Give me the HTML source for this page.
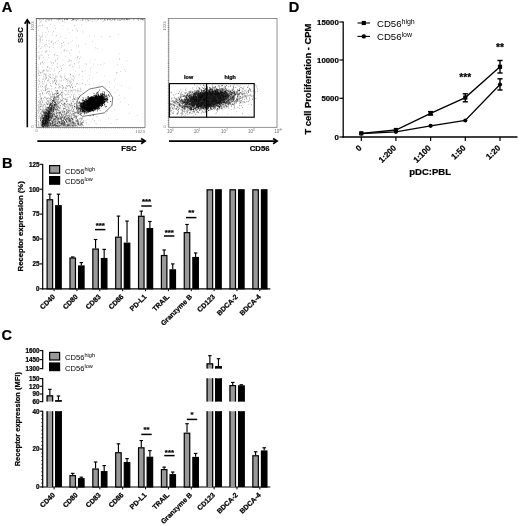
<!DOCTYPE html>
<html><head><meta charset="utf-8"><title>Figure</title>
<style>
html,body{margin:0;padding:0;background:#fff;}
svg{display:block;font-family:"Liberation Sans", Arial, sans-serif;}
</style></head>
<body>
<svg width="520" height="526" viewBox="0 0 520 526">
<rect width="520" height="526" fill="#fff"/>
<text x="1.7" y="12.2" font-size="14.6" font-weight="bold" stroke="#000" stroke-width="0.22" text-anchor="start" fill="#000">A</text>
<rect x="36.60" y="18.60" width="108.40" height="108.80" fill="none" stroke="#6e6e6e" stroke-width="0.75"/>
<line x1="36.1" y1="18.6" x2="36.1" y2="127.4" stroke="#6a6a6a" stroke-width="1.2" stroke-dasharray="0.55 1.57"/>
<line x1="36.6" y1="127.9" x2="145.0" y2="127.9" stroke="#6a6a6a" stroke-width="1.2" stroke-dasharray="0.55 1.57"/>
<line x1="36.6" y1="18.6" x2="145.0" y2="18.6" stroke="#666" stroke-width="0.9"/>
<path d="M92.8 103.7h0.8M92.6 99.2h0.8M91.8 105.3h0.8M87.7 104.7h0.8M90.0 103.7h0.8M85.9 102.0h0.8M92.3 101.8h0.8M98.7 98.6h0.8M90.0 104.4h0.8M87.8 101.2h0.8M95.2 102.4h0.8M94.6 102.9h0.8M91.9 100.4h0.8M87.2 104.0h0.8M91.5 101.4h0.8M97.2 104.1h0.8M82.9 100.2h0.8M89.9 103.6h0.8M81.1 103.6h0.8M85.5 105.3h0.8M84.1 109.7h0.8M90.7 102.4h0.8M86.3 106.6h0.8M93.1 100.7h0.8M95.5 107.8h0.8M92.6 106.1h0.8M81.0 111.9h0.8M88.4 101.4h0.8M91.1 100.8h0.8M94.4 105.8h0.8M84.6 106.4h0.8M89.9 103.9h0.8M88.0 106.5h0.8M87.1 102.1h0.8M98.9 102.9h0.8M88.5 105.3h0.8M93.0 104.7h0.8M96.4 99.7h0.8M90.2 106.0h0.8M91.3 101.9h0.8M94.2 105.5h0.8M94.2 106.0h0.8M87.3 108.4h0.8M93.6 104.5h0.8M100.2 101.9h0.8M81.7 100.2h0.8M97.9 103.5h0.8M92.9 102.5h0.8M89.4 105.1h0.8M102.5 98.1h0.8M95.0 98.2h0.8M85.9 104.8h0.8M93.7 104.9h0.8M97.1 105.6h0.8M91.0 102.3h0.8M95.1 99.6h0.8M93.9 107.1h0.8M95.0 99.7h0.8M102.2 105.2h0.8M89.2 105.1h0.8M92.7 100.8h0.8M91.3 106.9h0.8M95.1 107.3h0.8M85.0 102.6h0.8M91.3 108.6h0.8M91.3 103.2h0.8M98.8 105.0h0.8M98.0 99.9h0.8M84.1 102.5h0.8M89.1 106.4h0.8M96.9 104.2h0.8M84.7 113.1h0.8M92.1 108.7h0.8M92.9 105.3h0.8M98.8 100.0h0.8M95.6 100.5h0.8M90.6 103.4h0.8M89.8 102.2h0.8M91.0 103.3h0.8M97.6 93.7h0.8M90.6 104.8h0.8M91.0 104.0h0.8M97.2 108.9h0.8M92.8 105.5h0.8M91.1 102.7h0.8M87.5 107.3h0.8M91.2 100.4h0.8M89.7 102.9h0.8M96.5 96.1h0.8M97.5 105.5h0.8M93.1 104.9h0.8M94.7 99.0h0.8M90.8 104.0h0.8M99.0 103.3h0.8M93.1 104.6h0.8M96.0 103.0h0.8M85.1 104.2h0.8M93.7 101.0h0.8M84.1 107.5h0.8M83.2 110.3h0.8M90.1 102.0h0.8M86.8 102.7h0.8M94.7 105.8h0.8M103.1 96.0h0.8M89.5 108.0h0.8M89.7 105.4h0.8M94.6 105.1h0.8M97.0 106.6h0.8M92.5 105.5h0.8M92.4 105.8h0.8M95.2 99.5h0.8M94.5 100.5h0.8M88.0 107.3h0.8M93.9 107.4h0.8M94.3 106.8h0.8M89.7 111.5h0.8M94.3 103.6h0.8M88.4 105.9h0.8M98.7 103.7h0.8M93.6 103.0h0.8M93.0 103.0h0.8M88.4 102.2h0.8M93.1 106.1h0.8M81.2 105.3h0.8M87.4 107.2h0.8M92.9 99.1h0.8M82.9 111.0h0.8M95.8 98.9h0.8M84.6 109.5h0.8M94.7 97.8h0.8M87.8 104.2h0.8M97.9 104.5h0.8M92.4 101.1h0.8M84.8 107.1h0.8M98.5 99.4h0.8M97.4 94.4h0.8M92.6 104.3h0.8M91.7 105.1h0.8M90.6 101.0h0.8M88.2 107.0h0.8M97.3 98.9h0.8M88.7 102.2h0.8M92.3 103.5h0.8M87.8 103.5h0.8M91.9 110.5h0.8M84.4 102.5h0.8M99.8 102.4h0.8M92.9 106.2h0.8M95.4 96.3h0.8M90.8 99.1h0.8M89.7 106.4h0.8M90.4 103.0h0.8M90.2 105.6h0.8M93.9 106.2h0.8M90.3 103.3h0.8M89.9 101.5h0.8M82.5 99.8h0.8M88.7 105.7h0.8M100.0 97.3h0.8M89.5 105.7h0.8M87.5 106.4h0.8M92.8 99.2h0.8M101.7 104.4h0.8M86.4 109.4h0.8M92.5 106.0h0.8M88.1 101.9h0.8M83.1 106.4h0.8M95.8 100.4h0.8M92.0 102.4h0.8M91.7 100.5h0.8M89.2 106.2h0.8M95.2 102.9h0.8M90.2 105.5h0.8M91.3 102.5h0.8M88.3 109.1h0.8M86.6 106.6h0.8M96.4 93.6h0.8M89.3 103.0h0.8M94.0 102.6h0.8M93.5 105.9h0.8M90.0 103.7h0.8M89.7 103.9h0.8M95.1 100.3h0.8M91.8 105.7h0.8M91.3 102.6h0.8M92.1 101.9h0.8M97.8 98.9h0.8M96.7 103.2h0.8M94.0 101.2h0.8M87.9 100.5h0.8M86.2 108.1h0.8M96.7 99.5h0.8M97.9 102.1h0.8M92.3 104.6h0.8M96.7 105.1h0.8M97.7 104.2h0.8M96.2 100.1h0.8M97.1 100.9h0.8M88.9 101.3h0.8M102.2 104.1h0.8M86.7 107.3h0.8M98.5 104.9h0.8M94.8 101.5h0.8M94.8 96.4h0.8M103.9 102.9h0.8M100.3 100.2h0.8M86.9 106.3h0.8M84.0 107.4h0.8M97.5 103.1h0.8M88.0 107.0h0.8M90.8 99.5h0.8M98.1 104.2h0.8M83.6 105.8h0.8M81.3 107.1h0.8M95.8 107.1h0.8M93.8 105.6h0.8M91.0 103.1h0.8M90.8 98.7h0.8M88.4 105.8h0.8M85.4 108.2h0.8M91.7 103.6h0.8M86.3 102.5h0.8M83.3 105.2h0.8M93.8 99.2h0.8M92.5 104.1h0.8M95.6 104.5h0.8M88.7 108.2h0.8M88.4 103.1h0.8M87.7 106.3h0.8M88.7 106.8h0.8M93.0 101.7h0.8M88.4 104.8h0.8M96.8 107.8h0.8M94.6 103.1h0.8M103.9 101.0h0.8M85.0 105.5h0.8M97.2 101.5h0.8M90.3 99.4h0.8M92.5 103.4h0.8M86.5 109.6h0.8M92.6 109.6h0.8M97.7 104.7h0.8M92.9 105.3h0.8M93.1 103.3h0.8M90.5 102.6h0.8M98.3 100.4h0.8M93.2 105.0h0.8M80.5 106.5h0.8M90.1 107.3h0.8M81.4 105.5h0.8M74.0 106.4h0.8M88.8 102.1h0.8M97.6 96.3h0.8M91.3 99.9h0.8M87.8 108.9h0.8M87.6 105.0h0.8M98.6 101.4h0.8M94.7 105.9h0.8M94.2 106.4h0.8M91.8 102.3h0.8M94.3 106.6h0.8M97.1 102.5h0.8M95.4 102.1h0.8M94.2 104.0h0.8M85.7 102.3h0.8M94.4 100.3h0.8M89.0 104.7h0.8M98.9 102.4h0.8M85.7 105.4h0.8M91.8 103.4h0.8M93.6 105.8h0.8M87.4 109.9h0.8M102.3 101.4h0.8M101.5 103.2h0.8M89.8 103.5h0.8M96.2 100.9h0.8M94.9 103.3h0.8M78.9 108.6h0.8M93.3 101.6h0.8M94.1 107.6h0.8M92.8 102.7h0.8M86.0 103.5h0.8M91.8 105.2h0.8M93.7 108.3h0.8M98.8 100.9h0.8M95.7 105.7h0.8M92.1 102.3h0.8M99.9 98.7h0.8M89.0 103.0h0.8M90.5 103.9h0.8M85.3 112.1h0.8M99.4 97.0h0.8M99.3 105.2h0.8M96.2 98.8h0.8M95.8 101.3h0.8M94.1 105.2h0.8M94.4 104.5h0.8M91.6 104.7h0.8M89.7 99.8h0.8M93.3 104.2h0.8M99.2 97.4h0.8M98.3 108.5h0.8M92.1 103.0h0.8M89.8 105.2h0.8M88.1 102.0h0.8M100.3 98.6h0.8M93.8 99.1h0.8M94.0 105.7h0.8M90.5 103.5h0.8M87.5 107.3h0.8M91.5 101.9h0.8M96.5 100.2h0.8M92.0 107.5h0.8M90.4 101.5h0.8M89.5 99.5h0.8M93.6 104.2h0.8M83.2 104.2h0.8M90.9 102.9h0.8M89.2 107.6h0.8M96.2 99.4h0.8M89.6 107.3h0.8M94.8 100.4h0.8M102.0 103.6h0.8M92.5 107.4h0.8M89.0 103.6h0.8M93.3 102.4h0.8M91.7 101.4h0.8M87.7 106.2h0.8M96.2 105.2h0.8M101.3 95.2h0.8M92.3 106.3h0.8M90.1 100.6h0.8M86.3 103.7h0.8M92.3 98.3h0.8M88.5 111.4h0.8M87.0 106.1h0.8M99.4 101.1h0.8M87.2 103.8h0.8M99.3 103.6h0.8M98.1 94.7h0.8M94.0 102.9h0.8M97.9 107.6h0.8M102.2 98.0h0.8M91.6 103.9h0.8M90.3 106.4h0.8M84.8 104.5h0.8M92.8 103.4h0.8M101.2 102.4h0.8M97.7 101.7h0.8M88.2 106.5h0.8M87.8 104.5h0.8M90.4 105.3h0.8M94.2 102.9h0.8M93.1 107.5h0.8M94.5 104.7h0.8M93.9 102.1h0.8M88.4 98.0h0.8M93.2 105.3h0.8M94.5 104.8h0.8M91.2 101.3h0.8M93.0 97.3h0.8M100.9 96.3h0.8M96.6 104.3h0.8M91.7 100.6h0.8M83.5 106.1h0.8M94.8 103.1h0.8M84.0 110.9h0.8M85.4 106.6h0.8M96.9 101.2h0.8M95.6 100.4h0.8M93.6 107.8h0.8M85.0 109.9h0.8M90.6 104.0h0.8M87.6 101.5h0.8M95.0 100.0h0.8M104.8 99.7h0.8M92.9 101.1h0.8M89.6 107.4h0.8M87.0 107.0h0.8M92.6 104.2h0.8M92.4 105.4h0.8M87.3 107.3h0.8M92.3 101.0h0.8M86.4 105.2h0.8M100.9 106.6h0.8M96.7 98.0h0.8M97.6 99.8h0.8M91.3 107.1h0.8M95.1 101.8h0.8M91.0 101.7h0.8M89.2 101.0h0.8M91.5 105.5h0.8M87.1 108.9h0.8M86.8 110.1h0.8M96.7 101.7h0.8M92.8 106.4h0.8M92.6 100.4h0.8M97.9 101.5h0.8M83.0 105.7h0.8M88.8 105.6h0.8M94.3 104.9h0.8M95.8 105.1h0.8M89.6 101.8h0.8M99.3 104.2h0.8M93.2 101.8h0.8M85.3 103.6h0.8M87.7 105.1h0.8M95.1 98.0h0.8M95.0 102.4h0.8M83.2 108.4h0.8M99.3 99.8h0.8M96.2 103.4h0.8M99.1 99.6h0.8M90.6 104.3h0.8M89.5 100.5h0.8M86.9 106.1h0.8M104.6 95.5h0.8M91.2 102.7h0.8M100.6 99.6h0.8M89.5 105.3h0.8M91.6 99.0h0.8M82.3 103.4h0.8M90.3 103.5h0.8M98.2 102.3h0.8M86.6 107.1h0.8M99.1 103.2h0.8M95.8 105.8h0.8M87.8 107.0h0.8M90.0 104.5h0.8M89.1 101.9h0.8M91.3 101.2h0.8M89.3 103.5h0.8M88.7 105.9h0.8M91.3 104.6h0.8M87.4 105.7h0.8M85.8 106.0h0.8M93.0 105.1h0.8M97.3 101.9h0.8M85.1 107.6h0.8M93.0 104.2h0.8M88.7 103.5h0.8M86.5 103.1h0.8M97.5 102.7h0.8M90.4 105.6h0.8M100.0 99.4h0.8M88.2 104.2h0.8M97.1 108.1h0.8M90.6 102.0h0.8M88.5 104.6h0.8M95.9 102.7h0.8M90.5 100.9h0.8M95.8 102.3h0.8M94.3 107.9h0.8M88.1 108.2h0.8M92.8 105.2h0.8M93.5 104.7h0.8M97.6 101.5h0.8M89.0 107.8h0.8M92.2 103.1h0.8M83.3 106.3h0.8M96.0 102.2h0.8M88.1 108.1h0.8M83.7 108.3h0.8M93.0 105.2h0.8M96.0 95.9h0.8M86.1 109.8h0.8M89.6 111.7h0.8M90.3 108.4h0.8M86.5 105.2h0.8M93.6 100.4h0.8M88.8 105.9h0.8M87.8 102.6h0.8M96.4 103.9h0.8M88.2 103.8h0.8M95.9 104.8h0.8M89.1 109.0h0.8M84.2 101.1h0.8M83.5 108.3h0.8M101.4 97.4h0.8M89.4 100.7h0.8M93.2 101.3h0.8M92.2 102.9h0.8M94.6 105.6h0.8M91.2 99.5h0.8M103.5 101.6h0.8M89.5 110.7h0.8M85.3 108.4h0.8M88.0 107.1h0.8M85.8 106.4h0.8M95.1 98.8h0.8M97.4 102.9h0.8M88.1 106.5h0.8M86.3 108.4h0.8M93.6 110.5h0.8M100.5 102.0h0.8M78.6 110.9h0.8M97.0 106.1h0.8M85.6 102.5h0.8M96.7 98.2h0.8M86.7 104.9h0.8M90.4 102.4h0.8M85.7 108.5h0.8M87.3 104.8h0.8M101.6 104.5h0.8M98.5 105.3h0.8M91.4 106.2h0.8M87.7 104.4h0.8M83.6 109.2h0.8M91.5 106.3h0.8M91.3 100.8h0.8M92.6 104.5h0.8M92.9 105.4h0.8M87.1 106.5h0.8M94.0 107.4h0.8M93.7 106.5h0.8M98.3 98.4h0.8M102.3 99.5h0.8M91.0 101.7h0.8M89.3 106.6h0.8M91.3 101.4h0.8M90.5 107.1h0.8M89.2 106.0h0.8M93.4 105.9h0.8M87.1 105.4h0.8M94.1 98.4h0.8M94.0 108.0h0.8M93.7 102.4h0.8M93.2 107.2h0.8M89.4 106.1h0.8M88.5 107.2h0.8M93.4 108.5h0.8M90.2 105.5h0.8M95.3 106.3h0.8M90.9 99.7h0.8M86.6 108.7h0.8M92.7 102.7h0.8M85.6 106.1h0.8M89.5 104.8h0.8M91.5 104.9h0.8M83.8 112.2h0.8M91.0 98.6h0.8M93.4 103.2h0.8M91.0 102.0h0.8M91.7 107.2h0.8M90.2 103.2h0.8M88.1 106.8h0.8M90.8 103.0h0.8M90.5 106.3h0.8M94.2 105.7h0.8M86.0 105.2h0.8M93.9 103.0h0.8M91.8 99.6h0.8M92.2 104.5h0.8M91.3 106.5h0.8M94.8 100.8h0.8M85.3 110.0h0.8M92.7 97.2h0.8M91.8 98.3h0.8M92.5 99.3h0.8M94.0 101.3h0.8M89.3 104.9h0.8M91.2 103.8h0.8M95.8 101.8h0.8M95.6 104.2h0.8M93.1 101.8h0.8M83.5 103.7h0.8M94.0 99.1h0.8M100.9 105.9h0.8M95.2 95.3h0.8M93.6 102.4h0.8M86.2 110.5h0.8M98.0 102.4h0.8M90.9 101.7h0.8M79.6 109.2h0.8M95.5 104.7h0.8M86.3 109.8h0.8M85.0 104.1h0.8M90.2 106.7h0.8M99.4 101.1h0.8M91.9 107.0h0.8M95.5 106.2h0.8M101.2 98.6h0.8M99.2 96.2h0.8M92.5 104.6h0.8M93.3 108.3h0.8M86.9 108.0h0.8M89.3 105.5h0.8M97.4 108.4h0.8M93.5 99.9h0.8M94.2 105.4h0.8M97.1 99.7h0.8M88.7 105.3h0.8M92.4 103.7h0.8M98.0 105.5h0.8M94.6 99.8h0.8M97.5 99.6h0.8M92.9 98.6h0.8M91.6 105.3h0.8M93.9 101.4h0.8M87.9 106.7h0.8M83.0 104.5h0.8M95.2 101.2h0.8M93.5 106.1h0.8M94.0 102.3h0.8M84.6 108.8h0.8M91.3 105.5h0.8M89.1 103.9h0.8M86.5 101.5h0.8M82.1 111.0h0.8M91.1 104.6h0.8M98.3 103.8h0.8M92.3 97.6h0.8M87.7 100.7h0.8M90.2 98.1h0.8M95.5 99.5h0.8M79.6 112.3h0.8M92.6 105.1h0.8M95.3 102.1h0.8M96.2 102.2h0.8M102.1 101.4h0.8M98.1 100.1h0.8M94.6 103.7h0.8M94.3 103.1h0.8M94.2 96.2h0.8M89.4 103.7h0.8M93.9 106.8h0.8M96.8 100.4h0.8M102.5 98.6h0.8M91.1 102.3h0.8M91.8 102.3h0.8M94.8 105.7h0.8M99.2 99.7h0.8M91.3 100.9h0.8M96.7 92.4h0.8M87.0 104.2h0.8M89.5 99.0h0.8M89.6 99.4h0.8M97.5 103.6h0.8M98.7 102.8h0.8M82.8 102.1h0.8M88.9 107.6h0.8M94.8 103.8h0.8M88.4 103.0h0.8M85.6 108.7h0.8M96.1 97.0h0.8M93.8 99.3h0.8M93.5 98.7h0.8M88.9 101.7h0.8M98.8 103.2h0.8M89.9 100.7h0.8M96.9 98.1h0.8M86.9 103.1h0.8M88.4 105.8h0.8M93.3 102.1h0.8M90.0 107.1h0.8M95.3 100.1h0.8M92.5 99.6h0.8M87.3 104.3h0.8M93.0 103.3h0.8M89.8 101.9h0.8M97.6 102.0h0.8M91.4 109.3h0.8M89.7 102.9h0.8M98.8 100.7h0.8M105.5 101.6h0.8M102.1 97.2h0.8M92.0 101.1h0.8M92.5 100.2h0.8M100.9 100.9h0.8M92.5 104.9h0.8M87.4 105.2h0.8M93.2 103.2h0.8M96.3 105.5h0.8M89.3 107.4h0.8M82.6 103.6h0.8M85.2 106.6h0.8M96.1 102.1h0.8M89.5 106.8h0.8M91.6 103.1h0.8M93.0 101.3h0.8M95.2 100.8h0.8M88.9 99.7h0.8M95.1 102.1h0.8M87.4 103.9h0.8M91.2 105.3h0.8M86.2 103.1h0.8M97.9 99.7h0.8M91.4 101.0h0.8M87.6 102.4h0.8M91.5 105.8h0.8M90.9 102.7h0.8M96.6 102.8h0.8M83.2 104.2h0.8M87.4 105.9h0.8M88.8 100.0h0.8M105.0 96.4h0.8M96.9 99.9h0.8M92.6 105.0h0.8M96.4 102.1h0.8M102.9 98.2h0.8M92.3 105.9h0.8M90.9 104.6h0.8M99.3 101.9h0.8M95.9 104.1h0.8M95.9 101.6h0.8M89.6 103.7h0.8M102.8 99.7h0.8M100.8 98.4h0.8M95.9 103.0h0.8M97.3 104.5h0.8M83.1 110.0h0.8M95.4 100.9h0.8M90.1 100.6h0.8M94.7 102.2h0.8M95.9 101.4h0.8M92.0 106.8h0.8M83.5 106.2h0.8M94.2 101.9h0.8M89.6 106.8h0.8M90.3 102.9h0.8M89.3 104.3h0.8M92.7 108.3h0.8M82.4 112.2h0.8M99.5 102.1h0.8M94.1 103.4h0.8M97.2 98.4h0.8M103.3 100.1h0.8M92.7 103.4h0.8M83.6 107.9h0.8M87.4 104.0h0.8M86.4 106.0h0.8M89.8 104.0h0.8M93.3 103.9h0.8M83.9 111.4h0.8M94.7 103.4h0.8M83.0 102.6h0.8M93.0 100.2h0.8M90.3 99.6h0.8M90.1 102.0h0.8M92.8 104.8h0.8M90.2 105.5h0.8M88.8 103.2h0.8M84.2 107.8h0.8M91.6 101.5h0.8M100.4 95.6h0.8M101.1 95.3h0.8M98.4 98.2h0.8M97.7 105.2h0.8M87.6 101.5h0.8M101.3 103.1h0.8M93.7 106.7h0.8M92.0 103.0h0.8M91.0 103.8h0.8M92.3 101.6h0.8M90.3 104.2h0.8M92.8 105.1h0.8M87.0 105.8h0.8M91.7 106.6h0.8M105.5 101.0h0.8M92.6 104.3h0.8M91.7 104.6h0.8M95.2 101.9h0.8M96.5 102.5h0.8M85.6 103.1h0.8M91.9 104.7h0.8M97.5 101.7h0.8M93.0 100.5h0.8M95.5 108.3h0.8M99.4 97.3h0.8M88.1 102.7h0.8M93.3 103.8h0.8M87.8 99.7h0.8M99.3 97.9h0.8M80.9 104.0h0.8M88.1 102.4h0.8M89.7 104.1h0.8M96.3 102.5h0.8M96.9 104.6h0.8M100.6 102.1h0.8M85.8 109.8h0.8M97.0 103.0h0.8M90.5 102.8h0.8M90.4 107.5h0.8M94.8 100.8h0.8M87.2 103.9h0.8M83.6 111.8h0.8M91.5 106.1h0.8M85.1 107.2h0.8M90.0 106.6h0.8M95.4 104.6h0.8M92.6 99.2h0.8M100.6 99.4h0.8M90.2 100.8h0.8M84.8 107.1h0.8M87.9 103.3h0.8M89.3 108.7h0.8M86.9 107.3h0.8M93.9 100.3h0.8M89.2 104.7h0.8M81.1 104.8h0.8M96.1 101.8h0.8M92.6 104.9h0.8M94.7 103.1h0.8M91.0 98.3h0.8M95.4 101.0h0.8M93.3 104.4h0.8M99.2 101.2h0.8M96.0 105.2h0.8M93.1 99.2h0.8M95.2 103.6h0.8M84.4 105.0h0.8M91.9 104.1h0.8M91.7 104.9h0.8M94.4 104.5h0.8M85.0 104.9h0.8M101.1 100.0h0.8M91.8 100.1h0.8M84.8 102.5h0.8M84.4 108.5h0.8M91.0 103.8h0.8M90.3 99.5h0.8M87.9 102.8h0.8M93.0 103.1h0.8M91.0 108.6h0.8M96.5 104.6h0.8M89.7 106.9h0.8M90.4 98.9h0.8M97.4 100.8h0.8M106.2 98.6h0.8M87.8 106.5h0.8M90.6 105.3h0.8M88.0 104.6h0.8M98.5 105.8h0.8M88.3 109.5h0.8M90.0 104.1h0.8M91.3 100.9h0.8M89.8 110.5h0.8M87.0 104.1h0.8M91.4 107.3h0.8M83.9 112.7h0.8M84.1 104.2h0.8M90.7 104.9h0.8M92.9 102.1h0.8M92.2 104.9h0.8M83.8 108.1h0.8M92.3 109.1h0.8M97.3 102.9h0.8M95.4 102.0h0.8M93.4 106.2h0.8M87.7 104.6h0.8M95.4 100.9h0.8M92.0 110.1h0.8M85.7 103.9h0.8M87.9 103.9h0.8M100.0 100.1h0.8M92.5 100.1h0.8M96.2 95.4h0.8M91.2 107.0h0.8M96.5 99.2h0.8M88.9 103.3h0.8M91.3 102.7h0.8M104.2 95.2h0.8M95.3 98.9h0.8M90.1 104.8h0.8M94.7 109.4h0.8M95.0 104.3h0.8M99.5 102.3h0.8M88.4 100.7h0.8M83.6 107.2h0.8M89.8 101.0h0.8M93.5 105.1h0.8M92.8 102.4h0.8M99.3 100.3h0.8M94.1 102.3h0.8M96.1 100.0h0.8M85.2 102.0h0.8M97.6 102.7h0.8M101.7 95.1h0.8M95.2 98.6h0.8M93.5 101.9h0.8M92.5 101.2h0.8M102.0 99.8h0.8M88.9 107.9h0.8M92.2 104.1h0.8M95.1 102.7h0.8M96.4 101.6h0.8M91.2 106.4h0.8M92.1 98.0h0.8M91.5 104.8h0.8M92.1 100.7h0.8M90.5 100.5h0.8M86.7 105.9h0.8M92.0 102.3h0.8M97.7 102.7h0.8M88.8 108.2h0.8M88.7 98.1h0.8M95.9 101.6h0.8M89.2 110.5h0.8M94.4 105.0h0.8M88.7 109.2h0.8M98.5 100.9h0.8M102.8 94.4h0.8M101.6 95.9h0.8M92.2 105.5h0.8M97.4 103.9h0.8M92.4 101.2h0.8M92.8 102.4h0.8M100.7 100.4h0.8M83.9 101.9h0.8M97.5 100.0h0.8M94.1 107.4h0.8M102.1 105.4h0.8M93.4 102.6h0.8M91.1 109.3h0.8M93.4 101.3h0.8M95.4 99.6h0.8M90.3 97.7h0.8M96.1 104.5h0.8M89.5 103.5h0.8M84.2 113.9h0.8M97.5 102.0h0.8M96.3 102.1h0.8M91.3 98.5h0.8M94.5 106.8h0.8M97.4 100.0h0.8M90.0 103.9h0.8M86.5 99.4h0.8M92.6 106.0h0.8M99.7 103.0h0.8M84.8 104.9h0.8M98.7 100.8h0.8M89.7 105.7h0.8M88.0 108.1h0.8M99.1 100.6h0.8M93.9 107.7h0.8M85.6 105.6h0.8M90.0 102.6h0.8M96.8 100.0h0.8M95.8 94.3h0.8M89.5 102.2h0.8M95.7 104.8h0.8M96.5 102.3h0.8M88.3 102.7h0.8M94.7 103.3h0.8M90.2 98.4h0.8M89.5 103.8h0.8M90.6 105.7h0.8M93.6 104.8h0.8M91.8 101.3h0.8M90.6 106.8h0.8M92.4 108.8h0.8M97.8 99.7h0.8M94.4 104.6h0.8M95.4 97.4h0.8M96.5 95.7h0.8M96.2 103.4h0.8M104.2 98.2h0.8M88.5 105.6h0.8M96.0 100.0h0.8M90.6 103.3h0.8M102.9 101.0h0.8M103.1 103.6h0.8M82.3 107.2h0.8M85.8 101.4h0.8M97.3 104.9h0.8M97.2 103.0h0.8M97.1 103.3h0.8M92.4 103.9h0.8M97.4 108.0h0.8M96.0 102.0h0.8M92.7 104.7h0.8M95.8 96.4h0.8M80.3 107.0h0.8M95.0 100.1h0.8M87.2 105.6h0.8M97.8 101.9h0.8M90.6 101.9h0.8M89.9 109.6h0.8M93.3 99.8h0.8M87.4 104.2h0.8M88.1 105.9h0.8M83.2 103.8h0.8M93.0 104.7h0.8M95.8 103.7h0.8M97.5 100.2h0.8M93.9 108.3h0.8M98.0 101.1h0.8M92.9 103.9h0.8M91.0 101.1h0.8M93.6 97.8h0.8M97.3 99.3h0.8M90.4 103.3h0.8M90.8 102.7h0.8M92.6 105.5h0.8M90.3 97.2h0.8M86.7 102.5h0.8M95.8 96.4h0.8M92.0 107.5h0.8M94.3 100.8h0.8M87.8 103.9h0.8M93.2 99.7h0.8M95.5 104.6h0.8M89.9 103.2h0.8M103.1 99.2h0.8M92.2 97.4h0.8M102.9 102.1h0.8M97.9 102.1h0.8M89.8 106.1h0.8M91.9 107.2h0.8M94.6 101.8h0.8M92.7 102.7h0.8M93.6 104.9h0.8M91.6 105.0h0.8M83.0 106.8h0.8M91.4 103.9h0.8M80.6 107.1h0.8M95.2 104.2h0.8M89.9 107.2h0.8M88.9 104.9h0.8M93.5 108.4h0.8M92.2 98.9h0.8M85.0 106.0h0.8M85.5 111.5h0.8M86.6 104.7h0.8M80.3 104.0h0.8M89.1 108.9h0.8M101.3 101.0h0.8M85.8 102.7h0.8M96.7 103.7h0.8M84.4 103.9h0.8M92.6 99.3h0.8M90.7 103.6h0.8M91.7 102.2h0.8M94.2 99.3h0.8M101.1 98.4h0.8M92.4 100.4h0.8M93.2 103.1h0.8M87.5 105.4h0.8M96.4 103.8h0.8M90.8 102.7h0.8M95.3 98.1h0.8M90.9 100.1h0.8M101.2 98.7h0.8M84.1 111.6h0.8M92.0 106.1h0.8M96.4 99.7h0.8M91.8 106.4h0.8M87.2 102.2h0.8M92.3 106.4h0.8M85.1 105.5h0.8M94.0 104.9h0.8M105.7 99.3h0.8M98.1 100.0h0.8M87.2 106.6h0.8M86.9 102.6h0.8M90.4 104.0h0.8M98.9 103.7h0.8M92.9 115.3h0.8M89.8 106.6h0.8M97.2 101.5h0.8M95.9 98.8h0.8M91.8 106.8h0.8M85.0 101.7h0.8M83.7 104.8h0.8M89.4 105.8h0.8M79.8 105.4h0.8M98.1 105.4h0.8M90.5 107.4h0.8M94.4 100.8h0.8M101.5 97.7h0.8M97.1 97.4h0.8M85.1 102.4h0.8M97.5 102.4h0.8M99.2 102.2h0.8M89.1 105.9h0.8M88.0 106.1h0.8M91.4 102.1h0.8M84.8 107.8h0.8M98.5 96.3h0.8M80.3 108.8h0.8M88.5 109.5h0.8M92.6 107.2h0.8M90.9 102.7h0.8M93.0 102.1h0.8M95.5 106.1h0.8M93.4 108.2h0.8M96.7 97.0h0.8M81.1 107.1h0.8M92.8 103.9h0.8M90.2 107.9h0.8M92.3 100.9h0.8M94.4 104.4h0.8M87.6 104.6h0.8M91.9 110.6h0.8M97.1 102.5h0.8M94.2 102.2h0.8M88.7 104.0h0.8M104.1 101.3h0.8M105.1 99.7h0.8M83.9 103.9h0.8M94.3 103.1h0.8M103.9 94.3h0.8M95.7 99.6h0.8M92.3 99.6h0.8M90.0 100.5h0.8M89.0 102.8h0.8M90.4 101.3h0.8M90.3 105.9h0.8M97.2 103.6h0.8M90.3 103.6h0.8M89.1 101.5h0.8M87.3 108.0h0.8M90.1 98.4h0.8M85.8 100.5h0.8M92.4 105.5h0.8M98.6 102.5h0.8M95.5 104.9h0.8M94.9 101.6h0.8M93.0 99.4h0.8M92.3 101.9h0.8M92.5 105.0h0.8M90.1 102.1h0.8M95.7 99.8h0.8M85.5 102.3h0.8M98.1 97.4h0.8M93.7 105.3h0.8M89.2 106.1h0.8M88.8 101.5h0.8M87.9 102.2h0.8M92.8 101.5h0.8M89.5 106.3h0.8M97.1 97.8h0.8M88.4 104.7h0.8M78.6 103.2h0.8M87.4 101.8h0.8M82.7 108.9h0.8M93.3 105.6h0.8M96.7 98.0h0.8M95.0 99.9h0.8M86.6 108.3h0.8M88.2 104.1h0.8M101.1 97.9h0.8M94.8 103.9h0.8M92.8 103.8h0.8M99.2 103.6h0.8M106.0 99.7h0.8M98.5 98.9h0.8M93.1 102.7h0.8M94.3 102.3h0.8M94.2 98.5h0.8M88.3 102.3h0.8M88.2 108.1h0.8M91.1 99.2h0.8M88.8 107.9h0.8M92.6 104.1h0.8M92.9 102.7h0.8M105.1 99.3h0.8M88.7 106.4h0.8M93.3 106.6h0.8M91.3 102.7h0.8M94.5 101.7h0.8M97.6 100.3h0.8M92.1 109.1h0.8M89.4 107.5h0.8M83.1 104.7h0.8M87.4 104.6h0.8M94.5 100.3h0.8M92.8 103.2h0.8M87.6 106.1h0.8M93.2 109.8h0.8M90.7 98.7h0.8M96.3 104.7h0.8M90.0 105.7h0.8M90.5 102.1h0.8M83.1 107.1h0.8M86.1 104.7h0.8M100.9 99.7h0.8M82.5 110.8h0.8M89.2 100.3h0.8M95.1 106.1h0.8M90.2 103.2h0.8M90.1 108.9h0.8M92.7 104.5h0.8M93.9 106.4h0.8M92.8 104.9h0.8M84.1 110.3h0.8M91.9 103.8h0.8M87.3 103.2h0.8M90.5 106.2h0.8M94.5 104.6h0.8M98.1 107.0h0.8M94.9 96.3h0.8M89.8 104.0h0.8M98.5 103.8h0.8M97.2 97.5h0.8M98.1 100.2h0.8M102.0 105.4h0.8M93.4 107.2h0.8M90.7 101.5h0.8M98.4 105.0h0.8M86.9 109.4h0.8M94.5 104.8h0.8M90.3 105.5h0.8M90.9 104.7h0.8M82.7 105.1h0.8M87.4 104.1h0.8M93.3 105.2h0.8M97.3 101.6h0.8M99.7 105.6h0.8M91.8 102.7h0.8M89.0 97.8h0.8M87.9 104.4h0.8M94.9 103.1h0.8M91.7 104.8h0.8M95.7 102.1h0.8M100.6 97.3h0.8M94.0 107.1h0.8M84.2 105.1h0.8M88.9 107.0h0.8M84.8 105.9h0.8M85.1 103.1h0.8M100.8 103.9h0.8M91.0 96.6h0.8M83.9 104.7h0.8M96.4 102.9h0.8M98.6 99.6h0.8M91.6 106.0h0.8M89.0 104.6h0.8M90.3 103.0h0.8M96.4 108.0h0.8M95.6 101.3h0.8M98.4 100.3h0.8M97.6 97.9h0.8M97.8 98.8h0.8M100.3 101.8h0.8M96.6 103.2h0.8M84.7 106.8h0.8M91.1 101.9h0.8M94.9 104.3h0.8M88.7 100.0h0.8M96.9 100.4h0.8M90.5 103.5h0.8M86.9 103.4h0.8M100.1 100.4h0.8M95.3 100.2h0.8M92.8 100.9h0.8M99.3 105.7h0.8M98.8 102.8h0.8M95.6 105.5h0.8M80.1 109.1h0.8M90.2 107.3h0.8M91.1 106.3h0.8M88.9 108.6h0.8M96.2 108.8h0.8M98.4 100.1h0.8M90.4 105.1h0.8M86.7 105.8h0.8M99.1 90.1h0.8M88.7 101.0h0.8M86.3 106.2h0.8M94.5 104.4h0.8M94.1 101.0h0.8M90.2 107.8h0.8M98.0 104.7h0.8M89.6 103.5h0.8M89.4 109.0h0.8M95.4 107.3h0.8M97.0 102.8h0.8M88.3 102.4h0.8M95.9 106.3h0.8M91.9 103.2h0.8M106.6 96.0h0.8M89.1 105.3h0.8M99.1 98.9h0.8M93.5 106.2h0.8M92.8 105.6h0.8M97.6 104.8h0.8M97.8 102.8h0.8M98.2 98.6h0.8M94.1 102.3h0.8M90.5 106.9h0.8M89.4 103.6h0.8M98.4 109.4h0.8M95.3 101.5h0.8M99.1 98.8h0.8M96.0 105.3h0.8M98.8 102.8h0.8M100.3 99.9h0.8M93.2 102.5h0.8M85.5 107.8h0.8M87.5 108.1h0.8M86.1 108.6h0.8M100.4 99.0h0.8M88.7 106.4h0.8M99.8 102.7h0.8M96.4 104.0h0.8M98.0 91.9h0.8M96.8 98.9h0.8M91.2 101.7h0.8M91.3 103.3h0.8M93.2 103.6h0.8M94.5 105.3h0.8M90.6 106.1h0.8M92.3 103.2h0.8M100.9 99.8h0.8M85.8 111.6h0.8M93.2 101.3h0.8M88.3 106.2h0.8M95.3 106.8h0.8M97.3 102.3h0.8M90.1 98.5h0.8M97.0 102.6h0.8M84.0 106.1h0.8M98.1 100.6h0.8M90.7 107.4h0.8M96.3 103.1h0.8M93.2 102.3h0.8M80.4 111.5h0.8M89.2 106.2h0.8M93.8 103.2h0.8M100.9 100.6h0.8M94.3 103.4h0.8M93.5 102.0h0.8M84.9 105.5h0.8M99.9 100.2h0.8M100.8 96.9h0.8M91.4 100.2h0.8M92.9 107.1h0.8M84.1 106.5h0.8M97.1 101.3h0.8M106.3 96.9h0.8M96.3 101.8h0.8M99.1 100.6h0.8M95.4 102.3h0.8M86.7 103.7h0.8M100.5 102.7h0.8M85.5 104.5h0.8M92.7 106.4h0.8M91.9 98.0h0.8M96.0 98.8h0.8M95.8 104.9h0.8M94.4 102.2h0.8M88.0 103.5h0.8M86.4 107.3h0.8M91.8 100.7h0.8M89.1 105.2h0.8M83.5 100.9h0.8M85.6 105.2h0.8M89.4 102.9h0.8M83.7 109.0h0.8M86.7 108.6h0.8M83.3 105.0h0.8M95.3 107.0h0.8M94.0 101.0h0.8M100.6 93.8h0.8M82.3 100.9h0.8M90.8 108.7h0.8M97.2 101.1h0.8M90.8 102.3h0.8M90.1 102.3h0.8M100.1 96.8h0.8M92.4 107.5h0.8M86.6 105.8h0.8M87.8 110.8h0.8M94.1 102.1h0.8M91.6 96.9h0.8M86.5 108.6h0.8M87.2 104.7h0.8M95.1 101.6h0.8M97.3 106.0h0.8M89.0 104.2h0.8M97.1 104.8h0.8M95.5 102.1h0.8M82.7 105.6h0.8M91.6 105.4h0.8M94.1 101.0h0.8M91.0 107.7h0.8M82.7 110.6h0.8M91.2 104.2h0.8M97.1 103.2h0.8M101.3 101.2h0.8M81.1 107.7h0.8M107.0 99.7h0.8M86.6 105.4h0.8M98.2 102.7h0.8M97.9 98.2h0.8M97.7 101.4h0.8M93.8 104.1h0.8M85.8 104.1h0.8M95.4 101.0h0.8M88.4 103.7h0.8M80.5 110.9h0.8M106.3 95.2h0.8M96.7 102.9h0.8M103.6 103.0h0.8M88.3 106.4h0.8M98.3 96.1h0.8M100.9 100.1h0.8M101.7 102.4h0.8M92.2 102.8h0.8M87.7 108.9h0.8M92.4 105.3h0.8M81.8 109.5h0.8M83.6 106.7h0.8M92.5 101.9h0.8M87.3 105.0h0.8M91.8 104.0h0.8M92.6 105.0h0.8M102.9 100.1h0.8M98.9 99.7h0.8M92.5 103.7h0.8M99.2 101.6h0.8M86.8 101.2h0.8M90.0 102.3h0.8M96.4 99.4h0.8M86.0 105.8h0.8M90.9 103.4h0.8M85.6 105.8h0.8M92.3 101.0h0.8M101.7 101.4h0.8M89.1 105.8h0.8M92.0 98.9h0.8M88.0 105.5h0.8M85.5 103.3h0.8M88.2 110.5h0.8M99.6 99.0h0.8M104.3 97.1h0.8M95.2 102.5h0.8M88.7 104.6h0.8M96.2 101.7h0.8M92.6 108.0h0.8M97.0 102.2h0.8M95.0 104.8h0.8M95.3 105.6h0.8M94.7 99.7h0.8M91.5 108.9h0.8M91.3 106.1h0.8M84.9 109.7h0.8M89.4 102.3h0.8M86.2 108.7h0.8M92.3 104.8h0.8M87.1 104.3h0.8M95.6 108.8h0.8M95.6 103.8h0.8M85.1 106.1h0.8M88.7 105.8h0.8M88.8 107.8h0.8M97.7 104.5h0.8M102.0 101.0h0.8M98.3 104.5h0.8M92.4 107.9h0.8M98.8 97.1h0.8M84.3 105.7h0.8M99.3 97.7h0.8M89.4 105.2h0.8M80.0 113.3h0.8M106.9 99.0h0.8M99.5 97.3h0.8M87.0 105.1h0.8M94.6 105.6h0.8M90.9 102.6h0.8M93.0 103.0h0.8M85.4 107.6h0.8M87.1 100.5h0.8M95.9 104.3h0.8M94.1 103.8h0.8M99.4 102.1h0.8M92.0 100.9h0.8M103.8 96.2h0.8M88.3 103.6h0.8M94.2 103.5h0.8M82.9 108.0h0.8M86.4 106.6h0.8M101.4 104.8h0.8M89.2 108.8h0.8M94.5 100.5h0.8M91.6 102.0h0.8M89.2 110.1h0.8M90.5 103.5h0.8M91.5 108.0h0.8M91.9 108.5h0.8M95.9 100.4h0.8M95.7 101.3h0.8M89.8 105.0h0.8M87.0 103.4h0.8M93.0 100.4h0.8M91.7 102.7h0.8M98.8 103.2h0.8M105.7 96.3h0.8M96.7 101.0h0.8M91.9 102.4h0.8M90.2 100.5h0.8M89.9 109.1h0.8M85.4 99.7h0.8M86.8 104.1h0.8M91.2 105.7h0.8M88.9 101.0h0.8M97.1 103.2h0.8M92.0 107.4h0.8M90.7 101.8h0.8M86.6 106.7h0.8M99.8 97.0h0.8M95.8 103.5h0.8M101.9 99.6h0.8M96.9 102.2h0.8M101.7 103.4h0.8M91.9 105.2h0.8M97.8 105.1h0.8M107.2 98.8h0.8M85.0 103.3h0.8M98.9 101.4h0.8M101.8 100.8h0.8M93.2 98.9h0.8M98.0 105.0h0.8M99.2 100.7h0.8M89.6 105.9h0.8M93.8 100.3h0.8M88.2 105.6h0.8M89.4 105.8h0.8M89.0 104.1h0.8M92.0 104.0h0.8M91.1 97.9h0.8M96.5 105.8h0.8M84.0 104.0h0.8M100.6 93.4h0.8M97.6 98.4h0.8M95.5 99.7h0.8M91.3 105.6h0.8M91.2 101.4h0.8M95.8 102.9h0.8M93.7 100.1h0.8M86.2 112.8h0.8M97.1 103.1h0.8M110.1 101.5h0.8M81.8 105.3h0.8M98.6 102.8h0.8M93.5 100.2h0.8M92.7 105.1h0.8M100.6 101.9h0.8M84.7 102.3h0.8M92.2 100.3h0.8M99.0 97.1h0.8M89.9 100.2h0.8M89.6 102.6h0.8M92.2 100.8h0.8M88.7 100.9h0.8M100.9 100.1h0.8M88.4 106.9h0.8M95.8 98.2h0.8M85.4 105.0h0.8M96.1 101.9h0.8M91.8 103.1h0.8M78.3 107.8h0.8M93.5 105.4h0.8M87.9 108.0h0.8M91.0 106.1h0.8M100.5 99.3h0.8M88.9 110.9h0.8M88.9 110.2h0.8M99.7 99.1h0.8M93.1 102.9h0.8M102.0 102.8h0.8M93.4 100.7h0.8M88.4 106.5h0.8M92.3 103.7h0.8M98.3 98.8h0.8M97.3 100.7h0.8M90.9 99.5h0.8M92.3 102.0h0.8M89.8 98.8h0.8M92.1 110.4h0.8M104.4 102.6h0.8M94.0 106.4h0.8M87.0 106.8h0.8M91.2 107.0h0.8M97.8 104.9h0.8M97.1 104.4h0.8M92.9 106.0h0.8M88.1 102.7h0.8M93.2 104.4h0.8M83.2 106.0h0.8M84.5 103.6h0.8M95.6 98.7h0.8M90.6 105.6h0.8M95.7 105.1h0.8M97.5 97.2h0.8M97.9 106.2h0.8M94.3 107.0h0.8M103.4 97.5h0.8M95.6 100.7h0.8M90.7 104.1h0.8M97.5 104.1h0.8M94.3 101.5h0.8M86.9 102.7h0.8M93.4 104.1h0.8M89.5 98.7h0.8M82.4 108.4h0.8M93.0 106.7h0.8M91.4 104.8h0.8M91.2 106.4h0.8M84.5 108.5h0.8M91.5 106.0h0.8M92.6 103.9h0.8M92.2 101.1h0.8M86.4 105.5h0.8M95.8 101.7h0.8M87.6 109.4h0.8M93.2 107.9h0.8M99.9 101.4h0.8M88.1 103.2h0.8M89.1 102.8h0.8M98.0 100.4h0.8M92.1 107.7h0.8M91.4 104.9h0.8M93.7 102.7h0.8M97.3 99.1h0.8M82.0 110.7h0.8M88.6 106.1h0.8M87.2 105.6h0.8M87.0 106.2h0.8M90.0 109.6h0.8M88.0 105.0h0.8M96.0 106.9h0.8M89.3 108.5h0.8M93.3 103.2h0.8M95.7 104.6h0.8M88.6 104.8h0.8M92.4 101.1h0.8M100.9 98.9h0.8M93.3 100.4h0.8M89.8 106.1h0.8M92.3 103.6h0.8M88.4 106.9h0.8M94.9 104.8h0.8M93.7 93.7h0.8M88.7 106.1h0.8M89.5 99.4h0.8M98.6 101.2h0.8M89.0 102.4h0.8M93.7 103.2h0.8M88.7 109.2h0.8M86.4 101.1h0.8M90.1 105.1h0.8M103.6 98.2h0.8M88.4 99.7h0.8M90.6 106.2h0.8M89.8 104.8h0.8M91.2 102.5h0.8M95.2 100.1h0.8M97.1 110.9h0.8M102.7 97.7h0.8M91.7 98.5h0.8M99.0 97.8h0.8M93.6 101.9h0.8M95.3 101.1h0.8M85.1 106.5h0.8M90.8 101.1h0.8M92.8 104.9h0.8M90.8 102.8h0.8M80.1 104.9h0.8M96.2 99.4h0.8M90.2 103.3h0.8M91.3 106.5h0.8M91.8 105.2h0.8M91.1 103.1h0.8M94.7 102.5h0.8M86.3 106.8h0.8M90.1 110.5h0.8M93.4 101.2h0.8M93.9 104.2h0.8M91.5 106.0h0.8M88.6 102.4h0.8M88.5 105.8h0.8M92.5 103.9h0.8M98.1 99.6h0.8M87.8 107.2h0.8M101.5 102.5h0.8M98.2 104.3h0.8M90.1 104.0h0.8M96.8 102.1h0.8M87.7 112.5h0.8M82.5 104.6h0.8M86.2 106.9h0.8M91.5 106.5h0.8M91.1 104.5h0.8M90.7 106.2h0.8M93.3 103.6h0.8M82.5 110.1h0.8M96.5 105.4h0.8M85.1 106.1h0.8M89.4 105.4h0.8M90.4 104.2h0.8M86.2 105.0h0.8M85.6 106.5h0.8M86.2 102.9h0.8M93.4 105.3h0.8M97.5 106.3h0.8M97.4 106.3h0.8M88.9 108.8h0.8M87.5 102.8h0.8M89.6 109.2h0.8M94.1 100.6h0.8M82.1 107.9h0.8M101.0 105.1h0.8M88.9 101.9h0.8M89.5 107.3h0.8M94.6 103.3h0.8M97.7 100.7h0.8M93.4 100.5h0.8M98.4 102.0h0.8M92.8 101.9h0.8M100.0 103.2h0.8M100.3 103.6h0.8M90.6 100.2h0.8M99.4 98.9h0.8M93.1 102.2h0.8M91.7 100.3h0.8M86.7 102.7h0.8M91.2 104.3h0.8M96.3 101.1h0.8M84.1 102.3h0.8M95.3 100.6h0.8M95.0 103.9h0.8M92.7 99.8h0.8M80.3 106.1h0.8M93.8 107.6h0.8M97.4 105.2h0.8M86.9 101.1h0.8M91.6 99.9h0.8M80.8 109.7h0.8M94.7 98.9h0.8M88.9 104.3h0.8M96.6 100.3h0.8M83.8 109.0h0.8M93.4 95.6h0.8M89.0 98.5h0.8M95.4 98.5h0.8M89.0 108.0h0.8M89.3 104.4h0.8M102.2 94.1h0.8M88.9 106.5h0.8M89.8 106.8h0.8M90.9 103.4h0.8M87.0 104.9h0.8M99.2 101.8h0.8M102.8 102.5h0.8M89.2 105.4h0.8M84.4 108.6h0.8M98.5 100.6h0.8M97.9 99.9h0.8M95.8 99.3h0.8M98.8 101.4h0.8M87.8 104.6h0.8M91.5 103.2h0.8M86.5 108.8h0.8M85.9 107.8h0.8M98.6 103.3h0.8M87.4 101.0h0.8M104.9 99.6h0.8M92.3 101.8h0.8M88.4 102.9h0.8M95.7 99.5h0.8M103.1 102.3h0.8M96.0 104.3h0.8M85.6 104.4h0.8M93.2 99.7h0.8M99.7 100.3h0.8M89.6 103.4h0.8M90.5 109.3h0.8M96.2 97.5h0.8M91.3 98.6h0.8M86.7 105.3h0.8M90.7 104.3h0.8M88.9 105.4h0.8M94.9 104.6h0.8M95.4 108.3h0.8M98.1 99.9h0.8M95.6 100.4h0.8M82.7 102.6h0.8M94.9 103.1h0.8M98.1 103.5h0.8M94.6 101.7h0.8M99.2 104.0h0.8M89.8 104.7h0.8M89.4 109.3h0.8M97.7 102.1h0.8M86.0 103.2h0.8M80.9 106.7h0.8M96.2 97.3h0.8M87.0 100.8h0.8M91.3 104.8h0.8M86.4 108.7h0.8M88.0 111.2h0.8M86.6 105.9h0.8M90.5 103.6h0.8M93.3 99.8h0.8M81.9 111.1h0.8M96.9 102.6h0.8M85.9 104.6h0.8M87.9 107.5h0.8M96.7 103.2h0.8M90.2 99.0h0.8M85.6 108.7h0.8M102.2 99.5h0.8M87.8 104.4h0.8M93.4 101.8h0.8M95.5 107.3h0.8M101.5 104.0h0.8M92.3 108.9h0.8M96.5 98.3h0.8M88.1 103.5h0.8M99.3 103.1h0.8M87.4 102.2h0.8M90.0 102.4h0.8M100.3 94.6h0.8M96.3 107.2h0.8M94.3 105.8h0.8M104.6 99.4h0.8M94.7 103.1h0.8M88.0 104.2h0.8M95.9 100.7h0.8M87.2 107.6h0.8M97.6 99.1h0.8M100.1 103.7h0.8M89.1 103.5h0.8M88.4 102.7h0.8M94.9 106.2h0.8M92.5 103.0h0.8M88.2 107.0h0.8M95.1 101.1h0.8M79.7 102.5h0.8M91.0 105.7h0.8M89.1 101.0h0.8M92.4 106.7h0.8M92.5 98.9h0.8M84.3 101.6h0.8M95.9 102.8h0.8M92.1 104.9h0.8M89.4 105.1h0.8M84.3 103.5h0.8M87.5 108.3h0.8M92.8 99.0h0.8M87.2 104.5h0.8M92.1 101.3h0.8M97.6 100.0h0.8M98.8 103.2h0.8M99.9 98.3h0.8M91.7 105.5h0.8M87.8 107.6h0.8M95.9 96.9h0.8M92.9 99.8h0.8M97.9 99.9h0.8M92.0 101.9h0.8M99.1 101.4h0.8M94.8 96.7h0.8M97.1 103.5h0.8M96.0 104.1h0.8M94.4 102.1h0.8M92.3 99.5h0.8M93.8 102.9h0.8M97.1 99.8h0.8M90.6 106.0h0.8M101.4 99.2h0.8M92.9 105.4h0.8M97.2 100.1h0.8M93.7 107.2h0.8M88.8 98.3h0.8M101.9 96.3h0.8M91.6 105.3h0.8M84.4 102.6h0.8M89.8 106.8h0.8M89.6 101.1h0.8M103.7 98.7h0.8M92.7 100.7h0.8M96.9 100.2h0.8M87.7 106.1h0.8M94.3 102.3h0.8M95.6 100.9h0.8M104.2 104.6h0.8M89.0 105.0h0.8M94.6 99.6h0.8M95.2 105.0h0.8M88.3 107.8h0.8M93.8 106.5h0.8M93.2 108.4h0.8M79.7 106.4h0.8M96.8 104.6h0.8M96.6 105.0h0.8M90.4 104.4h0.8M86.0 107.1h0.8M96.9 92.6h0.8M93.3 101.4h0.8M99.8 105.5h0.8M97.9 95.8h0.8M89.3 103.3h0.8M97.1 102.3h0.8M92.0 105.4h0.8M94.1 107.6h0.8M90.2 99.2h0.8M92.6 103.5h0.8M99.2 103.0h0.8M91.8 99.9h0.8M91.8 103.7h0.8M93.3 108.7h0.8M95.8 105.9h0.8M88.6 106.8h0.8M87.2 98.1h0.8M92.2 103.2h0.8M90.1 105.6h0.8M91.7 102.9h0.8M89.4 104.6h0.8M106.2 106.4h0.8M99.2 99.8h0.8M93.8 100.0h0.8M92.6 104.1h0.8M103.5 97.6h0.8M93.9 101.9h0.8M92.1 103.4h0.8M95.0 104.6h0.8M94.4 103.3h0.8M98.5 97.2h0.8M92.4 103.1h0.8M103.9 99.8h0.8M87.6 104.3h0.8M97.4 104.7h0.8M88.3 107.6h0.8M100.8 96.8h0.8M91.3 104.9h0.8M94.5 108.4h0.8M99.0 105.1h0.8M99.0 100.4h0.8M87.9 108.1h0.8M90.1 102.5h0.8M83.9 103.0h0.8M93.9 104.5h0.8M92.4 104.2h0.8M91.4 105.5h0.8M89.1 104.9h0.8M91.0 105.1h0.8M88.2 103.8h0.8M95.8 103.4h0.8M101.3 102.0h0.8M82.7 107.7h0.8M92.9 105.7h0.8M88.5 100.0h0.8M94.3 100.3h0.8M89.3 109.1h0.8M93.8 108.1h0.8M87.6 106.4h0.8M96.1 101.6h0.8M91.7 100.0h0.8M92.2 104.7h0.8M95.3 104.5h0.8M89.7 100.3h0.8M85.3 108.3h0.8M96.2 103.3h0.8M94.6 103.8h0.8M90.6 101.0h0.8M98.2 102.5h0.8M97.2 96.9h0.8M88.6 109.6h0.8M88.8 105.5h0.8M99.2 97.0h0.8M101.3 103.5h0.8M90.1 107.9h0.8M85.8 104.5h0.8M91.8 110.3h0.8M88.9 102.1h0.8M84.8 107.8h0.8M94.1 106.2h0.8M83.6 100.7h0.8M87.5 108.6h0.8M97.2 101.2h0.8M89.1 104.9h0.8M91.1 100.9h0.8M96.2 102.8h0.8M95.5 98.8h0.8M89.8 101.8h0.8M92.3 102.2h0.8M87.0 102.3h0.8M103.3 103.3h0.8M94.5 98.6h0.8M86.1 104.1h0.8M92.3 102.6h0.8M96.3 101.8h0.8M95.9 104.3h0.8M102.9 101.3h0.8M99.3 99.5h0.8M89.4 103.7h0.8M92.2 103.7h0.8M86.9 108.3h0.8M94.6 104.6h0.8M92.8 101.8h0.8M104.2 92.2h0.8M95.5 108.5h0.8M82.9 110.5h0.8M89.5 105.6h0.8M93.5 104.0h0.8M85.6 105.0h0.8M87.1 102.9h0.8M90.4 103.4h0.8M94.1 102.1h0.8M91.1 102.2h0.8M86.5 101.8h0.8M96.3 100.8h0.8M90.5 106.1h0.8M89.5 103.3h0.8M85.6 106.6h0.8M86.3 100.1h0.8M95.7 101.4h0.8M84.2 106.8h0.8M90.9 100.5h0.8M94.4 97.5h0.8M91.1 105.3h0.8M92.9 100.9h0.8M87.4 107.1h0.8M98.8 99.4h0.8M98.9 102.4h0.8M93.4 102.0h0.8M82.0 103.7h0.8M87.2 105.6h0.8M97.2 100.4h0.8M102.1 101.1h0.8M93.6 101.6h0.8M98.5 99.6h0.8M90.4 106.9h0.8M92.9 106.7h0.8M93.4 105.3h0.8M95.9 105.0h0.8M85.3 108.0h0.8M98.3 103.2h0.8M100.3 102.6h0.8M87.2 107.0h0.8M85.7 106.6h0.8M94.5 103.0h0.8M91.9 110.8h0.8M80.5 108.8h0.8M96.5 101.0h0.8M93.0 102.1h0.8M90.1 104.4h0.8M103.7 99.2h0.8M92.1 100.3h0.8M86.6 100.2h0.8M93.4 103.9h0.8M85.5 101.8h0.8M89.0 105.8h0.8M94.7 102.9h0.8M91.0 107.5h0.8M92.1 108.5h0.8M101.5 100.5h0.8M96.4 100.1h0.8M95.4 98.7h0.8M94.4 100.2h0.8M95.1 102.4h0.8M97.8 95.0h0.8M92.6 103.6h0.8M102.1 99.1h0.8M88.4 107.2h0.8M90.9 103.2h0.8M85.7 106.8h0.8M90.0 102.4h0.8M94.7 101.1h0.8M98.1 95.7h0.8M89.3 105.2h0.8M94.3 107.2h0.8M90.9 104.6h0.8M89.2 106.0h0.8M85.4 103.7h0.8M94.5 106.8h0.8M82.9 105.5h0.8M94.0 105.1h0.8M92.8 103.6h0.8M88.2 102.5h0.8M88.6 108.2h0.8M85.5 106.6h0.8M102.4 99.6h0.8M86.2 107.6h0.8M100.5 99.8h0.8M95.3 101.1h0.8M91.2 105.4h0.8M86.2 105.0h0.8M98.0 101.2h0.8M100.7 97.8h0.8M86.2 101.9h0.8M90.3 102.4h0.8M97.4 99.8h0.8M94.3 102.7h0.8M104.1 101.8h0.8M87.8 100.5h0.8M95.5 102.5h0.8M83.8 100.8h0.8M102.2 96.0h0.8M88.3 103.8h0.8M78.8 102.9h0.8M89.9 99.1h0.8M92.1 104.1h0.8M102.5 99.2h0.8M90.7 103.9h0.8M91.7 101.4h0.8M98.0 107.4h0.8M100.5 99.4h0.8M91.3 101.4h0.8M99.8 105.2h0.8M95.9 103.7h0.8M90.7 103.2h0.8M94.3 106.2h0.8M92.9 103.7h0.8M88.6 107.1h0.8M99.1 101.2h0.8M84.4 104.0h0.8M99.7 103.1h0.8M97.7 101.6h0.8M91.0 101.1h0.8M87.8 103.3h0.8M92.5 106.3h0.8M94.6 101.4h0.8M96.5 101.8h0.8M94.8 104.4h0.8M97.8 101.5h0.8M88.1 100.9h0.8M94.5 104.4h0.8M85.6 109.3h0.8M97.5 103.8h0.8M95.2 107.0h0.8M90.9 105.2h0.8M99.4 102.7h0.8M97.9 105.7h0.8M77.9 109.1h0.8M94.7 107.6h0.8M87.1 111.0h0.8M98.9 102.9h0.8M107.4 102.3h0.8M90.9 106.7h0.8M92.0 101.1h0.8M92.6 106.8h0.8M94.8 103.4h0.8M96.4 103.0h0.8M99.4 100.8h0.8M89.0 109.0h0.8M101.2 101.2h0.8M87.1 103.8h0.8M94.6 104.0h0.8M99.3 102.6h0.8M95.5 100.0h0.8M87.3 104.5h0.8M88.6 104.1h0.8M89.6 103.0h0.8M92.7 104.4h0.8M99.6 103.3h0.8M88.1 111.0h0.8M96.3 105.3h0.8M96.8 104.5h0.8M96.7 104.9h0.8M96.5 105.6h0.8M100.0 99.0h0.8M95.9 104.0h0.8M97.3 102.2h0.8M95.3 101.8h0.8M101.3 98.2h0.8M82.3 106.5h0.8M98.9 99.8h0.8M89.9 100.9h0.8M91.7 105.3h0.8M87.6 105.6h0.8M83.2 107.9h0.8M91.0 105.1h0.8M89.9 106.8h0.8M94.5 100.8h0.8M85.0 106.5h0.8M98.2 96.2h0.8M91.6 97.3h0.8M89.2 99.2h0.8M90.7 108.8h0.8M86.6 100.7h0.8M87.3 107.1h0.8M91.4 108.3h0.8M92.1 102.3h0.8M93.5 107.8h0.8M87.4 111.2h0.8M92.3 106.3h0.8M90.6 111.3h0.8M94.1 104.6h0.8M101.3 97.4h0.8M96.4 103.3h0.8M90.5 103.0h0.8M82.9 103.9h0.8M84.0 103.5h0.8M86.5 113.0h0.8M95.7 100.4h0.8M88.7 105.1h0.8M92.2 101.6h0.8M89.6 105.2h0.8M92.8 102.6h0.8M99.3 99.2h0.8M87.8 102.0h0.8M89.3 100.7h0.8M87.7 103.4h0.8M97.4 102.2h0.8M89.6 110.9h0.8M88.0 108.6h0.8M87.5 111.1h0.8M85.9 107.8h0.8M94.9 102.1h0.8M104.3 94.3h0.8M87.5 105.7h0.8M95.1 96.0h0.8M93.6 102.1h0.8M88.8 110.0h0.8M91.6 104.9h0.8M92.7 106.8h0.8M88.7 104.1h0.8M101.0 95.7h0.8M82.3 106.6h0.8M94.1 101.6h0.8M95.6 105.7h0.8M91.8 109.6h0.8M92.6 101.3h0.8M96.7 100.6h0.8M93.2 102.7h0.8M94.4 101.6h0.8M94.8 98.8h0.8M82.3 108.3h0.8M100.6 101.0h0.8M104.7 99.2h0.8M96.3 98.3h0.8M97.7 100.9h0.8M83.5 102.4h0.8M93.0 106.0h0.8M87.4 102.8h0.8M89.3 104.1h0.8M97.1 100.2h0.8M87.9 103.9h0.8M90.8 101.2h0.8M80.9 103.5h0.8M93.7 108.1h0.8M93.4 103.9h0.8M89.3 105.7h0.8M91.3 110.3h0.8M102.2 98.9h0.8M87.1 107.6h0.8M87.3 105.9h0.8M89.8 108.2h0.8M99.3 102.0h0.8M103.7 99.5h0.8M94.1 102.1h0.8M89.3 105.8h0.8M91.7 107.3h0.8M95.8 95.9h0.8M87.8 105.2h0.8M99.6 99.1h0.8M99.6 99.5h0.8M90.8 98.4h0.8M96.7 103.8h0.8M95.5 99.7h0.8M100.3 99.4h0.8M86.7 104.6h0.8M96.8 96.7h0.8M90.2 103.2h0.8M86.7 100.7h0.8M92.1 100.9h0.8M91.2 103.2h0.8M87.6 105.7h0.8M84.5 107.3h0.8M87.7 105.3h0.8M102.4 105.4h0.8M103.2 100.1h0.8M94.6 99.0h0.8M98.0 99.3h0.8M89.3 103.0h0.8M92.0 103.2h0.8M93.4 101.3h0.8M86.2 103.8h0.8M89.4 109.8h0.8M93.2 103.4h0.8M90.6 103.4h0.8M86.9 105.3h0.8M94.4 102.1h0.8M92.8 107.5h0.8M98.4 102.3h0.8M93.8 106.3h0.8M87.7 96.5h0.8M93.6 104.0h0.8M92.9 106.5h0.8M91.4 109.9h0.8M90.6 104.5h0.8M94.6 97.5h0.8M96.6 103.5h0.8M98.6 99.1h0.8M82.0 102.9h0.8M89.9 102.9h0.8M91.7 107.0h0.8M94.8 106.1h0.8M91.1 106.3h0.8M88.9 102.1h0.8M99.4 107.9h0.8M92.3 100.2h0.8M86.6 106.0h0.8M97.9 96.9h0.8M99.2 104.5h0.8M90.2 105.9h0.8M97.9 103.8h0.8M89.0 105.4h0.8M98.3 100.8h0.8M91.7 104.4h0.8M86.5 100.7h0.8M91.8 106.8h0.8M89.7 107.5h0.8M93.2 102.1h0.8M93.5 103.1h0.8M93.2 104.2h0.8M91.5 108.6h0.8M74.4 112.9h0.8M93.2 103.4h0.8M82.4 106.6h0.8M92.2 99.2h0.8M97.8 99.5h0.8M94.1 103.1h0.8M90.4 103.8h0.8M91.8 104.1h0.8M92.8 105.6h0.8M90.3 105.8h0.8M90.0 105.5h0.8M88.6 107.2h0.8M98.9 101.3h0.8M92.5 103.5h0.8M98.1 102.5h0.8M89.5 99.8h0.8M94.4 106.4h0.8M90.4 100.7h0.8M95.9 104.5h0.8M96.9 101.7h0.8M95.1 105.7h0.8M89.2 105.1h0.8M87.6 103.0h0.8M102.3 102.4h0.8M91.4 104.6h0.8M91.3 104.5h0.8M100.2 100.4h0.8M99.3 103.5h0.8M96.3 104.3h0.8M90.9 105.0h0.8M103.0 94.3h0.8M94.2 101.6h0.8M95.6 102.5h0.8M93.8 108.3h0.8M85.8 107.7h0.8M85.7 106.3h0.8M96.1 105.6h0.8M94.5 102.4h0.8M91.4 104.0h0.8M86.8 106.6h0.8M83.6 103.1h0.8M92.0 106.6h0.8M85.7 107.9h0.8M96.9 100.8h0.8M97.3 98.1h0.8M107.4 97.6h0.8M98.7 105.0h0.8M88.9 103.3h0.8M87.0 102.9h0.8M75.5 112.4h0.8M87.9 101.0h0.8M89.3 98.5h0.8M97.1 100.2h0.8M95.0 100.4h0.8M95.4 101.5h0.8M93.1 101.7h0.8M96.4 102.9h0.8M99.8 99.7h0.8M86.6 104.5h0.8M89.8 103.5h0.8M86.3 108.3h0.8M102.0 102.2h0.8M100.3 102.8h0.8M97.3 103.5h0.8M82.9 98.1h0.8M92.4 100.7h0.8M91.1 103.3h0.8M93.3 103.9h0.8M89.9 100.0h0.8M96.9 105.9h0.8M91.0 105.2h0.8M96.4 100.1h0.8M94.1 103.4h0.8M90.8 103.4h0.8M91.3 101.9h0.8M91.0 105.8h0.8M96.3 100.6h0.8M89.7 100.7h0.8M93.5 101.3h0.8M90.5 104.2h0.8M83.9 104.3h0.8M98.7 104.6h0.8M86.1 103.3h0.8M98.1 106.3h0.8M95.8 104.8h0.8M83.2 105.0h0.8M88.0 106.0h0.8M91.3 107.6h0.8M88.3 105.0h0.8M85.3 103.3h0.8M96.6 102.1h0.8M93.6 109.0h0.8M93.0 99.0h0.8M91.1 105.9h0.8M94.2 102.9h0.8M88.7 105.0h0.8M92.1 102.7h0.8M95.3 101.4h0.8M94.0 106.0h0.8M91.0 106.1h0.8M86.0 103.6h0.8M95.2 107.0h0.8M93.0 99.6h0.8M92.1 105.8h0.8M88.9 105.8h0.8M96.8 105.3h0.8M105.8 98.8h0.8M92.3 106.9h0.8M94.4 102.7h0.8M95.7 105.1h0.8M79.9 110.3h0.8M95.7 108.6h0.8M88.3 103.5h0.8M101.1 103.4h0.8M91.9 105.3h0.8M88.9 105.8h0.8M90.9 102.7h0.8M94.0 104.3h0.8M88.2 101.2h0.8M90.9 100.3h0.8M86.5 108.4h0.8M89.8 100.3h0.8M98.2 105.4h0.8M102.5 98.4h0.8M96.6 102.6h0.8M94.2 103.1h0.8M99.2 101.9h0.8M97.6 100.6h0.8M100.8 98.9h0.8M98.1 100.8h0.8M93.2 106.4h0.8M95.2 105.8h0.8M95.0 106.3h0.8M94.6 103.8h0.8M93.5 102.6h0.8M86.8 101.2h0.8M82.6 110.0h0.8M90.2 107.2h0.8M81.9 107.2h0.8M93.9 105.4h0.8M94.1 106.8h0.8M84.2 107.6h0.8M97.4 104.6h0.8M97.5 102.4h0.8M91.3 99.1h0.8M100.7 98.6h0.8M101.8 98.3h0.8M87.1 107.6h0.8M97.0 99.1h0.8M94.5 101.5h0.8M93.8 100.3h0.8M97.4 101.4h0.8M89.1 105.4h0.8M90.7 107.3h0.8M89.3 107.4h0.8M89.0 105.7h0.8M92.4 104.4h0.8M85.4 107.2h0.8M87.5 106.2h0.8M97.3 106.1h0.8M89.6 97.6h0.8M94.5 102.3h0.8M83.4 108.7h0.8M89.9 108.2h0.8M88.6 102.2h0.8M93.2 104.4h0.8M90.6 107.1h0.8M97.0 100.4h0.8M90.3 99.0h0.8M92.4 102.7h0.8M91.4 100.6h0.8M97.0 103.6h0.8M89.3 102.6h0.8M100.4 105.4h0.8M95.2 102.9h0.8M92.6 101.3h0.8M92.3 102.3h0.8M94.1 99.7h0.8M98.3 102.2h0.8M99.2 105.1h0.8M94.4 102.2h0.8M98.2 103.9h0.8M92.3 101.0h0.8M99.4 101.5h0.8M95.1 109.3h0.8M80.5 104.8h0.8M100.9 103.6h0.8M94.5 106.2h0.8M84.6 101.6h0.8M90.1 100.5h0.8M87.1 103.2h0.8M104.5 101.2h0.8M94.8 101.4h0.8M84.5 106.7h0.8M96.3 104.1h0.8M90.8 104.8h0.8M102.7 99.8h0.8M86.9 105.2h0.8M82.4 111.5h0.8M92.2 101.5h0.8M92.7 108.5h0.8M90.2 103.7h0.8M80.9 106.5h0.8M95.6 104.2h0.8M101.7 100.9h0.8M80.7 103.1h0.8M98.9 101.5h0.8M88.3 101.6h0.8M103.8 96.2h0.8M95.8 104.5h0.8M90.8 101.9h0.8M98.7 101.9h0.8M95.0 101.4h0.8M91.8 109.7h0.8M96.2 101.7h0.8M88.8 101.8h0.8M82.3 104.9h0.8M102.1 96.7h0.8M91.0 104.7h0.8M89.6 105.0h0.8M95.5 105.2h0.8M84.9 107.5h0.8M85.9 107.0h0.8M90.5 105.5h0.8M89.9 104.4h0.8M93.4 104.1h0.8M99.3 102.9h0.8M91.1 106.6h0.8M94.6 101.1h0.8M93.8 97.8h0.8M86.2 104.0h0.8M94.1 103.7h0.8M85.1 99.6h0.8M97.6 100.0h0.8M95.5 103.6h0.8M92.1 102.1h0.8M84.6 103.8h0.8M95.2 107.6h0.8M90.3 108.7h0.8M96.0 101.3h0.8M93.5 107.1h0.8M89.9 108.6h0.8M96.2 98.7h0.8M99.3 108.5h0.8M88.6 102.6h0.8M98.3 100.3h0.8M89.9 101.5h0.8M91.2 104.4h0.8M91.9 100.0h0.8M88.8 105.2h0.8M91.6 107.2h0.8M92.1 104.4h0.8M100.2 99.4h0.8M102.0 103.9h0.8M90.4 101.9h0.8M102.0 102.3h0.8M92.1 102.9h0.8M94.8 103.2h0.8M97.2 101.6h0.8M94.3 103.2h0.8M105.0 97.9h0.8M93.0 101.0h0.8M85.9 104.9h0.8M99.8 101.6h0.8M90.4 104.2h0.8M89.8 101.3h0.8M76.6 108.6h0.8M97.0 99.5h0.8M96.8 101.5h0.8M96.9 102.1h0.8M97.8 101.5h0.8M100.6 98.0h0.8M92.4 103.7h0.8M95.9 98.0h0.8M85.7 98.1h0.8M90.8 104.2h0.8M96.2 97.0h0.8M93.6 100.3h0.8M84.5 103.6h0.8M95.2 104.2h0.8M90.4 100.9h0.8M88.8 106.0h0.8M94.3 101.3h0.8M89.2 101.4h0.8M82.9 103.2h0.8M87.5 107.1h0.8M102.1 100.4h0.8M85.7 108.8h0.8M95.8 107.5h0.8M96.0 102.7h0.8M96.2 102.7h0.8M86.2 105.9h0.8M91.1 104.4h0.8M93.0 102.3h0.8M95.7 99.4h0.8M91.5 109.8h0.8M84.6 101.5h0.8M98.0 101.8h0.8M98.8 102.0h0.8M94.7 103.0h0.8M88.4 102.5h0.8M94.5 102.0h0.8M92.7 102.0h0.8M95.7 98.9h0.8M86.2 106.2h0.8M92.8 102.2h0.8M91.2 102.4h0.8M87.7 107.6h0.8M92.5 100.3h0.8M93.3 104.4h0.8M89.8 102.8h0.8M95.1 103.6h0.8M85.4 106.8h0.8M92.6 104.1h0.8M93.7 100.0h0.8M93.2 100.8h0.8M97.2 98.8h0.8M86.6 106.6h0.8M85.7 108.7h0.8M95.0 105.5h0.8M94.4 101.1h0.8M103.5 98.8h0.8M94.0 98.0h0.8M85.7 99.9h0.8M95.8 99.4h0.8M87.5 103.7h0.8M83.3 102.9h0.8M104.0 93.1h0.8M94.8 103.9h0.8M95.4 99.8h0.8M93.6 98.0h0.8M104.4 105.0h0.8M94.2 103.1h0.8M98.5 99.8h0.8M88.1 107.4h0.8M84.6 104.7h0.8M101.6 104.0h0.8M98.4 96.2h0.8M93.8 99.0h0.8M93.6 102.5h0.8M92.6 101.1h0.8M90.6 108.4h0.8M98.7 95.9h0.8M95.1 100.0h0.8M95.4 102.8h0.8M95.1 103.9h0.8M99.0 103.4h0.8M95.5 103.0h0.8M98.8 107.1h0.8M86.1 104.8h0.8M95.4 102.6h0.8M104.7 100.4h0.8M89.6 103.7h0.8M91.6 102.9h0.8M96.6 100.1h0.8M96.8 99.6h0.8M94.5 99.1h0.8M83.7 105.6h0.8M93.4 98.4h0.8M86.9 106.9h0.8M86.6 101.3h0.8M97.6 107.1h0.8M92.9 108.2h0.8M97.9 104.2h0.8M108.4 95.6h0.8M95.9 100.1h0.8M97.6 104.7h0.8M88.2 105.8h0.8M89.9 106.1h0.8M86.3 103.9h0.8M91.0 107.1h0.8M86.1 103.8h0.8M89.3 105.1h0.8M89.6 99.5h0.8M86.7 104.0h0.8M85.8 107.7h0.8M85.1 105.3h0.8M94.4 101.2h0.8M93.7 105.1h0.8M97.7 100.8h0.8M99.2 104.0h0.8M88.2 98.1h0.8M96.6 103.1h0.8M85.7 107.8h0.8M102.5 94.3h0.8M97.2 97.4h0.8M92.4 105.9h0.8M85.4 103.3h0.8M93.8 100.8h0.8M83.6 109.0h0.8M88.2 104.2h0.8M96.9 102.7h0.8M92.0 101.0h0.8M90.4 105.1h0.8M98.6 103.8h0.8M87.6 106.4h0.8M91.6 97.2h0.8M90.7 106.0h0.8M88.3 105.3h0.8M93.9 100.0h0.8M89.0 109.0h0.8M100.4 94.7h0.8M91.6 109.2h0.8M102.0 97.2h0.8M88.7 109.6h0.8M95.6 101.8h0.8M84.9 102.7h0.8M85.8 106.6h0.8M93.7 103.7h0.8M96.6 103.1h0.8M87.2 108.8h0.8M97.6 98.4h0.8M89.0 106.3h0.8M94.0 104.8h0.8M94.2 101.7h0.8M94.6 99.6h0.8M82.3 105.0h0.8M101.6 101.4h0.8M96.3 103.9h0.8M89.5 102.2h0.8M85.8 102.3h0.8M85.2 110.2h0.8M83.9 102.6h0.8M95.5 102.4h0.8M89.9 102.1h0.8M84.8 101.5h0.8M90.0 104.8h0.8M100.3 99.2h0.8M92.4 107.6h0.8M92.0 110.2h0.8M99.2 99.7h0.8M96.0 104.7h0.8M93.9 105.7h0.8M88.9 103.4h0.8M83.6 104.7h0.8M88.3 109.9h0.8M89.7 103.5h0.8M91.4 103.7h0.8M94.0 101.7h0.8M95.2 101.7h0.8M93.0 101.3h0.8M94.5 104.6h0.8M88.8 108.6h0.8M81.1 107.3h0.8M88.4 101.1h0.8M87.7 105.6h0.8M87.6 101.1h0.8M90.4 102.3h0.8M87.5 109.1h0.8M89.4 111.5h0.8M92.4 104.4h0.8M92.0 100.4h0.8M90.0 106.7h0.8M92.6 96.6h0.8M90.7 102.1h0.8M89.0 109.3h0.8M93.6 105.0h0.8M100.7 95.6h0.8M87.3 100.7h0.8M99.4 102.7h0.8M99.5 100.0h0.8M99.6 98.4h0.8M88.8 106.1h0.8M102.2 97.3h0.8M91.0 98.3h0.8M92.1 105.8h0.8M90.7 102.2h0.8M94.5 99.4h0.8M91.3 99.9h0.8M91.9 104.3h0.8M98.2 98.4h0.8M89.5 106.4h0.8M86.9 105.0h0.8M97.8 104.1h0.8M95.7 100.7h0.8M97.4 99.2h0.8M84.9 100.9h0.8M96.9 98.1h0.8M95.8 103.9h0.8M104.9 106.7h0.8M84.8 103.0h0.8M92.5 100.2h0.8M91.5 104.7h0.8M84.9 108.1h0.8M88.1 103.2h0.8M98.4 100.9h0.8M88.4 100.4h0.8M88.5 104.2h0.8M98.0 103.5h0.8M99.4 105.0h0.8M97.4 100.6h0.8M88.2 104.4h0.8M92.7 104.5h0.8M99.0 103.6h0.8M89.7 106.0h0.8M87.9 103.1h0.8M97.2 102.3h0.8M101.6 102.1h0.8M85.9 104.1h0.8M77.8 105.9h0.8M85.7 107.8h0.8M87.8 106.5h0.8M92.9 106.0h0.8M95.8 102.1h0.8M91.1 102.0h0.8M88.5 103.8h0.8M92.2 100.4h0.8M86.6 103.1h0.8M91.7 102.0h0.8M88.7 103.5h0.8M107.5 99.9h0.8M95.4 98.4h0.8M88.2 105.1h0.8M86.8 104.1h0.8M91.9 107.9h0.8M84.4 107.7h0.8M88.4 104.0h0.8M89.7 107.0h0.8M97.1 101.4h0.8M89.8 103.1h0.8M90.2 108.8h0.8M86.5 108.1h0.8M88.4 110.2h0.8M93.5 106.3h0.8M92.3 105.7h0.8M98.5 101.0h0.8M88.1 102.1h0.8M98.7 102.6h0.8M93.9 102.9h0.8M93.3 105.0h0.8M82.3 107.8h0.8M85.2 104.5h0.8M95.2 99.1h0.8M100.5 101.8h0.8M95.0 106.0h0.8M96.1 100.8h0.8M91.0 105.3h0.8M92.2 107.5h0.8M88.2 102.8h0.8M97.2 100.2h0.8M93.1 99.8h0.8M92.6 106.7h0.8M91.2 104.7h0.8M94.9 100.9h0.8M92.4 98.5h0.8M88.1 104.8h0.8M102.4 101.8h0.8M93.5 102.0h0.8M92.1 102.2h0.8M100.8 101.5h0.8M96.4 97.9h0.8M92.2 103.6h0.8M96.0 103.5h0.8M86.2 103.8h0.8M88.4 102.7h0.8M81.3 109.1h0.8M98.7 100.3h0.8M82.6 107.0h0.8M96.3 102.3h0.8M88.6 105.7h0.8M86.5 103.3h0.8M90.8 102.1h0.8M94.4 103.8h0.8M96.9 104.7h0.8M103.1 102.6h0.8M93.5 100.4h0.8M98.3 104.0h0.8M90.3 106.5h0.8M96.2 101.6h0.8M93.9 104.2h0.8M91.1 106.4h0.8M94.0 107.9h0.8M91.1 100.9h0.8M94.2 104.3h0.8M94.5 102.1h0.8M89.7 104.0h0.8M90.0 107.8h0.8M97.3 103.6h0.8M82.8 104.7h0.8M89.1 104.0h0.8M100.8 100.3h0.8M77.2 106.0h0.8M90.0 107.0h0.8M96.0 101.6h0.8M84.3 107.5h0.8M106.2 98.2h0.8M81.3 113.6h0.8M100.0 100.1h0.8M100.1 98.9h0.8M99.1 105.5h0.8M90.9 102.6h0.8M93.8 101.2h0.8M86.5 102.0h0.8M97.9 104.1h0.8M87.1 106.5h0.8M91.7 105.1h0.8M97.8 101.5h0.8M86.7 105.5h0.8M89.8 102.2h0.8M92.6 101.0h0.8M86.2 107.4h0.8M98.7 101.0h0.8M96.1 106.5h0.8M84.0 104.9h0.8M91.8 102.2h0.8M87.5 102.6h0.8M90.7 108.2h0.8M91.6 100.1h0.8M89.8 106.8h0.8M99.1 104.6h0.8M88.8 104.6h0.8M98.4 102.9h0.8M90.0 98.2h0.8M96.5 100.4h0.8M88.0 100.5h0.8M90.2 104.9h0.8M86.7 106.0h0.8M94.7 100.1h0.8M98.4 103.5h0.8M103.8 99.4h0.8M98.6 99.1h0.8M93.3 101.5h0.8M89.9 100.2h0.8M94.4 102.0h0.8M94.7 108.6h0.8M99.3 98.3h0.8M97.9 102.2h0.8M87.7 103.9h0.8M89.9 106.9h0.8M100.0 101.3h0.8M93.9 102.1h0.8M89.5 99.5h0.8M98.1 99.4h0.8M91.9 107.1h0.8M90.9 103.4h0.8M90.9 105.9h0.8M82.0 106.6h0.8M95.0 96.8h0.8M86.8 107.1h0.8M90.0 105.4h0.8M88.1 103.6h0.8M95.9 100.8h0.8M92.5 104.2h0.8M92.0 101.9h0.8M84.4 108.0h0.8M91.9 103.0h0.8M82.5 101.0h0.8M94.0 102.3h0.8M93.8 101.0h0.8M91.6 101.3h0.8M103.5 99.7h0.8M94.7 100.9h0.8M96.2 103.3h0.8M94.5 105.7h0.8M91.7 104.1h0.8M95.8 97.4h0.8M97.4 99.1h0.8M86.9 108.5h0.8M97.7 100.3h0.8M94.3 100.2h0.8M97.4 100.9h0.8M95.5 103.5h0.8M86.5 106.8h0.8M87.3 107.6h0.8M101.0 97.2h0.8M93.6 102.1h0.8M85.1 106.0h0.8M94.3 102.5h0.8M88.4 99.1h0.8M82.9 107.0h0.8M79.4 105.3h0.8M85.9 110.4h0.8M95.7 106.5h0.8M94.2 107.6h0.8M92.2 105.9h0.8M93.5 101.5h0.8M96.7 104.3h0.8M81.6 107.7h0.8M91.7 105.5h0.8M87.4 103.0h0.8M85.6 104.7h0.8M90.3 105.7h0.8M93.9 108.0h0.8M91.2 103.9h0.8M87.6 112.2h0.8M93.1 111.2h0.8M101.5 95.6h0.8M87.2 105.7h0.8M82.9 104.9h0.8M93.8 102.4h0.8M95.1 100.7h0.8M94.9 102.1h0.8M87.9 108.3h0.8M98.7 103.4h0.8M88.8 105.8h0.8M86.8 106.0h0.8M89.6 105.0h0.8M92.2 103.9h0.8M96.9 103.1h0.8M95.8 102.0h0.8M93.0 104.6h0.8M95.9 98.0h0.8M93.9 105.1h0.8M99.1 105.6h0.8M85.6 107.0h0.8M83.0 103.5h0.8M98.0 104.9h0.8M85.1 105.7h0.8M87.8 96.8h0.8M91.8 103.1h0.8M90.7 106.0h0.8M90.7 105.3h0.8M101.1 103.2h0.8M80.3 110.6h0.8M97.2 101.7h0.8M102.2 93.3h0.8M91.5 100.6h0.8M92.7 103.8h0.8M97.0 103.4h0.8M100.8 96.7h0.8M85.8 104.6h0.8M93.5 104.3h0.8M89.6 99.1h0.8M93.3 97.3h0.8M93.2 102.4h0.8M96.2 102.5h0.8M89.9 103.2h0.8M90.3 97.7h0.8M89.2 105.0h0.8M87.7 101.6h0.8M92.6 105.3h0.8M91.7 103.4h0.8M86.9 106.7h0.8M101.3 101.4h0.8M91.3 102.4h0.8M86.4 108.5h0.8M99.6 103.9h0.8M89.2 106.0h0.8M96.6 105.5h0.8M91.8 101.9h0.8M94.9 105.0h0.8M93.8 103.6h0.8M88.6 102.3h0.8M92.7 103.1h0.8M102.4 97.4h0.8M80.5 107.1h0.8M93.0 103.4h0.8M96.0 105.0h0.8M86.9 105.0h0.8M85.7 106.8h0.8M102.0 94.9h0.8M90.8 104.5h0.8M104.5 101.5h0.8M96.2 104.1h0.8M93.5 104.4h0.8M94.4 101.0h0.8M94.8 99.5h0.8M98.5 100.5h0.8M93.4 99.1h0.8M92.0 100.0h0.8M94.5 105.3h0.8M98.5 98.1h0.8M98.7 105.9h0.8M85.9 102.2h0.8M89.8 105.9h0.8M93.0 99.8h0.8M89.6 105.2h0.8M89.5 101.7h0.8M87.7 105.6h0.8M91.1 103.6h0.8M94.3 101.3h0.8M98.2 102.4h0.8M94.3 107.0h0.8M102.6 97.2h0.8M93.2 105.7h0.8M109.0 96.3h0.8M97.7 101.0h0.8M97.5 107.6h0.8M87.7 99.2h0.8M77.4 108.1h0.8M89.8 99.3h0.8M93.2 102.2h0.8M102.2 98.4h0.8M89.7 115.8h0.8M102.7 99.9h0.8M93.3 108.3h0.8M97.7 104.9h0.8M79.1 108.1h0.8M93.8 104.2h0.8M92.6 108.2h0.8M96.3 102.2h0.8M93.3 103.7h0.8M87.3 107.2h0.8M95.8 97.5h0.8M95.3 99.8h0.8M96.0 102.8h0.8M98.3 102.4h0.8M97.2 98.6h0.8M92.1 102.6h0.8M85.5 106.2h0.8M85.3 106.2h0.8M100.2 102.0h0.8M96.3 102.0h0.8M93.3 103.5h0.8M88.8 100.9h0.8M91.6 100.7h0.8M93.1 104.1h0.8M89.1 100.2h0.8M89.3 105.6h0.8M102.9 96.8h0.8M92.9 100.9h0.8M90.2 106.3h0.8M85.2 104.7h0.8M87.9 102.9h0.8M95.5 100.1h0.8M96.5 101.8h0.8M94.5 110.6h0.8M90.5 98.1h0.8M91.0 104.0h0.8M86.7 105.3h0.8M100.3 102.7h0.8M94.1 101.6h0.8M102.6 91.7h0.8M90.2 108.3h0.8M90.7 101.0h0.8M97.0 101.2h0.8M89.8 100.6h0.8M84.3 103.8h0.8M87.2 104.3h0.8M94.0 105.2h0.8M95.3 104.6h0.8M91.4 102.1h0.8M98.3 102.3h0.8M97.2 100.2h0.8M94.3 102.9h0.8M92.9 103.7h0.8M92.0 105.4h0.8M94.7 100.6h0.8M97.1 100.9h0.8M93.1 103.7h0.8M95.0 102.5h0.8M90.0 102.1h0.8M87.2 110.8h0.8M86.9 104.5h0.8M97.3 103.4h0.8M95.1 102.8h0.8M102.0 102.7h0.8M90.5 97.9h0.8M99.2 106.4h0.8M99.1 99.8h0.8M96.3 98.0h0.8M89.6 105.0h0.8M94.1 109.3h0.8M93.8 104.3h0.8M86.2 102.6h0.8M94.5 101.1h0.8M99.3 104.3h0.8M88.6 101.0h0.8M102.5 98.4h0.8M90.8 103.3h0.8M93.9 109.1h0.8M91.0 103.2h0.8M90.4 108.2h0.8M94.0 100.7h0.8M91.8 101.3h0.8M102.2 102.0h0.8M96.4 103.5h0.8M93.4 97.9h0.8M92.1 105.4h0.8M86.0 108.1h0.8M91.4 102.0h0.8M88.5 105.8h0.8M97.7 101.8h0.8M91.9 102.2h0.8M100.4 98.1h0.8M95.6 100.0h0.8M96.5 100.8h0.8M92.3 99.5h0.8M93.6 102.7h0.8M94.3 98.2h0.8M97.4 101.4h0.8M88.8 104.7h0.8M94.0 99.7h0.8M106.9 99.4h0.8M94.2 108.3h0.8M92.7 107.1h0.8M87.5 101.6h0.8M86.5 109.7h0.8M98.9 101.1h0.8M92.8 103.1h0.8M93.4 101.2h0.8M102.0 99.1h0.8M106.9 101.0h0.8M88.6 106.7h0.8M97.5 99.9h0.8M95.0 100.3h0.8M94.2 101.4h0.8M95.7 103.7h0.8M94.5 107.9h0.8M99.6 97.1h0.8M95.7 101.9h0.8M93.9 101.6h0.8M98.1 98.6h0.8M97.6 102.2h0.8M95.5 103.6h0.8M92.7 99.1h0.8M100.4 96.8h0.8M96.5 105.1h0.8M92.5 104.3h0.8M88.8 106.5h0.8M90.3 102.9h0.8M86.8 104.8h0.8M93.6 104.2h0.8M93.4 101.5h0.8M80.9 105.3h0.8M92.7 103.3h0.8M96.9 104.0h0.8M92.3 100.4h0.8M88.8 108.1h0.8M99.8 102.1h0.8M88.1 102.8h0.8M86.3 106.1h0.8M87.0 105.7h0.8M93.2 104.9h0.8M98.3 102.7h0.8M97.1 97.5h0.8M92.2 99.5h0.8M87.6 108.5h0.8M89.3 105.1h0.8M88.4 106.4h0.8M92.0 104.5h0.8M85.2 111.1h0.8M91.8 100.1h0.8M97.1 104.5h0.8M90.9 101.7h0.8M95.7 104.0h0.8M89.2 108.7h0.8M83.6 103.3h0.8M89.7 105.7h0.8M98.2 100.0h0.8M97.5 100.3h0.8M90.3 104.5h0.8M97.6 98.0h0.8M89.9 101.7h0.8M101.0 101.5h0.8M96.0 104.3h0.8M89.6 103.0h0.8M95.1 98.0h0.8M91.1 110.7h0.8M89.0 108.1h0.8M85.5 107.5h0.8M92.8 100.2h0.8M91.7 102.0h0.8M92.4 104.1h0.8M89.4 101.9h0.8M101.7 103.9h0.8M90.5 104.6h0.8M89.3 105.9h0.8M97.8 98.0h0.8M98.8 97.9h0.8M93.4 100.6h0.8M84.0 108.0h0.8M89.2 104.0h0.8M95.4 101.2h0.8M93.0 104.0h0.8M100.8 100.3h0.8M87.2 110.0h0.8M95.8 101.3h0.8M88.3 102.3h0.8M99.3 100.3h0.8M93.8 107.0h0.8M97.2 99.6h0.8M89.3 104.9h0.8M85.0 105.7h0.8M87.3 106.8h0.8M89.7 105.3h0.8M86.4 103.7h0.8M98.5 100.0h0.8M100.4 102.6h0.8M95.1 105.4h0.8M88.3 107.9h0.8M92.9 105.7h0.8M88.7 104.1h0.8M99.6 99.1h0.8M95.2 104.9h0.8M93.8 99.4h0.8M90.5 104.1h0.8M80.3 103.4h0.8M88.2 104.2h0.8M86.1 104.1h0.8M93.2 99.6h0.8M93.7 104.5h0.8M87.7 103.4h0.8M90.2 103.3h0.8M100.3 99.1h0.8M86.9 103.7h0.8M89.4 108.9h0.8M90.9 102.6h0.8M89.2 105.4h0.8M89.0 101.1h0.8M94.8 101.0h0.8M101.1 98.6h0.8M83.1 106.6h0.8M91.8 101.9h0.8M92.9 103.6h0.8M93.8 107.3h0.8M91.5 103.4h0.8M90.7 103.8h0.8M97.3 100.1h0.8M92.9 110.5h0.8M93.7 107.5h0.8M93.2 104.7h0.8M93.9 104.8h0.8M90.9 102.0h0.8M97.5 100.7h0.8M92.7 103.9h0.8M93.6 103.2h0.8M91.4 101.4h0.8M86.6 103.7h0.8M88.9 106.5h0.8M87.5 106.5h0.8M91.3 97.8h0.8M89.0 105.2h0.8M88.5 108.8h0.8M93.1 101.2h0.8M95.5 102.7h0.8M82.0 103.8h0.8M102.1 101.5h0.8M91.5 100.6h0.8M90.7 100.5h0.8M97.7 100.1h0.8M95.5 108.9h0.8M88.8 103.2h0.8M102.4 95.3h0.8M87.6 106.9h0.8M92.3 104.1h0.8M98.7 105.4h0.8M85.7 102.7h0.8M90.3 99.7h0.8M94.2 101.7h0.8M105.3 98.8h0.8M88.4 106.2h0.8M93.5 106.1h0.8M94.3 98.2h0.8M92.1 101.1h0.8M86.3 105.7h0.8M95.6 104.4h0.8M93.6 104.2h0.8M94.4 101.3h0.8M97.3 98.3h0.8M98.7 103.2h0.8M95.7 104.7h0.8M97.1 109.2h0.8M86.8 105.4h0.8M93.6 107.6h0.8M92.4 99.9h0.8M89.9 102.9h0.8M92.3 101.5h0.8M87.8 104.1h0.8M99.5 97.7h0.8M103.0 97.1h0.8M90.5 104.1h0.8M94.1 101.3h0.8M92.1 105.5h0.8M98.9 100.2h0.8M94.8 102.3h0.8M94.5 106.7h0.8M91.8 104.6h0.8M93.4 103.4h0.8M87.4 105.6h0.8M96.1 101.9h0.8M89.5 106.3h0.8M94.4 100.2h0.8M94.5 105.8h0.8M99.9 104.6h0.8M93.7 106.2h0.8M97.3 99.8h0.8M86.1 101.6h0.8M95.2 100.9h0.8M91.6 104.2h0.8M94.5 104.9h0.8M92.7 102.7h0.8M97.0 100.5h0.8M83.9 111.6h0.8M93.5 101.0h0.8M86.1 109.3h0.8M99.7 102.8h0.8M81.0 104.6h0.8M87.7 106.3h0.8M83.4 105.8h0.8M99.9 97.3h0.8M84.0 101.8h0.8M91.5 99.3h0.8M90.3 105.6h0.8M82.9 106.5h0.8M91.1 104.8h0.8M94.8 99.3h0.8M91.3 103.0h0.8M97.1 100.5h0.8M89.1 100.4h0.8M90.8 99.3h0.8M91.1 105.3h0.8M94.5 102.9h0.8M101.3 96.7h0.8M94.3 102.3h0.8M94.3 104.5h0.8M91.4 109.2h0.8M87.7 102.9h0.8M100.7 101.5h0.8M89.2 111.0h0.8M88.0 105.6h0.8M93.6 107.1h0.8M87.6 98.1h0.8M104.1 102.4h0.8M80.5 108.7h0.8M92.4 98.0h0.8M97.1 103.6h0.8M88.0 108.4h0.8M90.6 107.7h0.8M96.1 105.2h0.8M100.9 99.5h0.8M87.1 103.6h0.8M84.0 105.8h0.8M97.5 101.0h0.8M100.8 100.8h0.8M90.3 102.9h0.8M81.3 108.5h0.8M100.9 102.1h0.8M91.9 104.6h0.8M100.8 106.3h0.8M94.7 108.6h0.8M89.4 101.4h0.8M89.6 103.0h0.8M98.7 96.8h0.8M98.7 97.2h0.8M82.2 109.5h0.8M86.7 103.1h0.8M100.5 96.7h0.8M90.4 103.5h0.8M86.5 108.4h0.8M92.2 102.5h0.8M91.6 102.7h0.8M93.1 105.8h0.8M90.6 105.6h0.8M91.5 105.1h0.8M91.3 106.7h0.8M93.2 100.1h0.8M88.6 105.7h0.8M90.4 102.5h0.8M92.9 106.1h0.8M100.1 102.3h0.8M93.4 99.9h0.8M93.4 106.8h0.8M94.1 99.3h0.8M95.9 105.2h0.8M98.4 101.3h0.8M94.2 100.1h0.8M100.5 96.5h0.8M99.1 99.5h0.8M92.3 103.4h0.8M89.7 102.5h0.8M97.7 102.7h0.8M93.7 98.8h0.8M92.1 103.5h0.8M85.0 106.7h0.8M81.2 103.0h0.8M94.7 103.3h0.8M95.1 98.5h0.8M94.0 95.4h0.8M85.3 104.8h0.8M97.6 100.4h0.8M90.8 106.7h0.8M94.0 101.3h0.8M96.3 106.0h0.8M90.0 108.6h0.8M90.7 107.3h0.8M83.4 111.3h0.8M88.3 106.3h0.8M82.7 106.1h0.8M95.5 103.9h0.8M93.9 105.5h0.8M97.5 101.8h0.8M94.1 101.9h0.8M87.6 101.0h0.8M95.1 104.2h0.8M91.0 105.1h0.8M94.3 98.8h0.8M94.3 102.8h0.8M88.3 107.3h0.8M92.5 103.1h0.8M93.7 105.1h0.8M91.8 105.9h0.8M95.5 97.7h0.8M101.0 98.7h0.8M91.2 105.3h0.8M91.8 106.4h0.8M82.6 111.9h0.8M89.8 99.0h0.8M90.3 104.2h0.8M82.3 110.0h0.8M95.4 105.6h0.8M97.4 106.1h0.8M87.8 102.7h0.8M90.3 103.3h0.8M86.5 103.0h0.8M97.4 103.6h0.8M83.4 103.6h0.8M92.2 106.9h0.8M103.6 101.2h0.8M93.4 104.4h0.8M92.6 97.0h0.8M91.1 102.0h0.8M87.4 107.8h0.8M90.9 99.9h0.8M94.4 101.8h0.8M87.2 105.4h0.8M95.3 104.7h0.8M99.2 101.2h0.8M98.3 101.6h0.8M84.0 105.9h0.8M87.6 105.6h0.8M84.2 106.7h0.8M98.8 102.7h0.8M95.5 101.5h0.8M97.3 104.2h0.8M86.2 101.2h0.8M87.9 108.9h0.8M92.8 102.7h0.8M94.3 105.8h0.8M88.3 105.5h0.8M94.2 105.1h0.8M97.5 105.5h0.8M93.1 101.5h0.8M87.3 105.9h0.8M81.6 107.7h0.8M91.5 104.4h0.8M91.6 99.0h0.8M91.0 103.5h0.8M90.1 103.7h0.8M88.2 103.0h0.8M96.0 101.2h0.8M90.6 99.7h0.8M94.7 106.4h0.8M88.1 106.6h0.8M91.4 109.3h0.8M92.5 100.8h0.8M86.2 102.8h0.8M86.4 106.9h0.8M89.1 100.0h0.8M99.0 101.1h0.8M92.8 101.2h0.8M99.7 99.2h0.8M92.2 104.2h0.8M91.0 104.1h0.8M87.5 111.0h0.8M90.3 106.2h0.8M98.5 96.9h0.8M95.3 105.0h0.8M94.9 98.4h0.8M96.3 101.9h0.8M91.2 100.3h0.8M90.6 101.8h0.8M94.6 106.2h0.8M95.4 100.4h0.8M94.2 100.7h0.8M94.5 100.8h0.8M93.0 102.2h0.8M90.2 108.6h0.8M89.9 101.0h0.8M86.4 102.4h0.8M98.3 102.4h0.8M80.1 104.2h0.8M91.0 102.9h0.8M106.0 100.6h0.8M90.8 104.1h0.8M86.2 104.7h0.8M91.7 101.6h0.8M98.2 98.1h0.8M91.1 102.2h0.8M95.8 102.2h0.8M94.4 106.1h0.8M91.7 106.5h0.8M108.1 94.7h0.8M92.1 101.4h0.8M90.6 106.2h0.8M88.1 100.0h0.8M94.0 101.4h0.8M94.3 101.6h0.8M95.3 98.8h0.8" stroke="#000" stroke-width="0.8" stroke-opacity="1.0" fill="none"/>
<path d="M48.5 123.5h0.6M52.0 96.8h0.6M45.6 123.0h0.6M43.8 126.1h0.6M46.3 122.3h0.6M42.5 122.8h0.6M49.1 112.6h0.6M48.3 117.6h0.6M47.7 122.2h0.6M47.5 123.5h0.6M45.2 118.1h0.6M44.0 125.9h0.6M45.5 122.8h0.6M45.2 111.1h0.6M44.6 124.2h0.6M46.8 116.8h0.6M46.4 116.1h0.6M46.6 117.2h0.6M54.6 102.2h0.6M48.4 120.6h0.6M60.0 94.2h0.6M48.4 114.7h0.6M47.2 113.9h0.6M44.8 120.1h0.6M51.3 114.9h0.6M46.9 113.0h0.6M52.9 107.2h0.6M54.9 103.0h0.6M49.0 111.2h0.6M45.0 120.5h0.6M50.4 116.1h0.6M42.2 123.0h0.6M42.8 115.5h0.6M53.7 99.9h0.6M48.1 108.7h0.6M45.8 118.8h0.6M46.7 121.3h0.6M42.3 123.3h0.6M43.2 124.7h0.6M52.6 100.8h0.6M47.5 107.7h0.6M41.5 122.3h0.6M50.7 108.9h0.6M47.4 111.6h0.6M55.0 104.5h0.6M45.4 120.9h0.6M54.5 104.4h0.6M44.2 123.8h0.6M47.0 119.0h0.6M50.0 109.5h0.6M45.1 117.2h0.6M44.9 123.6h0.6M44.2 114.1h0.6M45.4 124.4h0.6M48.4 117.3h0.6M42.5 121.7h0.6M45.6 118.5h0.6M46.2 123.4h0.6M48.2 118.0h0.6M46.7 121.8h0.6M46.4 124.9h0.6M50.6 108.7h0.6M55.0 99.4h0.6M48.2 116.2h0.6M51.3 107.0h0.6M51.5 117.4h0.6M51.9 111.6h0.6M42.2 118.3h0.6M43.9 116.4h0.6M43.8 124.8h0.6M50.0 107.9h0.6M52.0 107.3h0.6M48.4 117.5h0.6M49.6 120.5h0.6M48.6 119.7h0.6M46.7 121.6h0.6M45.1 120.7h0.6M54.0 105.0h0.6M48.9 109.9h0.6M45.5 116.9h0.6M50.6 110.8h0.6M47.2 117.0h0.6M45.9 115.5h0.6M48.2 110.7h0.6M46.0 116.7h0.6M42.4 124.5h0.6M47.7 122.3h0.6M46.5 116.5h0.6M48.9 117.4h0.6M43.1 119.7h0.6M47.5 120.3h0.6M53.4 99.6h0.6M45.3 119.2h0.6M48.4 116.1h0.6M46.3 123.5h0.6M54.2 105.1h0.6M48.9 109.7h0.6M43.4 125.1h0.6M47.8 116.4h0.6M46.1 118.2h0.6M51.9 121.6h0.6M50.7 110.2h0.6M42.4 126.2h0.6M45.9 119.9h0.6M55.3 102.1h0.6M42.0 121.3h0.6M50.6 111.6h0.6M48.2 118.6h0.6M48.7 116.2h0.6M48.0 119.3h0.6M45.1 120.8h0.6M47.2 119.4h0.6M45.6 121.8h0.6M49.0 113.7h0.6M48.3 111.7h0.6M51.8 111.5h0.6M44.6 123.4h0.6M45.6 114.8h0.6M42.6 122.7h0.6M47.4 114.2h0.6M50.3 104.3h0.6M48.3 111.4h0.6M48.4 122.8h0.6M45.4 115.9h0.6M44.7 115.4h0.6M50.5 104.6h0.6M44.6 112.5h0.6M48.4 120.4h0.6M50.9 113.6h0.6M46.2 116.1h0.6M42.6 120.6h0.6M42.1 115.4h0.6M44.0 124.2h0.6M47.6 113.2h0.6M48.8 113.4h0.6M48.3 116.9h0.6M45.5 123.2h0.6M53.0 107.6h0.6M55.7 93.8h0.6M48.3 111.4h0.6M43.0 118.8h0.6M44.8 114.8h0.6M48.5 120.8h0.6M44.8 117.6h0.6M43.7 120.1h0.6M49.7 115.7h0.6M46.6 118.8h0.6M54.7 109.6h0.6M47.1 113.6h0.6M48.3 115.1h0.6M47.8 108.4h0.6M46.6 122.0h0.6M45.3 119.9h0.6M48.4 113.6h0.6M52.8 108.5h0.6M51.2 108.3h0.6M45.8 121.5h0.6M47.1 109.9h0.6M60.1 101.2h0.6M46.1 125.1h0.6M51.2 109.6h0.6M45.1 126.5h0.6M46.4 114.9h0.6M42.3 126.9h0.6M43.0 117.6h0.6M48.3 113.0h0.6M46.3 123.3h0.6M42.7 120.3h0.6M51.3 105.4h0.6M51.6 112.7h0.6M44.7 124.7h0.6M51.4 103.5h0.6M48.3 111.8h0.6M54.9 102.8h0.6M55.1 109.8h0.6M47.9 118.0h0.6M47.4 113.6h0.6M47.4 122.7h0.6M51.9 108.3h0.6M49.7 114.2h0.6M49.8 115.1h0.6M50.1 114.1h0.6M44.6 119.8h0.6M45.5 115.3h0.6M53.1 111.6h0.6M58.7 101.8h0.6M54.5 98.3h0.6M50.8 109.2h0.6M46.8 111.2h0.6M42.2 124.9h0.6M50.8 110.8h0.6M44.7 121.7h0.6M45.9 126.4h0.6M57.0 93.3h0.6M45.7 116.8h0.6M47.5 110.0h0.6M51.5 106.4h0.6M43.2 126.8h0.6M42.0 122.0h0.6M53.2 101.6h0.6M53.5 111.7h0.6M47.2 115.5h0.6M45.7 121.4h0.6M55.0 106.1h0.6M44.0 124.6h0.6M50.6 99.2h0.6M46.1 120.6h0.6M49.2 112.4h0.6M49.3 106.9h0.6M46.9 119.4h0.6M49.3 117.4h0.6M54.6 102.2h0.6M48.0 121.3h0.6M54.4 105.7h0.6M43.7 121.9h0.6M50.4 103.6h0.6M60.1 105.6h0.6M49.9 116.9h0.6M62.0 88.1h0.6M45.9 118.8h0.6M44.4 123.6h0.6M47.1 122.8h0.6M49.1 115.4h0.6M46.0 113.5h0.6M43.5 112.4h0.6M48.6 116.2h0.6M45.7 117.4h0.6M48.8 111.5h0.6M44.0 123.1h0.6M49.6 107.1h0.6M43.4 120.4h0.6M43.0 126.8h0.6M43.8 118.3h0.6M45.2 120.9h0.6M47.3 118.1h0.6M48.3 112.3h0.6M41.9 120.9h0.6M57.5 101.1h0.6M49.0 109.8h0.6M42.4 122.2h0.6M43.9 118.1h0.6M46.4 110.2h0.6M45.8 122.3h0.6M43.3 121.6h0.6M52.7 116.4h0.6M45.7 118.9h0.6M49.8 105.3h0.6M46.9 118.6h0.6M42.8 126.7h0.6M46.4 112.7h0.6M45.0 122.1h0.6M45.4 121.4h0.6M52.4 100.4h0.6M41.8 125.6h0.6M53.0 98.2h0.6M54.3 114.3h0.6M44.1 123.4h0.6M49.1 113.0h0.6M49.3 126.6h0.6M47.1 118.7h0.6M59.2 112.7h0.6M51.9 92.9h0.6M58.0 95.3h0.6M49.4 111.6h0.6M42.1 125.1h0.6M45.6 119.4h0.6M55.1 105.2h0.6M48.2 126.7h0.6M48.0 118.0h0.6M48.5 115.1h0.6M46.0 115.5h0.6M45.0 119.2h0.6M47.8 118.6h0.6M47.0 118.5h0.6M50.0 104.7h0.6M43.3 118.9h0.6M43.1 117.9h0.6M48.0 117.0h0.6M52.1 110.7h0.6M46.5 119.9h0.6M41.9 125.0h0.6M45.4 123.8h0.6M55.6 100.6h0.6M47.7 110.8h0.6M44.9 123.2h0.6M48.7 111.5h0.6M45.8 120.5h0.6M46.8 112.3h0.6M46.5 121.2h0.6M52.7 100.6h0.6M45.2 117.1h0.6M52.3 112.6h0.6M44.5 121.1h0.6M41.7 117.7h0.6M53.3 100.9h0.6M49.0 111.6h0.6M52.7 115.7h0.6M42.7 118.1h0.6M57.6 106.4h0.6M49.8 113.1h0.6M42.9 124.2h0.6M47.7 122.8h0.6M45.9 118.7h0.6M44.2 111.8h0.6M49.4 119.9h0.6M45.3 116.7h0.6M47.5 112.7h0.6M47.8 118.7h0.6M54.9 98.7h0.6M48.9 112.0h0.6M49.7 114.1h0.6M45.6 123.6h0.6M47.8 126.8h0.6M51.7 117.3h0.6M42.4 122.9h0.6M42.9 122.2h0.6M44.8 116.3h0.6M61.8 92.4h0.6M44.5 112.8h0.6M48.5 125.5h0.6M47.8 119.7h0.6M53.7 107.5h0.6M46.7 119.2h0.6M41.8 124.5h0.6M48.1 116.6h0.6M45.4 122.8h0.6M43.3 126.3h0.6M57.1 90.6h0.6M45.9 120.0h0.6M46.0 123.2h0.6M49.2 113.4h0.6M53.3 111.7h0.6M53.5 104.8h0.6M59.4 94.7h0.6M48.5 115.5h0.6M49.6 116.3h0.6M47.9 112.9h0.6M48.1 116.7h0.6M42.2 126.3h0.6M43.2 124.0h0.6M53.8 100.4h0.6M47.4 126.4h0.6M50.1 116.0h0.6M56.5 107.5h0.6M43.1 113.7h0.6M46.5 107.3h0.6M49.5 104.8h0.6M47.8 106.7h0.6M48.5 112.3h0.6M45.2 125.4h0.6M47.5 119.3h0.6M55.9 105.6h0.6M48.9 115.4h0.6M51.4 108.3h0.6M50.6 113.7h0.6M48.3 112.4h0.6M51.9 103.8h0.6M49.3 115.1h0.6M45.6 116.8h0.6M52.1 106.2h0.6M45.3 121.7h0.6M52.0 105.8h0.6M44.9 121.5h0.6M45.0 116.1h0.6M48.8 119.5h0.6M47.0 119.6h0.6M47.1 115.2h0.6M45.7 120.1h0.6M43.0 124.7h0.6M53.9 102.4h0.6M47.6 111.5h0.6M47.3 126.7h0.6M43.9 125.6h0.6M44.3 118.2h0.6M45.6 120.3h0.6M48.6 112.7h0.6M44.6 121.9h0.6M53.9 104.5h0.6M57.8 95.6h0.6M49.1 111.7h0.6M45.4 123.4h0.6M50.5 109.1h0.6M45.7 119.0h0.6M56.1 94.8h0.6M43.7 117.3h0.6M42.7 119.3h0.6M47.4 122.5h0.6M46.4 110.2h0.6M46.2 117.8h0.6M45.5 112.9h0.6M44.8 112.2h0.6M45.1 122.1h0.6M44.2 123.8h0.6M44.6 117.8h0.6M46.3 111.7h0.6M51.5 110.7h0.6M52.1 115.2h0.6M44.4 115.5h0.6M44.4 120.7h0.6M50.5 107.3h0.6M42.3 120.1h0.6M45.9 116.1h0.6M45.2 118.6h0.6M52.1 103.0h0.6M42.4 122.0h0.6M52.7 108.2h0.6M48.4 115.9h0.6M46.6 108.9h0.6M53.0 107.5h0.6M42.5 125.8h0.6M48.9 114.7h0.6M47.5 119.4h0.6M48.7 117.1h0.6M45.1 112.8h0.6M42.4 124.2h0.6M50.5 110.6h0.6M46.1 112.4h0.6M51.3 108.3h0.6M51.2 103.8h0.6M43.3 121.1h0.6M54.5 108.9h0.6M43.6 123.8h0.6M54.1 105.0h0.6M46.1 116.1h0.6M45.5 117.9h0.6M45.3 120.6h0.6M50.6 118.5h0.6M51.4 113.4h0.6M47.4 113.3h0.6M46.4 121.1h0.6M52.4 102.1h0.6M43.3 123.4h0.6M43.8 123.3h0.6M47.5 116.5h0.6M42.2 116.7h0.6M48.1 119.1h0.6M43.4 121.1h0.6M44.4 116.4h0.6M51.0 116.0h0.6M44.6 120.9h0.6M58.5 107.2h0.6M55.9 106.4h0.6M48.6 112.6h0.6M47.4 116.1h0.6M53.5 109.7h0.6M46.2 109.4h0.6M51.2 107.0h0.6M55.2 103.6h0.6M48.7 108.5h0.6M45.1 122.2h0.6M49.3 106.7h0.6M45.5 126.6h0.6M47.7 125.2h0.6M49.1 104.9h0.6M56.0 101.2h0.6M43.1 126.4h0.6M46.1 119.4h0.6M45.2 115.6h0.6M51.1 104.2h0.6M44.9 120.0h0.6M57.7 97.5h0.6M47.6 114.5h0.6M46.8 113.0h0.6M46.2 120.2h0.6M43.4 123.8h0.6M48.1 113.8h0.6M41.7 121.5h0.6M51.7 118.5h0.6M42.2 123.2h0.6M49.0 113.6h0.6M45.1 122.1h0.6M50.1 122.9h0.6M42.5 122.7h0.6M52.5 105.9h0.6M44.7 115.5h0.6M47.3 122.1h0.6M46.9 120.5h0.6M46.1 117.1h0.6M46.4 115.2h0.6M46.2 120.5h0.6M43.5 117.1h0.6M53.8 100.5h0.6M45.5 120.8h0.6M54.4 104.3h0.6M51.8 115.8h0.6M54.3 97.4h0.6M54.7 105.3h0.6M50.9 108.4h0.6M47.5 119.5h0.6M53.5 109.0h0.6M46.6 122.2h0.6M43.5 122.8h0.6M42.6 122.1h0.6M50.5 112.0h0.6M55.6 90.5h0.6M47.9 109.2h0.6M49.1 107.5h0.6M45.3 124.9h0.6M46.9 116.7h0.6M45.4 124.8h0.6M49.8 120.8h0.6M52.8 105.1h0.6M50.5 119.0h0.6M41.4 125.8h0.6M44.8 116.8h0.6M44.4 112.5h0.6M43.3 119.7h0.6M46.0 113.5h0.6M45.5 120.1h0.6M51.7 103.9h0.6M44.9 109.1h0.6M44.0 119.0h0.6M45.3 118.6h0.6M51.0 113.4h0.6M50.4 117.2h0.6M56.7 99.7h0.6M48.6 114.7h0.6M42.5 125.2h0.6M47.4 115.7h0.6M53.1 110.0h0.6M46.2 120.4h0.6M46.1 117.5h0.6M46.7 116.4h0.6M46.6 118.7h0.6M45.9 112.8h0.6M61.7 100.7h0.6M49.9 113.8h0.6M46.6 118.0h0.6M48.4 113.6h0.6M49.7 110.4h0.6M48.2 118.3h0.6M43.8 122.9h0.6M48.1 107.3h0.6M43.8 125.8h0.6M43.6 124.0h0.6M47.0 122.5h0.6M50.1 119.7h0.6M49.2 105.4h0.6M46.9 118.7h0.6M57.1 96.2h0.6M55.9 103.5h0.6M50.5 107.7h0.6M56.7 104.9h0.6M45.2 125.4h0.6M43.1 119.1h0.6M53.6 97.1h0.6M49.2 117.2h0.6M56.2 96.6h0.6M45.3 122.8h0.6M44.7 116.7h0.6M53.0 109.4h0.6M57.9 103.4h0.6M47.1 107.8h0.6M48.1 115.3h0.6M51.4 109.9h0.6M44.7 122.2h0.6M43.7 117.6h0.6M52.3 100.8h0.6M51.2 111.7h0.6M49.8 111.4h0.6M45.2 115.2h0.6M46.6 120.0h0.6M48.0 115.0h0.6M44.9 113.7h0.6M46.2 118.5h0.6M42.6 123.3h0.6M48.9 116.0h0.6M49.6 117.1h0.6M47.2 119.2h0.6M43.4 118.6h0.6M45.8 115.1h0.6M59.7 87.3h0.6M41.8 118.8h0.6M48.3 116.2h0.6M53.2 108.8h0.6M50.0 109.4h0.6M48.8 116.4h0.6M48.4 113.9h0.6M53.3 100.1h0.6M47.6 117.4h0.6M52.9 113.4h0.6M44.3 115.5h0.6M43.5 118.0h0.6M45.6 112.4h0.6M48.7 111.1h0.6M42.8 121.6h0.6M44.8 116.2h0.6M49.6 117.5h0.6M56.4 92.9h0.6M48.1 117.2h0.6M49.4 108.4h0.6M55.7 103.8h0.6M53.5 103.5h0.6M47.7 117.1h0.6M47.4 115.7h0.6M44.9 113.0h0.6M42.9 123.6h0.6M41.5 123.9h0.6M44.2 124.9h0.6M49.8 107.6h0.6M51.5 107.3h0.6M44.1 120.0h0.6M50.9 99.7h0.6M51.1 110.2h0.6M48.3 118.3h0.6M46.7 126.1h0.6M44.8 119.6h0.6M50.7 114.9h0.6M47.5 116.3h0.6M41.9 125.4h0.6M46.4 117.6h0.6M50.4 105.2h0.6M44.0 122.6h0.6M49.0 120.8h0.6M46.3 115.6h0.6M48.2 114.5h0.6M51.9 109.1h0.6M54.1 104.9h0.6M45.1 109.2h0.6M48.4 119.6h0.6M44.4 116.8h0.6M43.2 120.1h0.6M49.8 117.1h0.6M48.9 112.2h0.6M57.4 96.2h0.6M44.7 119.6h0.6M45.6 115.2h0.6M55.6 109.6h0.6M45.6 120.2h0.6M42.9 123.7h0.6M49.5 109.3h0.6M51.2 116.5h0.6M43.2 120.9h0.6M46.7 110.0h0.6M49.2 118.3h0.6M44.9 118.0h0.6M47.4 124.3h0.6M50.5 105.3h0.6M53.0 109.7h0.6M45.7 115.2h0.6M45.7 121.5h0.6M43.2 122.8h0.6M50.3 103.6h0.6M49.6 112.6h0.6M43.5 123.5h0.6M42.5 114.9h0.6M42.0 122.2h0.6M44.0 120.1h0.6M48.2 107.5h0.6M49.9 109.9h0.6M48.1 118.9h0.6M41.8 122.7h0.6M49.3 106.0h0.6M45.4 113.5h0.6M43.3 118.1h0.6M47.8 114.1h0.6M43.7 114.1h0.6M46.6 119.6h0.6M45.7 122.0h0.6M50.0 108.8h0.6M52.4 109.4h0.6M44.6 118.2h0.6M46.6 114.0h0.6M42.2 120.8h0.6M52.5 107.0h0.6M49.8 123.7h0.6M46.0 117.3h0.6M48.1 117.6h0.6M47.4 104.4h0.6M53.2 98.4h0.6M42.4 120.7h0.6M47.6 113.9h0.6M43.8 122.7h0.6M57.0 90.9h0.6M47.9 120.6h0.6M44.1 125.1h0.6M44.4 124.2h0.6M50.1 105.1h0.6M41.7 125.0h0.6M48.2 115.8h0.6M48.6 117.4h0.6M48.7 118.4h0.6M48.6 114.7h0.6M43.1 119.2h0.6M41.9 126.4h0.6M58.0 93.3h0.6M44.0 120.3h0.6M55.0 102.2h0.6M50.7 106.3h0.6M46.1 122.9h0.6M46.0 116.4h0.6M46.1 124.5h0.6M44.5 120.6h0.6M47.3 114.4h0.6M45.6 121.6h0.6M57.6 105.4h0.6M48.3 116.2h0.6M45.4 114.5h0.6M57.5 93.5h0.6M48.9 122.5h0.6M46.0 119.1h0.6M44.1 110.0h0.6M49.1 113.9h0.6M45.9 121.1h0.6M44.3 120.5h0.6M48.2 119.2h0.6M48.7 111.8h0.6M41.5 125.4h0.6M47.0 118.4h0.6M42.8 120.6h0.6M54.1 101.3h0.6M47.0 122.9h0.6M51.0 106.9h0.6M46.8 121.8h0.6M50.5 110.9h0.6M47.1 120.7h0.6M54.2 96.9h0.6M52.1 116.5h0.6M53.8 108.3h0.6M45.5 116.1h0.6M50.2 112.8h0.6M47.2 124.7h0.6M53.8 110.1h0.6M53.6 105.9h0.6M61.6 100.4h0.6M51.3 105.7h0.6M42.5 125.3h0.6M43.3 122.6h0.6M44.6 126.1h0.6M48.1 117.9h0.6M44.3 113.6h0.6M50.4 102.2h0.6M43.5 126.5h0.6M42.4 124.5h0.6M46.0 123.7h0.6M43.2 119.9h0.6M47.2 121.2h0.6M46.4 112.5h0.6M47.0 122.6h0.6M53.6 106.6h0.6M46.7 110.6h0.6M52.3 102.3h0.6M54.3 99.3h0.6M48.8 108.1h0.6M44.5 117.2h0.6M45.1 120.3h0.6M51.1 108.6h0.6M45.7 120.7h0.6M48.6 117.3h0.6M49.0 116.4h0.6M56.7 97.2h0.6M43.3 111.1h0.6M51.0 109.4h0.6M53.1 119.6h0.6M47.1 116.9h0.6M52.7 101.4h0.6M43.1 123.9h0.6M46.3 117.2h0.6M48.8 121.0h0.6M45.6 113.7h0.6M47.7 110.5h0.6M56.0 107.1h0.6M53.0 110.9h0.6M45.7 111.9h0.6M46.0 124.9h0.6M47.8 125.5h0.6" stroke="#000" stroke-width="0.6" stroke-opacity="1.0" fill="none"/>
<path d="M49.5 123.8h0.55M66.2 101.8h0.55M43.1 98.7h0.55M72.2 125.6h0.55M57.6 91.2h0.55M56.4 123.4h0.55M50.0 120.3h0.55M62.6 110.9h0.55M46.7 117.8h0.55M56.9 115.4h0.55M55.6 82.6h0.55M66.6 113.4h0.55M48.3 124.3h0.55M56.9 126.4h0.55M57.5 120.1h0.55M63.3 125.1h0.55M52.1 123.8h0.55M62.8 92.8h0.55M61.6 125.9h0.55M48.0 122.9h0.55M73.3 122.4h0.55M54.6 125.4h0.55M55.9 115.9h0.55M73.0 96.6h0.55M77.2 97.6h0.55M46.0 121.2h0.55M59.6 108.5h0.55M66.1 88.3h0.55M63.1 123.0h0.55M52.8 125.8h0.55M52.9 121.2h0.55M59.7 124.1h0.55M77.6 113.1h0.55M53.0 107.0h0.55M68.4 117.7h0.55M47.5 104.7h0.55M76.9 124.1h0.55M49.1 109.7h0.55M59.4 122.0h0.55M63.3 120.8h0.55M48.5 102.9h0.55M70.8 115.0h0.55M64.8 126.2h0.55M56.7 76.9h0.55M54.8 97.4h0.55M42.4 124.0h0.55M69.6 124.5h0.55M61.3 103.7h0.55M68.7 118.7h0.55M75.2 123.5h0.55M65.2 120.6h0.55M71.4 105.0h0.55M64.8 116.4h0.55M68.2 122.9h0.55M64.5 124.4h0.55M55.7 119.4h0.55M42.0 111.8h0.55M77.5 113.4h0.55M67.3 111.6h0.55M55.7 115.0h0.55M80.9 124.3h0.55M81.9 117.5h0.55M61.0 121.3h0.55M61.5 123.9h0.55M54.4 121.4h0.55M64.7 111.7h0.55M65.3 95.2h0.55M52.1 114.5h0.55M61.1 123.7h0.55M66.5 101.3h0.55M53.7 122.3h0.55M78.4 102.3h0.55M46.4 124.6h0.55M42.6 117.1h0.55M72.8 115.6h0.55M75.7 122.0h0.55M45.8 120.5h0.55M63.9 114.1h0.55M75.2 120.4h0.55M72.5 120.2h0.55M63.3 123.4h0.55M77.3 98.3h0.55M76.9 102.2h0.55M81.8 107.4h0.55M66.4 121.8h0.55M52.4 109.9h0.55M71.2 124.9h0.55M67.6 97.4h0.55M65.0 120.0h0.55M51.6 105.4h0.55M54.5 107.4h0.55M56.9 125.2h0.55M58.0 73.0h0.55M66.0 109.9h0.55M71.0 118.8h0.55M44.1 120.2h0.55M41.9 121.3h0.55M50.6 112.4h0.55M60.1 122.9h0.55M63.5 115.2h0.55M54.7 125.2h0.55M66.2 121.3h0.55M75.5 123.3h0.55M65.7 118.7h0.55M55.6 79.0h0.55M60.6 118.4h0.55M42.8 120.5h0.55M54.1 108.5h0.55M77.2 107.1h0.55M40.3 104.2h0.55M61.7 45.9h0.55M66.6 50.6h0.55M70.2 121.1h0.55M64.4 117.0h0.55M52.2 121.8h0.55M68.0 112.7h0.55M51.0 117.4h0.55M50.2 125.1h0.55M58.7 118.9h0.55M46.3 102.1h0.55M48.3 116.7h0.55M71.2 120.6h0.55M53.4 107.4h0.55M47.6 119.4h0.55M55.7 108.8h0.55M69.7 105.5h0.55M46.5 122.9h0.55M51.9 118.9h0.55M59.5 119.0h0.55M67.0 103.8h0.55M56.4 104.8h0.55M50.2 123.9h0.55M66.3 79.8h0.55M57.9 125.2h0.55M55.4 117.0h0.55M72.5 124.6h0.55M53.9 54.8h0.55M80.7 91.3h0.55M54.1 114.5h0.55M49.3 118.5h0.55M61.3 123.9h0.55M54.6 93.3h0.55M40.0 106.5h0.55M74.9 124.8h0.55M67.3 118.1h0.55M52.1 102.5h0.55M42.8 121.0h0.55M47.7 118.0h0.55M60.1 116.7h0.55M42.4 102.0h0.55M47.9 122.9h0.55M68.2 85.5h0.55M64.6 106.5h0.55M54.9 104.7h0.55M56.6 104.5h0.55M66.9 118.3h0.55M56.6 80.6h0.55M50.9 119.3h0.55M74.0 99.1h0.55M78.2 124.3h0.55M40.7 116.6h0.55M80.4 124.7h0.55M61.4 103.3h0.55M77.4 83.6h0.55M76.5 115.7h0.55M78.1 124.7h0.55M50.5 100.6h0.55M42.0 124.5h0.55M49.5 120.3h0.55M71.1 106.0h0.55M78.3 123.8h0.55M66.3 109.2h0.55M69.7 120.7h0.55M82.3 122.3h0.55M73.4 98.9h0.55M49.1 125.7h0.55M54.8 110.6h0.55M73.3 123.0h0.55M60.6 121.5h0.55M69.2 120.3h0.55M50.0 113.6h0.55M82.1 97.7h0.55M63.9 114.3h0.55M49.0 103.2h0.55M71.1 116.7h0.55M62.9 111.9h0.55M40.2 118.9h0.55M61.1 114.9h0.55M72.4 125.5h0.55M44.1 118.9h0.55M64.8 119.5h0.55M68.2 90.8h0.55M70.0 100.9h0.55M77.9 115.4h0.55M58.8 121.1h0.55M49.5 47.1h0.55M76.7 126.2h0.55M81.4 123.9h0.55M64.7 124.2h0.55M68.7 110.5h0.55M69.9 121.4h0.55M72.6 123.8h0.55M61.5 114.4h0.55M61.3 123.5h0.55M45.5 76.0h0.55M64.3 118.3h0.55M54.1 124.3h0.55M62.3 86.0h0.55M79.7 124.8h0.55M70.4 116.9h0.55M58.8 122.9h0.55M83.2 122.3h0.55M62.4 99.2h0.55M66.9 124.9h0.55M48.2 111.2h0.55M40.7 120.6h0.55M63.5 111.0h0.55M56.3 116.2h0.55M53.7 113.4h0.55M47.0 123.5h0.55M74.8 113.6h0.55M77.2 120.7h0.55M64.1 125.9h0.55M73.2 97.2h0.55M78.5 45.9h0.55M75.8 118.3h0.55M52.1 116.5h0.55M76.8 110.4h0.55M43.4 112.4h0.55M53.3 110.8h0.55M56.0 110.4h0.55M57.0 123.2h0.55M61.2 123.2h0.55M80.9 119.1h0.55M47.4 110.0h0.55M78.2 112.1h0.55M42.1 112.0h0.55M52.8 117.0h0.55M60.8 117.4h0.55M50.2 74.7h0.55M59.6 71.6h0.55M61.7 120.8h0.55M68.3 117.4h0.55M59.9 125.6h0.55M59.4 86.4h0.55M59.5 108.1h0.55M54.9 126.2h0.55M73.8 107.0h0.55M77.4 90.8h0.55M64.5 122.1h0.55M65.4 120.1h0.55M76.9 123.5h0.55M45.6 77.9h0.55M48.8 100.3h0.55M75.2 124.4h0.55M40.8 124.8h0.55M55.4 84.1h0.55M74.8 115.9h0.55M54.2 119.5h0.55M73.0 113.3h0.55M42.1 125.5h0.55M51.7 114.2h0.55M61.2 120.3h0.55M66.2 85.7h0.55M47.6 119.3h0.55M62.8 120.4h0.55M48.7 123.1h0.55M62.8 121.0h0.55M66.7 121.2h0.55M55.0 123.5h0.55M53.2 120.3h0.55M58.1 117.6h0.55M51.1 91.3h0.55M47.7 114.5h0.55M49.8 124.1h0.55M63.7 117.5h0.55M64.5 123.1h0.55M64.4 118.2h0.55M47.3 100.4h0.55M47.5 113.8h0.55M68.7 117.1h0.55M46.6 84.4h0.55M42.5 109.9h0.55M67.1 119.0h0.55M57.1 93.3h0.55M46.6 121.9h0.55M78.9 125.8h0.55M64.3 121.5h0.55M59.5 110.4h0.55M44.0 113.5h0.55M55.7 116.2h0.55M65.8 94.4h0.55M77.3 121.7h0.55M71.8 118.4h0.55M67.3 126.1h0.55M54.2 115.1h0.55M60.7 124.1h0.55M44.6 114.3h0.55M41.9 116.7h0.55M55.9 120.3h0.55M62.9 125.9h0.55M46.7 124.9h0.55M71.0 108.2h0.55M58.5 121.6h0.55M42.3 86.7h0.55M56.5 113.5h0.55M58.7 113.7h0.55M78.0 113.7h0.55M77.7 56.6h0.55M66.8 126.3h0.55M73.3 124.0h0.55M55.7 126.2h0.55M68.4 110.8h0.55M64.4 104.1h0.55M59.6 108.4h0.55M58.2 96.7h0.55M55.3 104.7h0.55M62.3 124.7h0.55M65.2 125.8h0.55M78.1 120.1h0.55M61.5 117.5h0.55M48.6 121.5h0.55M57.0 93.4h0.55M65.5 88.4h0.55M56.4 125.4h0.55M52.2 105.3h0.55M67.7 92.1h0.55M54.4 78.5h0.55M63.2 108.7h0.55M54.8 109.3h0.55M73.2 117.4h0.55M59.1 122.8h0.55M51.6 123.1h0.55M49.5 120.7h0.55M63.5 124.1h0.55M60.9 121.2h0.55M79.5 118.8h0.55M62.6 112.3h0.55M44.9 90.5h0.55M76.7 120.8h0.55M47.9 111.0h0.55M62.7 124.2h0.55M59.4 116.9h0.55M46.6 125.8h0.55M67.4 101.2h0.55M47.5 116.7h0.55M55.3 125.7h0.55M72.4 108.3h0.55M42.8 124.0h0.55M53.3 120.2h0.55M74.5 126.2h0.55M48.5 79.1h0.55M60.1 113.2h0.55M80.3 118.1h0.55M73.4 123.4h0.55M71.5 85.2h0.55M54.8 93.6h0.55M48.5 104.1h0.55M52.4 124.8h0.55M75.3 125.5h0.55M58.1 99.1h0.55M81.8 123.1h0.55M60.5 99.3h0.55M57.4 112.6h0.55M61.2 68.4h0.55M79.0 111.9h0.55M50.4 77.4h0.55M76.5 118.3h0.55M46.4 77.8h0.55M46.2 126.1h0.55M73.0 111.6h0.55M61.8 116.1h0.55M55.5 124.0h0.55M66.3 114.7h0.55M50.5 103.3h0.55M48.4 125.0h0.55M72.0 113.1h0.55M53.9 118.9h0.55M48.7 120.3h0.55M55.8 91.3h0.55M43.1 124.2h0.55M47.4 122.9h0.55M55.3 116.8h0.55M53.8 70.8h0.55M50.1 124.7h0.55M51.4 125.8h0.55M62.5 124.1h0.55M53.4 114.2h0.55M53.8 119.3h0.55M46.2 109.5h0.55M75.8 125.6h0.55M72.6 90.8h0.55M69.7 111.0h0.55M57.5 106.4h0.55M51.9 120.3h0.55M67.9 124.6h0.55M79.1 101.5h0.55M69.8 60.3h0.55M71.8 105.6h0.55M64.9 115.2h0.55M71.1 118.6h0.55M66.9 125.5h0.55M53.0 95.0h0.55M52.1 110.6h0.55M52.5 105.5h0.55M40.5 123.3h0.55M77.7 103.3h0.55M47.5 125.2h0.55M50.7 108.8h0.55M68.5 120.7h0.55M59.4 115.7h0.55M46.9 114.7h0.55M64.4 117.7h0.55M72.6 105.3h0.55M57.2 118.2h0.55M59.2 121.9h0.55M43.3 112.3h0.55M52.6 114.7h0.55M55.7 120.4h0.55M54.6 105.4h0.55M67.5 126.1h0.55M45.8 87.5h0.55M40.3 102.6h0.55M72.6 119.7h0.55M56.8 114.0h0.55M43.2 118.2h0.55M81.6 126.1h0.55M48.5 115.4h0.55M70.6 124.0h0.55M61.1 92.2h0.55M73.6 115.7h0.55M69.6 121.6h0.55M81.9 124.2h0.55M68.7 115.3h0.55M55.0 126.0h0.55M52.6 123.7h0.55M61.6 118.9h0.55M67.9 61.7h0.55M48.1 124.3h0.55M55.8 125.2h0.55M61.3 119.0h0.55M50.5 119.2h0.55M42.7 106.4h0.55M73.7 123.0h0.55M62.9 98.5h0.55M40.1 109.5h0.55M45.6 126.3h0.55M42.4 116.1h0.55M51.3 121.6h0.55M51.9 125.9h0.55M48.0 118.7h0.55M64.4 123.8h0.55M60.9 114.3h0.55M50.5 124.4h0.55M58.1 96.3h0.55M49.7 110.3h0.55M56.0 91.1h0.55M46.8 113.7h0.55M43.0 105.2h0.55M71.1 122.2h0.55M64.5 106.0h0.55M59.0 122.2h0.55M65.5 123.0h0.55M52.6 122.9h0.55M65.7 124.8h0.55M64.5 108.7h0.55M47.5 101.4h0.55M58.0 106.7h0.55M69.0 126.2h0.55M58.9 105.1h0.55M47.8 118.5h0.55M52.1 124.7h0.55M48.8 114.0h0.55M50.7 126.1h0.55M61.9 112.3h0.55M57.7 118.4h0.55M39.9 124.9h0.55M47.4 121.8h0.55M58.7 125.7h0.55M78.2 109.0h0.55M52.3 94.9h0.55M47.8 119.6h0.55M44.3 123.1h0.55M65.5 104.7h0.55M57.2 126.4h0.55M46.0 113.6h0.55M53.8 105.0h0.55M74.8 112.1h0.55M56.4 105.0h0.55M59.6 107.7h0.55M42.2 118.0h0.55M69.8 96.5h0.55M77.1 123.9h0.55M64.6 124.3h0.55M64.7 75.9h0.55M48.1 125.6h0.55M43.8 121.8h0.55M43.8 117.9h0.55M75.5 118.9h0.55M44.7 124.8h0.55M57.5 67.1h0.55M73.6 113.5h0.55M43.5 112.4h0.55M53.5 98.6h0.55M50.9 96.8h0.55M82.6 125.0h0.55M73.2 113.7h0.55M74.0 125.3h0.55M54.1 122.4h0.55M62.3 116.1h0.55M49.4 124.3h0.55M50.2 112.2h0.55M55.9 111.7h0.55M66.0 117.0h0.55M71.8 101.6h0.55M60.3 112.4h0.55M63.2 87.9h0.55M57.7 126.4h0.55M58.8 112.6h0.55M68.5 111.6h0.55M65.9 99.3h0.55M50.6 120.4h0.55M66.2 110.4h0.55M44.0 112.0h0.55M48.3 120.2h0.55M46.0 121.7h0.55M46.9 124.5h0.55M45.7 109.8h0.55M46.3 116.7h0.55M46.9 125.2h0.55M66.2 113.2h0.55M68.8 119.2h0.55M66.2 115.7h0.55M43.1 115.0h0.55M52.8 113.7h0.55M46.0 113.2h0.55M61.5 122.6h0.55M74.0 115.4h0.55M46.5 50.9h0.55M55.2 121.8h0.55M71.4 125.9h0.55M68.4 124.3h0.55M70.9 123.5h0.55M41.9 101.9h0.55M63.1 123.1h0.55M51.3 121.0h0.55M61.4 95.6h0.55M60.2 118.8h0.55M80.5 121.7h0.55M45.1 119.7h0.55M54.2 115.4h0.55M56.0 117.1h0.55M83.0 125.9h0.55M63.5 108.7h0.55M43.3 110.1h0.55M51.9 104.1h0.55M61.7 101.2h0.55M40.3 121.1h0.55M69.6 121.0h0.55M72.6 122.9h0.55M60.9 125.0h0.55M51.8 104.9h0.55M70.0 118.2h0.55M43.6 122.8h0.55M61.0 80.9h0.55M65.3 119.6h0.55M49.1 122.9h0.55M66.6 119.0h0.55M56.6 102.3h0.55M57.7 123.1h0.55M66.4 112.9h0.55M61.5 97.2h0.55M66.5 119.0h0.55M74.0 108.8h0.55M58.4 107.3h0.55M52.7 110.5h0.55M73.1 122.1h0.55M70.6 122.8h0.55M40.2 120.2h0.55M59.3 115.5h0.55M56.2 111.9h0.55M62.3 96.1h0.55M83.0 120.7h0.55M68.8 122.4h0.55M50.0 105.0h0.55M51.4 106.7h0.55M59.2 102.0h0.55M69.2 108.7h0.55M67.0 125.3h0.55M63.7 117.2h0.55M68.8 123.4h0.55M75.4 126.0h0.55M69.8 125.7h0.55M70.5 120.7h0.55M62.4 97.4h0.55M54.2 102.0h0.55M52.7 116.9h0.55M47.9 124.9h0.55M61.7 126.3h0.55M68.3 112.4h0.55M55.4 83.4h0.55M47.1 66.9h0.55M71.8 119.1h0.55M51.0 107.6h0.55M48.9 112.5h0.55M77.9 124.4h0.55M45.0 113.6h0.55M63.8 122.8h0.55M50.0 110.1h0.55M59.8 125.6h0.55M54.3 122.2h0.55M49.7 108.7h0.55M55.3 121.3h0.55M73.6 114.4h0.55M80.0 125.1h0.55M50.3 110.7h0.55M70.5 82.5h0.55M55.7 126.1h0.55M53.0 62.9h0.55M69.1 125.1h0.55M65.5 124.5h0.55M64.3 108.5h0.55M58.3 121.9h0.55M66.9 124.0h0.55M64.9 125.5h0.55M47.1 91.9h0.55M75.4 126.1h0.55M70.1 110.7h0.55M77.0 57.7h0.55M42.9 109.0h0.55M57.7 125.0h0.55M49.6 119.7h0.55M62.7 112.8h0.55M80.6 89.7h0.55M73.1 120.0h0.55M76.4 83.9h0.55M69.8 125.1h0.55M79.3 108.0h0.55M70.9 49.9h0.55M53.7 96.7h0.55M51.0 97.1h0.55M69.5 119.9h0.55M74.4 123.4h0.55M76.7 120.7h0.55M42.1 118.7h0.55M61.8 100.3h0.55M81.9 122.4h0.55M44.8 115.1h0.55M52.6 121.4h0.55M69.7 123.9h0.55M74.0 78.1h0.55M61.8 121.5h0.55M46.4 103.3h0.55M56.6 126.4h0.55M42.4 110.3h0.55M47.7 80.5h0.55M78.1 122.7h0.55M55.0 118.6h0.55M59.8 107.6h0.55M46.6 69.8h0.55M63.1 104.7h0.55M66.7 124.3h0.55M53.6 117.7h0.55M57.2 115.8h0.55M81.2 118.8h0.55M78.8 74.9h0.55M75.4 116.3h0.55M57.1 122.2h0.55M57.3 125.6h0.55M61.4 92.3h0.55M73.3 100.2h0.55M57.2 119.3h0.55M43.9 118.5h0.55M72.2 125.4h0.55M79.7 109.8h0.55M68.3 108.6h0.55M50.2 123.1h0.55M54.6 107.4h0.55M44.9 89.3h0.55M71.5 103.4h0.55M44.7 104.4h0.55M50.0 125.2h0.55M58.6 84.1h0.55M54.3 124.3h0.55M57.2 122.2h0.55M66.3 101.3h0.55M68.5 117.5h0.55M73.1 109.1h0.55M47.3 118.5h0.55M64.2 103.3h0.55M55.5 97.3h0.55M57.9 87.6h0.55M71.3 109.7h0.55M42.8 125.8h0.55M71.3 117.1h0.55M53.7 119.8h0.55M41.1 114.3h0.55M41.7 117.9h0.55M78.4 121.9h0.55M55.4 77.1h0.55M45.4 88.9h0.55M57.4 108.7h0.55M74.2 99.5h0.55M80.5 105.1h0.55M77.7 124.3h0.55M79.8 110.8h0.55M64.1 121.8h0.55M59.7 81.0h0.55M72.2 114.3h0.55M64.2 111.7h0.55M69.4 116.3h0.55M51.0 124.9h0.55M56.6 108.9h0.55M70.8 118.7h0.55M62.3 94.3h0.55M66.2 121.1h0.55M57.1 108.4h0.55M70.2 122.7h0.55M67.8 118.3h0.55M83.5 110.5h0.55M60.6 116.9h0.55M63.7 125.0h0.55M64.4 111.8h0.55M74.5 114.4h0.55M64.6 122.7h0.55M54.4 116.1h0.55M51.3 102.1h0.55M80.8 122.7h0.55M48.7 119.7h0.55M70.0 87.7h0.55M49.4 68.0h0.55M55.2 97.0h0.55M44.5 81.1h0.55M63.1 105.2h0.55M72.7 101.7h0.55M77.2 126.1h0.55M40.7 118.1h0.55M68.8 121.3h0.55M71.8 79.6h0.55M67.6 116.6h0.55M45.6 97.8h0.55M57.7 116.9h0.55M61.6 113.8h0.55M63.8 112.3h0.55M53.6 114.6h0.55M72.5 122.3h0.55M74.9 115.9h0.55M58.2 126.4h0.55M68.8 119.9h0.55M69.9 120.5h0.55M50.3 124.9h0.55M70.7 81.7h0.55M68.3 125.3h0.55M55.7 122.6h0.55M71.2 103.0h0.55M43.8 74.3h0.55M78.7 94.5h0.55M58.2 122.2h0.55M48.8 122.2h0.55M64.2 105.0h0.55M70.0 106.1h0.55M72.6 126.1h0.55M51.9 121.0h0.55M75.0 86.5h0.55M41.1 121.9h0.55M61.7 115.4h0.55M64.4 119.2h0.55M69.3 118.3h0.55M55.0 108.7h0.55M67.0 113.2h0.55M64.1 117.4h0.55M79.6 111.8h0.55M51.0 86.3h0.55M66.0 118.1h0.55M77.4 112.1h0.55M54.0 95.1h0.55M50.2 115.0h0.55M73.9 124.8h0.55M72.5 121.7h0.55M55.9 109.2h0.55M60.6 111.8h0.55M65.1 103.2h0.55M46.9 121.0h0.55M44.8 107.1h0.55M50.4 123.2h0.55M79.4 118.9h0.55M58.8 97.8h0.55M48.5 108.2h0.55M52.5 113.6h0.55M58.4 121.5h0.55M80.1 114.7h0.55M41.3 111.7h0.55M48.0 119.8h0.55M59.9 118.5h0.55M48.0 109.9h0.55M67.6 119.3h0.55M51.9 122.8h0.55M43.4 121.4h0.55M76.6 121.2h0.55M43.4 113.7h0.55M70.0 105.7h0.55M78.2 109.5h0.55M63.1 118.9h0.55M42.4 93.5h0.55M64.3 103.7h0.55M56.0 125.6h0.55M52.3 115.3h0.55M59.9 76.8h0.55M46.9 125.4h0.55M78.8 104.4h0.55M58.0 110.0h0.55M71.1 94.9h0.55M53.5 125.5h0.55M49.3 120.8h0.55M50.8 117.9h0.55M67.8 125.2h0.55M73.3 109.5h0.55M57.7 104.3h0.55M60.9 110.0h0.55M70.9 84.7h0.55M50.8 116.8h0.55M57.9 126.2h0.55M49.9 123.6h0.55M72.6 66.8h0.55M78.0 123.0h0.55M78.0 125.2h0.55M70.9 110.0h0.55M62.3 114.8h0.55M42.0 114.9h0.55M51.4 105.8h0.55M43.0 70.4h0.55M62.7 120.8h0.55M66.3 126.1h0.55M74.7 90.1h0.55M41.3 116.4h0.55M50.9 120.6h0.55M49.4 91.3h0.55M73.7 123.7h0.55M76.1 117.0h0.55M59.0 122.7h0.55M69.4 104.5h0.55M49.7 98.6h0.55M65.3 109.1h0.55M45.5 122.9h0.55M60.0 119.2h0.55M80.5 114.5h0.55M49.6 117.2h0.55M54.7 113.0h0.55M63.0 120.6h0.55M40.1 113.1h0.55M73.6 110.2h0.55M57.4 117.6h0.55M68.8 110.2h0.55M55.3 116.5h0.55M67.6 119.8h0.55M58.2 121.2h0.55M52.7 122.7h0.55M67.2 122.6h0.55M67.2 111.7h0.55M43.4 123.0h0.55M66.1 121.4h0.55M58.9 114.4h0.55M40.9 98.8h0.55M66.6 119.1h0.55M52.0 125.2h0.55M62.1 90.7h0.55M69.0 118.5h0.55M68.2 125.3h0.55M72.4 119.0h0.55M65.3 126.1h0.55M77.3 119.7h0.55M57.5 123.5h0.55M46.3 98.4h0.55M52.8 115.8h0.55M67.7 125.6h0.55M47.6 118.1h0.55M60.9 119.2h0.55M74.7 107.1h0.55M75.2 97.8h0.55M66.2 90.8h0.55M72.6 121.8h0.55M57.2 102.1h0.55M58.7 112.7h0.55M45.8 125.8h0.55M64.7 99.5h0.55M81.3 110.4h0.55M71.0 118.0h0.55M61.6 122.3h0.55M57.0 103.3h0.55M60.0 117.9h0.55M60.5 123.5h0.55M41.0 100.5h0.55M66.8 122.4h0.55M75.7 107.0h0.55M64.3 111.3h0.55M59.7 102.8h0.55M62.1 122.6h0.55M53.8 94.4h0.55M64.0 50.7h0.55M73.4 126.3h0.55M60.7 113.6h0.55M61.3 123.7h0.55M60.8 114.9h0.55M63.9 122.4h0.55M74.1 122.1h0.55M67.7 112.9h0.55M72.7 122.0h0.55M57.7 123.2h0.55M40.4 106.2h0.55M65.6 107.4h0.55M62.8 107.9h0.55M51.5 117.4h0.55M73.9 94.3h0.55M58.4 114.1h0.55M49.4 125.3h0.55M67.3 124.9h0.55M50.7 115.3h0.55M66.8 124.9h0.55M64.2 122.2h0.55M69.9 91.8h0.55M64.0 126.1h0.55M48.4 110.1h0.55M46.2 99.7h0.55M44.6 117.7h0.55M59.5 121.9h0.55M51.8 126.3h0.55M56.1 116.5h0.55M66.9 99.3h0.55M47.5 110.6h0.55M59.5 118.8h0.55M83.0 111.7h0.55M51.5 118.7h0.55M40.5 109.1h0.55M48.2 119.8h0.55M67.6 94.1h0.55M47.6 107.5h0.55M58.3 99.4h0.55M46.4 93.5h0.55M64.9 108.3h0.55M45.7 120.3h0.55M50.0 94.0h0.55M49.8 123.8h0.55M67.1 115.8h0.55M61.2 115.0h0.55M65.3 117.4h0.55M66.5 106.1h0.55M72.1 111.2h0.55M46.7 122.6h0.55M47.0 114.5h0.55M46.7 125.2h0.55M61.2 43.5h0.55M72.2 99.8h0.55M58.7 112.7h0.55M47.2 121.1h0.55M57.8 100.1h0.55M57.8 124.0h0.55M66.1 121.2h0.55M69.7 80.3h0.55M64.3 103.1h0.55M54.0 125.0h0.55M40.4 113.3h0.55M48.1 107.5h0.55M42.4 92.6h0.55M64.2 103.3h0.55M40.7 121.0h0.55M59.8 90.7h0.55M62.3 116.8h0.55M62.3 117.2h0.55M44.9 106.9h0.55M74.7 117.0h0.55M56.7 112.1h0.55M66.8 117.1h0.55M47.2 120.6h0.55M49.9 125.9h0.55M43.8 86.9h0.55M76.3 116.6h0.55M79.3 96.8h0.55M40.7 126.0h0.55M54.0 106.8h0.55M59.4 121.8h0.55M81.3 109.4h0.55M49.8 107.7h0.55M78.4 123.3h0.55M64.5 121.6h0.55M81.5 123.3h0.55M64.4 77.2h0.55M77.1 120.1h0.55M73.8 98.5h0.55M46.9 121.2h0.55M63.5 121.1h0.55M56.8 113.0h0.55M69.0 125.2h0.55M54.5 124.8h0.55M58.1 119.3h0.55M67.9 117.9h0.55M66.9 105.3h0.55M51.6 126.3h0.55M56.4 117.3h0.55M52.7 125.3h0.55M79.6 102.5h0.55M54.1 106.6h0.55M58.7 110.3h0.55M69.2 121.6h0.55M44.5 114.9h0.55M46.9 103.5h0.55M45.1 120.0h0.55M41.6 115.6h0.55M52.9 124.8h0.55M61.1 116.6h0.55M74.5 123.1h0.55M47.5 98.4h0.55M55.7 125.4h0.55M48.6 100.7h0.55M80.2 108.2h0.55M53.1 110.4h0.55M57.1 123.5h0.55M78.6 108.0h0.55M60.2 119.1h0.55M53.1 118.9h0.55M59.0 123.4h0.55M63.5 121.9h0.55M44.2 115.6h0.55M58.5 120.2h0.55M48.8 98.8h0.55M76.3 125.3h0.55M65.6 114.8h0.55M51.2 123.2h0.55M41.2 118.4h0.55M71.0 114.7h0.55M70.8 121.1h0.55M53.3 100.7h0.55M54.8 122.9h0.55M50.5 83.5h0.55M69.1 65.5h0.55M65.3 119.8h0.55M72.2 118.5h0.55M49.3 120.7h0.55M70.8 121.9h0.55M69.9 119.2h0.55M78.1 121.2h0.55M68.0 120.0h0.55M40.4 96.9h0.55M69.6 119.3h0.55M49.8 118.3h0.55M64.3 124.3h0.55M52.7 81.3h0.55M44.7 125.8h0.55M54.1 97.1h0.55M43.4 111.6h0.55M55.5 119.7h0.55M71.0 124.9h0.55M78.8 97.3h0.55M80.1 88.2h0.55M45.8 85.6h0.55M62.7 124.6h0.55M65.4 116.6h0.55M49.7 125.4h0.55M47.8 117.0h0.55M77.3 123.4h0.55M56.4 113.5h0.55M51.1 118.4h0.55M43.7 121.4h0.55M52.4 94.1h0.55M76.8 104.6h0.55M55.2 118.8h0.55M72.3 119.4h0.55M51.6 124.3h0.55M72.7 123.4h0.55M70.7 122.9h0.55M55.9 121.7h0.55M79.8 109.4h0.55M51.2 118.8h0.55M47.9 119.5h0.55M57.5 92.8h0.55M69.3 120.4h0.55M60.8 121.7h0.55M65.8 114.2h0.55M69.8 83.4h0.55M56.3 114.0h0.55M68.2 126.4h0.55M64.0 123.2h0.55M53.6 94.7h0.55M64.9 113.2h0.55M54.9 119.0h0.55M62.9 125.6h0.55M41.0 106.7h0.55M58.1 118.6h0.55M41.4 119.4h0.55M41.1 98.0h0.55M59.0 113.2h0.55M54.6 102.5h0.55M60.3 117.7h0.55M46.8 114.7h0.55M48.4 121.9h0.55M65.6 87.3h0.55M71.6 113.8h0.55M58.6 111.3h0.55M52.2 122.3h0.55M70.2 126.1h0.55M72.2 106.4h0.55M72.3 107.5h0.55M46.6 123.4h0.55M64.4 116.7h0.55M55.0 61.1h0.55M52.4 123.5h0.55M62.6 123.5h0.55M74.0 103.9h0.55M68.0 110.0h0.55M54.8 106.7h0.55M44.5 120.0h0.55M48.0 93.7h0.55M70.1 74.9h0.55M61.7 117.8h0.55M61.7 120.3h0.55M47.1 119.1h0.55M80.3 109.2h0.55M68.0 124.7h0.55M73.7 115.0h0.55M55.1 121.0h0.55M47.2 126.4h0.55M53.2 121.0h0.55M62.3 121.7h0.55M57.7 112.5h0.55M40.7 109.7h0.55M80.7 123.5h0.55M77.3 107.5h0.55M53.4 122.6h0.55M49.9 109.8h0.55M71.4 90.4h0.55M51.0 117.8h0.55M56.7 119.2h0.55M58.4 119.1h0.55M72.2 122.5h0.55M80.9 104.6h0.55M46.0 125.9h0.55M49.2 121.4h0.55M60.6 76.1h0.55M73.5 124.9h0.55M57.7 110.5h0.55M69.4 125.9h0.55M51.0 115.5h0.55M79.4 125.0h0.55M42.8 108.1h0.55M78.2 111.0h0.55M74.4 103.7h0.55M51.1 125.6h0.55M66.4 126.3h0.55M77.8 113.8h0.55M46.0 118.2h0.55M45.4 119.6h0.55M58.1 118.7h0.55M47.6 114.8h0.55M66.6 120.2h0.55M63.3 119.1h0.55M41.0 104.8h0.55M56.2 109.4h0.55M47.5 123.4h0.55M72.0 87.9h0.55M54.8 121.3h0.55M48.3 121.0h0.55M54.4 119.6h0.55M56.4 125.2h0.55M56.7 97.8h0.55M45.5 86.2h0.55M70.0 113.6h0.55M56.2 117.3h0.55M56.3 94.7h0.55M62.2 120.7h0.55M63.8 98.5h0.55M57.5 115.4h0.55M68.1 107.6h0.55M76.3 112.1h0.55M57.6 118.8h0.55M62.9 125.7h0.55M60.0 93.9h0.55M73.8 105.0h0.55M60.0 113.2h0.55M44.9 120.0h0.55M58.8 95.1h0.55M73.2 89.9h0.55M51.0 101.8h0.55M50.1 85.4h0.55M49.2 110.5h0.55M81.9 71.4h0.55M70.5 74.1h0.55M79.0 58.5h0.55M73.2 101.7h0.55M52.1 125.5h0.55M53.7 120.6h0.55M63.8 124.8h0.55M63.1 118.8h0.55M80.0 122.9h0.55M40.4 118.0h0.55M68.0 125.5h0.55M40.7 86.9h0.55M63.4 124.6h0.55M55.7 125.5h0.55M73.5 80.8h0.55M56.9 119.1h0.55M76.5 120.6h0.55M74.5 117.1h0.55M54.5 118.5h0.55M70.4 115.9h0.55M65.4 78.5h0.55M46.5 121.9h0.55M73.2 122.2h0.55M49.2 95.1h0.55M44.9 111.5h0.55M55.3 87.5h0.55M63.0 120.9h0.55M59.0 126.2h0.55M73.2 125.3h0.55M62.9 123.0h0.55M73.8 117.7h0.55M48.0 55.1h0.55M76.3 117.0h0.55M41.5 116.1h0.55M72.3 118.8h0.55M45.8 125.1h0.55M56.2 81.6h0.55M50.3 96.8h0.55M42.7 118.7h0.55M61.8 120.3h0.55M59.0 126.1h0.55M81.8 83.6h0.55M55.1 124.5h0.55M66.5 111.2h0.55M46.7 125.4h0.55M61.9 117.6h0.55M66.1 121.6h0.55M70.4 112.8h0.55M62.6 123.5h0.55M81.8 118.4h0.55M49.8 117.2h0.55M50.1 109.0h0.55M44.3 120.0h0.55M51.6 117.4h0.55M80.7 124.3h0.55M57.5 125.6h0.55M60.3 112.8h0.55M65.0 106.7h0.55M51.8 106.8h0.55M40.0 120.5h0.55M71.8 126.4h0.55M67.0 86.4h0.55M72.6 119.9h0.55M55.8 121.8h0.55M44.6 121.7h0.55M51.4 116.3h0.55M52.7 118.0h0.55M50.3 113.5h0.55M61.1 77.2h0.55M77.0 101.8h0.55M52.4 112.8h0.55M65.9 122.5h0.55M77.8 91.9h0.55M61.7 120.0h0.55M63.6 87.7h0.55M49.2 106.0h0.55M69.5 81.6h0.55M72.6 119.6h0.55M65.0 119.9h0.55M48.6 114.4h0.55M62.1 117.1h0.55M80.6 125.9h0.55M67.6 83.3h0.55M56.1 99.1h0.55M59.0 102.9h0.55M46.8 104.2h0.55M63.8 118.9h0.55M56.9 116.5h0.55M62.2 123.2h0.55M45.4 117.8h0.55M64.8 90.6h0.55M48.2 119.5h0.55M56.2 117.9h0.55M48.6 125.2h0.55M67.8 115.5h0.55M61.5 117.9h0.55M50.3 117.4h0.55M55.0 116.8h0.55M62.9 103.1h0.55M48.3 123.2h0.55M78.4 108.6h0.55M77.0 121.8h0.55M78.9 103.3h0.55M74.0 98.7h0.55M69.8 97.6h0.55M58.2 103.1h0.55M57.1 109.3h0.55M44.4 104.4h0.55M54.1 125.7h0.55M49.2 111.8h0.55M73.1 95.1h0.55M48.6 111.4h0.55M77.8 107.2h0.55M75.0 103.5h0.55M45.5 111.6h0.55M56.4 84.5h0.55M71.3 118.4h0.55M61.6 70.3h0.55M67.9 121.5h0.55M52.0 114.6h0.55M57.2 59.1h0.55M60.8 121.2h0.55M82.1 111.3h0.55M55.7 124.1h0.55M62.1 122.7h0.55M61.4 119.4h0.55M63.5 109.7h0.55M76.5 113.0h0.55M64.3 114.1h0.55M52.4 115.3h0.55M76.6 119.1h0.55M52.4 122.5h0.55M62.8 126.1h0.55M70.5 104.1h0.55M45.5 115.7h0.55M66.7 121.1h0.55M67.3 109.7h0.55M58.7 98.0h0.55M54.0 107.6h0.55M41.3 91.0h0.55M48.2 101.7h0.55M73.2 111.0h0.55M54.4 124.4h0.55M77.8 113.1h0.55M77.6 121.4h0.55M69.4 115.4h0.55M77.0 119.8h0.55M40.9 123.9h0.55M52.6 83.1h0.55M55.6 118.2h0.55M66.1 112.8h0.55M55.8 118.0h0.55M44.5 116.3h0.55M59.3 117.2h0.55M54.6 120.2h0.55M69.8 90.2h0.55M44.7 97.0h0.55M60.8 125.6h0.55M78.5 99.0h0.55M69.6 103.8h0.55M74.4 124.7h0.55M54.0 116.1h0.55M54.3 116.9h0.55M56.5 104.5h0.55M59.3 116.1h0.55M66.2 118.5h0.55M70.5 86.6h0.55M72.6 122.3h0.55M81.2 124.6h0.55M47.5 118.2h0.55M64.5 122.5h0.55M40.4 119.6h0.55M52.8 125.9h0.55M66.1 104.6h0.55M44.7 114.2h0.55M82.4 124.8h0.55M65.2 115.0h0.55M74.4 116.8h0.55M69.5 104.6h0.55M61.1 124.6h0.55M46.1 125.3h0.55M69.5 114.1h0.55M47.8 124.2h0.55M54.0 118.8h0.55M75.7 121.4h0.55M76.0 109.0h0.55M73.1 126.0h0.55M45.7 120.9h0.55M80.9 123.1h0.55M77.2 122.1h0.55M56.2 117.6h0.55M82.2 118.9h0.55M63.2 115.3h0.55M72.1 126.0h0.55M57.5 107.3h0.55M64.1 124.8h0.55M53.6 126.1h0.55M68.9 117.2h0.55M69.2 111.0h0.55M53.0 126.1h0.55M54.7 80.5h0.55M52.1 123.9h0.55M71.0 103.9h0.55M78.2 123.5h0.55M69.2 86.0h0.55M54.3 80.7h0.55M66.7 113.1h0.55M59.7 124.9h0.55M80.8 120.6h0.55M66.7 100.4h0.55M59.6 112.0h0.55M68.3 115.2h0.55M52.4 121.2h0.55M50.4 115.2h0.55M47.3 116.1h0.55M68.9 119.9h0.55M54.9 124.3h0.55M76.5 99.0h0.55M60.8 124.0h0.55M52.2 108.9h0.55M68.2 104.2h0.55M76.9 116.2h0.55M63.6 80.0h0.55M64.9 123.4h0.55M74.1 106.3h0.55M79.6 91.2h0.55M52.8 122.5h0.55M82.8 122.0h0.55M53.1 125.4h0.55M51.1 109.6h0.55M57.8 125.2h0.55M45.5 90.7h0.55M44.2 117.5h0.55M75.9 117.3h0.55M73.2 76.2h0.55M54.5 124.5h0.55M66.7 115.4h0.55M51.8 106.2h0.55M79.2 101.6h0.55M62.7 123.4h0.55M62.1 111.1h0.55M41.0 114.9h0.55M55.5 123.1h0.55M61.6 123.0h0.55M69.5 121.4h0.55M44.3 124.1h0.55M56.9 123.4h0.55M68.5 120.2h0.55M49.6 104.3h0.55M46.7 118.7h0.55M42.7 110.8h0.55M51.6 89.0h0.55M59.9 125.8h0.55M62.6 104.5h0.55M51.8 122.8h0.55M75.4 116.1h0.55M59.0 125.6h0.55M53.3 114.3h0.55M48.2 123.8h0.55M56.6 98.0h0.55M55.7 113.1h0.55M56.9 63.8h0.55M57.7 118.4h0.55M69.9 120.1h0.55M76.6 117.3h0.55M46.5 107.8h0.55M78.8 123.5h0.55M68.2 125.1h0.55M65.6 99.4h0.55M53.2 119.2h0.55M60.8 118.6h0.55M63.0 116.9h0.55M48.6 91.5h0.55M52.8 123.4h0.55M55.7 116.1h0.55M57.7 117.3h0.55M45.2 105.7h0.55M47.2 126.0h0.55M68.7 106.9h0.55M71.7 115.9h0.55M70.4 126.2h0.55M68.5 119.1h0.55M72.5 87.5h0.55M70.4 119.4h0.55M59.5 123.2h0.55M54.5 125.4h0.55M57.2 121.1h0.55M67.2 80.9h0.55M64.4 118.8h0.55M47.3 121.8h0.55M76.2 108.1h0.55M50.5 122.9h0.55M53.1 109.6h0.55M41.0 122.4h0.55M68.8 123.7h0.55M60.3 123.1h0.55M61.7 95.2h0.55M78.7 121.9h0.55M71.9 111.4h0.55M75.1 99.6h0.55M43.6 114.8h0.55M76.7 107.8h0.55M71.7 111.1h0.55M55.5 116.0h0.55M55.4 42.6h0.55M50.4 97.9h0.55M65.0 117.0h0.55M64.6 124.1h0.55M48.3 108.3h0.55M67.7 78.9h0.55M53.2 124.7h0.55M61.8 124.2h0.55M46.1 119.5h0.55M54.5 112.8h0.55M42.7 71.3h0.55M52.7 123.7h0.55M57.1 109.8h0.55" stroke="#222" stroke-width="0.55" stroke-opacity="1.0" fill="none"/>
<path d="M40.3 101.5h0.5M48.3 103.1h0.5M54.2 54.8h0.5M42.9 57.7h0.5M40.3 98.6h0.5M38.4 79.4h0.5M39.5 57.6h0.5M38.2 52.8h0.5M45.5 113.4h0.5M38.9 81.4h0.5M47.5 101.9h0.5M38.6 121.6h0.5M41.1 72.7h0.5M46.7 92.2h0.5M53.9 100.6h0.5M38.0 85.7h0.5M50.2 119.0h0.5M39.8 38.6h0.5M45.3 21.1h0.5M54.8 126.0h0.5M52.0 102.0h0.5M38.9 110.3h0.5M55.3 107.4h0.5M42.2 67.1h0.5M49.7 79.0h0.5M56.9 110.4h0.5M40.6 120.3h0.5M40.5 73.7h0.5M44.1 100.1h0.5M45.9 108.6h0.5M47.7 88.4h0.5M42.9 125.0h0.5M38.0 30.5h0.5M47.0 67.2h0.5M38.1 75.7h0.5M52.9 45.0h0.5M39.8 36.2h0.5M43.9 116.6h0.5M60.0 112.3h0.5M37.7 40.1h0.5M38.0 112.2h0.5M52.4 105.3h0.5M51.7 121.3h0.5M37.9 125.0h0.5M38.1 113.9h0.5M40.2 99.2h0.5M39.5 94.1h0.5M44.3 97.4h0.5M45.8 78.6h0.5M39.3 108.3h0.5M51.0 68.9h0.5M38.1 118.4h0.5M38.8 59.1h0.5M49.1 51.2h0.5M40.0 120.2h0.5M45.8 89.6h0.5M49.0 77.3h0.5M41.0 117.4h0.5M43.7 84.2h0.5M38.2 74.0h0.5M38.0 67.3h0.5M45.3 112.3h0.5M45.3 74.9h0.5M38.7 59.0h0.5M42.3 102.7h0.5M51.2 41.8h0.5M37.6 110.6h0.5M38.8 106.0h0.5M48.2 31.8h0.5M41.3 109.9h0.5M40.5 120.2h0.5M47.1 89.2h0.5M45.7 46.7h0.5M45.0 32.5h0.5M56.8 104.9h0.5M40.5 64.1h0.5M52.0 94.8h0.5M45.5 52.3h0.5M40.1 118.6h0.5M65.4 56.7h0.5M39.6 39.9h0.5M45.1 116.0h0.5M42.3 36.8h0.5M40.3 41.9h0.5M39.6 81.6h0.5M93.6 64.0h0.5M39.5 42.5h0.5M42.9 63.3h0.5M38.8 72.3h0.5M50.8 41.9h0.5M60.0 105.9h0.5M38.1 73.0h0.5M50.5 125.7h0.5M45.8 110.1h0.5M52.6 65.3h0.5M39.7 100.8h0.5M59.6 126.3h0.5M38.6 104.5h0.5M38.4 124.5h0.5M44.7 119.5h0.5M55.7 52.3h0.5M38.0 73.7h0.5M62.3 85.8h0.5M42.0 83.3h0.5M38.9 23.0h0.5M42.1 111.3h0.5M48.6 57.5h0.5M49.5 114.8h0.5M42.0 40.1h0.5M41.6 47.0h0.5M40.7 55.8h0.5M53.0 43.8h0.5M41.7 104.4h0.5M39.1 83.7h0.5M38.6 124.2h0.5M46.4 78.0h0.5M41.5 124.2h0.5M61.2 93.8h0.5M52.4 111.0h0.5M42.0 100.8h0.5M47.5 27.7h0.5M38.7 97.3h0.5M46.4 76.0h0.5M44.5 70.2h0.5M52.3 41.1h0.5M41.2 98.2h0.5M45.2 118.3h0.5M40.9 54.4h0.5M55.1 28.5h0.5M41.7 51.6h0.5M79.1 62.1h0.5M42.5 61.6h0.5M46.4 44.4h0.5M45.4 51.4h0.5M38.4 122.2h0.5M54.2 111.8h0.5M42.1 32.9h0.5M42.5 107.3h0.5M49.9 71.5h0.5M39.0 118.6h0.5M41.1 112.3h0.5M50.4 77.1h0.5M40.6 22.1h0.5M44.7 74.1h0.5M47.2 108.0h0.5M48.1 76.0h0.5M40.2 37.5h0.5M46.1 85.7h0.5M38.7 102.4h0.5M52.3 74.9h0.5M42.3 72.5h0.5M55.1 104.1h0.5M57.4 55.4h0.5M45.0 74.4h0.5M41.8 118.5h0.5M39.9 111.8h0.5M37.7 110.8h0.5M54.6 97.8h0.5M51.2 123.4h0.5M43.3 76.2h0.5M48.8 82.1h0.5M41.0 103.6h0.5M47.7 66.5h0.5M43.8 43.9h0.5M47.6 80.6h0.5M42.5 81.5h0.5M41.2 113.4h0.5M47.9 71.1h0.5M38.8 84.3h0.5M40.8 82.4h0.5M39.9 40.5h0.5M38.0 109.0h0.5M49.5 74.8h0.5M39.5 25.4h0.5M48.3 121.6h0.5M50.4 113.9h0.5M43.6 83.1h0.5M37.8 56.1h0.5M40.4 85.7h0.5M51.2 78.2h0.5M39.2 100.3h0.5M38.8 51.9h0.5M37.6 115.6h0.5M38.8 91.5h0.5M47.1 91.7h0.5M38.9 93.9h0.5M39.2 116.8h0.5M43.7 71.0h0.5M43.8 65.0h0.5M40.2 26.1h0.5M41.7 99.0h0.5M64.7 22.2h0.5M42.2 89.1h0.5M40.0 119.1h0.5M42.3 35.0h0.5M43.3 90.5h0.5M39.6 106.7h0.5M46.1 73.9h0.5M42.3 25.2h0.5M37.8 121.1h0.5M46.7 70.5h0.5M55.8 117.6h0.5M38.1 70.3h0.5M39.9 93.7h0.5M43.0 79.5h0.5M49.1 122.5h0.5M38.5 46.6h0.5M55.9 55.2h0.5M40.5 123.0h0.5M50.1 120.1h0.5M39.0 102.8h0.5M38.5 101.3h0.5M40.8 21.8h0.5M39.3 80.9h0.5M62.9 42.2h0.5M41.8 55.5h0.5M38.1 80.4h0.5M38.1 112.2h0.5M38.9 75.2h0.5M39.3 35.8h0.5M38.7 57.0h0.5M46.2 122.8h0.5M52.0 32.8h0.5M42.6 105.3h0.5M47.9 81.0h0.5M49.3 102.0h0.5M40.7 105.0h0.5M40.4 107.2h0.5M42.9 105.9h0.5M49.8 109.1h0.5M50.0 113.5h0.5M38.3 71.1h0.5M42.8 125.4h0.5M38.1 102.1h0.5M38.2 105.0h0.5M55.9 110.3h0.5M38.6 126.1h0.5M41.3 36.4h0.5M49.4 76.4h0.5M40.2 63.4h0.5M42.4 62.4h0.5M38.9 110.1h0.5M38.1 125.4h0.5M44.7 120.9h0.5M40.8 75.4h0.5M46.5 40.5h0.5M47.1 29.0h0.5M38.3 107.1h0.5M38.3 87.1h0.5M45.5 102.4h0.5M37.8 69.0h0.5M39.8 103.5h0.5M37.7 105.4h0.5M49.1 92.2h0.5M40.5 39.5h0.5M44.3 122.5h0.5M40.3 72.5h0.5M39.9 48.3h0.5M41.9 25.4h0.5M41.5 123.8h0.5M38.6 34.8h0.5M39.4 116.4h0.5M41.3 20.5h0.5M38.2 108.1h0.5M39.8 102.7h0.5M51.7 117.0h0.5M45.0 88.3h0.5M46.2 125.5h0.5M57.8 102.4h0.5M52.9 114.9h0.5M48.7 40.5h0.5M41.1 99.1h0.5M38.7 26.3h0.5M45.3 79.5h0.5" stroke="#555" stroke-width="0.5" stroke-opacity="1.0" fill="none"/>
<path d="M53.1 77.9h0.5M85.3 106.3h0.5M69.9 76.8h0.5M67.3 107.1h0.5M60.3 66.8h0.5M58.8 88.5h0.5M52.7 80.6h0.5M115.7 119.8h0.5M108.8 36.7h0.5M63.4 101.3h0.5M86.8 106.6h0.5M71.1 60.5h0.5M68.8 59.3h0.5M118.1 98.9h0.5M53.2 31.5h0.5M86.0 122.5h0.5M56.1 35.6h0.5M39.0 58.1h0.5M126.6 60.6h0.5M85.4 84.7h0.5M62.3 65.3h0.5M46.4 119.9h0.5M129.0 113.3h0.5M44.2 45.5h0.5M43.6 78.3h0.5M56.7 76.1h0.5M70.3 42.0h0.5M38.4 109.8h0.5M54.7 88.5h0.5M74.5 111.6h0.5M96.2 124.3h0.5M69.0 85.7h0.5M60.6 111.8h0.5M109.2 91.6h0.5M50.4 24.4h0.5M68.2 106.2h0.5M85.1 103.9h0.5M62.6 106.4h0.5M40.6 117.6h0.5M46.4 21.6h0.5M125.1 71.3h0.5M71.2 78.2h0.5M71.0 62.0h0.5M117.5 64.7h0.5M40.2 94.8h0.5M86.3 100.4h0.5M116.8 72.5h0.5M51.6 62.7h0.5M39.2 111.6h0.5M119.4 59.6h0.5M54.2 106.3h0.5M75.2 71.3h0.5M89.4 78.9h0.5M73.3 118.7h0.5M100.4 64.5h0.5M107.2 111.5h0.5M85.0 102.0h0.5M51.5 105.9h0.5M39.3 45.8h0.5M45.2 110.9h0.5M82.8 83.5h0.5M75.1 117.3h0.5M41.2 124.6h0.5M105.0 86.8h0.5M80.5 57.0h0.5M43.9 78.0h0.5M68.8 32.9h0.5M44.3 110.9h0.5M46.2 51.0h0.5M53.2 75.6h0.5M58.6 57.4h0.5M79.1 66.0h0.5M50.9 109.3h0.5M109.2 82.1h0.5M59.7 100.0h0.5M90.9 67.2h0.5M43.8 47.1h0.5M53.0 47.5h0.5M55.8 36.1h0.5M95.6 123.1h0.5M43.5 73.4h0.5M94.0 36.7h0.5M54.5 81.6h0.5M56.7 41.1h0.5M105.1 107.4h0.5M87.4 81.0h0.5M43.3 112.5h0.5M114.0 80.2h0.5M60.0 118.4h0.5M47.9 123.8h0.5M49.4 94.0h0.5M57.9 85.6h0.5M62.3 89.0h0.5M74.9 90.0h0.5M60.9 47.5h0.5M45.8 92.3h0.5M42.2 117.7h0.5M56.2 115.2h0.5M50.4 95.2h0.5M39.7 123.2h0.5M40.0 114.8h0.5M48.6 121.4h0.5M77.1 123.1h0.5M69.4 60.8h0.5M84.7 104.3h0.5M68.0 80.3h0.5M119.2 58.4h0.5M39.6 115.4h0.5M98.0 97.5h0.5M81.4 24.8h0.5M72.6 87.1h0.5M68.9 116.0h0.5M49.3 126.1h0.5M80.6 125.2h0.5M92.1 119.0h0.5M43.3 117.4h0.5M108.0 118.1h0.5M55.1 76.3h0.5M97.7 64.7h0.5M78.3 112.2h0.5M42.2 79.3h0.5M79.1 106.0h0.5M57.3 120.3h0.5M85.4 43.8h0.5M73.1 69.9h0.5M47.0 46.1h0.5M43.8 103.7h0.5M50.1 61.8h0.5M44.6 93.7h0.5M82.7 79.6h0.5M63.6 42.5h0.5M40.1 94.0h0.5M60.3 102.1h0.5M76.0 28.6h0.5M100.0 110.7h0.5M74.3 63.3h0.5M48.5 91.0h0.5M38.7 126.3h0.5M74.7 26.1h0.5M45.4 36.8h0.5M80.0 109.7h0.5M52.9 82.3h0.5M62.7 59.8h0.5M83.6 114.6h0.5M59.8 65.7h0.5M92.6 115.0h0.5M50.0 112.6h0.5M128.1 104.5h0.5M90.6 72.1h0.5M85.4 84.8h0.5M77.8 123.8h0.5M93.4 83.0h0.5M49.1 107.5h0.5M73.2 79.6h0.5M39.4 104.3h0.5M106.6 98.5h0.5M121.6 85.6h0.5M46.7 122.6h0.5M74.1 64.0h0.5M90.8 121.9h0.5M82.0 76.4h0.5M44.1 121.2h0.5M87.7 119.6h0.5M58.7 83.9h0.5M69.5 113.0h0.5M42.8 115.9h0.5M98.5 100.0h0.5M118.8 53.9h0.5M84.8 70.8h0.5M60.6 74.0h0.5M114.8 92.9h0.5M71.7 81.2h0.5M55.3 60.0h0.5M64.1 105.0h0.5M77.6 89.1h0.5M41.6 62.6h0.5M79.1 52.0h0.5M57.6 109.4h0.5M54.8 119.1h0.5M46.1 27.6h0.5M51.5 63.3h0.5M39.2 107.4h0.5M77.9 90.4h0.5M106.4 102.0h0.5M72.0 87.0h0.5M65.3 90.6h0.5M40.2 117.6h0.5M51.4 42.4h0.5M110.8 123.4h0.5M86.0 64.3h0.5M62.9 25.6h0.5M114.0 109.7h0.5M124.1 69.5h0.5M47.6 108.5h0.5M72.2 107.7h0.5M67.5 106.9h0.5M96.1 100.2h0.5M45.3 86.9h0.5M116.9 119.4h0.5M62.4 104.4h0.5M77.7 88.7h0.5M39.8 126.3h0.5M129.5 88.1h0.5M66.9 124.6h0.5M81.2 102.5h0.5M56.8 100.0h0.5M55.4 124.4h0.5M65.6 119.1h0.5M93.2 92.7h0.5M42.0 93.8h0.5M97.5 48.6h0.5M99.2 106.9h0.5M40.0 95.6h0.5M54.1 68.8h0.5M89.7 111.9h0.5M67.1 123.3h0.5M40.1 72.6h0.5M96.7 72.6h0.5M67.4 110.4h0.5M40.2 90.2h0.5M54.8 79.7h0.5M42.3 86.2h0.5M72.1 119.4h0.5M120.4 102.0h0.5M85.2 103.4h0.5M69.9 107.0h0.5M78.8 84.2h0.5M38.2 116.9h0.5M99.9 120.3h0.5M72.4 92.7h0.5M114.5 86.8h0.5M62.9 114.8h0.5M74.8 76.4h0.5M116.0 72.5h0.5M79.3 67.8h0.5M51.2 99.1h0.5M64.4 112.4h0.5M65.7 98.5h0.5M65.7 120.0h0.5M115.3 78.8h0.5M89.7 63.1h0.5M85.1 63.7h0.5M76.5 90.9h0.5M76.1 121.8h0.5M97.6 116.7h0.5M65.7 38.4h0.5M48.8 88.6h0.5M61.4 78.1h0.5M56.7 112.4h0.5M66.9 85.7h0.5M46.2 104.1h0.5M56.7 109.4h0.5M84.7 102.4h0.5M72.5 83.5h0.5M118.0 34.6h0.5M46.8 34.3h0.5M75.0 91.1h0.5M41.6 116.9h0.5M40.6 62.9h0.5M109.5 87.3h0.5M52.4 78.1h0.5M49.5 115.9h0.5M60.4 36.8h0.5M42.0 81.3h0.5M39.9 101.4h0.5M37.6 113.5h0.5M110.3 36.5h0.5M72.4 30.6h0.5M49.4 43.8h0.5M85.7 120.7h0.5M69.3 53.0h0.5M72.4 40.8h0.5M41.7 84.8h0.5M57.7 106.5h0.5M95.4 47.8h0.5M44.2 118.6h0.5M42.7 95.1h0.5M58.2 40.6h0.5M50.4 116.7h0.5M63.5 50.7h0.5M64.3 73.8h0.5M53.6 106.2h0.5M38.5 106.9h0.5M48.9 125.8h0.5M94.5 121.0h0.5M78.8 109.1h0.5M39.6 113.9h0.5M89.7 106.4h0.5M80.3 118.9h0.5M105.9 113.7h0.5M99.7 110.5h0.5M54.5 123.4h0.5M116.9 90.0h0.5M46.5 82.7h0.5M39.2 78.4h0.5M68.0 43.4h0.5M83.1 93.7h0.5M88.7 124.4h0.5M98.0 91.8h0.5M94.8 59.7h0.5M67.3 29.0h0.5M58.1 101.7h0.5M47.3 107.9h0.5M47.7 89.2h0.5M65.2 120.1h0.5M101.5 36.6h0.5M51.8 35.0h0.5M50.2 117.1h0.5M58.1 92.3h0.5M76.8 30.5h0.5M58.5 108.9h0.5M51.6 104.3h0.5M59.5 113.7h0.5M92.6 41.3h0.5M54.2 25.7h0.5M137.3 115.5h0.5M89.1 84.5h0.5M81.1 119.0h0.5M44.1 62.3h0.5M77.3 111.9h0.5M90.4 69.1h0.5M71.4 91.0h0.5M61.9 125.9h0.5M63.4 64.5h0.5M95.9 116.5h0.5M82.6 32.1h0.5M46.9 71.5h0.5M65.4 98.2h0.5M104.6 76.2h0.5M97.9 86.8h0.5M92.6 77.9h0.5M41.9 71.0h0.5M47.9 97.7h0.5M76.0 37.8h0.5M38.1 89.5h0.5M72.7 75.6h0.5M70.8 123.5h0.5M86.1 22.6h0.5M48.6 69.9h0.5M61.1 53.0h0.5M103.8 63.7h0.5M89.0 35.7h0.5M64.5 45.3h0.5M86.3 124.0h0.5M106.9 111.0h0.5M120.3 71.5h0.5M63.9 103.9h0.5M124.4 98.2h0.5M77.2 31.3h0.5M75.5 96.0h0.5M44.9 116.9h0.5M55.6 73.9h0.5M47.5 98.4h0.5M61.1 111.4h0.5M69.7 123.9h0.5M116.4 74.0h0.5M89.6 75.3h0.5M119.6 95.3h0.5M81.3 123.9h0.5M80.6 99.2h0.5M66.1 79.5h0.5M68.4 94.4h0.5M76.1 45.9h0.5M95.8 20.8h0.5M55.0 83.6h0.5M39.3 75.5h0.5M39.0 55.7h0.5M40.8 48.5h0.5M70.2 64.6h0.5M64.3 49.5h0.5M90.6 60.1h0.5M80.3 121.2h0.5M45.1 44.5h0.5M64.5 94.2h0.5M78.1 63.0h0.5M38.6 87.3h0.5M39.2 71.7h0.5M38.3 64.7h0.5M38.1 123.4h0.5M94.1 120.5h0.5M74.0 25.4h0.5M52.7 43.1h0.5M79.6 125.0h0.5M53.4 119.0h0.5" stroke="#666" stroke-width="0.5" stroke-opacity="1.0" fill="none"/>
<path d="M106.9 19.4h0.5M129.6 19.6h0.5M141.8 19.4h0.5M107.2 19.4h0.5M85.3 20.1h0.5M117.4 20.3h0.5M113.4 19.4h0.5M77.1 19.3h0.5M133.3 19.6h0.5M51.5 19.2h0.5M39.5 19.2h0.5M57.9 19.3h0.5M107.5 20.1h0.5M142.7 19.5h0.5M80.5 20.1h0.5M51.6 20.0h0.5M122.5 19.3h0.5M142.8 20.2h0.5M45.4 20.3h0.5M109.2 19.6h0.5M92.9 19.6h0.5M104.5 20.1h0.5M76.5 20.4h0.5M67.4 19.4h0.5M127.2 19.7h0.5M46.8 19.3h0.5M110.4 19.3h0.5M83.5 19.6h0.5M97.1 20.1h0.5M138.0 20.3h0.5M114.3 19.5h0.5M115.1 19.4h0.5M88.5 20.5h0.5M108.3 19.3h0.5M82.3 19.9h0.5M85.3 19.5h0.5M128.0 19.7h0.5M100.8 19.3h0.5M120.4 20.5h0.5M100.3 19.5h0.5M91.8 19.8h0.5M117.0 19.5h0.5M73.0 19.7h0.5M126.4 19.2h0.5M103.8 19.5h0.5M64.3 19.7h0.5M109.0 19.7h0.5M126.1 19.5h0.5M62.0 20.7h0.5M75.9 20.7h0.5M94.8 19.4h0.5M62.2 19.4h0.5M110.5 19.8h0.5M124.5 20.0h0.5M87.6 19.8h0.5M41.9 19.7h0.5M72.5 19.2h0.5M114.5 20.0h0.5M102.1 19.2h0.5M91.7 19.6h0.5M119.7 20.0h0.5M140.6 19.5h0.5M90.2 19.3h0.5M66.5 19.3h0.5M118.2 20.1h0.5M56.6 19.5h0.5M54.0 19.2h0.5M109.8 19.6h0.5M64.6 19.3h0.5M121.2 19.7h0.5M66.9 19.3h0.5M87.8 20.8h0.5M76.4 19.8h0.5M58.7 19.3h0.5M65.7 19.4h0.5M105.2 20.1h0.5M59.7 19.2h0.5M112.1 19.8h0.5M89.5 20.4h0.5M66.5 19.2h0.5M126.8 19.5h0.5M64.6 19.6h0.5M137.8 19.6h0.5M98.2 19.2h0.5M119.2 20.2h0.5M142.7 19.6h0.5M88.5 19.3h0.5M111.9 19.3h0.5M46.1 19.7h0.5M118.7 19.7h0.5M47.7 19.6h0.5M67.2 19.8h0.5M123.0 19.9h0.5M111.2 20.3h0.5M73.5 19.6h0.5M49.7 19.5h0.5M50.9 20.1h0.5M121.5 19.5h0.5M66.5 19.4h0.5M64.4 19.8h0.5M38.8 19.8h0.5M98.0 19.4h0.5M114.0 19.7h0.5M137.1 19.3h0.5M140.5 19.6h0.5M59.2 19.4h0.5M43.3 19.3h0.5M81.8 20.4h0.5M73.4 19.6h0.5M48.7 20.0h0.5M124.7 19.4h0.5M75.4 19.7h0.5M119.9 19.5h0.5M71.5 20.7h0.5M61.3 19.2h0.5M73.7 19.9h0.5M107.6 19.5h0.5M77.6 19.6h0.5M124.0 19.2h0.5M86.6 19.7h0.5M112.1 19.5h0.5M78.7 20.1h0.5M114.0 20.0h0.5M91.9 21.5h0.5M141.5 19.3h0.5M102.8 21.5h0.5M82.7 20.0h0.5M107.5 20.2h0.5M72.4 20.4h0.5M104.6 19.3h0.5M60.7 19.2h0.5M142.3 19.5h0.5M127.7 19.5h0.5M58.4 20.3h0.5M62.0 21.3h0.5M94.3 19.8h0.5M104.7 20.0h0.5M72.5 19.4h0.5M129.5 19.3h0.5M49.1 19.8h0.5M97.5 19.4h0.5M82.1 19.3h0.5M137.9 19.8h0.5M115.3 19.2h0.5M133.8 19.8h0.5M123.6 19.3h0.5M57.1 19.3h0.5M72.6 19.3h0.5M74.2 19.4h0.5M48.1 20.1h0.5M126.5 19.2h0.5M126.5 19.2h0.5M122.3 19.4h0.5M40.0 19.8h0.5M142.8 19.9h0.5M127.1 19.3h0.5M51.7 19.2h0.5M67.4 19.6h0.5M104.7 19.7h0.5M87.4 19.6h0.5" stroke="#333" stroke-width="0.5" stroke-opacity="1.0" fill="none"/>
<polygon points="77,101 80,96 89.6,89 102.6,86.4 109.5,92.5 112.6,97.7 112,105.5 104.3,112.9 82.7,116.4 78.4,113.3 76.3,107.2" fill="none" stroke="#222" stroke-width="0.6"/>
<text x="34" y="21.4" font-size="4.2" text-anchor="end" fill="#777" transform="rotate(-90 34 21.4)">1023</text>
<text x="33.6" y="128" font-size="4.2" text-anchor="end" fill="#777">0</text>
<text x="36.6" y="132.4" font-size="4.2" text-anchor="middle" fill="#777">0</text>
<text x="145" y="132.8" font-size="4.4" text-anchor="end" fill="#777">1023</text>
<line x1="27.3" y1="127.3" x2="27.3" y2="20.6" stroke="#000" stroke-width="1.55"/>
<path d="M24.7 23.7 L27.3 19.7 L29.9 23.7" fill="none" stroke="#000" stroke-width="1.7" stroke-linejoin="miter"/>
<line x1="37.3" y1="141.1" x2="144.2" y2="141.1" stroke="#000" stroke-width="1.55"/>
<path d="M141.1 138.5 L145.1 141.1 L141.1 143.7" fill="none" stroke="#000" stroke-width="1.7"/>
<text x="22.7" y="43" font-size="7.7" font-weight="bold" stroke="#000" stroke-width="0.22" text-anchor="start" fill="#000" transform="rotate(-90 22.7 43)">SSC</text>
<text x="121.2" y="151" font-size="7.7" font-weight="bold" stroke="#000" stroke-width="0.22" text-anchor="start" fill="#000">FSC</text>
<rect x="168.80" y="18.60" width="108.20" height="108.70" fill="none" stroke="#6e6e6e" stroke-width="0.75"/>
<line x1="168.3" y1="18.6" x2="168.3" y2="127.3" stroke="#6a6a6a" stroke-width="1.2" stroke-dasharray="0.55 1.57"/>
<path d="M192.0 104.9h0.8M220.1 96.5h0.8M196.7 102.9h0.8M207.5 94.7h0.8M202.8 94.0h0.8M205.6 98.5h0.8M204.9 104.9h0.8M197.2 102.3h0.8M195.7 99.0h0.8M208.6 96.2h0.8M201.2 104.7h0.8M223.3 98.6h0.8M206.9 93.6h0.8M218.8 89.7h0.8M203.7 106.5h0.8M214.5 98.2h0.8M201.4 99.8h0.8M198.4 101.5h0.8M204.6 98.9h0.8M205.0 98.6h0.8M231.0 94.8h0.8M193.4 93.6h0.8M200.6 98.6h0.8M213.2 96.1h0.8M206.0 102.9h0.8M208.8 102.2h0.8M213.9 96.3h0.8M205.5 98.6h0.8M200.3 100.2h0.8M195.4 107.9h0.8M206.8 102.8h0.8M211.5 95.6h0.8M209.6 103.7h0.8M217.2 93.8h0.8M203.6 103.5h0.8M209.5 98.8h0.8M198.4 95.9h0.8M188.7 100.1h0.8M212.1 97.3h0.8M203.1 103.4h0.8M213.5 102.6h0.8M200.1 93.5h0.8M192.2 99.4h0.8M199.0 104.1h0.8M204.3 101.1h0.8M200.7 101.7h0.8M204.5 101.6h0.8M212.3 100.8h0.8M207.3 103.6h0.8M210.9 96.8h0.8M204.0 91.1h0.8M200.7 101.6h0.8M197.2 98.0h0.8M185.3 96.1h0.8M212.2 98.2h0.8M216.5 94.6h0.8M197.4 100.1h0.8M196.7 92.9h0.8M199.0 102.0h0.8M209.8 98.2h0.8M207.7 99.4h0.8M204.1 96.6h0.8M205.7 96.0h0.8M191.7 104.7h0.8M205.8 101.3h0.8M204.7 98.2h0.8M210.5 93.8h0.8M200.3 101.7h0.8M201.4 97.8h0.8M209.1 101.6h0.8M231.1 92.4h0.8M201.1 100.4h0.8M225.8 97.1h0.8M197.8 98.2h0.8M207.5 100.7h0.8M197.2 95.3h0.8M220.1 101.5h0.8M207.7 97.1h0.8M208.3 97.0h0.8M216.2 96.7h0.8M218.6 95.6h0.8M200.2 97.3h0.8M209.2 99.1h0.8M201.8 97.3h0.8M217.4 96.0h0.8M187.3 102.5h0.8M227.0 94.8h0.8M204.2 96.3h0.8M187.9 104.7h0.8M210.5 105.4h0.8M198.6 97.9h0.8M207.6 101.9h0.8M207.5 96.1h0.8M216.6 96.3h0.8M189.2 97.6h0.8M210.1 96.2h0.8M217.1 94.4h0.8M194.7 100.4h0.8M213.6 96.5h0.8M215.6 105.4h0.8M201.3 96.5h0.8M189.3 103.8h0.8M208.7 101.5h0.8M201.4 93.2h0.8M220.4 90.4h0.8M205.1 102.3h0.8M212.7 93.6h0.8M209.9 97.2h0.8M207.1 89.1h0.8M194.7 96.8h0.8M199.9 99.0h0.8M208.4 102.7h0.8M207.2 106.2h0.8M205.5 96.8h0.8M214.8 102.9h0.8M207.3 98.8h0.8M213.4 97.0h0.8M207.5 98.0h0.8M210.2 97.5h0.8M201.1 94.3h0.8M192.9 100.9h0.8M214.1 93.7h0.8M215.1 98.9h0.8M214.4 107.6h0.8M198.6 95.5h0.8M218.0 103.2h0.8M207.1 94.8h0.8M208.2 97.5h0.8M201.2 103.6h0.8M202.6 101.5h0.8M201.6 104.1h0.8M211.0 103.2h0.8M200.3 99.0h0.8M206.3 97.1h0.8M202.1 102.0h0.8M195.2 102.7h0.8M208.3 105.0h0.8M206.8 91.2h0.8M208.1 102.5h0.8M179.7 105.1h0.8M216.3 96.4h0.8M206.3 96.1h0.8M197.5 97.6h0.8M224.2 93.4h0.8M208.0 104.7h0.8M213.7 98.0h0.8M207.9 97.8h0.8M185.4 102.6h0.8M218.3 99.2h0.8M196.7 103.4h0.8M216.9 97.4h0.8M205.5 98.5h0.8M198.4 97.5h0.8M184.1 102.5h0.8M202.4 99.2h0.8M197.1 98.3h0.8M207.0 97.9h0.8M197.3 105.1h0.8M213.9 100.8h0.8M202.1 100.8h0.8M203.3 104.0h0.8M225.3 96.5h0.8M214.8 102.0h0.8M200.8 99.9h0.8M211.0 103.7h0.8M192.2 103.3h0.8M199.7 99.0h0.8M204.5 95.1h0.8M200.0 100.6h0.8M197.6 101.0h0.8M212.1 94.2h0.8M201.1 99.2h0.8M199.0 98.1h0.8M201.4 100.9h0.8M200.0 95.4h0.8M214.1 97.8h0.8M210.6 105.4h0.8M193.5 104.7h0.8M219.2 97.0h0.8M217.6 102.9h0.8M203.9 98.1h0.8M198.1 103.5h0.8M207.2 100.1h0.8M201.2 98.4h0.8M211.8 100.1h0.8M207.8 107.6h0.8M218.0 94.1h0.8M191.3 98.3h0.8M202.0 106.0h0.8M209.0 96.3h0.8M202.1 99.4h0.8M202.6 98.0h0.8M195.7 98.1h0.8M224.7 98.0h0.8M204.5 95.7h0.8M212.6 94.4h0.8M199.4 99.3h0.8M202.8 101.7h0.8M206.9 104.3h0.8M221.9 96.6h0.8M219.9 100.4h0.8M226.7 100.9h0.8M221.0 98.5h0.8M220.9 99.9h0.8M204.7 98.7h0.8M199.5 94.3h0.8M219.3 100.0h0.8M199.5 96.1h0.8M212.0 100.3h0.8M200.7 97.0h0.8M196.4 96.4h0.8M207.2 98.6h0.8M197.8 95.8h0.8M204.0 99.8h0.8M214.7 97.1h0.8M204.9 98.6h0.8M216.8 103.1h0.8M203.1 102.6h0.8M209.8 97.7h0.8M197.9 103.5h0.8M219.1 98.6h0.8M187.8 100.9h0.8M208.6 93.8h0.8M211.5 95.7h0.8M183.9 109.9h0.8M191.7 101.6h0.8M193.1 103.3h0.8M206.9 105.3h0.8M203.9 96.9h0.8M204.2 103.5h0.8M210.9 89.0h0.8M227.1 92.1h0.8M196.2 92.7h0.8M210.0 98.5h0.8M207.1 99.1h0.8M216.3 94.8h0.8M186.8 99.8h0.8M193.5 111.9h0.8M197.1 102.1h0.8M197.1 102.6h0.8M208.4 95.5h0.8M201.9 96.9h0.8M188.3 102.7h0.8M199.7 99.0h0.8M191.7 100.8h0.8M199.5 99.1h0.8M203.9 93.1h0.8M199.7 101.6h0.8M218.0 98.1h0.8M227.7 97.8h0.8M211.6 100.9h0.8M193.5 107.9h0.8M219.6 95.6h0.8M226.0 96.8h0.8M205.7 104.3h0.8M209.9 97.2h0.8M217.4 101.6h0.8M208.2 97.0h0.8M217.9 95.7h0.8M211.1 94.4h0.8M201.0 99.5h0.8M203.3 107.3h0.8M205.4 106.1h0.8M200.4 100.4h0.8M219.0 99.1h0.8M210.3 102.8h0.8M204.2 95.6h0.8M213.8 96.4h0.8M207.3 98.3h0.8M215.1 90.8h0.8M221.1 93.9h0.8M207.9 96.6h0.8M201.1 98.8h0.8M195.7 100.0h0.8M221.6 88.3h0.8M210.4 100.1h0.8M200.9 98.1h0.8M206.0 100.9h0.8M196.6 102.8h0.8M218.8 96.4h0.8M210.5 105.0h0.8M202.3 93.4h0.8M193.1 101.0h0.8M226.1 96.2h0.8M208.5 104.0h0.8M186.2 101.9h0.8M201.6 101.8h0.8M206.5 99.7h0.8M209.2 106.2h0.8M196.4 99.4h0.8M216.7 94.1h0.8M211.7 96.4h0.8M207.3 100.5h0.8M201.4 105.1h0.8M188.9 93.1h0.8M201.6 95.0h0.8M205.5 104.4h0.8M195.5 99.2h0.8M208.9 95.9h0.8M213.6 96.2h0.8M201.7 96.5h0.8M202.2 95.7h0.8M206.5 99.3h0.8M221.4 93.8h0.8M220.7 103.1h0.8M189.9 92.4h0.8M202.4 101.7h0.8M229.6 92.7h0.8M204.5 105.6h0.8M222.1 92.9h0.8M211.5 100.1h0.8M219.1 103.1h0.8M203.7 101.6h0.8M207.0 96.6h0.8M211.5 97.5h0.8M206.6 99.7h0.8M207.0 104.4h0.8M219.8 97.4h0.8M205.5 101.5h0.8M218.1 93.1h0.8M201.2 100.1h0.8M204.5 104.0h0.8M213.2 96.9h0.8M211.1 96.5h0.8M215.3 96.2h0.8M207.7 103.1h0.8M206.7 100.9h0.8M202.6 101.1h0.8M191.8 98.6h0.8M201.9 93.2h0.8M216.8 101.3h0.8M205.8 97.5h0.8M209.0 101.8h0.8M218.4 99.1h0.8M197.9 98.2h0.8M209.3 94.5h0.8M202.1 103.2h0.8M215.8 89.6h0.8M191.9 92.6h0.8M204.4 105.2h0.8M201.5 96.7h0.8M203.7 100.1h0.8M202.2 103.6h0.8M225.0 103.8h0.8M204.1 95.6h0.8M205.2 98.5h0.8M194.0 104.3h0.8M194.6 100.8h0.8M199.3 97.2h0.8M196.1 104.1h0.8M210.4 92.0h0.8M201.9 103.4h0.8M202.5 99.4h0.8M205.4 99.1h0.8M198.0 97.7h0.8M195.0 99.9h0.8M201.1 103.7h0.8M208.7 99.5h0.8M206.3 103.2h0.8M199.3 102.3h0.8M221.0 95.2h0.8M209.9 97.4h0.8M212.8 98.1h0.8M220.4 95.1h0.8M199.1 105.3h0.8M214.8 93.3h0.8M210.0 104.8h0.8M208.9 96.0h0.8M192.3 97.9h0.8M199.3 100.0h0.8M206.0 94.2h0.8M207.2 105.0h0.8M221.7 102.6h0.8M204.1 104.7h0.8M210.0 105.0h0.8M204.6 103.9h0.8M193.8 94.1h0.8M203.9 101.8h0.8M207.2 96.2h0.8M223.0 99.5h0.8M217.9 96.1h0.8M201.6 98.1h0.8M198.0 96.9h0.8M206.8 101.1h0.8M202.2 103.7h0.8M228.5 91.4h0.8M214.7 99.1h0.8M206.5 100.6h0.8M201.8 99.3h0.8M196.9 99.7h0.8M206.6 103.3h0.8M184.2 107.4h0.8M203.7 102.1h0.8M203.0 102.1h0.8M221.1 99.5h0.8M190.5 99.3h0.8M215.0 97.4h0.8M203.8 99.5h0.8M213.3 94.4h0.8M200.5 102.9h0.8M211.6 105.2h0.8M215.6 105.1h0.8M229.9 94.4h0.8M199.2 98.4h0.8M205.2 96.2h0.8M206.3 101.5h0.8M201.4 99.5h0.8M206.7 103.3h0.8M206.5 94.9h0.8M203.8 100.0h0.8M190.9 99.2h0.8M209.4 99.5h0.8M193.6 100.2h0.8M205.0 92.3h0.8M216.5 100.5h0.8M195.3 100.9h0.8M205.8 99.7h0.8M208.6 98.3h0.8M205.9 95.5h0.8M202.6 99.7h0.8M207.5 101.7h0.8M214.0 104.0h0.8M197.8 101.1h0.8M205.0 97.2h0.8M214.0 102.1h0.8M201.4 99.0h0.8M195.9 99.8h0.8M213.8 97.8h0.8M213.5 100.2h0.8M214.9 93.2h0.8M206.8 99.4h0.8M201.0 99.7h0.8M220.4 95.2h0.8M219.1 103.2h0.8M213.2 92.1h0.8M202.4 99.5h0.8M208.1 99.5h0.8M199.1 100.9h0.8M198.3 105.8h0.8M206.5 91.2h0.8M209.6 97.2h0.8M211.5 95.0h0.8M207.0 93.7h0.8M225.1 93.8h0.8M198.3 101.8h0.8M218.6 96.0h0.8M204.4 106.5h0.8M214.5 92.1h0.8M198.8 101.5h0.8M227.0 96.9h0.8M220.0 97.3h0.8M192.9 103.5h0.8M218.7 96.2h0.8M209.0 100.5h0.8M215.1 96.8h0.8M206.8 97.2h0.8M205.3 95.9h0.8M194.3 99.5h0.8M203.3 102.3h0.8M206.6 97.3h0.8M192.4 104.0h0.8M198.1 99.8h0.8M207.2 99.0h0.8M211.9 103.0h0.8M202.4 95.5h0.8M219.8 96.7h0.8M203.0 103.0h0.8M213.1 100.2h0.8M219.3 98.6h0.8M200.9 105.2h0.8M217.4 95.8h0.8M206.1 99.7h0.8M200.6 106.6h0.8M221.2 92.7h0.8M222.4 98.8h0.8M204.8 101.7h0.8M217.2 98.8h0.8M216.5 99.3h0.8M206.7 96.2h0.8M227.3 96.6h0.8M206.2 98.9h0.8M201.6 101.5h0.8M207.7 99.7h0.8M207.5 105.9h0.8M204.0 103.4h0.8M206.1 107.2h0.8M195.9 104.7h0.8M213.2 99.9h0.8M195.5 103.9h0.8M218.2 102.4h0.8M213.3 95.4h0.8M203.1 94.5h0.8M203.2 94.7h0.8M202.0 102.9h0.8M207.3 98.0h0.8M223.2 95.7h0.8M210.5 99.2h0.8M204.1 102.7h0.8M223.2 95.3h0.8M203.4 96.9h0.8M204.0 98.0h0.8M227.4 98.9h0.8M213.5 97.6h0.8M218.8 99.6h0.8M213.8 101.9h0.8M212.3 97.5h0.8M213.3 95.3h0.8M213.8 93.8h0.8M227.3 94.1h0.8M196.4 97.2h0.8M186.1 103.3h0.8M204.3 94.9h0.8M194.2 101.9h0.8M208.7 97.4h0.8M197.2 103.6h0.8M207.3 95.2h0.8M217.6 97.9h0.8M203.3 102.4h0.8M199.9 94.5h0.8M214.9 99.2h0.8M200.4 98.2h0.8M206.3 95.9h0.8M205.4 93.9h0.8M195.9 101.1h0.8M215.8 95.6h0.8M197.4 99.3h0.8M216.1 100.4h0.8M209.2 87.7h0.8M198.3 103.7h0.8M205.6 107.6h0.8M215.3 97.5h0.8M204.7 98.0h0.8M227.5 95.4h0.8M199.0 103.6h0.8M219.7 106.0h0.8M192.0 98.5h0.8M203.4 88.5h0.8M216.7 98.6h0.8M190.0 101.5h0.8M209.8 98.0h0.8M197.3 99.8h0.8M194.1 93.1h0.8M200.9 101.1h0.8M202.0 97.2h0.8M203.0 100.7h0.8M201.7 98.1h0.8M199.0 97.0h0.8M182.5 96.3h0.8M220.4 102.0h0.8M226.6 95.6h0.8M211.7 99.6h0.8M205.6 104.9h0.8M198.6 102.2h0.8M210.0 99.5h0.8M208.6 90.3h0.8M199.7 104.4h0.8M206.2 102.4h0.8M213.5 93.9h0.8M209.1 93.1h0.8M207.1 100.4h0.8M208.4 98.2h0.8M201.5 105.2h0.8M206.0 94.3h0.8M207.9 98.6h0.8M200.9 102.3h0.8M206.5 100.8h0.8M214.9 93.2h0.8M216.0 92.4h0.8M187.0 100.5h0.8M195.4 108.7h0.8M216.0 94.6h0.8M210.9 96.7h0.8M211.8 101.4h0.8M194.8 102.6h0.8M208.7 103.8h0.8M212.2 95.7h0.8M210.8 96.0h0.8M201.1 103.0h0.8M201.9 99.0h0.8M210.1 98.5h0.8M208.4 95.1h0.8M218.7 94.3h0.8M186.1 99.5h0.8M201.5 97.6h0.8M218.2 94.6h0.8M196.6 99.5h0.8M208.1 97.6h0.8M221.0 100.7h0.8M199.0 106.7h0.8M210.1 97.3h0.8M225.7 101.7h0.8M195.9 102.6h0.8M187.8 93.9h0.8M217.1 98.4h0.8M202.0 94.5h0.8M207.4 102.9h0.8M207.6 97.0h0.8M219.5 102.8h0.8M205.4 104.4h0.8M216.1 95.8h0.8M213.7 94.4h0.8M207.8 102.8h0.8M216.4 94.3h0.8M210.0 98.2h0.8M207.0 102.6h0.8M234.9 94.2h0.8M189.3 104.5h0.8M197.7 107.6h0.8M198.1 101.7h0.8M203.8 102.1h0.8M208.5 96.7h0.8M203.7 89.8h0.8M228.2 96.3h0.8M202.5 99.8h0.8M197.6 102.5h0.8M207.4 99.2h0.8M202.9 97.5h0.8M202.4 97.6h0.8M215.7 98.0h0.8M209.6 95.4h0.8M216.8 92.5h0.8M197.5 101.5h0.8M212.8 98.1h0.8M207.6 101.0h0.8M201.2 98.0h0.8M192.6 100.8h0.8M205.9 95.9h0.8M196.2 99.3h0.8M214.2 101.0h0.8M212.3 104.5h0.8M211.4 97.3h0.8M233.1 96.6h0.8M218.4 94.6h0.8M187.7 96.8h0.8M212.3 96.2h0.8M208.9 97.9h0.8M208.9 97.6h0.8M202.1 96.9h0.8M215.7 98.3h0.8M181.8 107.2h0.8M194.5 99.1h0.8M213.0 99.6h0.8M209.2 100.8h0.8M216.1 101.3h0.8M204.0 102.0h0.8M202.7 103.4h0.8M214.3 98.2h0.8M207.9 94.3h0.8M190.5 97.8h0.8M215.5 96.1h0.8M196.5 97.2h0.8M214.8 95.1h0.8M208.7 98.1h0.8M212.4 98.1h0.8M216.3 96.1h0.8M197.9 101.8h0.8M214.2 105.0h0.8M206.0 95.7h0.8M204.4 97.5h0.8M206.5 95.0h0.8M203.1 103.8h0.8M208.0 102.1h0.8M208.6 94.1h0.8M201.5 101.7h0.8M216.4 92.6h0.8M208.2 100.3h0.8M196.9 100.8h0.8M211.3 98.7h0.8M210.9 92.1h0.8M194.0 101.9h0.8M209.9 99.4h0.8M204.3 104.3h0.8M209.5 99.2h0.8M205.5 99.2h0.8M210.3 96.1h0.8M209.1 100.8h0.8M186.5 105.4h0.8M208.2 101.7h0.8M212.7 101.6h0.8M213.7 97.5h0.8M217.7 92.4h0.8M210.3 99.0h0.8M220.0 102.4h0.8M215.7 102.3h0.8M202.4 97.5h0.8M201.8 107.5h0.8M219.7 102.2h0.8M214.1 101.1h0.8M190.4 98.3h0.8M197.7 103.2h0.8M218.4 100.9h0.8M209.8 106.8h0.8M190.9 100.2h0.8M211.0 97.6h0.8M216.9 102.0h0.8M213.8 102.4h0.8M207.2 102.5h0.8M205.0 97.8h0.8M201.8 97.8h0.8M202.5 100.9h0.8M209.9 100.5h0.8M230.9 98.8h0.8M230.7 92.9h0.8M204.7 93.9h0.8M194.0 105.3h0.8M206.2 99.1h0.8M204.4 99.2h0.8M205.3 103.0h0.8M190.8 96.6h0.8M206.4 99.3h0.8M200.9 99.0h0.8M207.8 100.8h0.8M192.7 101.4h0.8M207.8 101.6h0.8M195.1 96.5h0.8M199.1 99.0h0.8M200.6 97.1h0.8M202.6 103.9h0.8M202.7 104.6h0.8M201.9 100.4h0.8M201.8 102.7h0.8M200.5 99.6h0.8M201.4 97.9h0.8M204.6 104.6h0.8M224.5 96.2h0.8M216.4 102.8h0.8M202.9 108.7h0.8M193.7 97.2h0.8M217.9 99.7h0.8M206.8 98.2h0.8M210.6 100.2h0.8M216.6 89.4h0.8M189.8 104.3h0.8M201.0 97.2h0.8M209.0 100.1h0.8M220.3 98.8h0.8M206.8 102.4h0.8M207.8 99.3h0.8M206.9 100.5h0.8M206.5 98.4h0.8M207.6 93.7h0.8M201.4 98.0h0.8M200.2 98.6h0.8M203.4 98.7h0.8M213.0 99.0h0.8M218.1 98.4h0.8M208.9 102.9h0.8M205.7 106.7h0.8M217.9 93.9h0.8M212.4 99.1h0.8M214.2 99.8h0.8M205.8 98.6h0.8M203.6 102.4h0.8M210.4 90.6h0.8M206.0 101.9h0.8M217.8 96.9h0.8M197.9 93.9h0.8M210.0 97.9h0.8M208.4 106.1h0.8M197.7 100.4h0.8M205.0 107.2h0.8M198.6 108.7h0.8M204.0 100.9h0.8M204.5 98.7h0.8M232.0 97.9h0.8M198.3 106.1h0.8M214.1 104.8h0.8M203.1 101.3h0.8M210.0 95.8h0.8M204.9 105.3h0.8M198.7 94.1h0.8M220.2 96.5h0.8M217.5 98.0h0.8M191.3 103.8h0.8M205.5 97.5h0.8M203.9 100.5h0.8M192.9 105.0h0.8M208.7 99.3h0.8M211.3 95.7h0.8M208.0 102.1h0.8M211.5 99.3h0.8M222.9 93.3h0.8M202.6 97.5h0.8M219.8 104.3h0.8M227.2 95.6h0.8M180.6 105.6h0.8M204.8 98.0h0.8M219.6 96.9h0.8M210.3 98.8h0.8M201.2 98.5h0.8M220.8 100.1h0.8M216.0 101.9h0.8M192.8 104.7h0.8M214.6 96.8h0.8M205.2 97.4h0.8M207.9 92.0h0.8M196.9 105.0h0.8M212.1 97.5h0.8M208.0 94.8h0.8M197.9 96.7h0.8M204.6 102.8h0.8M220.2 96.3h0.8M221.9 99.9h0.8M193.5 102.3h0.8M212.4 102.0h0.8M204.6 100.8h0.8M200.9 89.9h0.8M210.3 103.9h0.8M220.6 92.6h0.8M213.2 104.0h0.8M198.5 101.3h0.8M207.3 96.5h0.8M211.1 96.9h0.8M217.1 94.8h0.8M206.9 100.8h0.8M208.8 101.0h0.8M208.7 94.3h0.8M212.3 91.8h0.8M190.6 106.7h0.8M220.4 98.7h0.8M209.5 94.2h0.8M208.0 103.0h0.8M197.9 105.3h0.8M210.0 100.7h0.8M225.9 98.3h0.8M201.5 98.3h0.8M190.6 91.2h0.8M211.8 101.3h0.8M207.1 96.5h0.8M208.0 106.6h0.8M193.0 100.1h0.8M211.5 100.8h0.8M212.8 95.7h0.8M208.5 97.2h0.8M215.6 105.9h0.8M199.0 100.8h0.8M186.4 95.4h0.8M208.8 103.0h0.8M227.9 100.5h0.8M210.2 95.9h0.8M228.3 96.4h0.8M210.5 98.8h0.8M204.9 96.9h0.8M200.2 100.8h0.8M219.6 91.5h0.8M195.2 102.6h0.8M202.2 103.9h0.8M203.0 96.9h0.8M210.5 101.3h0.8M208.2 102.1h0.8M193.9 103.6h0.8M197.2 106.3h0.8M223.3 96.8h0.8M207.7 96.4h0.8M207.8 102.2h0.8M204.4 101.7h0.8M208.7 91.1h0.8M200.4 100.7h0.8M217.3 94.9h0.8M215.1 96.7h0.8M207.3 99.6h0.8M216.8 103.5h0.8M206.1 101.0h0.8M203.0 97.4h0.8M216.2 95.8h0.8M206.6 100.2h0.8M200.0 101.9h0.8M223.7 106.8h0.8M205.1 96.1h0.8M211.2 96.6h0.8M222.0 100.6h0.8M195.4 99.9h0.8M204.6 100.4h0.8M215.5 92.0h0.8M203.7 93.8h0.8M203.6 102.4h0.8M205.4 95.8h0.8M205.0 102.5h0.8M204.2 98.0h0.8M211.3 99.8h0.8M208.9 103.5h0.8M223.0 93.8h0.8M210.0 95.9h0.8M223.6 101.0h0.8M208.7 99.1h0.8M223.5 96.2h0.8M206.7 102.7h0.8M218.2 93.9h0.8M208.9 98.9h0.8M221.8 92.3h0.8M199.4 95.6h0.8M203.5 102.3h0.8M211.8 103.1h0.8M198.7 101.3h0.8M220.2 91.8h0.8M205.7 99.0h0.8M212.6 99.6h0.8M217.0 97.6h0.8M213.8 102.6h0.8M200.2 97.3h0.8M195.3 102.3h0.8M191.8 100.4h0.8M199.0 100.2h0.8M200.3 99.1h0.8M200.4 102.2h0.8M211.0 94.1h0.8M194.7 100.1h0.8M192.6 102.9h0.8M209.6 102.1h0.8M224.7 100.5h0.8M199.0 101.3h0.8M207.0 103.5h0.8M207.7 103.9h0.8M217.4 97.2h0.8M216.6 105.1h0.8M204.2 105.4h0.8M215.8 96.8h0.8M208.0 98.7h0.8M214.6 96.3h0.8M224.2 96.1h0.8M187.3 103.7h0.8M194.4 102.3h0.8M194.6 99.8h0.8M196.1 102.8h0.8M209.0 103.5h0.8M209.0 102.3h0.8M223.9 99.1h0.8M220.3 96.0h0.8M209.9 97.7h0.8M207.1 105.5h0.8M213.6 98.4h0.8M210.9 95.9h0.8M203.5 103.2h0.8M214.7 104.2h0.8M201.8 94.6h0.8M207.4 105.4h0.8M205.3 95.9h0.8M202.3 103.2h0.8M201.3 100.5h0.8M207.5 96.9h0.8M205.6 96.0h0.8M195.3 97.4h0.8M222.0 92.3h0.8M222.8 95.4h0.8M223.1 100.5h0.8M218.0 96.6h0.8M207.5 106.4h0.8M198.3 99.7h0.8M197.4 98.2h0.8M191.1 101.8h0.8M205.1 105.7h0.8M190.8 99.1h0.8M208.2 99.1h0.8M210.2 102.5h0.8M201.9 98.2h0.8M202.5 101.9h0.8M206.5 98.7h0.8M212.3 97.7h0.8M204.0 99.3h0.8M222.6 95.9h0.8M199.3 103.3h0.8M200.5 94.5h0.8M201.9 95.3h0.8M205.0 97.8h0.8M208.2 93.4h0.8M211.6 95.0h0.8M203.4 95.3h0.8M221.6 96.4h0.8M189.0 95.8h0.8M209.3 97.7h0.8M207.1 96.7h0.8M195.1 104.8h0.8M192.9 95.5h0.8M207.0 93.0h0.8M216.6 91.8h0.8M210.0 94.5h0.8M205.7 95.9h0.8M204.3 101.7h0.8M201.9 96.8h0.8M203.1 98.9h0.8M212.6 97.6h0.8M217.0 99.4h0.8M211.0 93.2h0.8M200.1 97.0h0.8M212.0 98.1h0.8M217.0 102.4h0.8M189.7 99.2h0.8M209.3 95.9h0.8M202.3 102.4h0.8M207.9 99.1h0.8M195.1 100.8h0.8M198.1 107.0h0.8M205.3 96.5h0.8M202.2 102.5h0.8M203.3 106.6h0.8M198.4 98.7h0.8M212.0 106.6h0.8M216.9 100.1h0.8M198.1 101.7h0.8M209.9 104.0h0.8M202.8 100.6h0.8M207.6 89.8h0.8M217.0 98.5h0.8M209.0 98.2h0.8M204.8 94.1h0.8M197.6 103.2h0.8M216.6 95.6h0.8M221.2 93.6h0.8M190.5 109.8h0.8M212.7 102.5h0.8M206.0 105.0h0.8M196.1 107.4h0.8M221.7 92.1h0.8M212.6 105.1h0.8M225.2 92.5h0.8M198.9 96.6h0.8M202.7 101.1h0.8M192.9 100.1h0.8M208.3 105.3h0.8M191.2 100.4h0.8M204.2 102.0h0.8M217.1 97.5h0.8M211.1 95.8h0.8M215.3 96.9h0.8M207.6 97.5h0.8M213.8 98.7h0.8M205.5 98.9h0.8M195.7 104.1h0.8M210.9 97.6h0.8M206.3 100.4h0.8M200.4 106.3h0.8M196.9 102.6h0.8M219.3 107.5h0.8M191.7 102.1h0.8M199.3 101.6h0.8M210.3 101.0h0.8M212.9 102.6h0.8M209.3 101.7h0.8M192.9 101.4h0.8M216.5 97.0h0.8M205.4 98.1h0.8M193.3 101.4h0.8M215.7 92.3h0.8M205.1 95.1h0.8M189.3 97.8h0.8M183.3 108.2h0.8M205.3 100.5h0.8M201.5 103.9h0.8M209.0 98.1h0.8M208.2 100.3h0.8M199.1 97.5h0.8M209.4 91.7h0.8M208.6 98.0h0.8M196.7 99.0h0.8M213.4 95.9h0.8M207.7 94.0h0.8M205.3 101.6h0.8M210.3 101.6h0.8M199.6 102.4h0.8M200.0 104.3h0.8M205.2 96.5h0.8M198.4 102.7h0.8M220.4 96.8h0.8M208.6 97.2h0.8M213.3 98.3h0.8M222.5 93.3h0.8M219.7 96.0h0.8M225.8 96.1h0.8M197.9 94.1h0.8M222.6 102.2h0.8M203.6 103.3h0.8M205.4 102.4h0.8M209.7 105.1h0.8M208.0 101.5h0.8M207.0 101.4h0.8M210.6 104.7h0.8M220.5 95.3h0.8M186.2 97.6h0.8M194.1 104.7h0.8M194.9 100.2h0.8M210.2 102.5h0.8M208.3 101.4h0.8M210.1 96.2h0.8M224.2 96.3h0.8M206.6 95.2h0.8M194.0 101.4h0.8M210.8 98.0h0.8M224.0 99.5h0.8M226.1 103.1h0.8M206.6 100.3h0.8M208.2 98.0h0.8M210.1 99.2h0.8M212.4 98.1h0.8M205.5 97.8h0.8M202.8 100.8h0.8M220.6 93.0h0.8M220.5 94.0h0.8M207.3 100.1h0.8M202.2 103.5h0.8M201.6 102.0h0.8M196.4 99.9h0.8M196.4 105.0h0.8M204.7 100.8h0.8M201.4 106.5h0.8M209.8 100.7h0.8M202.3 100.0h0.8M197.9 96.3h0.8M204.2 104.4h0.8M184.7 106.4h0.8M211.1 103.6h0.8M204.5 97.6h0.8M218.9 93.4h0.8M203.7 104.8h0.8M205.6 99.5h0.8M197.3 91.8h0.8M226.4 98.6h0.8M208.8 94.3h0.8M218.9 102.5h0.8M204.5 103.6h0.8M211.2 91.3h0.8M198.5 101.8h0.8M201.3 100.1h0.8M204.5 101.9h0.8M198.1 96.2h0.8M212.8 93.1h0.8M215.1 101.3h0.8M216.6 90.5h0.8M198.5 100.2h0.8M201.9 101.6h0.8M206.9 102.0h0.8M213.0 99.5h0.8M196.7 109.3h0.8M205.1 103.9h0.8M216.2 97.2h0.8M207.7 98.6h0.8M205.5 96.8h0.8M196.7 101.6h0.8M205.0 107.3h0.8M213.6 100.8h0.8M216.0 97.5h0.8M190.8 97.4h0.8M209.0 89.8h0.8M203.4 99.5h0.8M197.8 97.9h0.8M223.7 98.0h0.8M212.2 94.3h0.8M197.3 103.5h0.8M197.3 99.9h0.8M207.9 96.8h0.8M193.4 102.5h0.8M204.5 97.9h0.8M211.1 98.4h0.8M194.2 98.5h0.8M208.5 100.7h0.8M209.6 92.6h0.8M200.5 99.9h0.8M210.3 100.8h0.8M213.1 101.4h0.8M210.7 100.6h0.8M201.2 104.9h0.8M214.4 98.9h0.8M205.0 109.0h0.8M208.1 97.1h0.8M205.9 91.9h0.8M205.2 91.4h0.8M187.1 95.4h0.8M216.0 97.7h0.8M209.9 92.4h0.8M206.8 93.8h0.8M212.5 100.9h0.8M201.7 93.4h0.8M205.2 99.7h0.8M211.6 101.6h0.8M187.5 106.6h0.8M199.9 101.1h0.8M200.3 95.1h0.8M203.2 96.1h0.8M202.4 105.2h0.8M200.3 106.1h0.8M208.4 97.3h0.8M214.1 101.2h0.8M211.0 101.3h0.8M215.5 96.5h0.8M211.7 102.3h0.8M219.4 93.9h0.8M221.2 99.1h0.8M202.6 102.1h0.8M199.0 99.9h0.8M200.7 98.1h0.8M204.2 105.3h0.8M212.6 95.3h0.8M210.7 95.3h0.8M207.6 93.9h0.8M200.3 99.4h0.8M202.6 99.2h0.8M204.2 96.6h0.8M209.1 103.0h0.8M179.2 104.0h0.8M209.1 101.0h0.8M210.2 93.5h0.8M199.7 99.1h0.8M220.3 102.9h0.8M214.1 102.0h0.8M213.1 100.0h0.8M192.7 105.8h0.8M214.1 100.8h0.8M208.1 100.2h0.8M208.5 100.5h0.8M185.9 104.4h0.8M192.1 100.2h0.8M204.7 106.2h0.8M195.7 110.1h0.8M218.5 98.1h0.8M196.3 100.9h0.8M214.6 106.9h0.8M210.1 100.6h0.8M232.6 97.5h0.8M207.3 101.1h0.8M220.2 97.7h0.8M202.4 98.9h0.8M196.6 104.0h0.8M209.0 93.7h0.8M218.9 101.5h0.8M202.5 105.8h0.8M216.0 97.2h0.8M211.7 97.3h0.8M207.9 106.7h0.8M208.4 98.6h0.8M207.6 97.3h0.8M201.7 103.8h0.8M207.4 95.3h0.8M209.3 91.4h0.8M200.0 100.6h0.8M182.6 101.4h0.8M212.1 95.8h0.8M200.0 97.8h0.8M211.4 96.5h0.8M198.7 99.7h0.8M208.9 90.7h0.8M205.0 102.7h0.8M203.6 98.8h0.8M206.0 98.2h0.8M209.8 97.9h0.8M191.1 105.0h0.8M218.2 98.8h0.8M217.2 106.1h0.8M208.4 91.2h0.8M192.2 104.9h0.8M215.0 101.8h0.8M205.0 88.9h0.8M222.0 99.2h0.8M202.4 99.7h0.8M204.8 99.3h0.8M215.7 98.0h0.8M187.3 104.0h0.8M202.9 98.6h0.8M204.6 97.1h0.8M186.1 106.3h0.8M198.0 100.8h0.8M209.3 102.2h0.8M211.3 108.7h0.8M221.0 92.1h0.8M214.9 94.8h0.8M194.0 98.8h0.8M213.8 97.9h0.8M211.2 105.0h0.8M207.9 100.9h0.8M196.9 105.1h0.8M224.9 103.6h0.8M221.7 89.6h0.8M209.3 97.7h0.8M198.9 98.1h0.8M196.5 102.6h0.8M195.8 97.3h0.8M215.8 104.0h0.8M190.8 100.0h0.8M216.8 94.9h0.8M204.5 95.8h0.8M209.2 94.1h0.8M213.7 98.1h0.8M228.4 93.7h0.8M213.7 99.4h0.8M204.9 97.8h0.8M210.5 100.5h0.8M208.2 99.9h0.8M207.7 103.3h0.8M208.2 101.9h0.8M197.3 98.8h0.8M210.4 103.4h0.8M194.0 99.2h0.8M216.7 94.4h0.8M203.8 103.1h0.8M195.4 96.4h0.8M212.4 95.9h0.8M212.2 92.8h0.8M206.9 93.7h0.8M193.1 102.6h0.8M194.3 97.8h0.8M212.7 104.6h0.8M228.4 101.3h0.8M209.4 100.2h0.8M209.1 96.4h0.8M212.2 98.3h0.8M198.7 99.6h0.8M217.7 101.8h0.8M200.0 93.2h0.8M207.1 98.6h0.8M199.4 100.7h0.8M196.0 102.5h0.8M200.2 102.9h0.8M198.1 99.2h0.8M203.5 102.1h0.8M220.3 92.7h0.8M210.2 102.9h0.8M201.9 101.4h0.8M210.6 98.2h0.8M202.3 104.1h0.8M216.8 95.0h0.8M213.2 91.9h0.8M203.9 101.6h0.8M206.5 99.6h0.8M207.4 97.9h0.8M197.2 98.2h0.8M196.6 102.6h0.8M206.2 102.6h0.8M198.1 97.2h0.8M205.9 94.2h0.8M215.1 100.5h0.8M204.3 95.6h0.8M213.0 103.0h0.8M223.9 101.8h0.8M202.7 97.7h0.8M221.5 105.6h0.8M199.2 99.5h0.8M196.4 100.6h0.8M208.6 98.6h0.8M205.8 101.1h0.8M194.0 104.4h0.8M219.0 98.6h0.8M214.4 95.4h0.8M197.9 99.5h0.8M204.3 93.9h0.8M205.7 95.6h0.8M195.7 101.6h0.8M210.0 98.7h0.8M194.3 99.1h0.8M191.2 102.5h0.8M219.8 94.4h0.8M201.2 100.0h0.8M200.1 100.5h0.8M205.5 103.1h0.8M201.0 104.0h0.8M226.1 92.4h0.8M211.0 97.1h0.8M213.7 91.6h0.8M216.3 105.2h0.8M225.3 88.4h0.8M186.4 102.2h0.8M213.2 92.4h0.8M208.6 99.1h0.8M207.9 99.8h0.8M218.1 99.7h0.8M212.4 96.0h0.8M191.5 104.2h0.8M208.9 96.3h0.8M204.9 96.0h0.8M216.8 94.6h0.8M187.4 99.4h0.8M213.8 104.3h0.8M208.9 102.2h0.8M213.4 100.5h0.8M209.4 91.2h0.8M187.7 101.9h0.8M213.7 100.5h0.8M205.7 92.8h0.8M200.3 103.8h0.8M215.0 93.8h0.8M206.6 99.1h0.8M222.4 97.6h0.8M216.8 97.2h0.8M196.8 100.7h0.8M214.5 99.7h0.8M207.6 103.4h0.8M207.6 104.8h0.8M206.4 104.3h0.8M216.5 98.2h0.8M198.5 93.0h0.8M210.4 94.5h0.8M192.6 99.7h0.8M210.4 101.0h0.8M196.0 105.3h0.8M195.1 99.6h0.8M206.2 96.8h0.8M196.7 101.2h0.8M217.3 98.3h0.8M197.3 103.3h0.8M222.2 99.6h0.8M214.4 97.2h0.8M206.5 90.0h0.8M212.6 96.7h0.8M207.2 88.0h0.8M228.7 95.1h0.8M213.2 108.2h0.8M202.3 104.5h0.8M210.8 99.9h0.8M205.2 107.8h0.8M205.8 95.5h0.8M201.8 101.5h0.8M202.4 101.9h0.8M214.4 95.4h0.8M206.3 97.2h0.8M214.5 100.6h0.8M204.3 100.6h0.8M205.9 97.2h0.8M202.6 99.4h0.8M219.3 99.8h0.8M222.0 96.1h0.8M205.8 96.6h0.8M215.5 99.3h0.8M193.7 100.8h0.8M195.4 101.5h0.8M213.2 93.8h0.8M191.0 101.5h0.8M232.6 93.8h0.8M215.6 92.4h0.8M224.0 102.3h0.8M206.4 99.8h0.8M194.8 102.1h0.8M199.4 103.7h0.8M199.9 105.6h0.8M215.5 101.7h0.8M197.2 98.2h0.8M199.8 101.2h0.8M221.3 94.7h0.8M195.8 100.1h0.8M201.5 101.5h0.8M220.5 101.6h0.8M229.7 91.6h0.8M192.4 104.4h0.8M184.9 104.2h0.8M200.1 96.5h0.8M210.8 109.5h0.8M206.7 98.9h0.8M202.7 104.4h0.8M195.2 100.9h0.8M215.3 99.3h0.8M202.9 103.2h0.8M201.1 100.4h0.8M207.6 99.2h0.8M221.4 101.7h0.8M209.5 103.0h0.8M232.7 104.4h0.8M204.4 100.8h0.8M211.9 91.8h0.8M186.4 97.2h0.8M201.5 102.1h0.8M206.4 95.6h0.8M199.9 95.0h0.8M200.6 104.6h0.8M201.1 94.1h0.8M197.2 94.7h0.8M202.3 100.7h0.8M208.7 103.5h0.8M211.2 101.7h0.8M196.5 96.6h0.8M205.8 102.3h0.8M199.2 96.7h0.8M216.0 99.0h0.8M221.7 85.4h0.8M208.4 94.3h0.8M211.4 99.9h0.8M204.7 99.0h0.8M212.1 99.9h0.8M203.1 85.2h0.8M196.3 106.2h0.8M219.5 100.5h0.8M229.6 103.5h0.8M212.9 96.2h0.8M207.9 102.6h0.8M212.2 100.7h0.8M223.0 96.0h0.8M203.3 101.8h0.8M214.4 98.5h0.8M209.5 101.5h0.8M186.9 101.8h0.8M204.1 100.0h0.8M212.3 95.6h0.8M210.5 97.2h0.8M206.5 100.2h0.8M195.9 102.2h0.8M210.1 100.3h0.8M209.6 102.2h0.8M212.1 95.7h0.8M223.8 93.7h0.8M206.9 93.0h0.8M218.6 102.3h0.8M213.2 105.6h0.8M233.7 96.5h0.8M212.7 100.8h0.8M231.9 92.5h0.8M198.3 101.2h0.8M197.0 106.2h0.8M212.3 99.7h0.8M205.5 94.2h0.8M220.1 98.4h0.8M215.3 98.0h0.8M216.0 101.2h0.8M201.3 106.5h0.8M207.5 99.5h0.8M216.0 99.8h0.8M203.0 103.7h0.8M207.4 96.0h0.8M219.1 96.6h0.8M206.5 93.2h0.8M210.2 99.8h0.8M219.7 100.1h0.8M212.3 99.9h0.8M194.4 103.1h0.8M208.6 96.3h0.8M207.7 96.1h0.8M211.9 103.5h0.8M229.8 98.3h0.8M218.5 96.2h0.8M209.7 101.2h0.8M201.3 97.4h0.8M215.3 94.3h0.8M209.9 100.2h0.8M220.2 97.0h0.8M211.1 99.9h0.8M218.8 106.5h0.8M200.6 102.0h0.8M206.4 100.1h0.8M209.6 106.7h0.8M199.7 97.6h0.8M211.5 98.1h0.8M204.1 98.1h0.8M204.4 99.5h0.8M202.7 108.7h0.8M205.9 92.2h0.8M193.3 106.4h0.8M215.6 93.0h0.8M210.8 92.8h0.8M213.2 97.8h0.8M219.6 97.0h0.8M210.3 97.7h0.8M204.4 95.6h0.8M220.8 99.7h0.8M203.5 95.1h0.8M209.7 101.3h0.8M189.2 112.9h0.8M201.9 95.3h0.8M207.7 100.3h0.8M214.0 98.8h0.8M211.8 92.8h0.8M216.8 97.9h0.8M203.0 103.8h0.8M203.0 103.6h0.8M210.1 101.6h0.8M199.8 98.4h0.8M203.8 99.5h0.8M207.6 96.0h0.8M189.5 106.7h0.8M192.2 99.0h0.8M210.7 94.8h0.8M200.4 98.3h0.8M215.5 104.6h0.8M202.0 94.2h0.8M198.2 104.2h0.8M213.7 101.3h0.8M204.7 97.8h0.8M211.0 99.6h0.8M200.2 94.9h0.8M200.0 102.0h0.8M204.5 101.6h0.8M199.5 97.8h0.8M205.7 100.4h0.8M197.8 101.1h0.8M210.9 101.1h0.8M215.0 100.9h0.8M212.3 102.8h0.8M195.3 101.0h0.8M219.1 99.8h0.8M191.4 105.4h0.8M210.2 105.4h0.8M208.2 99.7h0.8M214.1 96.6h0.8M200.5 98.1h0.8M202.4 99.9h0.8M217.0 91.4h0.8M217.2 93.9h0.8M198.1 103.5h0.8M205.8 107.4h0.8M200.7 105.8h0.8M182.5 101.1h0.8M218.5 102.4h0.8M201.3 101.8h0.8M207.5 97.5h0.8M210.3 104.1h0.8M195.7 104.8h0.8M216.2 101.5h0.8M201.3 102.7h0.8M194.1 105.4h0.8M210.2 98.0h0.8M208.6 98.2h0.8M201.8 98.2h0.8M207.2 103.0h0.8M223.3 98.9h0.8M214.3 102.2h0.8M207.1 98.4h0.8M203.6 99.1h0.8M224.4 96.8h0.8M203.1 100.3h0.8M188.8 101.6h0.8M219.5 103.1h0.8M202.6 101.0h0.8M185.3 93.2h0.8M193.7 99.4h0.8M194.6 102.6h0.8M186.7 103.5h0.8M200.1 101.0h0.8M201.5 99.7h0.8M223.4 102.8h0.8M205.9 96.8h0.8M202.2 103.3h0.8M206.1 103.4h0.8M209.6 103.0h0.8M217.7 106.3h0.8M218.9 94.5h0.8M188.4 100.2h0.8M193.6 103.3h0.8M207.3 101.7h0.8M225.5 99.0h0.8M202.1 97.9h0.8M217.1 96.7h0.8M202.8 106.3h0.8M202.3 103.0h0.8M205.1 102.6h0.8M220.7 100.8h0.8M203.7 107.1h0.8M207.8 99.1h0.8M210.5 100.4h0.8M214.9 92.5h0.8M207.6 98.4h0.8M215.8 99.6h0.8M223.5 99.6h0.8M214.3 95.9h0.8M203.0 95.2h0.8M205.5 96.8h0.8M208.7 91.5h0.8M204.2 96.1h0.8M196.7 100.8h0.8M198.8 102.8h0.8M202.9 105.9h0.8M188.9 103.2h0.8M234.1 92.5h0.8M215.5 99.1h0.8M201.8 99.1h0.8M200.9 104.6h0.8M219.4 101.7h0.8M193.1 95.6h0.8M197.5 100.1h0.8M218.2 105.7h0.8M207.3 104.2h0.8M214.5 97.7h0.8M206.5 88.1h0.8M207.7 102.1h0.8M201.5 102.0h0.8M211.7 98.3h0.8M210.0 102.2h0.8M209.6 100.3h0.8M203.6 102.3h0.8M218.4 96.8h0.8M207.9 98.8h0.8M213.2 100.1h0.8M196.1 100.1h0.8M191.1 97.6h0.8M213.5 93.8h0.8M201.3 101.5h0.8M198.9 97.6h0.8M210.2 95.7h0.8M219.4 95.0h0.8M205.1 102.4h0.8M203.3 92.1h0.8M210.0 89.6h0.8M212.6 99.3h0.8M207.8 98.5h0.8M191.2 107.5h0.8M214.3 97.1h0.8M199.1 95.1h0.8M227.0 97.2h0.8M201.0 101.5h0.8M209.6 100.3h0.8M207.0 100.7h0.8M210.4 107.0h0.8M230.6 94.3h0.8M205.1 101.1h0.8M216.9 97.6h0.8M206.4 92.9h0.8M203.3 95.3h0.8M213.9 94.8h0.8M210.3 97.6h0.8M204.9 95.0h0.8M199.0 105.9h0.8M211.2 98.2h0.8M238.8 90.5h0.8M205.6 96.7h0.8M213.3 98.4h0.8M201.5 97.7h0.8M239.3 90.0h0.8M193.2 96.7h0.8M201.8 99.9h0.8M190.7 108.3h0.8M212.2 87.9h0.8M208.6 97.5h0.8M211.4 98.6h0.8M206.7 96.1h0.8M223.3 104.9h0.8M220.4 97.6h0.8M217.4 91.1h0.8M182.2 104.0h0.8M198.1 96.0h0.8M208.8 101.8h0.8M215.7 97.8h0.8M182.2 107.5h0.8M221.7 93.1h0.8M210.7 99.9h0.8M223.3 102.6h0.8M196.2 99.8h0.8M199.5 96.4h0.8M197.3 99.3h0.8M201.6 100.8h0.8M199.8 98.8h0.8M191.1 103.3h0.8M220.2 101.3h0.8M211.9 95.1h0.8M198.6 94.5h0.8M187.4 98.8h0.8M217.3 91.4h0.8M185.3 99.6h0.8M196.6 99.7h0.8M194.3 94.6h0.8M200.3 100.2h0.8M211.5 98.0h0.8M214.3 91.7h0.8M209.9 96.8h0.8M195.2 94.5h0.8M219.8 99.0h0.8M218.2 95.9h0.8M214.8 99.3h0.8M230.3 100.2h0.8M197.4 102.7h0.8M199.9 99.8h0.8M199.9 100.9h0.8M200.9 97.8h0.8M213.1 97.5h0.8M210.0 104.7h0.8M202.9 97.1h0.8M217.9 96.5h0.8M206.4 99.6h0.8M201.9 100.7h0.8M201.5 102.2h0.8M194.0 96.3h0.8M204.5 97.1h0.8M198.7 99.5h0.8M206.1 99.8h0.8M210.9 100.3h0.8M211.5 99.4h0.8M202.7 99.5h0.8M224.3 92.4h0.8M195.4 96.1h0.8M212.9 93.2h0.8M207.6 101.5h0.8M210.5 103.8h0.8M200.0 96.5h0.8M198.7 94.7h0.8M212.7 96.3h0.8M190.7 101.9h0.8M207.8 96.4h0.8M192.9 99.9h0.8M189.9 103.7h0.8M207.7 99.7h0.8M201.2 97.7h0.8M224.4 91.0h0.8M190.2 100.6h0.8M208.9 102.2h0.8M206.9 92.3h0.8M209.3 103.8h0.8M202.5 99.9h0.8M192.4 106.4h0.8M213.4 95.1h0.8M213.4 94.6h0.8M209.7 93.1h0.8M209.6 99.0h0.8M218.2 97.2h0.8M216.0 96.3h0.8M213.5 97.8h0.8M201.2 101.1h0.8M216.0 94.2h0.8M199.2 103.2h0.8M209.6 92.3h0.8M197.2 98.3h0.8M205.5 100.0h0.8M214.2 96.4h0.8M204.0 99.6h0.8M214.9 91.5h0.8M202.2 98.1h0.8M222.6 95.8h0.8M204.6 93.6h0.8M231.7 96.7h0.8M212.9 93.0h0.8M206.0 95.6h0.8M195.6 95.5h0.8M203.0 99.8h0.8M225.0 92.7h0.8M195.4 102.5h0.8M192.6 103.8h0.8M209.5 96.7h0.8M219.0 98.5h0.8M204.3 105.4h0.8M197.8 93.8h0.8M203.8 92.6h0.8M205.9 105.1h0.8M217.0 93.6h0.8M226.2 106.0h0.8M206.0 101.8h0.8M197.8 91.4h0.8M196.1 103.5h0.8M190.5 100.6h0.8M206.2 99.0h0.8M192.6 103.9h0.8M213.2 95.3h0.8M204.5 97.8h0.8M200.3 100.1h0.8M219.4 90.2h0.8M190.3 100.1h0.8M215.5 98.2h0.8M207.9 98.5h0.8M209.4 98.7h0.8M206.7 98.6h0.8M195.0 93.2h0.8M212.0 94.5h0.8M217.0 89.8h0.8M187.9 102.8h0.8M208.3 102.0h0.8M205.8 99.4h0.8M202.9 91.8h0.8M210.5 96.7h0.8M205.4 101.8h0.8M203.3 101.0h0.8M218.5 99.6h0.8M198.1 103.1h0.8M202.3 95.4h0.8M202.9 100.2h0.8M199.4 101.0h0.8M201.2 95.9h0.8M219.7 94.5h0.8M198.8 99.6h0.8M231.5 102.0h0.8M192.4 104.9h0.8M183.8 102.5h0.8M200.1 100.0h0.8M193.8 94.9h0.8M218.5 97.1h0.8M211.6 101.8h0.8M196.3 99.0h0.8M205.1 101.1h0.8M204.5 104.3h0.8M231.3 93.8h0.8M207.1 93.1h0.8M209.1 98.1h0.8M211.6 97.5h0.8M210.4 108.3h0.8M206.6 98.5h0.8M198.4 99.7h0.8M208.1 102.4h0.8M208.2 95.9h0.8M193.8 99.6h0.8M207.3 98.2h0.8M194.7 100.1h0.8M191.0 102.7h0.8M206.0 99.5h0.8M210.2 89.6h0.8M216.1 101.5h0.8M201.1 98.0h0.8M193.1 103.6h0.8M198.2 100.5h0.8M204.5 101.4h0.8M206.3 103.8h0.8M210.9 97.5h0.8M204.6 97.5h0.8M216.8 98.7h0.8M200.5 99.5h0.8M212.1 104.6h0.8M212.5 97.1h0.8M210.0 96.2h0.8M212.8 105.3h0.8M195.9 98.1h0.8M215.4 100.4h0.8M201.4 97.5h0.8M205.3 101.6h0.8M197.9 106.2h0.8M210.9 103.4h0.8M202.2 98.2h0.8M200.5 102.0h0.8M213.8 102.3h0.8M199.5 100.6h0.8M211.2 105.2h0.8M209.3 104.4h0.8M212.7 104.4h0.8M207.2 99.1h0.8M195.5 102.3h0.8M207.4 94.5h0.8M209.7 95.3h0.8M224.8 98.4h0.8M224.0 93.7h0.8M215.1 97.9h0.8M215.5 93.7h0.8M182.1 100.4h0.8M201.1 95.5h0.8M196.6 101.8h0.8M212.1 95.5h0.8M212.0 98.8h0.8M212.3 100.4h0.8M212.2 96.9h0.8M210.3 98.6h0.8M207.1 107.6h0.8M201.6 102.0h0.8M214.5 103.8h0.8M207.8 104.5h0.8M217.4 100.7h0.8M203.0 101.7h0.8M203.4 93.6h0.8M199.7 102.1h0.8M212.5 94.5h0.8M198.3 95.5h0.8M184.4 102.4h0.8M199.9 104.5h0.8M200.6 102.3h0.8M207.2 101.8h0.8M203.9 102.5h0.8M219.3 100.1h0.8M209.3 94.8h0.8M215.5 93.7h0.8M220.2 97.3h0.8M217.5 101.3h0.8M215.7 97.6h0.8M202.0 97.1h0.8M210.8 96.5h0.8M205.8 97.5h0.8M213.9 95.6h0.8M200.9 96.0h0.8M214.2 103.9h0.8M202.4 100.5h0.8M213.1 92.0h0.8M218.7 97.9h0.8M219.0 99.2h0.8M203.7 102.8h0.8M219.0 93.4h0.8M189.7 94.9h0.8M210.0 107.2h0.8M192.9 96.5h0.8M206.4 93.9h0.8M195.9 101.5h0.8M207.3 103.2h0.8M200.9 103.8h0.8M218.7 94.2h0.8M227.6 95.9h0.8M214.9 95.1h0.8M216.9 97.5h0.8M211.2 95.9h0.8M207.8 108.3h0.8M205.8 103.7h0.8M196.0 100.1h0.8M199.6 99.7h0.8M215.5 102.9h0.8M202.9 97.1h0.8M210.7 97.5h0.8M198.5 98.7h0.8M229.0 95.7h0.8M221.1 103.2h0.8M206.1 96.8h0.8M224.3 91.7h0.8M211.5 94.1h0.8M217.3 95.1h0.8M205.0 94.2h0.8M202.3 95.1h0.8M220.3 93.8h0.8M214.6 99.7h0.8M215.3 98.7h0.8M216.7 96.2h0.8M208.8 100.2h0.8M203.1 99.8h0.8M210.9 98.0h0.8M190.3 98.4h0.8M208.7 101.8h0.8M218.0 97.2h0.8M205.1 98.6h0.8M224.8 94.9h0.8M204.2 100.0h0.8M197.6 100.2h0.8M212.2 93.6h0.8M205.4 97.0h0.8M212.6 93.7h0.8M199.6 89.2h0.8M211.9 93.4h0.8M210.0 108.2h0.8M208.8 92.1h0.8M216.3 97.1h0.8M200.6 102.9h0.8M205.7 98.6h0.8M217.8 96.9h0.8M218.4 93.4h0.8M213.8 95.2h0.8M196.5 98.0h0.8M208.6 94.4h0.8M203.5 99.0h0.8M204.8 101.8h0.8M193.4 104.6h0.8M188.7 108.4h0.8M217.0 99.7h0.8M216.9 109.8h0.8M193.8 101.8h0.8M203.4 95.5h0.8M207.1 93.7h0.8M202.0 100.9h0.8M212.6 101.4h0.8M204.2 103.1h0.8M194.3 101.3h0.8M204.2 104.6h0.8M211.6 98.7h0.8M198.4 99.1h0.8M214.3 97.4h0.8M217.2 97.9h0.8M213.4 100.5h0.8M211.9 93.8h0.8M205.8 95.4h0.8M213.1 102.6h0.8M200.2 98.9h0.8M185.9 107.0h0.8M201.0 102.6h0.8M221.1 98.2h0.8M217.7 102.1h0.8M197.1 100.2h0.8M205.5 102.0h0.8M200.9 103.3h0.8M196.7 104.9h0.8M203.5 96.2h0.8M214.6 97.9h0.8M208.5 104.7h0.8M205.2 102.3h0.8M187.6 107.5h0.8M228.6 101.7h0.8M195.9 98.8h0.8M207.3 99.2h0.8M215.6 103.4h0.8M209.1 101.0h0.8M214.4 94.8h0.8M185.5 104.4h0.8M199.1 102.1h0.8M200.4 98.4h0.8M194.2 99.9h0.8M192.7 105.0h0.8M215.7 100.6h0.8M194.4 97.1h0.8M216.8 94.3h0.8M215.2 96.8h0.8M203.7 99.9h0.8M193.9 101.1h0.8M201.0 97.1h0.8M200.4 101.5h0.8M199.6 92.8h0.8M199.2 97.3h0.8M207.4 99.3h0.8M204.2 99.6h0.8M206.4 98.9h0.8M206.9 100.6h0.8M218.5 98.1h0.8M225.6 95.1h0.8M208.0 105.1h0.8M206.1 99.0h0.8M207.0 109.1h0.8M215.0 91.6h0.8M214.0 101.5h0.8M207.3 94.4h0.8M204.6 93.2h0.8M211.8 94.8h0.8M215.1 86.9h0.8M202.6 97.9h0.8M210.9 98.2h0.8M189.4 98.1h0.8M200.5 98.5h0.8M211.7 100.1h0.8M191.8 99.2h0.8M193.4 104.9h0.8M208.9 96.1h0.8M189.6 109.0h0.8M203.9 99.6h0.8M225.6 91.2h0.8M210.7 101.3h0.8M223.5 97.5h0.8M220.7 91.4h0.8M201.0 107.5h0.8M204.9 97.9h0.8M210.8 100.7h0.8M218.9 107.5h0.8M220.0 94.5h0.8M213.9 95.4h0.8M210.4 100.4h0.8M195.8 92.0h0.8M217.5 101.7h0.8M201.1 96.8h0.8M217.1 103.0h0.8M220.3 101.8h0.8M192.8 97.2h0.8M225.1 91.3h0.8M206.0 104.2h0.8M216.4 93.1h0.8M215.9 97.9h0.8M224.8 98.2h0.8M218.7 100.7h0.8M222.4 97.0h0.8M214.5 95.0h0.8M200.2 103.5h0.8M205.6 101.3h0.8M214.2 102.3h0.8M215.4 94.0h0.8M209.4 104.8h0.8M200.7 102.3h0.8M195.2 99.9h0.8M208.3 101.4h0.8M235.3 94.4h0.8M204.9 92.6h0.8M202.2 97.5h0.8M213.0 99.6h0.8M214.2 99.2h0.8M208.5 99.9h0.8M187.9 99.4h0.8M200.1 96.4h0.8M201.0 98.5h0.8M213.1 98.9h0.8M201.2 99.7h0.8M205.2 100.8h0.8M196.4 98.3h0.8M201.6 97.8h0.8M227.5 93.6h0.8M214.8 96.9h0.8M210.8 96.3h0.8M199.2 100.2h0.8M195.4 99.3h0.8M217.6 102.6h0.8M206.6 96.5h0.8M212.2 94.8h0.8M210.2 100.3h0.8M209.3 105.1h0.8M183.8 102.3h0.8M215.0 93.3h0.8M224.2 99.4h0.8M207.3 95.1h0.8M205.6 99.2h0.8M209.1 97.8h0.8M204.1 95.1h0.8M190.5 104.9h0.8M204.0 100.9h0.8M207.0 98.6h0.8M217.3 98.6h0.8M197.3 96.2h0.8M204.1 98.5h0.8M207.6 100.3h0.8M212.0 101.0h0.8M224.4 89.4h0.8M213.5 99.9h0.8M212.8 94.2h0.8M194.8 93.0h0.8M222.8 99.7h0.8M191.8 105.7h0.8M219.4 93.2h0.8M215.9 100.8h0.8M208.3 99.2h0.8M197.9 103.6h0.8M213.5 105.3h0.8M203.6 104.4h0.8M220.1 97.7h0.8M179.1 99.2h0.8M207.7 96.3h0.8M182.5 101.8h0.8M207.6 96.7h0.8M204.6 100.9h0.8M215.6 100.1h0.8M197.6 107.7h0.8M198.7 104.9h0.8M186.2 97.6h0.8M204.5 109.1h0.8M208.8 98.9h0.8M204.6 98.0h0.8M197.0 94.0h0.8M205.2 100.0h0.8M213.8 106.9h0.8M210.1 98.7h0.8M189.0 104.2h0.8M202.7 101.5h0.8M199.4 104.4h0.8M180.6 100.6h0.8M212.4 95.3h0.8M210.6 101.2h0.8M198.0 104.4h0.8M211.7 96.0h0.8M209.7 100.4h0.8M203.2 103.7h0.8M210.3 100.2h0.8M204.9 98.0h0.8M201.9 108.2h0.8M217.7 103.2h0.8M192.8 104.0h0.8M225.0 95.9h0.8M208.8 94.2h0.8M203.0 98.2h0.8M211.2 98.8h0.8M197.8 97.0h0.8M204.0 103.7h0.8M225.2 91.6h0.8M212.6 104.7h0.8M205.4 98.0h0.8M205.3 96.6h0.8M215.7 96.8h0.8M216.2 99.8h0.8M204.7 103.7h0.8M217.7 93.4h0.8M207.4 101.7h0.8M206.5 97.6h0.8M213.6 93.1h0.8M199.6 96.0h0.8M193.2 106.0h0.8M205.0 94.3h0.8M215.1 95.5h0.8M204.4 99.8h0.8M216.4 103.5h0.8M217.4 89.4h0.8M204.0 100.2h0.8M207.4 99.8h0.8M204.9 93.1h0.8M213.1 96.5h0.8M211.7 97.2h0.8M209.4 100.9h0.8M220.0 95.9h0.8M210.7 96.5h0.8M210.1 99.5h0.8M201.0 104.3h0.8M207.2 94.1h0.8M219.9 97.3h0.8M213.8 97.2h0.8M208.4 98.7h0.8M207.0 102.7h0.8M198.3 98.2h0.8M199.6 94.5h0.8M216.9 96.7h0.8M206.9 94.2h0.8M209.2 105.1h0.8M220.1 102.4h0.8M202.9 95.6h0.8M202.9 99.8h0.8M219.8 90.8h0.8M213.2 97.4h0.8M192.3 99.6h0.8M208.4 106.2h0.8M200.4 102.0h0.8M202.8 100.7h0.8M205.9 103.6h0.8M191.9 100.0h0.8M201.1 102.7h0.8M224.1 93.8h0.8M205.2 97.1h0.8M204.1 107.1h0.8M214.8 87.0h0.8M195.0 103.4h0.8M204.9 96.6h0.8M220.1 100.7h0.8M207.1 96.2h0.8M210.7 99.2h0.8M204.6 94.3h0.8M211.4 102.7h0.8M213.6 95.2h0.8M205.0 93.9h0.8M206.6 86.7h0.8M208.7 91.8h0.8M190.1 104.6h0.8M215.3 92.9h0.8M223.7 91.3h0.8M215.2 97.9h0.8M209.6 98.0h0.8M204.2 100.0h0.8M210.8 97.3h0.8M227.0 103.0h0.8M220.8 92.4h0.8M200.7 97.4h0.8M221.7 95.7h0.8M201.4 102.1h0.8M202.5 105.6h0.8M206.3 99.3h0.8M214.0 101.1h0.8M205.8 100.9h0.8M218.7 108.8h0.8M210.1 96.1h0.8M223.2 101.9h0.8M194.8 100.9h0.8M208.9 99.8h0.8M214.3 100.6h0.8M222.8 101.5h0.8M187.9 99.5h0.8M205.4 98.8h0.8M188.7 98.4h0.8M210.1 88.1h0.8M203.8 107.9h0.8M210.9 99.1h0.8M217.1 97.3h0.8M215.3 94.6h0.8M205.7 98.4h0.8M213.7 99.5h0.8M237.4 99.1h0.8M203.4 100.8h0.8M213.2 98.7h0.8M202.6 95.6h0.8M215.3 95.4h0.8M200.4 100.2h0.8M212.3 91.0h0.8M193.7 99.2h0.8M209.7 98.8h0.8M232.2 101.3h0.8M196.2 94.1h0.8M201.6 94.7h0.8M216.9 100.6h0.8M196.2 91.3h0.8M187.5 110.9h0.8M192.6 102.2h0.8M210.2 102.1h0.8M218.5 99.6h0.8M207.7 92.4h0.8M208.9 101.1h0.8M217.4 93.7h0.8M207.4 98.2h0.8M220.4 97.0h0.8M221.9 97.6h0.8M205.4 102.4h0.8M219.8 97.2h0.8M215.2 102.2h0.8M206.9 100.3h0.8M207.4 96.9h0.8M218.2 99.1h0.8M196.1 99.1h0.8M193.5 104.4h0.8M218.5 95.8h0.8M225.9 94.8h0.8M211.1 102.3h0.8M216.5 90.5h0.8M192.9 103.1h0.8M195.2 99.0h0.8M203.1 102.4h0.8M204.9 101.9h0.8M208.8 95.2h0.8M203.6 101.4h0.8M208.1 105.2h0.8M205.8 97.8h0.8M214.0 101.0h0.8M219.3 106.5h0.8M214.9 90.5h0.8M220.7 96.1h0.8M207.1 106.3h0.8M203.4 99.1h0.8M190.1 101.2h0.8M191.4 97.5h0.8M213.6 87.4h0.8M212.7 101.1h0.8M208.5 101.4h0.8M205.5 104.3h0.8M196.4 103.0h0.8M186.4 98.4h0.8M201.0 92.6h0.8M205.4 100.3h0.8M184.3 108.3h0.8M220.2 98.6h0.8M201.5 102.0h0.8M212.7 105.0h0.8M219.5 95.1h0.8M221.6 96.1h0.8M205.3 103.0h0.8M216.4 96.0h0.8M215.7 94.8h0.8M207.9 97.3h0.8M211.0 101.0h0.8M198.8 97.4h0.8M209.8 97.3h0.8M201.5 101.1h0.8M205.0 96.0h0.8M208.2 96.7h0.8M216.6 98.3h0.8M205.5 100.3h0.8M204.6 96.4h0.8M203.3 97.5h0.8M233.9 98.3h0.8M203.3 97.8h0.8M212.0 98.2h0.8M193.3 100.7h0.8M207.6 96.4h0.8M196.6 103.4h0.8M202.0 98.7h0.8M213.5 91.3h0.8M224.8 102.5h0.8M209.0 97.8h0.8M213.4 98.6h0.8M209.4 99.8h0.8M203.1 98.0h0.8M207.7 94.7h0.8M216.2 93.9h0.8M209.1 96.4h0.8M204.3 102.0h0.8M202.9 98.4h0.8M212.3 100.0h0.8M203.0 90.6h0.8M215.7 93.8h0.8M194.3 101.4h0.8M214.1 93.5h0.8M200.3 102.9h0.8M206.7 98.2h0.8M227.3 94.6h0.8M216.8 93.5h0.8M202.6 98.9h0.8M203.0 93.9h0.8M216.5 101.0h0.8M216.6 98.6h0.8M207.1 97.7h0.8M214.0 93.7h0.8M203.9 101.1h0.8M181.0 99.8h0.8M218.5 101.1h0.8M203.3 102.1h0.8M212.8 95.3h0.8M205.8 98.3h0.8M205.9 105.9h0.8M199.5 102.5h0.8M215.3 101.4h0.8M215.2 95.6h0.8M219.9 99.8h0.8M213.4 93.0h0.8M212.0 100.6h0.8M203.2 103.2h0.8M207.9 98.0h0.8M211.9 99.9h0.8M183.8 101.2h0.8M196.4 99.6h0.8M206.0 100.0h0.8M215.5 99.3h0.8M220.9 97.3h0.8M224.0 98.1h0.8M199.8 96.2h0.8M207.3 93.3h0.8M202.9 101.3h0.8M198.4 91.1h0.8M203.2 93.2h0.8M207.8 93.7h0.8M215.6 100.4h0.8M193.9 103.5h0.8M208.1 110.5h0.8M197.9 99.2h0.8M220.6 95.5h0.8M223.6 95.8h0.8M202.2 94.4h0.8M201.3 103.6h0.8M212.8 94.5h0.8M216.1 94.5h0.8M198.2 101.1h0.8M203.1 97.6h0.8M210.3 100.3h0.8M197.9 103.2h0.8M222.1 99.5h0.8M207.8 98.7h0.8M207.5 95.6h0.8M196.4 100.6h0.8M218.3 92.9h0.8M193.7 95.2h0.8M199.6 94.1h0.8M202.3 103.5h0.8M205.3 93.9h0.8M194.4 105.3h0.8M199.9 99.8h0.8M212.7 96.7h0.8M207.0 99.1h0.8M209.4 104.7h0.8M215.7 92.1h0.8M211.8 99.9h0.8M216.6 95.6h0.8M206.9 94.9h0.8M197.6 92.4h0.8M222.4 92.8h0.8M190.7 97.8h0.8M194.3 101.0h0.8M196.9 103.8h0.8M229.9 96.8h0.8M207.9 97.8h0.8M218.6 103.6h0.8M192.2 98.9h0.8M196.9 100.7h0.8M210.1 97.2h0.8M203.3 102.1h0.8M208.7 100.5h0.8M213.0 97.9h0.8M208.6 101.1h0.8M208.3 99.9h0.8M209.0 96.2h0.8M206.0 102.8h0.8M210.0 96.6h0.8M216.2 95.1h0.8M199.0 103.0h0.8M209.7 96.7h0.8M215.8 97.8h0.8M207.1 108.8h0.8M207.0 102.4h0.8M224.6 94.3h0.8M217.7 95.3h0.8M229.6 99.2h0.8M225.3 97.5h0.8M203.8 96.1h0.8M201.3 102.5h0.8M203.8 93.5h0.8M216.4 102.5h0.8M175.9 108.8h0.8M208.9 105.1h0.8M218.1 92.4h0.8M208.3 101.3h0.8M211.7 105.9h0.8M205.6 101.0h0.8M191.6 100.9h0.8M217.2 102.6h0.8M204.0 94.2h0.8M211.9 98.0h0.8M208.0 100.7h0.8M225.7 94.5h0.8M212.0 98.6h0.8M212.2 101.8h0.8M207.1 102.3h0.8M199.8 100.1h0.8M210.6 94.0h0.8M216.9 91.8h0.8M207.1 95.7h0.8M186.8 100.3h0.8M199.7 97.4h0.8M227.5 106.6h0.8M202.1 99.2h0.8M209.2 98.3h0.8M189.9 104.2h0.8M201.3 95.1h0.8M199.1 98.2h0.8M215.4 100.1h0.8M213.0 95.5h0.8M213.3 101.9h0.8M216.7 95.2h0.8M203.1 100.6h0.8M224.4 101.9h0.8M205.9 103.5h0.8M216.3 98.2h0.8M227.5 96.4h0.8M203.1 102.6h0.8M210.9 97.0h0.8M205.8 95.2h0.8M209.3 102.5h0.8M211.1 102.8h0.8M207.0 100.2h0.8M207.5 98.2h0.8M213.6 93.9h0.8M194.7 98.8h0.8M200.4 98.9h0.8M203.0 100.8h0.8M195.1 104.2h0.8M210.8 98.8h0.8M203.5 101.2h0.8M198.7 95.6h0.8M194.8 101.6h0.8M199.9 104.7h0.8M211.3 96.0h0.8M194.5 94.1h0.8M216.5 100.2h0.8M214.3 103.6h0.8M210.7 101.3h0.8M191.4 99.8h0.8M200.6 102.4h0.8M216.1 89.9h0.8M204.0 99.9h0.8M199.9 97.5h0.8M201.3 104.3h0.8M210.5 94.9h0.8M191.4 109.3h0.8M218.5 106.4h0.8M210.8 105.9h0.8M198.3 104.3h0.8M212.8 95.5h0.8M181.8 102.1h0.8M196.4 104.5h0.8M210.5 100.1h0.8M221.1 94.6h0.8M196.1 100.0h0.8M193.6 98.2h0.8M207.0 100.7h0.8M208.2 98.7h0.8M201.0 105.0h0.8M200.4 102.9h0.8M221.8 95.5h0.8M199.4 105.6h0.8M190.8 93.1h0.8M202.6 94.5h0.8M219.2 95.0h0.8M214.1 100.0h0.8M208.0 106.1h0.8M195.6 104.0h0.8M206.6 100.3h0.8M234.3 94.8h0.8M212.0 91.7h0.8M216.8 95.4h0.8M193.0 105.4h0.8M203.6 100.9h0.8M201.7 97.8h0.8M223.6 96.4h0.8M204.2 97.2h0.8M205.6 92.2h0.8M202.6 99.0h0.8M180.1 101.0h0.8M217.3 92.9h0.8M189.3 101.2h0.8M201.6 98.8h0.8M192.5 102.0h0.8M201.6 100.1h0.8M203.0 100.4h0.8M202.3 99.0h0.8M220.4 94.2h0.8M195.9 100.5h0.8M204.3 99.5h0.8M212.9 101.8h0.8M203.3 99.9h0.8M201.9 97.3h0.8M226.0 99.2h0.8M214.5 97.8h0.8M199.8 103.3h0.8M210.9 106.6h0.8M199.2 103.4h0.8M210.7 93.7h0.8M193.2 97.8h0.8M215.1 99.8h0.8M209.8 92.5h0.8M210.1 96.8h0.8M207.3 99.9h0.8M209.0 96.9h0.8M198.5 97.2h0.8M207.7 98.8h0.8M212.6 96.8h0.8M211.0 96.5h0.8M198.7 102.3h0.8M212.1 95.8h0.8M195.7 100.0h0.8M201.0 104.7h0.8M199.6 103.5h0.8M201.4 100.1h0.8M205.8 98.5h0.8M213.7 99.0h0.8M217.3 98.3h0.8M210.6 93.7h0.8M199.7 97.3h0.8M214.8 102.0h0.8M215.8 94.1h0.8M200.9 106.2h0.8M196.3 103.4h0.8M205.6 99.2h0.8M225.1 94.5h0.8M204.3 100.0h0.8M205.9 102.3h0.8M214.0 99.8h0.8M196.8 105.8h0.8M197.2 102.5h0.8M205.6 97.0h0.8M215.4 100.0h0.8M204.6 102.4h0.8M200.9 99.8h0.8M190.8 98.4h0.8M221.6 94.0h0.8M195.5 103.1h0.8M219.0 94.0h0.8M201.4 106.7h0.8M218.3 100.2h0.8M222.1 90.0h0.8M198.2 96.5h0.8M212.6 98.6h0.8M213.3 93.5h0.8M218.8 96.8h0.8M204.7 102.9h0.8M219.1 99.7h0.8M207.4 95.0h0.8M198.0 103.4h0.8M217.1 101.3h0.8M218.6 94.7h0.8M207.3 101.5h0.8M205.5 97.1h0.8M213.6 93.2h0.8M223.7 101.0h0.8M196.0 105.2h0.8M216.6 94.2h0.8M224.7 86.5h0.8M199.3 104.2h0.8M212.1 96.1h0.8M207.9 100.4h0.8M209.6 93.8h0.8M219.1 99.1h0.8M192.6 105.5h0.8M202.3 100.4h0.8M194.5 104.2h0.8M204.3 100.8h0.8M225.2 99.9h0.8M196.8 98.7h0.8M202.3 97.8h0.8M200.2 92.9h0.8M210.6 96.9h0.8M203.9 98.5h0.8M199.0 96.1h0.8M200.4 104.0h0.8M205.4 98.4h0.8M197.2 111.9h0.8M184.6 104.9h0.8M217.6 94.4h0.8M208.2 98.9h0.8M201.8 102.7h0.8M206.1 103.3h0.8M214.8 103.5h0.8M198.6 98.8h0.8M207.9 102.8h0.8M201.9 99.8h0.8M219.1 100.8h0.8M184.0 102.3h0.8M193.7 101.1h0.8M220.5 98.3h0.8M195.4 98.6h0.8M199.5 100.3h0.8M195.7 102.4h0.8M183.9 96.0h0.8M205.7 97.4h0.8M213.1 96.4h0.8M210.5 102.4h0.8M195.4 101.5h0.8M201.9 99.9h0.8M222.1 94.0h0.8M205.4 101.1h0.8M198.0 99.5h0.8M215.9 101.4h0.8M204.0 98.6h0.8M189.2 101.8h0.8M199.2 102.7h0.8M215.8 99.5h0.8M204.4 93.7h0.8M206.1 100.1h0.8M212.9 98.0h0.8M198.5 93.6h0.8M192.0 97.0h0.8M207.3 102.7h0.8M201.1 101.4h0.8M206.5 97.5h0.8M200.5 103.7h0.8M198.8 94.0h0.8M194.3 106.3h0.8M209.3 96.7h0.8M226.1 101.7h0.8M195.0 99.6h0.8M217.5 95.6h0.8M213.5 99.2h0.8M200.7 99.2h0.8M197.9 104.5h0.8M212.5 101.3h0.8M203.4 98.5h0.8M204.1 98.9h0.8M202.6 99.9h0.8M226.0 102.7h0.8M191.7 101.5h0.8M211.7 102.3h0.8M224.9 96.2h0.8M208.1 95.9h0.8M226.3 90.0h0.8M207.2 100.0h0.8M208.9 100.7h0.8M214.6 98.9h0.8M201.0 104.9h0.8M207.8 101.8h0.8M213.6 105.0h0.8M201.1 102.5h0.8M211.0 95.2h0.8M218.1 101.7h0.8M195.5 97.0h0.8M205.9 98.8h0.8M210.1 93.8h0.8M200.9 103.6h0.8M217.5 102.9h0.8M218.0 92.3h0.8M201.3 96.7h0.8M209.1 96.2h0.8M200.1 93.1h0.8M205.9 98.8h0.8M211.4 97.3h0.8M204.9 94.1h0.8M207.5 90.4h0.8M202.1 94.2h0.8M218.6 98.1h0.8M215.1 91.9h0.8M201.3 99.8h0.8M212.6 98.9h0.8M232.5 97.5h0.8M202.8 99.3h0.8M220.4 97.6h0.8M233.3 100.3h0.8M205.0 97.0h0.8M214.9 97.7h0.8M187.3 106.8h0.8M219.6 92.5h0.8M213.8 100.2h0.8M213.7 88.1h0.8M208.2 92.7h0.8M215.6 91.5h0.8M217.8 96.5h0.8M214.1 97.7h0.8M203.4 90.8h0.8M206.9 105.9h0.8M209.0 106.6h0.8M206.1 103.9h0.8M199.5 99.4h0.8M195.7 102.6h0.8M206.0 96.5h0.8M198.4 98.3h0.8M203.5 96.7h0.8M195.5 102.0h0.8M194.2 99.1h0.8M203.2 97.9h0.8M206.2 105.9h0.8M227.7 94.5h0.8M207.0 101.4h0.8M217.5 98.9h0.8M211.8 96.6h0.8M210.0 97.0h0.8M205.2 103.7h0.8M213.2 96.1h0.8M212.8 100.7h0.8M194.0 99.6h0.8M213.5 96.7h0.8M206.3 104.8h0.8M191.4 95.1h0.8M199.7 97.6h0.8M213.7 95.8h0.8M216.5 99.2h0.8M205.9 96.7h0.8M219.0 97.6h0.8M215.3 100.3h0.8M193.9 108.5h0.8M197.6 104.2h0.8M209.9 93.4h0.8M199.9 106.7h0.8M201.5 99.9h0.8M209.6 95.0h0.8M204.8 100.3h0.8M200.2 96.4h0.8M193.9 99.7h0.8M226.2 92.6h0.8M193.9 99.3h0.8M201.8 90.5h0.8M218.4 102.0h0.8M206.4 99.3h0.8M198.8 103.4h0.8M196.7 102.1h0.8M218.2 96.9h0.8M215.4 102.7h0.8M189.5 106.7h0.8M194.0 99.7h0.8M213.8 101.0h0.8M222.4 95.2h0.8M201.8 98.0h0.8M216.6 99.1h0.8M192.2 101.6h0.8M191.3 101.0h0.8M194.2 93.4h0.8M211.5 95.1h0.8M209.2 99.0h0.8M214.5 100.4h0.8M190.8 104.0h0.8M222.7 94.4h0.8M203.6 101.3h0.8M231.8 90.4h0.8M209.9 100.2h0.8M191.1 108.5h0.8M206.7 98.2h0.8M198.6 96.5h0.8M222.5 100.5h0.8M209.2 98.2h0.8M219.1 97.1h0.8M199.9 102.1h0.8M199.7 98.9h0.8M209.0 101.3h0.8M207.5 96.2h0.8M197.9 97.6h0.8M212.3 99.2h0.8M218.6 98.8h0.8M203.9 100.3h0.8M202.8 102.1h0.8M202.4 99.5h0.8M211.9 95.8h0.8M206.2 100.9h0.8M210.4 92.5h0.8M217.8 97.3h0.8M204.8 102.9h0.8M204.8 101.4h0.8M204.9 103.6h0.8M221.1 95.8h0.8M205.9 98.3h0.8M207.4 97.1h0.8M203.9 97.6h0.8M215.8 98.4h0.8M211.5 102.0h0.8M196.0 100.6h0.8M217.0 103.3h0.8M211.2 100.1h0.8M217.4 89.8h0.8M212.5 100.6h0.8M206.2 97.4h0.8M197.5 100.9h0.8M216.1 94.9h0.8M218.6 95.2h0.8M199.9 107.9h0.8M207.0 103.0h0.8M211.3 97.1h0.8M205.4 96.5h0.8M210.6 97.1h0.8M203.1 97.4h0.8M201.3 102.3h0.8M219.3 101.4h0.8M189.9 96.0h0.8M213.4 99.8h0.8M199.5 100.1h0.8M207.2 98.1h0.8M201.1 103.0h0.8M208.1 96.1h0.8M200.6 97.0h0.8M209.6 98.4h0.8M193.0 98.6h0.8M196.5 98.9h0.8M206.2 102.3h0.8M212.2 93.5h0.8M199.7 105.0h0.8M226.4 101.2h0.8M203.2 98.6h0.8M214.8 100.4h0.8M189.0 98.1h0.8M197.3 99.8h0.8M197.1 99.1h0.8M195.3 98.0h0.8M192.4 105.2h0.8M203.0 101.3h0.8M199.4 104.1h0.8M221.6 91.2h0.8M206.2 99.0h0.8M209.4 97.3h0.8M186.1 96.9h0.8M221.9 101.0h0.8M221.8 97.4h0.8M196.6 102.4h0.8M197.6 106.5h0.8M199.3 98.6h0.8M221.4 103.1h0.8M193.2 94.7h0.8M198.0 106.1h0.8M192.2 104.8h0.8M208.9 94.7h0.8M214.3 93.5h0.8M199.2 110.3h0.8M217.5 95.5h0.8M209.2 103.6h0.8M199.2 102.2h0.8M212.4 99.1h0.8M219.1 97.0h0.8M218.5 93.0h0.8M211.4 94.4h0.8M219.2 94.5h0.8M207.6 102.8h0.8M209.0 91.9h0.8M223.5 92.8h0.8M206.2 101.1h0.8M199.3 100.2h0.8M195.1 99.5h0.8M201.5 96.5h0.8M188.1 95.8h0.8M197.6 97.9h0.8M195.4 96.8h0.8M205.0 97.7h0.8M193.4 97.9h0.8M205.0 93.8h0.8M207.7 104.2h0.8M213.4 90.4h0.8M217.4 100.6h0.8M221.8 95.3h0.8M204.3 97.4h0.8M193.1 96.8h0.8M213.9 94.5h0.8M210.7 96.9h0.8M201.7 92.2h0.8M215.5 101.6h0.8M226.0 96.7h0.8M210.7 98.4h0.8M203.1 99.5h0.8M209.8 102.8h0.8M198.4 100.4h0.8M226.6 98.8h0.8M195.2 98.5h0.8M198.4 107.0h0.8M216.5 95.1h0.8M204.7 95.4h0.8M195.0 98.5h0.8M216.7 101.0h0.8M219.1 103.1h0.8M191.8 102.9h0.8M214.6 105.9h0.8M216.1 93.8h0.8M224.5 93.5h0.8M211.5 96.5h0.8M215.2 102.7h0.8M207.7 95.4h0.8M214.0 97.9h0.8M223.0 92.1h0.8M214.2 98.6h0.8M200.9 96.8h0.8M208.3 110.2h0.8M226.5 98.9h0.8M195.0 99.0h0.8M202.0 103.0h0.8M200.9 99.8h0.8M219.4 94.7h0.8M199.1 102.2h0.8M202.4 94.2h0.8M207.5 104.6h0.8M213.3 102.8h0.8M212.5 94.0h0.8M196.2 100.2h0.8M195.2 93.7h0.8M193.9 103.2h0.8M218.4 98.4h0.8M205.0 100.2h0.8M208.6 96.8h0.8M207.2 98.8h0.8M192.6 98.7h0.8M191.3 100.7h0.8M196.0 98.2h0.8M225.4 93.7h0.8M203.1 97.1h0.8M210.5 88.8h0.8M197.0 97.6h0.8M232.5 98.3h0.8M208.9 104.2h0.8M191.8 99.2h0.8M202.5 99.9h0.8M211.0 103.3h0.8M215.8 91.5h0.8M204.0 101.0h0.8M212.5 91.7h0.8M210.1 100.0h0.8M209.1 97.8h0.8M203.1 99.2h0.8M210.7 97.5h0.8M218.8 104.5h0.8M205.5 89.2h0.8M203.1 94.2h0.8M233.8 95.6h0.8M213.9 98.9h0.8M213.0 95.3h0.8M193.5 102.5h0.8M217.5 97.3h0.8M192.0 101.8h0.8M219.2 101.4h0.8M209.8 95.2h0.8M202.7 100.5h0.8M201.1 103.4h0.8M208.4 96.7h0.8M204.1 104.2h0.8M190.3 98.4h0.8M216.3 91.2h0.8M192.0 97.2h0.8M205.5 99.6h0.8M203.1 103.5h0.8M221.6 95.2h0.8M192.5 101.1h0.8M216.5 97.3h0.8M211.9 100.6h0.8M178.9 99.6h0.8M193.5 100.6h0.8M199.9 96.6h0.8M197.3 102.2h0.8M209.6 101.8h0.8M211.0 89.7h0.8M217.1 98.2h0.8M200.0 99.3h0.8M212.4 100.9h0.8M204.4 96.6h0.8M211.9 98.3h0.8M205.7 94.5h0.8M207.3 101.9h0.8M205.2 108.0h0.8M212.0 99.1h0.8M209.0 104.6h0.8M198.7 106.2h0.8M187.0 101.2h0.8M216.6 97.8h0.8M214.4 98.5h0.8M206.9 103.0h0.8M217.8 94.7h0.8M207.0 101.8h0.8M205.4 96.0h0.8M203.4 102.1h0.8M219.2 97.0h0.8M223.3 89.9h0.8M204.9 97.8h0.8M201.4 101.7h0.8M217.1 96.8h0.8M215.8 98.6h0.8M214.5 106.4h0.8M192.8 96.3h0.8M209.5 95.8h0.8M208.5 95.8h0.8M204.4 99.5h0.8M211.2 96.5h0.8M205.6 98.4h0.8M210.5 95.3h0.8M206.6 96.2h0.8M205.7 106.5h0.8M224.9 105.8h0.8M206.7 98.4h0.8M213.1 98.4h0.8M215.1 91.3h0.8M198.0 98.9h0.8M205.9 102.0h0.8M199.2 101.8h0.8M205.5 98.4h0.8M197.2 107.5h0.8M217.2 108.7h0.8M207.1 98.3h0.8M195.0 97.0h0.8M212.0 100.6h0.8M198.3 103.7h0.8M193.2 97.9h0.8M211.2 98.2h0.8M208.3 103.0h0.8M200.6 101.6h0.8M213.5 94.7h0.8M212.1 101.7h0.8M208.4 95.7h0.8M217.8 103.2h0.8M210.1 98.6h0.8M218.0 90.1h0.8M210.0 95.3h0.8M210.9 101.5h0.8M181.7 110.0h0.8M204.2 100.9h0.8M225.2 95.1h0.8M203.3 108.5h0.8M205.3 94.3h0.8M203.8 103.5h0.8M189.4 96.0h0.8M211.9 91.6h0.8M224.5 92.1h0.8M223.5 99.6h0.8M205.3 100.3h0.8M198.8 99.6h0.8M202.4 101.4h0.8M211.7 95.6h0.8M204.4 105.3h0.8M214.7 98.2h0.8M210.3 100.6h0.8M194.9 96.0h0.8M196.4 100.5h0.8M214.5 93.2h0.8M215.7 100.3h0.8M206.5 92.9h0.8M221.6 99.6h0.8M207.3 103.0h0.8M204.9 101.6h0.8M207.7 103.8h0.8M213.4 103.9h0.8M185.5 101.3h0.8M208.3 97.0h0.8M208.4 97.0h0.8M199.3 100.2h0.8M199.1 99.5h0.8M218.8 96.3h0.8M203.9 106.1h0.8M204.5 99.7h0.8M215.7 96.0h0.8M196.6 106.4h0.8M229.9 91.1h0.8M200.2 99.9h0.8M201.6 102.0h0.8M194.0 103.6h0.8M200.7 95.2h0.8M197.4 95.3h0.8M202.1 95.2h0.8M196.3 97.6h0.8M185.3 106.9h0.8M218.2 96.9h0.8M214.5 99.1h0.8M212.9 94.9h0.8M212.0 96.2h0.8M213.2 100.5h0.8M200.7 101.3h0.8M234.2 93.6h0.8M202.1 103.5h0.8M195.4 98.6h0.8M226.1 93.9h0.8M203.1 98.0h0.8M207.3 96.7h0.8M198.1 103.5h0.8M203.8 93.9h0.8M211.9 99.9h0.8M209.1 91.6h0.8M194.6 94.3h0.8M214.3 97.8h0.8M200.0 101.2h0.8M192.3 100.8h0.8M214.4 90.0h0.8M210.9 102.8h0.8M205.6 103.4h0.8M199.3 97.0h0.8M215.1 102.7h0.8M204.2 97.1h0.8M200.6 100.2h0.8M211.9 95.2h0.8M209.2 94.8h0.8M194.9 95.1h0.8M218.7 96.0h0.8M191.8 103.9h0.8M199.3 98.8h0.8M210.9 100.7h0.8M206.7 102.3h0.8M215.5 103.4h0.8M213.2 101.9h0.8M184.8 102.7h0.8M219.8 98.0h0.8M202.3 99.3h0.8M206.6 95.9h0.8M199.2 95.7h0.8M197.9 106.9h0.8M212.6 94.8h0.8M211.9 100.4h0.8M210.4 104.1h0.8M201.1 100.8h0.8M221.6 94.6h0.8M210.9 99.9h0.8M213.6 103.9h0.8M207.4 95.4h0.8M209.5 95.3h0.8M217.8 95.5h0.8M217.5 100.3h0.8M218.2 100.4h0.8M208.0 96.8h0.8M208.6 99.1h0.8M196.9 104.1h0.8M204.7 95.0h0.8M201.9 99.4h0.8M199.7 101.9h0.8M207.7 101.6h0.8M208.4 101.4h0.8M199.7 94.9h0.8M191.2 101.3h0.8M204.4 97.3h0.8M207.4 99.9h0.8M210.4 100.2h0.8M198.8 100.0h0.8M195.0 101.9h0.8M191.1 109.8h0.8M208.1 105.9h0.8M202.1 103.5h0.8M212.7 98.4h0.8M194.9 108.7h0.8M219.2 94.8h0.8M204.3 92.8h0.8M205.0 98.7h0.8M207.9 95.4h0.8M212.3 89.5h0.8M213.9 93.9h0.8M189.5 100.3h0.8M201.4 98.2h0.8M211.4 99.7h0.8M212.8 100.4h0.8M209.5 101.0h0.8M198.1 96.1h0.8M211.4 101.1h0.8M206.3 105.2h0.8M206.9 98.1h0.8M218.4 96.4h0.8M206.3 100.9h0.8M211.7 100.6h0.8M220.8 97.0h0.8M216.7 99.1h0.8M194.8 97.4h0.8M196.0 94.1h0.8M188.0 99.8h0.8M216.7 95.9h0.8M205.4 99.0h0.8M201.7 97.8h0.8M205.7 95.7h0.8M196.2 101.5h0.8M212.6 99.9h0.8M198.5 99.3h0.8M215.3 96.2h0.8M209.5 98.8h0.8M206.1 97.0h0.8M212.5 99.9h0.8M204.4 97.4h0.8M205.6 91.9h0.8M219.4 103.9h0.8M223.0 97.9h0.8M212.8 101.5h0.8M220.1 96.2h0.8M192.2 100.8h0.8M208.4 99.1h0.8M207.0 99.5h0.8M202.7 99.2h0.8M211.6 95.1h0.8M225.5 98.4h0.8M212.0 98.5h0.8M218.8 104.5h0.8M219.7 94.0h0.8M219.4 95.7h0.8M207.9 98.7h0.8M200.5 92.9h0.8M217.5 94.2h0.8M214.3 90.4h0.8M202.7 97.3h0.8M222.5 97.1h0.8M199.7 100.7h0.8M196.6 104.6h0.8M207.0 99.9h0.8M195.7 104.6h0.8M206.3 101.2h0.8M205.6 91.0h0.8M202.1 100.4h0.8M207.1 93.3h0.8M196.1 103.3h0.8M187.1 107.0h0.8M215.8 102.8h0.8M216.2 98.9h0.8M215.4 97.8h0.8M202.8 94.6h0.8M212.0 101.1h0.8M204.4 100.4h0.8M218.3 96.3h0.8M195.7 96.0h0.8M209.3 93.6h0.8M202.8 97.9h0.8M214.4 101.0h0.8M208.1 98.8h0.8M190.4 98.4h0.8M204.9 102.4h0.8M199.0 104.4h0.8M211.8 99.2h0.8M215.2 96.9h0.8M196.5 101.8h0.8M211.3 97.9h0.8M198.4 102.5h0.8M202.1 95.8h0.8M209.6 103.3h0.8M218.7 97.4h0.8M213.1 106.8h0.8M212.2 90.4h0.8M202.4 96.5h0.8M205.2 93.7h0.8M213.2 98.2h0.8M209.2 100.2h0.8M208.6 96.6h0.8M211.2 99.1h0.8M222.9 97.3h0.8M219.7 94.1h0.8M220.6 96.8h0.8M210.4 94.2h0.8M200.1 98.5h0.8M196.3 98.6h0.8M208.4 96.2h0.8M197.7 96.4h0.8M189.7 103.0h0.8M204.7 99.3h0.8M229.2 102.2h0.8M206.4 91.2h0.8M208.9 98.3h0.8M207.0 99.3h0.8M209.4 100.7h0.8M195.4 101.8h0.8M211.4 107.1h0.8M214.5 95.0h0.8M209.1 92.6h0.8M210.7 100.6h0.8M207.4 95.8h0.8M214.4 98.4h0.8M196.9 99.5h0.8M190.5 109.4h0.8M202.5 96.0h0.8M208.3 104.8h0.8M213.5 99.7h0.8M200.8 100.7h0.8M209.3 99.1h0.8M206.6 95.2h0.8M214.3 98.0h0.8M203.4 100.1h0.8M213.2 96.7h0.8M213.7 93.3h0.8M204.7 97.4h0.8M206.0 98.3h0.8M203.2 99.0h0.8M200.2 94.8h0.8M201.8 100.4h0.8M198.3 104.7h0.8M214.1 97.3h0.8M212.1 103.6h0.8M206.5 100.2h0.8M208.3 97.2h0.8M207.3 95.2h0.8M220.6 92.3h0.8M215.2 95.0h0.8M204.4 98.7h0.8M213.2 94.0h0.8M192.2 100.4h0.8M204.0 106.1h0.8M199.3 93.0h0.8M210.6 99.4h0.8M202.5 100.3h0.8M200.4 101.5h0.8M200.9 101.2h0.8M194.2 101.0h0.8M195.1 99.6h0.8M198.3 99.6h0.8M210.3 95.2h0.8M209.4 96.0h0.8M214.3 98.2h0.8M222.8 96.8h0.8M215.8 98.3h0.8M190.2 99.0h0.8M200.9 95.5h0.8M222.5 104.5h0.8M209.1 100.6h0.8M211.3 101.7h0.8M209.5 99.6h0.8M195.1 103.7h0.8M211.7 102.1h0.8M206.7 104.3h0.8M198.2 100.3h0.8M211.0 100.5h0.8M223.5 99.7h0.8M204.7 93.7h0.8M195.6 101.0h0.8M206.4 100.6h0.8M198.5 97.1h0.8M184.7 100.4h0.8M203.4 104.0h0.8M211.0 100.1h0.8M198.4 100.3h0.8M206.0 97.3h0.8M206.0 100.0h0.8M204.9 112.0h0.8M203.6 100.2h0.8M203.6 96.0h0.8M203.6 93.5h0.8M206.5 103.3h0.8M212.1 100.2h0.8M202.1 96.5h0.8M200.3 105.5h0.8M212.3 103.1h0.8M200.5 97.4h0.8M226.2 93.4h0.8M205.0 101.0h0.8M225.2 96.2h0.8M209.7 100.6h0.8M210.5 102.7h0.8M215.0 95.7h0.8M211.2 99.6h0.8M205.2 94.6h0.8M204.3 102.0h0.8M199.3 104.4h0.8M196.8 90.4h0.8M214.2 93.5h0.8M185.2 103.9h0.8M221.8 90.8h0.8M215.6 97.9h0.8M204.6 101.7h0.8M223.0 97.1h0.8M224.6 99.0h0.8M217.2 97.2h0.8M185.6 106.6h0.8M188.5 101.0h0.8M212.7 96.4h0.8M195.5 97.5h0.8M209.6 92.1h0.8M203.0 99.3h0.8M210.5 98.7h0.8M203.7 98.9h0.8M206.3 95.6h0.8M191.0 100.0h0.8M206.9 102.8h0.8M198.7 101.2h0.8M217.0 102.1h0.8M200.8 101.7h0.8M210.5 96.9h0.8M213.3 106.4h0.8M204.7 96.1h0.8M198.0 94.3h0.8M207.5 96.7h0.8M205.5 100.3h0.8M214.1 100.9h0.8M198.2 101.5h0.8M195.5 98.9h0.8M213.7 103.4h0.8M209.0 100.2h0.8M217.5 98.3h0.8M218.6 95.5h0.8M190.4 108.2h0.8M209.5 103.6h0.8M207.3 96.0h0.8M207.8 103.6h0.8M215.2 98.9h0.8M224.1 95.6h0.8M205.4 103.9h0.8M204.8 97.2h0.8M212.5 98.8h0.8M214.0 102.8h0.8M205.4 100.3h0.8M213.5 93.1h0.8M218.5 95.0h0.8M201.7 101.0h0.8M217.5 94.9h0.8M199.2 100.6h0.8M218.5 100.1h0.8M197.8 98.6h0.8M197.8 96.0h0.8M193.9 102.6h0.8M204.4 105.9h0.8M205.7 99.0h0.8M205.1 101.2h0.8M203.1 102.0h0.8M204.1 101.1h0.8M200.9 95.7h0.8M202.8 101.7h0.8M207.7 101.3h0.8M200.5 97.5h0.8M207.7 100.8h0.8M195.7 98.2h0.8M193.2 97.5h0.8M212.5 95.2h0.8M199.3 104.7h0.8M207.4 102.7h0.8M196.9 101.6h0.8M193.2 107.7h0.8M193.0 98.8h0.8M198.3 104.1h0.8M217.5 96.0h0.8M198.2 92.9h0.8M208.5 102.2h0.8M202.5 101.1h0.8M206.0 94.1h0.8M194.5 99.9h0.8M216.1 99.7h0.8M207.5 97.9h0.8M202.1 103.0h0.8M212.3 92.7h0.8M193.0 109.7h0.8M199.2 100.0h0.8M208.6 96.3h0.8M220.0 95.2h0.8M200.8 97.7h0.8M221.6 90.9h0.8M216.1 93.6h0.8M197.9 101.4h0.8M211.1 101.6h0.8M215.6 93.4h0.8M197.3 102.2h0.8M219.4 95.7h0.8M193.0 109.8h0.8M219.0 99.7h0.8M217.0 100.5h0.8M221.5 98.3h0.8M214.1 99.9h0.8M208.5 98.2h0.8M191.0 98.8h0.8M223.3 102.9h0.8M212.9 103.6h0.8M214.5 102.1h0.8M200.2 96.4h0.8M185.6 102.6h0.8M211.0 101.3h0.8M198.0 101.1h0.8M204.8 93.0h0.8M211.3 98.5h0.8M193.4 96.4h0.8M209.7 94.6h0.8M199.4 102.5h0.8M199.0 88.6h0.8M213.8 102.4h0.8M192.0 97.7h0.8M200.6 98.4h0.8M203.8 99.0h0.8" stroke="#000" stroke-width="0.8" stroke-opacity="1.0" fill="none"/>
<path d="M198.5 87.8h0.6M203.1 100.3h0.6M193.4 100.7h0.6M210.9 102.8h0.6M187.4 102.5h0.6M206.5 102.2h0.6M207.6 96.9h0.6M203.6 104.5h0.6M229.8 90.9h0.6M204.7 99.3h0.6M197.6 102.1h0.6M248.3 92.3h0.6M235.9 100.1h0.6M219.3 100.0h0.6M203.0 101.6h0.6M237.1 96.5h0.6M214.8 101.0h0.6M205.9 102.9h0.6M205.0 95.3h0.6M225.8 97.0h0.6M213.7 97.5h0.6M196.7 99.6h0.6M222.5 97.6h0.6M208.6 93.1h0.6M223.8 96.1h0.6M213.4 103.8h0.6M227.3 100.1h0.6M216.6 89.1h0.6M207.2 96.8h0.6M205.2 101.9h0.6M171.5 98.1h0.6M179.3 104.4h0.6M248.1 101.6h0.6M192.0 104.1h0.6M194.6 96.9h0.6M247.0 95.9h0.6M212.1 90.2h0.6M170.4 104.3h0.6M175.2 101.5h0.6M198.5 91.4h0.6M223.0 93.8h0.6M215.7 96.3h0.6M198.4 106.0h0.6M223.7 99.2h0.6M182.2 112.2h0.6M201.7 106.9h0.6M228.8 97.0h0.6M194.2 96.6h0.6M188.0 102.5h0.6M211.6 96.7h0.6M211.9 94.1h0.6M223.2 102.4h0.6M218.3 94.9h0.6M239.2 96.9h0.6M244.2 92.9h0.6M221.9 102.3h0.6M190.1 104.3h0.6M202.4 92.6h0.6M212.0 100.7h0.6M206.2 113.2h0.6M231.9 99.9h0.6M222.2 103.2h0.6M214.3 101.6h0.6M210.4 107.2h0.6M226.3 94.3h0.6M193.9 98.4h0.6M185.5 100.6h0.6M199.3 94.0h0.6M188.6 97.5h0.6M199.4 106.6h0.6M206.6 96.3h0.6M196.3 107.7h0.6M222.8 100.3h0.6M226.6 94.6h0.6M219.2 94.7h0.6M178.3 102.7h0.6M212.2 99.5h0.6M214.6 104.0h0.6M187.7 104.4h0.6M216.8 93.9h0.6M192.4 101.0h0.6M178.7 97.0h0.6M216.0 95.8h0.6M199.8 109.1h0.6M247.4 87.5h0.6M212.0 96.6h0.6M199.0 105.1h0.6M211.3 100.3h0.6M208.4 98.2h0.6M205.0 96.3h0.6M190.6 97.9h0.6M193.8 105.2h0.6M237.5 94.9h0.6M193.5 103.3h0.6M239.9 98.5h0.6M192.3 94.6h0.6M222.6 89.0h0.6M208.6 101.7h0.6M235.3 100.6h0.6M210.6 99.3h0.6M209.9 103.3h0.6M197.6 93.5h0.6M212.7 97.3h0.6M219.6 95.4h0.6M225.0 94.6h0.6M205.2 102.4h0.6M206.0 86.7h0.6M205.3 97.4h0.6M170.1 110.0h0.6M212.3 97.2h0.6M184.7 97.3h0.6M209.1 100.9h0.6M196.6 94.5h0.6M199.4 105.0h0.6M206.4 96.0h0.6M185.5 109.5h0.6M208.6 101.1h0.6M237.1 89.4h0.6M238.3 94.5h0.6M242.3 94.0h0.6M231.0 99.2h0.6M216.0 91.4h0.6M245.9 98.5h0.6M207.6 94.8h0.6M224.8 88.0h0.6M219.7 96.8h0.6M211.9 95.1h0.6M193.0 101.9h0.6M215.8 106.1h0.6M244.3 93.7h0.6M216.8 106.6h0.6M204.5 110.1h0.6M214.5 108.6h0.6M202.4 101.4h0.6M208.7 106.1h0.6M194.6 108.1h0.6M224.1 103.7h0.6M202.5 100.3h0.6M206.9 106.3h0.6M208.5 104.5h0.6M179.0 105.2h0.6M235.8 91.3h0.6M241.9 98.0h0.6M196.9 103.4h0.6M256.5 85.8h0.6M209.7 93.7h0.6M201.6 106.6h0.6M214.5 97.5h0.6M217.9 102.2h0.6M198.5 99.4h0.6M215.9 92.0h0.6M184.2 99.5h0.6M221.7 86.2h0.6M197.3 103.7h0.6M179.9 96.4h0.6M209.5 110.0h0.6M184.2 98.8h0.6M226.4 97.9h0.6M237.0 90.3h0.6M186.1 95.2h0.6M199.0 100.5h0.6M185.7 99.1h0.6M187.6 114.1h0.6M191.3 100.6h0.6M204.8 88.0h0.6M181.1 103.4h0.6M222.5 93.0h0.6M250.3 91.1h0.6M189.0 98.2h0.6M208.1 94.7h0.6M196.8 92.7h0.6M171.1 104.8h0.6M241.9 94.4h0.6M206.9 97.9h0.6M239.7 103.1h0.6M209.4 95.8h0.6M224.6 94.7h0.6M230.6 104.6h0.6M199.3 102.3h0.6M234.6 93.0h0.6M233.1 91.9h0.6M203.3 97.8h0.6M209.8 97.8h0.6M186.8 102.0h0.6M240.1 102.5h0.6M190.0 95.1h0.6M210.0 99.9h0.6M198.7 104.2h0.6M201.2 104.0h0.6M226.4 95.7h0.6M211.8 95.2h0.6M230.8 98.2h0.6M209.4 102.7h0.6M230.2 95.8h0.6M188.4 100.3h0.6M195.8 108.0h0.6M231.6 95.7h0.6M229.1 103.5h0.6M183.2 103.1h0.6M190.4 102.1h0.6M206.6 98.6h0.6M189.9 109.9h0.6M233.3 95.8h0.6M242.9 101.8h0.6M214.0 102.8h0.6M214.5 99.0h0.6M204.9 105.0h0.6M183.0 100.2h0.6M180.7 113.3h0.6M194.0 97.8h0.6M206.4 101.6h0.6M231.6 101.1h0.6M195.4 103.0h0.6M217.0 104.6h0.6M246.4 101.6h0.6M243.4 89.0h0.6M227.7 95.3h0.6M227.0 99.7h0.6M199.7 99.8h0.6M214.1 101.0h0.6M208.2 95.5h0.6M223.1 94.8h0.6M228.8 102.7h0.6M219.2 99.6h0.6M189.9 109.3h0.6M198.1 90.1h0.6M190.0 96.4h0.6M228.4 90.3h0.6M216.2 99.8h0.6M234.0 104.0h0.6M210.7 92.1h0.6M188.5 101.8h0.6M207.0 106.5h0.6M188.9 96.9h0.6M182.5 114.4h0.6M176.7 98.1h0.6M225.6 92.8h0.6M201.2 91.5h0.6M188.1 104.9h0.6M195.2 92.8h0.6M207.5 99.9h0.6M204.9 100.1h0.6M201.8 97.3h0.6M196.9 98.8h0.6M222.5 95.4h0.6M201.0 102.4h0.6M241.7 91.0h0.6M190.7 97.7h0.6M192.0 107.0h0.6M219.3 104.9h0.6M214.2 101.3h0.6M219.7 89.9h0.6M222.9 97.6h0.6M241.9 97.3h0.6M198.8 105.7h0.6M229.7 96.3h0.6M211.7 94.8h0.6M206.1 110.4h0.6M238.8 95.3h0.6M236.1 91.7h0.6M179.4 105.7h0.6M227.6 102.6h0.6M224.6 95.5h0.6M185.6 105.4h0.6M194.9 102.6h0.6M204.2 99.1h0.6M204.8 98.4h0.6M228.2 98.2h0.6M183.4 102.4h0.6M192.0 96.3h0.6M215.9 100.2h0.6M214.8 96.7h0.6M234.7 94.2h0.6M233.4 95.5h0.6M229.9 86.6h0.6M187.0 94.2h0.6M236.2 102.8h0.6M191.1 96.7h0.6M240.5 92.8h0.6M228.3 99.2h0.6M219.9 96.3h0.6M223.7 96.7h0.6M219.3 88.0h0.6M205.7 93.7h0.6M184.0 104.0h0.6M226.4 97.7h0.6M221.1 102.9h0.6M221.4 101.0h0.6M203.8 97.5h0.6M227.9 97.1h0.6M197.3 97.6h0.6M184.8 105.9h0.6M229.6 92.7h0.6M204.9 102.2h0.6M197.5 103.0h0.6M201.8 107.3h0.6M238.0 90.6h0.6M215.9 98.3h0.6M199.7 93.6h0.6M190.7 106.8h0.6M192.8 100.5h0.6M206.2 96.5h0.6M180.2 97.9h0.6M201.9 96.4h0.6M202.7 98.6h0.6M185.6 101.0h0.6M202.2 107.3h0.6M191.4 100.5h0.6M210.3 99.2h0.6M236.8 85.3h0.6M242.6 91.5h0.6M190.6 111.9h0.6M207.3 108.2h0.6M217.8 86.8h0.6M203.1 108.3h0.6M180.1 102.2h0.6M194.1 94.8h0.6M190.8 104.9h0.6M187.7 106.2h0.6M212.0 102.6h0.6M207.5 101.8h0.6M193.0 109.4h0.6M238.0 94.8h0.6M204.1 103.0h0.6M242.0 107.6h0.6M201.9 101.0h0.6M211.4 91.3h0.6M202.0 107.8h0.6M203.5 100.9h0.6M188.3 96.5h0.6M184.7 111.5h0.6M190.4 107.6h0.6M221.3 97.1h0.6M223.5 98.8h0.6M222.6 88.5h0.6M183.2 103.8h0.6M233.9 84.8h0.6M215.1 92.2h0.6M190.6 109.8h0.6M202.8 101.3h0.6M204.3 90.8h0.6M211.4 95.6h0.6M170.2 108.9h0.6M178.9 102.3h0.6M219.4 98.3h0.6M217.5 97.1h0.6M188.9 96.0h0.6M207.0 106.1h0.6M223.6 88.4h0.6M208.3 97.8h0.6M200.9 93.3h0.6M175.0 102.9h0.6M186.5 102.2h0.6M215.9 97.2h0.6M208.4 100.3h0.6M215.6 101.9h0.6M185.8 92.5h0.6M196.4 107.2h0.6M200.0 108.6h0.6M202.3 104.8h0.6M232.8 89.1h0.6M232.0 92.3h0.6M214.3 102.8h0.6M209.6 105.1h0.6M213.0 96.5h0.6M203.9 98.4h0.6M228.6 100.2h0.6M177.9 109.1h0.6M222.3 95.0h0.6M213.3 93.4h0.6M201.0 91.8h0.6M177.5 100.1h0.6M212.2 90.7h0.6M186.1 98.4h0.6M185.6 108.2h0.6M205.0 101.8h0.6M202.8 97.5h0.6M207.4 104.4h0.6M192.0 94.3h0.6M206.2 102.0h0.6M238.9 92.1h0.6M207.2 101.5h0.6M190.5 107.7h0.6M190.8 96.0h0.6M195.7 104.2h0.6M234.6 94.9h0.6M216.5 96.8h0.6M233.3 87.5h0.6M214.8 97.8h0.6M238.7 94.4h0.6M173.4 104.5h0.6M177.1 102.6h0.6M210.3 93.3h0.6M217.8 105.3h0.6M185.3 101.4h0.6M200.7 106.2h0.6M197.9 99.1h0.6M219.0 93.5h0.6M192.0 107.8h0.6M187.5 107.9h0.6M195.6 98.9h0.6M191.3 102.4h0.6M209.5 101.4h0.6M204.7 92.7h0.6M222.2 94.7h0.6M194.7 90.8h0.6M200.3 105.1h0.6M189.4 92.1h0.6M246.5 92.8h0.6M191.4 94.8h0.6M218.6 97.2h0.6M217.2 96.7h0.6M187.7 99.5h0.6M222.2 99.6h0.6M215.1 96.5h0.6M193.6 105.5h0.6M178.5 104.7h0.6M198.9 94.9h0.6M197.2 99.1h0.6M187.9 102.2h0.6M190.8 105.6h0.6M216.6 104.1h0.6M192.1 100.4h0.6M186.9 103.7h0.6M209.3 98.9h0.6M232.6 97.3h0.6M186.4 97.1h0.6M184.5 99.3h0.6M232.9 99.7h0.6M201.2 101.6h0.6M231.1 94.6h0.6M204.9 102.0h0.6M194.9 97.8h0.6M208.6 107.7h0.6M218.6 90.9h0.6M193.6 102.5h0.6M207.1 105.3h0.6M197.2 98.9h0.6M214.8 93.7h0.6M211.9 96.1h0.6M194.4 102.2h0.6M205.9 105.1h0.6M210.6 98.8h0.6M230.8 98.4h0.6M207.0 103.2h0.6M192.2 103.1h0.6M209.4 102.2h0.6M245.8 96.6h0.6M232.2 99.3h0.6M233.0 91.8h0.6M181.3 100.1h0.6M244.2 90.7h0.6M218.4 107.4h0.6M213.4 97.7h0.6M208.9 97.2h0.6M218.6 103.7h0.6M170.7 107.2h0.6M226.2 95.0h0.6M182.5 108.5h0.6M238.9 90.6h0.6M212.6 93.4h0.6M194.6 97.1h0.6M189.6 108.6h0.6M202.8 100.1h0.6M237.3 101.1h0.6M206.6 94.0h0.6M208.4 90.4h0.6M192.4 102.9h0.6M236.7 93.8h0.6M201.0 90.9h0.6M195.2 102.3h0.6M215.5 108.4h0.6M196.1 102.3h0.6M202.1 93.4h0.6M175.5 100.5h0.6M176.3 99.9h0.6M216.1 88.4h0.6M191.4 96.6h0.6M216.4 92.7h0.6M215.2 96.0h0.6M220.0 95.1h0.6M219.8 98.3h0.6M228.0 98.9h0.6M204.8 101.9h0.6M200.8 100.4h0.6M226.7 92.2h0.6M186.0 103.0h0.6M189.9 102.9h0.6M192.0 99.9h0.6M230.9 97.7h0.6M233.3 99.3h0.6M199.4 104.4h0.6M178.5 93.4h0.6M192.8 100.4h0.6M210.0 91.7h0.6M237.5 99.6h0.6M202.2 92.6h0.6M223.8 87.5h0.6M221.7 92.7h0.6M181.5 112.3h0.6M229.8 101.1h0.6M232.8 100.9h0.6M217.9 94.9h0.6M206.2 101.3h0.6M229.8 91.5h0.6M218.3 96.9h0.6M211.8 104.4h0.6M217.0 103.5h0.6M235.3 95.0h0.6M189.0 97.7h0.6M203.6 97.5h0.6M197.7 92.7h0.6M211.6 90.4h0.6M210.5 96.9h0.6M201.1 102.4h0.6M213.5 104.5h0.6M206.7 107.9h0.6M231.9 95.6h0.6M229.2 99.9h0.6M205.8 90.2h0.6M210.1 101.9h0.6M203.7 112.3h0.6M192.4 105.0h0.6M217.2 105.8h0.6M227.0 101.0h0.6M172.9 108.8h0.6M189.9 107.8h0.6M227.6 90.9h0.6M233.9 93.6h0.6M191.4 108.9h0.6M186.2 99.1h0.6M181.6 109.5h0.6M227.0 93.2h0.6M210.6 97.8h0.6M204.9 96.1h0.6M192.7 106.5h0.6M221.7 99.3h0.6M197.6 90.2h0.6M232.7 90.1h0.6M203.0 94.5h0.6M223.6 99.9h0.6M217.8 99.9h0.6M209.0 90.0h0.6M202.3 102.9h0.6M240.9 100.7h0.6M231.8 96.8h0.6M189.7 105.0h0.6M242.0 113.6h0.6M183.4 102.8h0.6M218.2 96.1h0.6M221.3 100.3h0.6M207.9 99.1h0.6M188.2 96.5h0.6M190.3 100.3h0.6M223.8 91.4h0.6M194.7 109.9h0.6M207.2 93.7h0.6M213.1 107.8h0.6M195.2 97.9h0.6M186.7 95.4h0.6M183.9 101.4h0.6M201.3 108.7h0.6M227.3 97.5h0.6M206.7 107.8h0.6M203.2 104.5h0.6M240.4 96.6h0.6M233.5 92.7h0.6M224.6 101.5h0.6M216.1 99.1h0.6M218.3 95.5h0.6M226.6 96.4h0.6M213.9 102.2h0.6M226.3 98.6h0.6M213.4 105.1h0.6M228.4 108.0h0.6M182.9 106.4h0.6M188.5 106.4h0.6M236.4 99.3h0.6M233.0 98.9h0.6M192.3 101.2h0.6M187.6 99.3h0.6M227.4 94.5h0.6M202.9 95.6h0.6M210.0 102.9h0.6M232.6 89.5h0.6M218.6 97.6h0.6M209.1 95.1h0.6M231.9 92.1h0.6M177.1 107.4h0.6M196.5 102.1h0.6M221.5 93.2h0.6M237.5 92.7h0.6M192.4 102.3h0.6M245.9 97.7h0.6M184.4 105.7h0.6M220.1 104.6h0.6M213.5 92.4h0.6M190.8 101.1h0.6M218.6 94.7h0.6M221.8 89.9h0.6M206.9 95.1h0.6M196.4 106.4h0.6M179.8 98.8h0.6M181.6 94.2h0.6M187.1 109.6h0.6M188.5 106.3h0.6M206.8 96.7h0.6M178.6 98.7h0.6M193.7 100.4h0.6M173.0 100.5h0.6M245.3 90.8h0.6M217.0 102.0h0.6M219.6 96.6h0.6M257.3 88.9h0.6M213.3 102.5h0.6M216.6 97.5h0.6M218.3 103.7h0.6M242.6 88.3h0.6M248.4 90.5h0.6M212.9 97.4h0.6M170.1 105.2h0.6M205.6 97.5h0.6M177.4 114.1h0.6M179.9 100.5h0.6M226.4 95.0h0.6M203.0 93.3h0.6M200.2 98.4h0.6M218.8 108.9h0.6M223.4 98.7h0.6M191.1 97.3h0.6M236.9 100.3h0.6M191.2 100.1h0.6M221.0 100.4h0.6M201.6 94.4h0.6M204.4 96.9h0.6M202.7 107.6h0.6M227.3 97.1h0.6M224.4 98.2h0.6M208.5 101.6h0.6M230.8 101.0h0.6M181.6 100.1h0.6M215.4 93.0h0.6M182.1 102.3h0.6M176.6 102.0h0.6M224.1 102.5h0.6M204.2 91.7h0.6M209.3 95.8h0.6M190.3 96.6h0.6M192.4 91.5h0.6M186.6 113.1h0.6M205.0 99.3h0.6M212.4 109.3h0.6M207.7 102.1h0.6M205.6 94.3h0.6M204.4 106.7h0.6M209.8 102.4h0.6M221.8 107.8h0.6M192.2 105.7h0.6M217.1 97.2h0.6M228.8 99.0h0.6M181.7 102.1h0.6M192.3 96.2h0.6M200.5 98.6h0.6M188.4 107.6h0.6M197.8 95.8h0.6M196.7 106.2h0.6M239.2 101.6h0.6M213.4 99.5h0.6M236.6 93.6h0.6M205.2 103.9h0.6M207.4 96.9h0.6M205.6 103.9h0.6M204.0 103.1h0.6M231.1 93.7h0.6M210.2 94.4h0.6M198.6 95.1h0.6M225.9 96.3h0.6M214.0 99.5h0.6M202.2 98.5h0.6M223.8 99.6h0.6M214.0 103.7h0.6M192.8 94.9h0.6M211.6 98.7h0.6M221.5 93.1h0.6M221.8 94.0h0.6M204.6 98.6h0.6M197.7 106.2h0.6M207.4 105.5h0.6M218.8 94.8h0.6M213.6 98.4h0.6M229.4 95.3h0.6M201.1 99.2h0.6M208.2 107.7h0.6M205.1 104.5h0.6M214.2 89.2h0.6M187.6 104.3h0.6M232.8 99.4h0.6M202.0 94.4h0.6M235.7 103.1h0.6M236.2 99.8h0.6M183.4 111.3h0.6M211.9 92.3h0.6M218.7 96.4h0.6M206.9 95.7h0.6M218.6 94.3h0.6M191.3 98.3h0.6M225.5 90.1h0.6M213.1 99.0h0.6M202.8 92.3h0.6M223.7 100.9h0.6M179.4 91.7h0.6M234.4 91.5h0.6M228.2 97.9h0.6M184.8 115.7h0.6M179.6 101.6h0.6M217.0 105.3h0.6M233.9 106.6h0.6M212.6 99.3h0.6M212.6 92.7h0.6M210.3 92.8h0.6M238.8 86.1h0.6M218.3 98.9h0.6M185.0 103.6h0.6M233.8 92.0h0.6M228.7 104.1h0.6M207.4 96.4h0.6M205.2 100.6h0.6M236.6 100.3h0.6M220.6 102.1h0.6M204.6 102.9h0.6M232.1 98.9h0.6M202.1 101.9h0.6M205.4 106.0h0.6M176.0 109.3h0.6M200.7 95.8h0.6M177.7 103.9h0.6M182.9 101.6h0.6M227.8 104.2h0.6M193.7 102.4h0.6M226.0 98.6h0.6M241.2 100.7h0.6M201.1 95.6h0.6M197.0 98.3h0.6M228.7 95.2h0.6M218.6 92.9h0.6M237.3 96.7h0.6M204.1 95.3h0.6M217.5 99.6h0.6M196.4 101.4h0.6M187.1 102.7h0.6M189.2 104.8h0.6M189.6 100.5h0.6M239.3 98.8h0.6M225.4 95.3h0.6M210.4 99.3h0.6M206.0 99.5h0.6M205.9 103.9h0.6M232.1 97.3h0.6M207.4 95.2h0.6M177.3 113.6h0.6M206.4 106.1h0.6M173.3 105.0h0.6M199.3 104.3h0.6M191.7 97.6h0.6M174.7 108.5h0.6M174.6 101.5h0.6M208.1 103.1h0.6M217.6 98.9h0.6M215.9 93.1h0.6M191.2 104.2h0.6M190.0 101.9h0.6M210.1 97.0h0.6M225.9 96.6h0.6M226.7 101.3h0.6M209.3 100.6h0.6M189.2 100.0h0.6M220.1 95.6h0.6M213.6 97.9h0.6M196.2 93.3h0.6M186.9 98.6h0.6M197.3 98.7h0.6M228.3 86.8h0.6M233.8 105.4h0.6M201.4 99.9h0.6M212.5 106.0h0.6M237.7 94.2h0.6M181.6 103.2h0.6M198.2 100.6h0.6M202.3 91.8h0.6M213.6 93.1h0.6M176.5 106.5h0.6M215.5 96.5h0.6M179.7 105.1h0.6M224.8 98.4h0.6M205.0 93.2h0.6M197.4 95.2h0.6M223.2 92.5h0.6M207.0 90.9h0.6M188.9 96.1h0.6M224.8 97.0h0.6M203.0 105.6h0.6M214.0 105.2h0.6M232.9 99.1h0.6M179.9 100.2h0.6M220.3 92.8h0.6M225.4 105.0h0.6M249.6 94.9h0.6M171.8 100.5h0.6M222.1 92.2h0.6M251.1 104.7h0.6M215.2 101.8h0.6M208.6 100.7h0.6M201.1 101.2h0.6M175.2 103.0h0.6M233.5 100.6h0.6M184.1 106.4h0.6M173.5 111.7h0.6M221.2 88.9h0.6M227.6 100.3h0.6M224.1 98.5h0.6M224.0 101.7h0.6M189.7 105.0h0.6M204.7 90.0h0.6M200.7 100.5h0.6M191.9 109.4h0.6M214.8 102.3h0.6M186.7 97.9h0.6M202.9 91.1h0.6M235.7 101.7h0.6M205.5 100.4h0.6M204.6 102.4h0.6M221.8 93.4h0.6M184.5 108.2h0.6M213.5 97.6h0.6M229.4 95.4h0.6M217.8 92.0h0.6M193.0 102.3h0.6M223.8 99.0h0.6M198.6 95.9h0.6M222.1 94.8h0.6M188.7 104.6h0.6M185.3 96.4h0.6M237.0 97.2h0.6M204.2 104.6h0.6M203.7 100.1h0.6M181.7 96.2h0.6M197.4 100.6h0.6M235.8 101.3h0.6M216.8 98.5h0.6M205.7 93.2h0.6M172.0 108.6h0.6M222.9 99.2h0.6M216.2 105.4h0.6M230.2 103.7h0.6M199.3 104.5h0.6M217.2 97.0h0.6M194.3 91.1h0.6M177.8 93.5h0.6M170.4 103.9h0.6M220.2 94.5h0.6M200.1 100.4h0.6M204.4 94.9h0.6M175.2 99.0h0.6M239.4 100.1h0.6M195.9 102.4h0.6M172.5 104.7h0.6M182.2 111.2h0.6M194.5 97.7h0.6M225.3 99.2h0.6M214.3 93.7h0.6M215.6 96.1h0.6M193.4 101.9h0.6M222.3 96.3h0.6M205.4 96.1h0.6M226.3 95.2h0.6M192.0 106.4h0.6M193.8 97.2h0.6M189.0 95.5h0.6M195.3 108.9h0.6M189.4 95.1h0.6M216.0 96.7h0.6M197.0 94.5h0.6M176.1 99.1h0.6M198.3 105.8h0.6M193.7 105.0h0.6M173.8 102.6h0.6M210.3 106.6h0.6M208.7 96.8h0.6M206.5 105.0h0.6M234.5 97.6h0.6M177.8 108.9h0.6M218.4 97.9h0.6M211.6 100.9h0.6M187.4 101.8h0.6M185.3 113.7h0.6M210.0 102.0h0.6M217.6 98.4h0.6M199.7 100.0h0.6M192.9 98.2h0.6M223.1 94.1h0.6M228.4 96.6h0.6M197.3 105.4h0.6M231.4 97.5h0.6M212.8 99.7h0.6M184.7 106.6h0.6M221.1 94.0h0.6M205.2 104.9h0.6M198.0 98.7h0.6M214.5 101.5h0.6M213.3 95.5h0.6M192.7 106.2h0.6M195.5 95.4h0.6M220.3 106.9h0.6M220.8 95.3h0.6M240.0 92.7h0.6M205.7 95.9h0.6M209.4 93.9h0.6M192.0 100.3h0.6M243.7 86.9h0.6M212.6 103.7h0.6M216.0 97.6h0.6M230.4 85.7h0.6M221.3 97.6h0.6M193.2 104.0h0.6M201.5 101.2h0.6M228.9 93.5h0.6M213.6 97.7h0.6M196.3 88.2h0.6M202.2 93.3h0.6M226.2 85.6h0.6M183.7 95.6h0.6M205.0 103.0h0.6M229.6 102.3h0.6M228.2 103.8h0.6M187.3 98.9h0.6M205.6 101.6h0.6M214.1 96.7h0.6M212.6 100.4h0.6M203.2 100.8h0.6M196.0 96.7h0.6M203.1 105.6h0.6M210.0 96.5h0.6M207.5 96.2h0.6M238.8 93.5h0.6M214.1 95.1h0.6M220.4 88.8h0.6M219.1 97.0h0.6M202.0 102.1h0.6M224.3 100.6h0.6M196.6 99.2h0.6M228.7 104.6h0.6M219.7 94.6h0.6M197.7 97.9h0.6M221.8 85.4h0.6M200.6 108.6h0.6M223.8 102.8h0.6M189.4 108.6h0.6M210.7 91.1h0.6M233.4 99.3h0.6M196.0 92.7h0.6M171.5 110.4h0.6M192.5 100.8h0.6M216.7 96.0h0.6M205.8 99.9h0.6M177.3 102.4h0.6M198.4 108.6h0.6M199.1 106.3h0.6M199.4 105.0h0.6M202.5 87.8h0.6M199.6 109.8h0.6M197.8 98.2h0.6M231.4 94.6h0.6M180.1 103.0h0.6M198.0 112.2h0.6M228.9 100.0h0.6M209.9 98.9h0.6M181.3 106.0h0.6M214.9 96.5h0.6M197.1 97.9h0.6M217.1 96.1h0.6M181.3 101.5h0.6M220.7 103.5h0.6M208.4 100.1h0.6M206.2 98.4h0.6M254.9 85.1h0.6M222.5 102.1h0.6M209.4 97.2h0.6M175.5 105.3h0.6M177.5 102.2h0.6M199.5 102.1h0.6M208.2 100.5h0.6M217.6 89.6h0.6M187.5 93.4h0.6M198.1 99.5h0.6M215.3 89.8h0.6M179.0 106.7h0.6M205.2 99.9h0.6M225.7 102.4h0.6M200.4 104.0h0.6M211.2 102.0h0.6M208.6 95.9h0.6M216.0 99.6h0.6M216.0 102.7h0.6M204.8 104.8h0.6M199.9 101.7h0.6M201.2 99.6h0.6M217.6 94.4h0.6M190.2 100.1h0.6M232.0 93.4h0.6M218.6 103.7h0.6M239.1 94.0h0.6M209.1 96.2h0.6M220.0 101.5h0.6M215.4 104.6h0.6M224.7 90.8h0.6M234.9 87.5h0.6M198.4 108.7h0.6M209.9 103.6h0.6M198.9 98.3h0.6M201.3 100.1h0.6M195.4 100.6h0.6M210.2 99.3h0.6M190.1 97.0h0.6M223.8 101.6h0.6M209.7 95.7h0.6M219.7 92.0h0.6M195.7 106.8h0.6M216.0 98.6h0.6M255.6 98.6h0.6M225.8 98.4h0.6M220.5 102.3h0.6M225.9 105.1h0.6M232.7 97.3h0.6M235.0 100.9h0.6M198.3 97.9h0.6M201.3 102.4h0.6M212.4 86.6h0.6M237.0 94.7h0.6M225.3 92.7h0.6M199.2 92.0h0.6M220.4 100.8h0.6M219.0 97.9h0.6M201.5 102.5h0.6M196.1 93.9h0.6M174.4 105.4h0.6M182.6 113.7h0.6M190.5 105.0h0.6M239.3 88.6h0.6M212.3 102.2h0.6M228.3 97.3h0.6M212.8 95.4h0.6M204.7 95.7h0.6M238.3 96.0h0.6M204.8 89.2h0.6M224.6 102.2h0.6M214.3 102.1h0.6M196.5 103.6h0.6M199.7 104.2h0.6M220.8 103.9h0.6M200.3 93.3h0.6M232.3 96.9h0.6M202.2 103.1h0.6M221.2 101.1h0.6M209.2 97.2h0.6M206.4 99.2h0.6M217.7 101.6h0.6M203.0 103.2h0.6M197.4 109.9h0.6M195.4 92.4h0.6M212.3 99.1h0.6M211.7 97.6h0.6M230.7 97.6h0.6M214.8 98.8h0.6M223.7 94.0h0.6M225.8 98.2h0.6M204.6 93.4h0.6M228.0 91.3h0.6M197.2 95.7h0.6M173.9 105.2h0.6M205.4 105.8h0.6M227.9 89.9h0.6M199.7 99.2h0.6M234.1 95.8h0.6M234.6 102.5h0.6M193.8 108.8h0.6M215.3 95.9h0.6M233.5 93.5h0.6M194.9 101.7h0.6M194.3 97.7h0.6M213.6 98.5h0.6M223.4 95.9h0.6M208.2 108.5h0.6M215.7 98.4h0.6M214.2 95.5h0.6M216.5 98.3h0.6M216.1 99.5h0.6M189.5 91.4h0.6M171.4 99.0h0.6M197.9 93.7h0.6M192.9 100.5h0.6M233.0 91.4h0.6M193.3 93.4h0.6M225.5 100.3h0.6M192.6 99.2h0.6M213.0 98.3h0.6M214.0 101.1h0.6M214.8 103.1h0.6M204.0 97.3h0.6M202.1 95.2h0.6M205.8 93.7h0.6M233.5 96.4h0.6M195.4 114.5h0.6M205.0 102.1h0.6M185.0 99.6h0.6M239.2 94.1h0.6M223.0 95.4h0.6M203.2 92.8h0.6M186.6 102.2h0.6M189.3 103.8h0.6M200.1 101.2h0.6M198.5 96.8h0.6M201.3 100.2h0.6M203.3 96.5h0.6M184.9 100.9h0.6M210.3 90.0h0.6M207.0 103.1h0.6M219.5 96.2h0.6M180.6 90.0h0.6M221.6 96.3h0.6M227.9 99.8h0.6M216.3 113.0h0.6M191.5 97.2h0.6M193.1 109.3h0.6M205.0 95.0h0.6M214.3 103.5h0.6M217.3 101.7h0.6M208.6 98.3h0.6M175.6 98.4h0.6M201.2 95.2h0.6M207.6 104.9h0.6M198.4 108.3h0.6M214.8 97.2h0.6M228.1 95.5h0.6M184.9 99.4h0.6M217.0 98.6h0.6M191.5 99.3h0.6M190.7 107.2h0.6M202.7 104.6h0.6M242.9 96.9h0.6M217.7 93.2h0.6M202.4 93.0h0.6M229.0 93.8h0.6M210.0 105.9h0.6M216.5 102.0h0.6M187.7 101.6h0.6M188.9 106.7h0.6M179.8 106.3h0.6M223.8 92.8h0.6M181.9 110.7h0.6M234.4 101.3h0.6M180.4 97.5h0.6M206.6 98.1h0.6M211.6 103.1h0.6M186.2 110.8h0.6M170.0 111.4h0.6M196.2 96.3h0.6M236.8 92.9h0.6M234.7 102.0h0.6M181.9 99.6h0.6M208.0 100.9h0.6M202.6 98.6h0.6M229.0 99.5h0.6M213.1 92.0h0.6M189.4 95.6h0.6M249.3 88.8h0.6M223.7 107.3h0.6M193.4 111.4h0.6M231.3 105.3h0.6M222.9 94.4h0.6M230.3 91.6h0.6M185.9 104.6h0.6M210.7 97.5h0.6M193.9 95.7h0.6M204.8 102.6h0.6M202.9 95.0h0.6M216.1 104.1h0.6M188.7 103.5h0.6M226.8 95.1h0.6M198.5 94.1h0.6M215.2 98.2h0.6M205.7 99.7h0.6M213.7 101.9h0.6M222.0 98.0h0.6M200.7 100.3h0.6M223.4 90.6h0.6M199.1 97.6h0.6M215.1 98.6h0.6M205.8 102.0h0.6M194.4 100.0h0.6M191.2 96.2h0.6M194.5 98.8h0.6M198.6 103.6h0.6M231.3 94.5h0.6M188.0 96.6h0.6M218.7 97.2h0.6M257.2 91.6h0.6M191.2 108.7h0.6M215.7 98.2h0.6M221.2 94.7h0.6M208.3 99.1h0.6M211.2 101.3h0.6M219.2 88.3h0.6M253.5 90.9h0.6M193.9 96.0h0.6M217.0 94.9h0.6M211.1 96.9h0.6M248.8 100.5h0.6M237.5 98.8h0.6M245.1 95.6h0.6M218.0 92.6h0.6M215.7 99.7h0.6M209.3 101.9h0.6M200.1 92.5h0.6M192.2 93.0h0.6M215.8 104.7h0.6M223.4 102.4h0.6M214.2 98.8h0.6M179.5 108.5h0.6M218.7 102.5h0.6M204.8 86.0h0.6M188.3 103.9h0.6M233.5 101.7h0.6M189.4 103.6h0.6M210.1 95.7h0.6M212.7 92.0h0.6M198.9 107.4h0.6M192.0 111.9h0.6M212.1 88.9h0.6M185.7 97.0h0.6M215.7 101.5h0.6M217.8 102.2h0.6M186.5 99.5h0.6M220.7 90.3h0.6M185.0 108.1h0.6M213.4 105.4h0.6M192.9 92.0h0.6M185.2 102.7h0.6M198.8 103.1h0.6M210.9 98.6h0.6M222.4 104.1h0.6M219.7 99.3h0.6M192.1 104.2h0.6M206.1 100.9h0.6M224.8 108.3h0.6M207.4 96.6h0.6M205.0 99.8h0.6M203.5 106.6h0.6M172.5 107.9h0.6M213.5 97.7h0.6M209.1 88.3h0.6M206.3 99.8h0.6M228.0 102.3h0.6M205.0 99.0h0.6M196.9 93.6h0.6M230.1 102.6h0.6M205.0 111.0h0.6M192.4 106.7h0.6M198.1 92.1h0.6M199.5 97.8h0.6M185.6 90.7h0.6M217.0 103.3h0.6M177.1 106.7h0.6M204.1 87.2h0.6M209.0 102.6h0.6M227.2 102.0h0.6M206.9 95.4h0.6M202.3 99.0h0.6M227.9 104.3h0.6M232.9 88.8h0.6M212.8 101.0h0.6M192.3 106.8h0.6M217.2 99.5h0.6M185.9 100.8h0.6M232.2 97.2h0.6M213.0 101.3h0.6M191.3 105.9h0.6M243.9 102.7h0.6M180.2 95.9h0.6M227.3 96.5h0.6M201.3 99.8h0.6M199.4 108.8h0.6M178.2 97.7h0.6M172.8 113.3h0.6M211.6 94.8h0.6M188.7 98.2h0.6M226.4 89.9h0.6M206.9 98.7h0.6M213.9 96.3h0.6M243.8 95.0h0.6M176.2 103.1h0.6M210.6 102.6h0.6M199.9 102.8h0.6M218.8 85.6h0.6M205.4 105.8h0.6M197.7 101.0h0.6M192.5 101.4h0.6M203.2 97.5h0.6M181.3 107.8h0.6M219.4 96.1h0.6M216.6 92.4h0.6M218.2 106.3h0.6M209.8 105.8h0.6M200.7 94.3h0.6M225.7 101.0h0.6M221.5 94.9h0.6M221.8 91.4h0.6M199.4 98.1h0.6M216.0 99.0h0.6M205.3 96.5h0.6M198.7 103.3h0.6M228.7 102.6h0.6M181.3 96.0h0.6M201.2 90.4h0.6M183.3 102.5h0.6M172.9 105.3h0.6M230.9 96.6h0.6M220.9 101.3h0.6M213.5 101.6h0.6M184.1 92.9h0.6M207.2 99.4h0.6M220.4 93.3h0.6M170.6 103.7h0.6M219.5 90.6h0.6M215.4 100.8h0.6M241.5 93.9h0.6M189.6 98.8h0.6M241.2 87.4h0.6M210.3 107.2h0.6M215.2 102.9h0.6M224.2 100.1h0.6M250.5 89.7h0.6M226.0 92.1h0.6M243.8 101.9h0.6M208.7 96.7h0.6M221.7 101.7h0.6M225.9 106.9h0.6M181.8 94.6h0.6M211.5 92.1h0.6M212.2 100.9h0.6M217.8 89.7h0.6M238.2 93.4h0.6M220.4 95.0h0.6M214.1 103.0h0.6M209.1 92.5h0.6M209.5 100.0h0.6M182.8 106.1h0.6M203.2 94.4h0.6M190.7 96.7h0.6M183.2 107.9h0.6M227.5 100.8h0.6M189.3 94.1h0.6M187.5 94.7h0.6M178.0 112.2h0.6M229.6 97.2h0.6M234.0 92.7h0.6M215.3 98.8h0.6M201.9 99.8h0.6M217.9 100.4h0.6M218.8 105.9h0.6M210.6 106.3h0.6M212.4 95.4h0.6M176.1 101.4h0.6M210.3 97.3h0.6M201.0 108.9h0.6M204.7 105.6h0.6M204.5 90.3h0.6M181.5 101.1h0.6M212.3 96.4h0.6M220.4 103.7h0.6M178.7 101.0h0.6M234.1 90.8h0.6M179.8 104.2h0.6M221.6 100.2h0.6M224.3 98.5h0.6M241.9 88.9h0.6M201.8 99.1h0.6M193.9 104.4h0.6M194.5 103.2h0.6M194.1 104.4h0.6M175.9 99.7h0.6M186.3 100.4h0.6M197.5 101.5h0.6M196.8 86.0h0.6M221.2 96.2h0.6M221.6 100.3h0.6M208.7 101.6h0.6M173.3 102.1h0.6M218.0 97.2h0.6M202.5 103.9h0.6M172.1 103.9h0.6M196.2 93.6h0.6M192.8 103.9h0.6M206.0 91.2h0.6M213.1 94.5h0.6M239.2 105.7h0.6M194.8 103.0h0.6M210.6 103.4h0.6M187.9 105.3h0.6M197.1 105.1h0.6M182.3 103.7h0.6M206.4 103.8h0.6M217.4 98.8h0.6M200.4 96.3h0.6M233.6 97.8h0.6M206.1 100.5h0.6M224.1 101.9h0.6M202.5 106.2h0.6M207.7 106.8h0.6M238.7 90.8h0.6M190.0 103.7h0.6M221.2 106.6h0.6M176.2 101.4h0.6M202.4 97.0h0.6M224.0 95.0h0.6M248.0 91.0h0.6M222.7 93.5h0.6M212.5 107.1h0.6M202.1 97.8h0.6M201.2 101.1h0.6M208.1 94.4h0.6M210.6 109.9h0.6M230.6 91.3h0.6M190.7 95.4h0.6M191.5 106.7h0.6M227.4 93.6h0.6M219.8 98.6h0.6M200.8 108.7h0.6M203.1 94.1h0.6M219.0 106.7h0.6M202.3 97.8h0.6M192.5 87.9h0.6M210.3 99.9h0.6M220.7 95.2h0.6M189.1 95.2h0.6M201.1 112.9h0.6M217.9 95.8h0.6M173.2 95.0h0.6M202.3 100.0h0.6M225.1 102.4h0.6M191.8 106.1h0.6M219.0 96.8h0.6M251.6 91.3h0.6M220.0 96.4h0.6M189.0 96.1h0.6M250.8 95.7h0.6M222.7 99.2h0.6M228.3 103.7h0.6M214.0 93.6h0.6M194.6 110.0h0.6M206.4 105.7h0.6M204.4 104.7h0.6M241.4 93.8h0.6M231.5 99.8h0.6M202.1 98.8h0.6M213.4 103.9h0.6M218.8 98.0h0.6M231.3 92.4h0.6M224.7 96.2h0.6M185.9 97.9h0.6M230.7 100.1h0.6M185.6 101.5h0.6M198.6 96.7h0.6M181.2 115.8h0.6M200.9 100.8h0.6M222.5 104.1h0.6M208.4 96.5h0.6M228.1 99.2h0.6M226.3 94.3h0.6M204.4 103.6h0.6M198.0 102.8h0.6M234.0 107.7h0.6M219.5 86.6h0.6M227.1 97.3h0.6M232.2 104.4h0.6M201.2 91.2h0.6M195.8 105.8h0.6M211.8 99.4h0.6M198.7 103.0h0.6M195.1 98.3h0.6M190.9 99.6h0.6M204.3 90.8h0.6M201.5 98.1h0.6M215.8 97.1h0.6M218.3 94.2h0.6M232.2 104.1h0.6M213.8 99.3h0.6M213.0 105.1h0.6M217.3 100.2h0.6M210.3 94.0h0.6M214.8 97.8h0.6M197.2 100.3h0.6M210.1 97.0h0.6M184.3 107.6h0.6M228.5 100.1h0.6M211.4 97.5h0.6M217.2 100.8h0.6M181.4 99.0h0.6M189.5 99.8h0.6M197.2 107.7h0.6M170.7 110.5h0.6M227.3 101.6h0.6M220.3 106.0h0.6M208.2 99.9h0.6M227.5 95.6h0.6M174.0 105.9h0.6M189.0 107.5h0.6M228.6 104.0h0.6M221.4 98.0h0.6M205.5 99.9h0.6M216.6 104.4h0.6M210.2 102.3h0.6M199.2 102.1h0.6M197.2 97.6h0.6M189.3 101.6h0.6M206.8 100.6h0.6M203.7 101.5h0.6M224.0 97.7h0.6M177.9 109.4h0.6M206.7 100.6h0.6M199.0 99.9h0.6M193.6 100.1h0.6M201.6 102.5h0.6M235.9 98.5h0.6M240.9 98.0h0.6M225.6 94.7h0.6M177.8 110.2h0.6M185.4 97.4h0.6M188.0 91.9h0.6M182.8 106.8h0.6M228.7 100.3h0.6M236.8 91.8h0.6M173.7 102.1h0.6M219.1 102.8h0.6M215.4 103.5h0.6M197.9 98.1h0.6M199.1 97.7h0.6M203.0 103.1h0.6M201.4 107.3h0.6M190.2 113.0h0.6M203.6 100.8h0.6M209.4 101.6h0.6M208.9 95.2h0.6M185.8 101.7h0.6M218.3 85.7h0.6M180.2 93.8h0.6M194.7 107.5h0.6M184.6 104.6h0.6M170.9 101.3h0.6M210.0 104.9h0.6M191.2 101.1h0.6M229.9 93.9h0.6M200.8 96.6h0.6M222.7 96.6h0.6M191.3 109.8h0.6M194.6 99.1h0.6M217.2 108.4h0.6M197.9 104.3h0.6M190.2 108.0h0.6M207.3 99.9h0.6M227.3 90.5h0.6M215.0 103.6h0.6M215.6 93.1h0.6M252.5 99.0h0.6M221.7 102.3h0.6M197.6 100.6h0.6M209.7 95.2h0.6M184.2 99.4h0.6M201.4 103.7h0.6M233.9 91.7h0.6M184.4 95.8h0.6M194.4 106.7h0.6M179.6 105.7h0.6M248.8 89.3h0.6M198.3 98.9h0.6M184.0 101.2h0.6M237.7 107.5h0.6M207.8 93.5h0.6M187.6 97.6h0.6M189.9 102.0h0.6M186.0 104.7h0.6M202.9 97.8h0.6M204.1 104.4h0.6M214.7 98.8h0.6M189.8 99.0h0.6M195.9 98.1h0.6M214.2 97.8h0.6M230.4 95.9h0.6M244.8 96.4h0.6M229.9 102.8h0.6M183.8 101.8h0.6M201.2 104.6h0.6M220.0 102.1h0.6M189.7 99.5h0.6M181.2 92.4h0.6M176.6 104.4h0.6M206.0 101.2h0.6M194.5 108.0h0.6M197.8 90.5h0.6M183.9 106.1h0.6M213.4 97.9h0.6M192.0 103.8h0.6M184.5 108.9h0.6M186.0 104.5h0.6M182.7 106.3h0.6M216.7 100.1h0.6M219.6 92.2h0.6M193.5 103.2h0.6M191.7 100.0h0.6M245.6 96.2h0.6M220.8 88.9h0.6M234.4 99.6h0.6M217.2 99.6h0.6M209.1 98.8h0.6M211.0 97.4h0.6M237.0 100.6h0.6M248.4 95.8h0.6M215.2 102.4h0.6M210.2 101.7h0.6M225.6 94.8h0.6M222.2 99.3h0.6M206.2 104.2h0.6M195.9 99.1h0.6M195.3 103.9h0.6M237.5 96.3h0.6M201.5 107.1h0.6M202.1 100.6h0.6M201.2 100.2h0.6M184.6 99.4h0.6M217.0 95.5h0.6M207.4 101.9h0.6M217.0 104.3h0.6M233.3 87.8h0.6M204.0 97.7h0.6M210.1 100.9h0.6M195.3 104.1h0.6M224.4 93.5h0.6M215.6 93.9h0.6M228.0 95.9h0.6M238.5 98.1h0.6M183.7 105.6h0.6M237.4 93.2h0.6M184.8 105.0h0.6M188.3 100.9h0.6M170.8 103.4h0.6M237.7 99.8h0.6M198.4 101.0h0.6M219.5 101.5h0.6M196.2 104.0h0.6M239.3 93.3h0.6M184.0 100.1h0.6M207.4 100.8h0.6M186.6 102.5h0.6M203.7 107.8h0.6M234.3 98.0h0.6M213.3 99.6h0.6M213.0 93.7h0.6M222.1 95.9h0.6M198.7 104.1h0.6M183.4 96.3h0.6M185.9 96.3h0.6M198.9 103.9h0.6M230.5 98.9h0.6M207.5 97.1h0.6M198.6 100.8h0.6M208.9 97.2h0.6M194.1 101.2h0.6M224.6 102.2h0.6M223.0 101.6h0.6M194.5 112.9h0.6M240.7 102.5h0.6M185.0 105.1h0.6M216.0 97.8h0.6M202.6 105.7h0.6M223.7 99.3h0.6M224.3 99.1h0.6M209.8 103.5h0.6M213.1 99.3h0.6M181.0 100.7h0.6M180.1 106.6h0.6M207.7 98.3h0.6M213.0 95.9h0.6M198.3 104.3h0.6M218.8 93.6h0.6M227.4 90.7h0.6M176.5 113.9h0.6M215.2 102.8h0.6M243.5 93.6h0.6M206.6 101.5h0.6M207.3 100.1h0.6M207.8 96.5h0.6M216.7 95.2h0.6M216.7 101.0h0.6M201.6 107.2h0.6M220.7 105.3h0.6M196.6 102.4h0.6M207.3 107.4h0.6M214.4 100.0h0.6M227.3 102.8h0.6M206.0 107.7h0.6M214.7 97.1h0.6M189.1 103.7h0.6M206.5 99.5h0.6M214.5 96.1h0.6M244.0 95.9h0.6M192.8 108.1h0.6M211.5 106.7h0.6M197.9 99.1h0.6M219.0 98.6h0.6M194.0 111.6h0.6M223.2 95.3h0.6M188.0 102.5h0.6M240.9 105.6h0.6M209.3 99.1h0.6M204.2 104.7h0.6M209.9 99.6h0.6M212.1 92.1h0.6M215.3 102.1h0.6M226.6 88.9h0.6M208.1 92.8h0.6M197.3 108.0h0.6M182.5 107.2h0.6M198.5 100.9h0.6M190.3 107.4h0.6M226.6 103.7h0.6M187.2 105.1h0.6M198.0 95.3h0.6M212.2 94.3h0.6M236.6 101.5h0.6M178.8 104.0h0.6M206.6 106.4h0.6M225.3 93.1h0.6M178.5 107.4h0.6M220.4 89.3h0.6M206.5 102.2h0.6M190.9 108.2h0.6M198.5 91.8h0.6M213.8 93.0h0.6M236.2 92.6h0.6M192.9 104.4h0.6M239.5 103.8h0.6M240.3 101.4h0.6M179.8 97.2h0.6M208.9 97.4h0.6M220.2 105.3h0.6M236.9 99.5h0.6M220.8 91.6h0.6M201.1 104.1h0.6M199.8 104.3h0.6M222.5 102.3h0.6M193.9 102.3h0.6M213.5 101.3h0.6M209.8 104.9h0.6M193.1 103.9h0.6M252.2 99.3h0.6M211.9 103.9h0.6M249.0 98.0h0.6M228.4 95.6h0.6M228.5 100.8h0.6M197.1 106.4h0.6M197.6 98.9h0.6M209.1 95.6h0.6M206.2 102.7h0.6M186.0 106.6h0.6M249.7 90.5h0.6M252.9 95.8h0.6M221.0 108.6h0.6M210.2 90.0h0.6M203.5 102.8h0.6M188.9 104.1h0.6M216.1 99.4h0.6M207.5 99.9h0.6M219.5 100.7h0.6M226.2 97.0h0.6M248.3 92.1h0.6M208.1 104.0h0.6M213.9 109.1h0.6M203.4 100.1h0.6M215.1 102.9h0.6M190.0 108.6h0.6M237.8 90.6h0.6M217.9 96.9h0.6M183.4 99.8h0.6M208.2 99.0h0.6M231.3 102.0h0.6M220.1 94.9h0.6M197.7 108.1h0.6M221.6 108.6h0.6M214.0 95.4h0.6M197.0 102.7h0.6M215.1 103.0h0.6M185.6 97.6h0.6M199.6 91.4h0.6M184.6 103.5h0.6M225.3 93.2h0.6M227.6 97.5h0.6M199.3 97.4h0.6M211.1 97.1h0.6M235.2 93.1h0.6M178.9 104.6h0.6M207.6 104.6h0.6M218.5 99.2h0.6M219.3 100.7h0.6M198.5 95.5h0.6M172.1 113.1h0.6M195.5 107.4h0.6M228.3 105.3h0.6M196.5 101.5h0.6M211.1 95.9h0.6M204.9 103.0h0.6M224.2 92.2h0.6M195.4 101.5h0.6M214.0 98.0h0.6M212.2 98.3h0.6M187.1 95.1h0.6M214.5 103.1h0.6M225.2 90.6h0.6M215.1 99.3h0.6M194.8 100.8h0.6M194.8 92.1h0.6M183.3 106.7h0.6M186.5 102.8h0.6M170.0 114.1h0.6M215.3 107.7h0.6M207.4 95.7h0.6M205.5 89.8h0.6M254.6 93.1h0.6M209.3 104.1h0.6M221.9 96.9h0.6M184.4 112.0h0.6M201.0 101.4h0.6M195.1 98.0h0.6M210.4 98.2h0.6M187.3 103.6h0.6M195.3 107.0h0.6M194.1 99.0h0.6M212.2 99.4h0.6M184.0 106.5h0.6M210.3 97.8h0.6M216.8 99.0h0.6M210.2 104.0h0.6M229.9 99.2h0.6M209.6 103.4h0.6M210.9 96.6h0.6M210.9 92.2h0.6M223.9 93.0h0.6M216.0 96.6h0.6M208.8 102.1h0.6M220.5 95.8h0.6M192.5 98.0h0.6M222.7 95.4h0.6M185.6 104.4h0.6M232.2 94.1h0.6M197.1 106.7h0.6M203.7 103.2h0.6M203.3 101.9h0.6M216.8 95.3h0.6M173.1 113.2h0.6M199.3 102.8h0.6M220.5 102.8h0.6M214.7 101.5h0.6M185.5 100.9h0.6M230.7 94.6h0.6M242.6 93.1h0.6M192.0 106.1h0.6M200.0 103.3h0.6M183.7 94.9h0.6M196.2 104.3h0.6M202.6 92.5h0.6M246.7 91.3h0.6M183.7 109.5h0.6M242.5 95.0h0.6M206.9 98.5h0.6M198.8 87.5h0.6M199.0 104.2h0.6M218.8 96.7h0.6M200.4 100.2h0.6M202.7 93.8h0.6M203.6 95.3h0.6M208.3 99.1h0.6M211.2 89.3h0.6M202.6 103.9h0.6M193.2 105.1h0.6M218.8 92.7h0.6M209.4 94.7h0.6M208.3 100.0h0.6M170.9 104.7h0.6M205.5 95.6h0.6M193.0 101.0h0.6M187.1 97.0h0.6M197.3 92.9h0.6M190.4 105.8h0.6M170.9 106.8h0.6M183.4 96.3h0.6M224.0 97.3h0.6M203.5 100.9h0.6M192.1 109.5h0.6M207.3 106.1h0.6M170.9 112.1h0.6M233.8 94.2h0.6M228.3 102.1h0.6M204.1 96.5h0.6M212.8 93.8h0.6M196.2 112.2h0.6M197.5 96.3h0.6M203.0 107.0h0.6M196.7 98.5h0.6M216.4 95.2h0.6M186.8 112.0h0.6M215.7 88.6h0.6M189.0 102.4h0.6M210.0 101.7h0.6M229.9 92.5h0.6M239.1 89.7h0.6M179.2 98.6h0.6M220.6 108.7h0.6M233.0 86.5h0.6M206.9 93.8h0.6M232.7 94.1h0.6M191.2 94.8h0.6M208.1 103.2h0.6M249.0 88.9h0.6M221.1 95.1h0.6M224.9 96.4h0.6M203.9 95.6h0.6M203.9 101.7h0.6M223.4 89.8h0.6M208.9 98.4h0.6M239.2 99.0h0.6M194.0 106.3h0.6M190.0 95.1h0.6M214.7 90.5h0.6M181.6 113.3h0.6M219.6 102.2h0.6M232.8 85.7h0.6M242.2 99.3h0.6M185.2 104.0h0.6M200.8 102.8h0.6M224.1 104.9h0.6M199.4 99.8h0.6M216.6 101.3h0.6M176.5 101.4h0.6M206.8 107.4h0.6M219.5 101.0h0.6M196.4 107.5h0.6M216.8 100.5h0.6M208.4 92.6h0.6M202.0 100.0h0.6M189.7 101.6h0.6M204.2 101.4h0.6M213.4 94.3h0.6M202.8 97.1h0.6M219.6 94.6h0.6M215.9 92.1h0.6M186.5 103.6h0.6M208.0 95.7h0.6M228.2 103.3h0.6M218.6 95.0h0.6M200.9 91.0h0.6M182.8 103.4h0.6M210.9 104.8h0.6M212.5 104.6h0.6M228.6 92.4h0.6M206.0 97.4h0.6M208.0 97.5h0.6M214.6 100.6h0.6M232.9 93.1h0.6M244.4 99.3h0.6M199.0 103.4h0.6M226.4 90.7h0.6M212.2 97.6h0.6M235.8 92.7h0.6M198.4 95.4h0.6M221.9 98.1h0.6M219.9 91.6h0.6M191.5 100.6h0.6M208.6 102.4h0.6M204.7 103.9h0.6M200.5 109.7h0.6M195.1 101.6h0.6M182.3 105.5h0.6M215.7 101.0h0.6M209.0 96.0h0.6M209.2 89.2h0.6M205.0 94.5h0.6M212.7 89.2h0.6M195.7 101.3h0.6M191.7 109.2h0.6M215.7 101.7h0.6M215.9 109.7h0.6M217.8 99.7h0.6M217.2 111.1h0.6M186.8 111.9h0.6M187.0 106.1h0.6M195.9 110.4h0.6M241.6 92.4h0.6M218.1 92.0h0.6M187.8 104.8h0.6M227.3 104.8h0.6M222.3 101.1h0.6M200.0 104.5h0.6M220.7 98.1h0.6M210.8 96.2h0.6M208.6 102.8h0.6M213.8 102.6h0.6M229.6 94.2h0.6M221.4 104.4h0.6M177.2 112.8h0.6M195.4 91.1h0.6M233.6 98.1h0.6M247.7 87.2h0.6M187.6 100.3h0.6M229.5 97.0h0.6M181.3 106.9h0.6M231.6 99.1h0.6M204.2 103.8h0.6M229.7 97.9h0.6M218.8 94.3h0.6M193.8 103.4h0.6M189.9 100.3h0.6M185.7 105.9h0.6M174.5 103.8h0.6M187.2 94.0h0.6M209.9 101.0h0.6M201.0 97.9h0.6M217.7 99.4h0.6M199.2 98.8h0.6M221.3 107.1h0.6M217.1 104.9h0.6M201.8 111.2h0.6M185.2 99.9h0.6M172.8 107.1h0.6M220.3 97.1h0.6M206.8 96.1h0.6M174.1 107.2h0.6M192.6 98.0h0.6M202.6 111.9h0.6M237.1 94.9h0.6M228.0 100.4h0.6M203.9 98.2h0.6M220.6 97.0h0.6M179.7 101.5h0.6M200.4 107.7h0.6M201.1 106.2h0.6M183.0 105.6h0.6M230.5 93.7h0.6M201.0 101.1h0.6M232.6 99.3h0.6M177.6 99.6h0.6M225.7 99.3h0.6M221.8 88.8h0.6M187.9 99.4h0.6M213.4 96.2h0.6M212.7 97.5h0.6M221.8 106.7h0.6M199.2 93.6h0.6M191.3 102.9h0.6M188.6 99.8h0.6M210.5 93.8h0.6M196.2 97.8h0.6M206.7 92.5h0.6M203.2 102.2h0.6M174.1 98.2h0.6M210.9 100.2h0.6M232.7 95.8h0.6M212.2 85.1h0.6M202.5 99.2h0.6M224.3 93.5h0.6M197.2 94.8h0.6M226.1 85.7h0.6M197.7 95.2h0.6M171.3 92.8h0.6M189.3 105.0h0.6M216.5 92.9h0.6M218.5 101.8h0.6M210.9 97.0h0.6M225.8 97.7h0.6M209.9 95.7h0.6M212.3 96.4h0.6M227.1 97.1h0.6M173.9 102.1h0.6M214.7 92.1h0.6M250.0 89.3h0.6M211.0 91.6h0.6M234.0 103.4h0.6M219.9 105.3h0.6M216.9 98.1h0.6M211.1 100.7h0.6M205.0 97.7h0.6M236.4 94.1h0.6M226.3 106.8h0.6M240.5 96.4h0.6M181.5 103.0h0.6M173.7 102.2h0.6M218.6 100.0h0.6M240.1 97.9h0.6M187.1 99.5h0.6M188.8 101.0h0.6M192.3 105.0h0.6M206.2 100.3h0.6M228.2 94.1h0.6M207.1 100.8h0.6M214.2 98.9h0.6M178.4 102.6h0.6M172.7 101.9h0.6M214.2 100.5h0.6M214.2 96.0h0.6M194.7 95.5h0.6M212.3 94.7h0.6M211.0 98.4h0.6M219.9 93.8h0.6M196.7 94.6h0.6M209.2 104.1h0.6M240.4 87.4h0.6M192.3 97.4h0.6M201.5 105.3h0.6M197.5 97.3h0.6M222.4 95.0h0.6M190.3 94.2h0.6M183.3 102.7h0.6M192.8 92.1h0.6M181.8 106.9h0.6M213.0 96.1h0.6M243.6 97.1h0.6M220.2 95.0h0.6M217.7 91.2h0.6M216.3 94.4h0.6M202.9 106.8h0.6M179.1 104.4h0.6M188.7 101.0h0.6M226.0 102.9h0.6M180.2 94.7h0.6M240.2 92.9h0.6M187.7 106.9h0.6M199.7 95.8h0.6M192.0 103.5h0.6M185.2 100.6h0.6M200.3 107.4h0.6M204.5 102.8h0.6M203.2 101.1h0.6M215.7 96.9h0.6M210.3 95.9h0.6M231.7 89.1h0.6M199.7 95.6h0.6M189.7 91.7h0.6M195.2 100.1h0.6M206.2 101.3h0.6M231.3 106.5h0.6M211.5 100.7h0.6M201.9 108.1h0.6M210.8 93.7h0.6M185.1 99.2h0.6M200.6 102.3h0.6M194.9 97.6h0.6M189.2 106.2h0.6M219.8 102.1h0.6M192.1 100.8h0.6M195.6 98.8h0.6M186.6 101.0h0.6M213.0 94.4h0.6M188.8 110.3h0.6M246.9 94.1h0.6M190.0 109.7h0.6M223.5 92.4h0.6M219.5 107.5h0.6M224.2 94.9h0.6M211.1 98.4h0.6M189.6 105.1h0.6M249.6 99.1h0.6M213.2 106.2h0.6M187.9 102.9h0.6M231.7 91.1h0.6M208.3 107.2h0.6M195.1 100.5h0.6M219.6 92.0h0.6M208.9 92.9h0.6M219.5 95.8h0.6M206.2 88.4h0.6M227.5 95.2h0.6M216.1 95.6h0.6M202.6 107.6h0.6M209.3 103.2h0.6M228.3 95.7h0.6M206.6 87.8h0.6M194.6 95.5h0.6M210.8 96.6h0.6M219.4 101.0h0.6M216.2 89.5h0.6M183.4 101.1h0.6M186.5 94.9h0.6M204.1 106.9h0.6M223.4 94.9h0.6M211.6 93.8h0.6M237.2 95.8h0.6M237.1 91.4h0.6M222.9 94.6h0.6M211.9 99.0h0.6M205.1 96.7h0.6M192.0 98.4h0.6M213.3 106.7h0.6M187.6 102.3h0.6M224.3 93.8h0.6M178.3 111.3h0.6M230.9 98.6h0.6M205.7 106.5h0.6M194.4 98.2h0.6M210.8 98.2h0.6M211.2 101.4h0.6M209.9 102.7h0.6M184.2 100.8h0.6M225.4 91.4h0.6M209.2 102.2h0.6M221.6 96.3h0.6M201.1 99.7h0.6M191.7 113.5h0.6M210.1 95.7h0.6M225.3 87.7h0.6M187.3 108.0h0.6M217.4 99.8h0.6M218.1 100.3h0.6M169.9 108.4h0.6M207.6 109.1h0.6M207.6 95.7h0.6M202.4 98.6h0.6M217.9 102.0h0.6M231.0 94.9h0.6M222.1 98.6h0.6M229.3 90.1h0.6M224.6 94.2h0.6M206.8 103.6h0.6M194.4 84.9h0.6M186.0 104.5h0.6M170.8 92.3h0.6M198.5 112.8h0.6M214.7 104.5h0.6M206.5 107.7h0.6M208.0 107.7h0.6M223.0 92.9h0.6M225.3 97.3h0.6M203.1 95.6h0.6M206.3 102.5h0.6M180.1 102.0h0.6M228.9 99.1h0.6M204.4 97.5h0.6" stroke="#222" stroke-width="0.6" stroke-opacity="1.0" fill="none"/>
<path d="M208.5 105.8h0.5M181.5 94.0h0.5M189.4 94.2h0.5M184.4 102.4h0.5M198.6 112.1h0.5M215.8 93.7h0.5M233.1 98.3h0.5M181.2 97.9h0.5M225.3 102.7h0.5M182.4 104.8h0.5M241.9 97.6h0.5M203.3 96.8h0.5M182.0 100.0h0.5M199.5 90.4h0.5M224.5 92.0h0.5M205.1 103.4h0.5M204.3 109.3h0.5M231.4 100.6h0.5M212.6 109.0h0.5M213.8 94.3h0.5M210.7 99.7h0.5M180.3 109.2h0.5M231.1 109.4h0.5M189.1 99.1h0.5M201.0 109.0h0.5M182.7 100.1h0.5M232.0 103.8h0.5M192.3 96.1h0.5M187.9 108.9h0.5M188.5 103.6h0.5M200.8 100.9h0.5M195.1 102.7h0.5M191.9 89.2h0.5M198.6 104.5h0.5M233.4 109.2h0.5M224.4 98.6h0.5M183.9 105.9h0.5M205.4 101.7h0.5M193.3 108.9h0.5M233.7 101.8h0.5M219.0 104.2h0.5M223.2 104.9h0.5M193.6 89.5h0.5M191.8 100.2h0.5M213.6 105.2h0.5M185.3 98.4h0.5M215.8 102.7h0.5M177.7 103.6h0.5M195.1 104.4h0.5M188.8 107.3h0.5M229.7 92.5h0.5M214.6 103.7h0.5M238.5 100.7h0.5M249.1 95.7h0.5M214.7 95.9h0.5M225.9 97.5h0.5M216.0 91.2h0.5M214.1 92.2h0.5M217.5 98.0h0.5M226.9 96.4h0.5M221.6 108.4h0.5M212.5 105.7h0.5M218.0 99.9h0.5M212.3 106.0h0.5M207.1 98.8h0.5M205.2 94.0h0.5M196.6 90.9h0.5M209.8 100.6h0.5M223.3 102.0h0.5M202.2 107.0h0.5M200.5 85.3h0.5M248.4 91.3h0.5M251.9 96.4h0.5M208.2 98.9h0.5M185.0 89.5h0.5M242.2 96.8h0.5M245.3 102.6h0.5M237.3 90.8h0.5M193.0 111.1h0.5M200.7 94.3h0.5M178.5 113.1h0.5M209.4 99.9h0.5M176.5 108.6h0.5M208.5 93.0h0.5M188.7 109.7h0.5M201.1 98.5h0.5M197.1 107.7h0.5M183.8 97.0h0.5M208.7 94.7h0.5M179.8 101.9h0.5M216.7 107.5h0.5M189.1 98.9h0.5M236.2 111.8h0.5M191.4 102.1h0.5M221.8 108.8h0.5M225.9 90.1h0.5M200.9 99.1h0.5M171.8 109.2h0.5M223.2 106.7h0.5M169.9 101.6h0.5M215.1 113.6h0.5M192.7 103.7h0.5M200.8 110.3h0.5M188.4 108.2h0.5M209.2 102.6h0.5M218.5 106.6h0.5M206.3 96.8h0.5M209.0 106.1h0.5M237.5 89.6h0.5M222.1 93.6h0.5M213.7 106.5h0.5M189.8 107.7h0.5M173.9 102.4h0.5M186.6 96.1h0.5M226.7 97.7h0.5M205.9 96.9h0.5M222.5 108.8h0.5M206.7 103.1h0.5M195.1 105.3h0.5M205.4 106.3h0.5M212.8 86.8h0.5M230.9 94.8h0.5M210.9 98.0h0.5M197.6 93.7h0.5M176.5 100.0h0.5M178.4 100.5h0.5M194.7 104.6h0.5M225.6 101.0h0.5M199.2 94.7h0.5M208.4 96.9h0.5M194.9 97.9h0.5M224.4 95.6h0.5M216.4 104.1h0.5M225.2 99.9h0.5M233.8 103.3h0.5M225.9 100.6h0.5M211.9 102.6h0.5M221.9 105.4h0.5M227.4 114.1h0.5M217.6 99.5h0.5M172.0 100.6h0.5M214.7 89.2h0.5M231.4 104.6h0.5M216.3 110.2h0.5M194.6 102.0h0.5M181.2 97.2h0.5M251.1 96.7h0.5M204.5 85.7h0.5M230.2 103.1h0.5M198.7 96.4h0.5M174.5 106.4h0.5M239.2 108.4h0.5M216.5 89.2h0.5M235.4 95.7h0.5M206.3 94.7h0.5M173.6 97.3h0.5M242.7 103.0h0.5M196.7 106.9h0.5M213.4 103.5h0.5M213.1 102.9h0.5M227.0 96.4h0.5M217.0 101.0h0.5M240.6 102.6h0.5M201.9 106.2h0.5M232.0 96.1h0.5M245.8 99.9h0.5M197.3 97.5h0.5M175.2 94.5h0.5M202.9 112.5h0.5M237.8 98.2h0.5M212.6 100.0h0.5M230.4 94.1h0.5M204.7 101.4h0.5M181.9 107.1h0.5M196.6 96.5h0.5M232.5 98.0h0.5M219.2 100.3h0.5M214.8 97.4h0.5M216.3 91.1h0.5M195.8 103.4h0.5M246.4 97.7h0.5M224.8 98.6h0.5M220.2 95.7h0.5M230.4 97.2h0.5M233.7 93.0h0.5M202.7 101.5h0.5M228.7 100.8h0.5M192.5 100.4h0.5M196.7 104.1h0.5M194.1 92.3h0.5M197.5 101.2h0.5M176.1 93.5h0.5M214.4 109.5h0.5M237.1 97.4h0.5M203.0 103.8h0.5M174.1 101.6h0.5M194.6 103.1h0.5M199.0 102.5h0.5M197.5 99.4h0.5M211.4 90.8h0.5M200.5 95.9h0.5M203.7 102.4h0.5M205.0 104.5h0.5M172.3 101.0h0.5M214.0 95.4h0.5M228.6 98.0h0.5M211.5 96.2h0.5M207.9 103.1h0.5M213.3 92.4h0.5M184.3 103.3h0.5M183.1 116.5h0.5M177.1 110.6h0.5M179.4 104.3h0.5M202.4 111.1h0.5M210.1 109.4h0.5M194.1 95.8h0.5M203.7 96.5h0.5M184.9 99.4h0.5M177.2 107.0h0.5M192.1 94.8h0.5M235.8 87.5h0.5M221.0 101.1h0.5M221.3 96.6h0.5M192.7 103.4h0.5M217.6 89.4h0.5M240.6 98.5h0.5M185.1 104.7h0.5M210.9 102.6h0.5M190.6 98.0h0.5M196.6 102.6h0.5M202.1 98.4h0.5M201.0 87.1h0.5M185.7 88.0h0.5M190.9 106.9h0.5M233.5 91.7h0.5M244.3 101.4h0.5M212.6 94.8h0.5M226.9 101.8h0.5M196.1 109.8h0.5M193.2 115.7h0.5M209.6 98.8h0.5M234.6 108.4h0.5M210.5 102.9h0.5M214.7 107.4h0.5M210.1 99.8h0.5M254.9 91.9h0.5M197.2 96.6h0.5M215.4 106.8h0.5M197.1 100.1h0.5M215.8 95.9h0.5M184.1 98.6h0.5M194.6 103.4h0.5M216.5 96.9h0.5M207.5 102.6h0.5M182.2 101.2h0.5M194.7 91.0h0.5M173.1 109.5h0.5M181.3 107.6h0.5M189.6 102.3h0.5M211.7 97.0h0.5M248.7 104.4h0.5M195.2 95.9h0.5M190.2 104.1h0.5M205.8 103.8h0.5M221.4 98.0h0.5M228.9 96.2h0.5M181.0 114.2h0.5M189.0 97.0h0.5M248.5 85.9h0.5M204.7 91.4h0.5M191.3 101.9h0.5M185.7 97.3h0.5M247.3 101.5h0.5M201.7 107.5h0.5M182.7 91.4h0.5M212.7 88.9h0.5M250.6 94.6h0.5M177.7 103.9h0.5M245.1 93.8h0.5M204.0 89.1h0.5M234.4 101.7h0.5M226.8 106.7h0.5M171.5 104.6h0.5M236.8 101.3h0.5M189.4 109.4h0.5M214.1 106.2h0.5M176.3 107.3h0.5M225.0 104.3h0.5M182.7 94.7h0.5M177.8 106.3h0.5M232.2 94.1h0.5M222.3 102.3h0.5M200.5 101.7h0.5M232.4 99.0h0.5M170.5 107.5h0.5M231.2 100.1h0.5M241.7 95.9h0.5M222.7 110.9h0.5M197.5 102.4h0.5M181.6 106.1h0.5M207.4 99.3h0.5M175.5 100.2h0.5M209.0 96.1h0.5M196.5 102.3h0.5M199.6 101.6h0.5M211.1 104.3h0.5M179.2 100.7h0.5M205.2 108.4h0.5M207.5 106.5h0.5M242.8 88.7h0.5M197.8 98.6h0.5M199.6 101.9h0.5M229.7 101.6h0.5M224.3 101.3h0.5M254.2 106.3h0.5M245.9 89.3h0.5M191.4 99.1h0.5M218.2 95.3h0.5M218.3 100.2h0.5M178.9 105.0h0.5M209.6 100.3h0.5M212.7 102.7h0.5M244.8 97.0h0.5M194.9 98.1h0.5M177.1 99.9h0.5M240.1 100.7h0.5M178.7 105.0h0.5M178.0 105.5h0.5M181.7 102.6h0.5M206.7 92.4h0.5M211.4 101.8h0.5M213.9 95.4h0.5M194.8 105.8h0.5M201.6 102.9h0.5M182.8 103.0h0.5M184.9 99.7h0.5M187.1 107.9h0.5M175.3 102.9h0.5M256.5 87.5h0.5M204.5 106.5h0.5M205.4 111.8h0.5M194.8 107.1h0.5M197.5 103.3h0.5M245.9 92.3h0.5M250.6 94.8h0.5M192.6 106.2h0.5M202.1 106.0h0.5M253.4 97.1h0.5M175.4 109.4h0.5M207.2 111.6h0.5M223.2 99.6h0.5M188.4 106.2h0.5M229.8 101.9h0.5M223.8 106.9h0.5M243.5 93.9h0.5M174.1 97.2h0.5M217.8 97.0h0.5M245.8 93.7h0.5M192.6 97.8h0.5M206.2 105.0h0.5M202.5 106.2h0.5M202.4 87.6h0.5M248.3 85.1h0.5M201.6 100.3h0.5M239.1 96.8h0.5M200.2 101.3h0.5M173.8 103.3h0.5M210.9 103.3h0.5M240.0 85.5h0.5M193.0 104.6h0.5M242.8 93.7h0.5M202.2 101.3h0.5M197.1 91.9h0.5M171.8 98.1h0.5M184.9 96.0h0.5M201.1 101.5h0.5M249.8 95.1h0.5M249.8 95.8h0.5M233.3 104.8h0.5M207.2 103.1h0.5M216.9 101.6h0.5M238.3 101.4h0.5M201.5 107.3h0.5M226.0 101.8h0.5M177.3 100.8h0.5M246.4 95.4h0.5M217.3 103.3h0.5M213.3 95.3h0.5M211.5 100.1h0.5M193.2 101.5h0.5M216.3 98.2h0.5M193.6 100.8h0.5M190.6 104.5h0.5M202.4 107.0h0.5M239.7 108.3h0.5M177.6 105.7h0.5M225.2 103.0h0.5M231.9 103.8h0.5M199.6 91.7h0.5M193.3 94.2h0.5M218.9 103.9h0.5M188.2 104.5h0.5M242.5 101.7h0.5M187.7 95.3h0.5M184.8 104.4h0.5M199.9 103.3h0.5M227.1 102.7h0.5M195.6 98.8h0.5M212.3 105.0h0.5M187.5 98.8h0.5M216.9 98.9h0.5M236.7 97.8h0.5M217.4 108.8h0.5M252.7 95.1h0.5M220.2 89.3h0.5M189.8 102.6h0.5M230.1 105.0h0.5M171.7 101.6h0.5M197.8 94.3h0.5M225.3 94.0h0.5M233.9 104.8h0.5M208.5 95.3h0.5M204.3 103.8h0.5M215.1 106.3h0.5M210.4 108.5h0.5M181.7 104.4h0.5M196.3 102.9h0.5M197.4 98.8h0.5M216.4 105.0h0.5M213.9 101.0h0.5M182.3 99.7h0.5M177.1 110.6h0.5M213.8 104.0h0.5M227.3 95.0h0.5M217.1 100.0h0.5M217.3 98.0h0.5M246.9 99.5h0.5M201.8 105.8h0.5M199.8 90.6h0.5" stroke="#555" stroke-width="0.5" stroke-opacity="1.0" fill="none"/>
<rect x="169.40" y="83.60" width="84.80" height="33.60" fill="none" stroke="#000" stroke-width="1.15"/>
<line x1="206.6" y1="83.6" x2="206.6" y2="117.2" stroke="#000" stroke-width="1.15"/>
<text x="188.6" y="79" font-size="5.4" font-weight="bold" stroke="#000" stroke-width="0.22" text-anchor="middle" fill="#000">low</text>
<text x="230.2" y="79" font-size="5.4" font-weight="bold" stroke="#000" stroke-width="0.22" text-anchor="middle" fill="#000">high</text>
<text x="166.2" y="21.4" font-size="4.2" text-anchor="end" fill="#777" transform="rotate(-90 166.2 21.4)">1023</text>
<text x="165.8" y="128" font-size="4.2" text-anchor="end" fill="#777">0</text>
<text x="170.2" y="133" font-size="4.5" fill="#707070" text-anchor="middle">10<tspan dy="-1.7" font-size="2.8">0</tspan></text>
<text x="197" y="133" font-size="4.5" fill="#707070" text-anchor="middle">10<tspan dy="-1.7" font-size="2.8">1</tspan></text>
<text x="224.4" y="133" font-size="4.5" fill="#707070" text-anchor="middle">10<tspan dy="-1.7" font-size="2.8">2</tspan></text>
<text x="251.2" y="133" font-size="4.5" fill="#707070" text-anchor="middle">10<tspan dy="-1.7" font-size="2.8">3</tspan></text>
<text x="277.6" y="133" font-size="4.5" fill="#707070" text-anchor="middle">10<tspan dy="-1.7" font-size="2.8">4</tspan></text>
<line x1="169" y1="141.1" x2="276.2" y2="141.1" stroke="#000" stroke-width="1.55"/>
<path d="M273.1 138.5 L277.1 141.1 L273.1 143.7" fill="none" stroke="#000" stroke-width="1.7"/>
<text x="249.8" y="151.2" font-size="7.7" font-weight="bold" stroke="#000" stroke-width="0.22" text-anchor="start" fill="#000">CD56</text>
<text x="1.9" y="167.5" font-size="14.6" font-weight="bold" stroke="#000" stroke-width="0.22" text-anchor="start" fill="#000">B</text>
<line x1="42.7" y1="164.0" x2="42.7" y2="289.40000000000003" stroke="#000" stroke-width="1.2"/>
<line x1="42.1" y1="288.8" x2="270.3" y2="288.8" stroke="#000" stroke-width="1.2"/>
<line x1="39.7" y1="288.8" x2="42.7" y2="288.8" stroke="#000" stroke-width="1.1"/>
<text x="39.400000000000006" y="291.1" font-size="6.3" font-weight="bold" stroke="#000" stroke-width="0.22" text-anchor="end" fill="#000">0</text>
<line x1="39.7" y1="263.90000000000003" x2="42.7" y2="263.90000000000003" stroke="#000" stroke-width="1.1"/>
<text x="39.400000000000006" y="266.20000000000005" font-size="6.3" font-weight="bold" stroke="#000" stroke-width="0.22" text-anchor="end" fill="#000">25</text>
<line x1="39.7" y1="239.0" x2="42.7" y2="239.0" stroke="#000" stroke-width="1.1"/>
<text x="39.400000000000006" y="241.3" font-size="6.3" font-weight="bold" stroke="#000" stroke-width="0.22" text-anchor="end" fill="#000">50</text>
<line x1="39.7" y1="214.10000000000002" x2="42.7" y2="214.10000000000002" stroke="#000" stroke-width="1.1"/>
<text x="39.400000000000006" y="216.40000000000003" font-size="6.3" font-weight="bold" stroke="#000" stroke-width="0.22" text-anchor="end" fill="#000">75</text>
<line x1="39.7" y1="189.20000000000002" x2="42.7" y2="189.20000000000002" stroke="#000" stroke-width="1.1"/>
<text x="39.400000000000006" y="191.50000000000003" font-size="6.3" font-weight="bold" stroke="#000" stroke-width="0.22" text-anchor="end" fill="#000">100</text>
<line x1="39.7" y1="164.3" x2="42.7" y2="164.3" stroke="#000" stroke-width="1.1"/>
<text x="39.400000000000006" y="166.60000000000002" font-size="6.3" font-weight="bold" stroke="#000" stroke-width="0.22" text-anchor="end" fill="#000">125</text>
<text x="22.8" y="271.4" font-size="7.7" font-weight="bold" stroke="#000" stroke-width="0.22" text-anchor="start" fill="#000" transform="rotate(-90 22.8 271.4)">Receptor expression (%)</text>
<rect x="49.60" y="165.60" width="10.00" height="7.60" fill="#999999" stroke="#000" stroke-width="1.2"/>
<rect x="49.60" y="176.60" width="10.00" height="7.60" fill="#000" stroke="#000" stroke-width="1.2"/>
<text x="65" y="173.7" font-size="7.6">CD56<tspan dy="-2.7" font-size="5.6">high</tspan></text>
<text x="65" y="184.0" font-size="7.6">CD56<tspan dy="-2.7" font-size="5.6">low</tspan></text>
<line x1="49.85" y1="194.18" x2="49.85" y2="199.16000000000003" stroke="#000" stroke-width="1.15"/>
<line x1="48.1" y1="194.18" x2="51.6" y2="194.18" stroke="#000" stroke-width="1.15"/>
<rect x="47.10" y="199.76" width="5.50" height="89.04" fill="#999999" stroke="#000" stroke-width="1.2"/>
<line x1="58.45" y1="194.18" x2="58.45" y2="205.13600000000002" stroke="#000" stroke-width="1.15"/>
<line x1="56.7" y1="194.18" x2="60.2" y2="194.18" stroke="#000" stroke-width="1.15"/>
<rect x="55.70" y="205.74" width="5.50" height="83.06" fill="#000" stroke="#000" stroke-width="1.2"/>
<line x1="72.71" y1="256.928" x2="72.71" y2="257.426" stroke="#000" stroke-width="1.15"/>
<line x1="70.96" y1="256.928" x2="74.46" y2="256.928" stroke="#000" stroke-width="1.15"/>
<rect x="69.96" y="258.03" width="5.50" height="30.77" fill="#999999" stroke="#000" stroke-width="1.2"/>
<line x1="81.30999999999999" y1="262.6052" x2="81.30999999999999" y2="265.394" stroke="#000" stroke-width="1.15"/>
<line x1="79.55999999999999" y1="262.6052" x2="83.05999999999999" y2="262.6052" stroke="#000" stroke-width="1.15"/>
<rect x="78.56" y="265.99" width="5.50" height="22.81" fill="#000" stroke="#000" stroke-width="1.2"/>
<line x1="95.57" y1="239.49800000000002" x2="95.57" y2="248.46200000000002" stroke="#000" stroke-width="1.15"/>
<line x1="93.82" y1="239.49800000000002" x2="97.32" y2="239.49800000000002" stroke="#000" stroke-width="1.15"/>
<rect x="92.82" y="249.06" width="5.50" height="39.74" fill="#999999" stroke="#000" stroke-width="1.2"/>
<line x1="104.16999999999999" y1="249.35840000000002" x2="104.16999999999999" y2="257.92400000000004" stroke="#000" stroke-width="1.15"/>
<line x1="102.41999999999999" y1="249.35840000000002" x2="105.91999999999999" y2="249.35840000000002" stroke="#000" stroke-width="1.15"/>
<rect x="101.42" y="258.52" width="5.50" height="30.28" fill="#000" stroke="#000" stroke-width="1.2"/>
<line x1="118.42999999999999" y1="216.092" x2="118.42999999999999" y2="236.6096" stroke="#000" stroke-width="1.15"/>
<line x1="116.67999999999999" y1="216.092" x2="120.17999999999999" y2="216.092" stroke="#000" stroke-width="1.15"/>
<rect x="115.68" y="237.21" width="5.50" height="51.59" fill="#999999" stroke="#000" stroke-width="1.2"/>
<line x1="127.02999999999999" y1="221.072" x2="127.02999999999999" y2="242.5856" stroke="#000" stroke-width="1.15"/>
<line x1="125.27999999999999" y1="221.072" x2="128.77999999999997" y2="221.072" stroke="#000" stroke-width="1.15"/>
<rect x="124.28" y="243.19" width="5.50" height="45.61" fill="#000" stroke="#000" stroke-width="1.2"/>
<line x1="141.29" y1="211.11200000000002" x2="141.29" y2="215.6936" stroke="#000" stroke-width="1.15"/>
<line x1="139.54" y1="211.11200000000002" x2="143.04" y2="211.11200000000002" stroke="#000" stroke-width="1.15"/>
<rect x="138.54" y="216.29" width="5.50" height="72.51" fill="#999999" stroke="#000" stroke-width="1.2"/>
<line x1="149.89" y1="221.4704" x2="149.89" y2="228.044" stroke="#000" stroke-width="1.15"/>
<line x1="148.14" y1="221.4704" x2="151.64" y2="221.4704" stroke="#000" stroke-width="1.15"/>
<rect x="147.14" y="228.64" width="5.50" height="60.16" fill="#000" stroke="#000" stroke-width="1.2"/>
<line x1="164.15" y1="249.95600000000002" x2="164.15" y2="254.936" stroke="#000" stroke-width="1.15"/>
<line x1="162.4" y1="249.95600000000002" x2="165.9" y2="249.95600000000002" stroke="#000" stroke-width="1.15"/>
<rect x="161.40" y="255.54" width="5.50" height="33.26" fill="#999999" stroke="#000" stroke-width="1.2"/>
<line x1="172.75" y1="263.90000000000003" x2="172.75" y2="269.27840000000003" stroke="#000" stroke-width="1.15"/>
<line x1="171.0" y1="263.90000000000003" x2="174.5" y2="263.90000000000003" stroke="#000" stroke-width="1.15"/>
<rect x="170.00" y="269.88" width="5.50" height="18.92" fill="#000" stroke="#000" stroke-width="1.2"/>
<line x1="187.01" y1="224.4584" x2="187.01" y2="232.02800000000002" stroke="#000" stroke-width="1.15"/>
<line x1="185.26" y1="224.4584" x2="188.76" y2="224.4584" stroke="#000" stroke-width="1.15"/>
<rect x="184.26" y="232.63" width="5.50" height="56.17" fill="#999999" stroke="#000" stroke-width="1.2"/>
<line x1="195.60999999999999" y1="252.94400000000002" x2="195.60999999999999" y2="256.928" stroke="#000" stroke-width="1.15"/>
<line x1="193.85999999999999" y1="252.94400000000002" x2="197.35999999999999" y2="252.94400000000002" stroke="#000" stroke-width="1.15"/>
<rect x="192.86" y="257.53" width="5.50" height="31.27" fill="#000" stroke="#000" stroke-width="1.2"/>
<rect x="207.12" y="189.80" width="5.50" height="99.00" fill="#999999" stroke="#000" stroke-width="1.2"/>
<rect x="215.72" y="189.80" width="5.50" height="99.00" fill="#000" stroke="#000" stroke-width="1.2"/>
<rect x="229.98" y="189.80" width="5.50" height="99.00" fill="#999999" stroke="#000" stroke-width="1.2"/>
<rect x="238.58" y="189.80" width="5.50" height="99.00" fill="#000" stroke="#000" stroke-width="1.2"/>
<rect x="252.84" y="189.80" width="5.50" height="99.00" fill="#999999" stroke="#000" stroke-width="1.2"/>
<rect x="261.44" y="189.80" width="5.50" height="99.00" fill="#000" stroke="#000" stroke-width="1.2"/>
<line x1="54.1" y1="288.8" x2="54.1" y2="291.2" stroke="#000" stroke-width="1.0"/>
<text x="55.5" y="297.2" font-size="7.0" font-weight="bold" stroke="#000" stroke-width="0.22" text-anchor="end" fill="#000" transform="rotate(-45 55.5 297.2)">CD40</text>
<line x1="76.96" y1="288.8" x2="76.96" y2="291.2" stroke="#000" stroke-width="1.0"/>
<text x="78.36" y="297.2" font-size="7.0" font-weight="bold" stroke="#000" stroke-width="0.22" text-anchor="end" fill="#000" transform="rotate(-45 78.36 297.2)">CD80</text>
<line x1="99.82" y1="288.8" x2="99.82" y2="291.2" stroke="#000" stroke-width="1.0"/>
<text x="101.22" y="297.2" font-size="7.0" font-weight="bold" stroke="#000" stroke-width="0.22" text-anchor="end" fill="#000" transform="rotate(-45 101.22 297.2)">CD83</text>
<line x1="122.67999999999999" y1="288.8" x2="122.67999999999999" y2="291.2" stroke="#000" stroke-width="1.0"/>
<text x="124.08" y="297.2" font-size="7.0" font-weight="bold" stroke="#000" stroke-width="0.22" text-anchor="end" fill="#000" transform="rotate(-45 124.08 297.2)">CD86</text>
<line x1="145.54" y1="288.8" x2="145.54" y2="291.2" stroke="#000" stroke-width="1.0"/>
<text x="146.94" y="297.2" font-size="7.0" font-weight="bold" stroke="#000" stroke-width="0.22" text-anchor="end" fill="#000" transform="rotate(-45 146.94 297.2)">PD-L1</text>
<line x1="168.4" y1="288.8" x2="168.4" y2="291.2" stroke="#000" stroke-width="1.0"/>
<text x="169.8" y="297.2" font-size="7.0" font-weight="bold" stroke="#000" stroke-width="0.22" text-anchor="end" fill="#000" transform="rotate(-45 169.8 297.2)">TRAIL</text>
<line x1="191.26" y1="288.8" x2="191.26" y2="291.2" stroke="#000" stroke-width="1.0"/>
<text x="192.66" y="297.2" font-size="7.0" font-weight="bold" stroke="#000" stroke-width="0.22" text-anchor="end" fill="#000" transform="rotate(-45 192.66 297.2)">Granzyme B</text>
<line x1="214.11999999999998" y1="288.8" x2="214.11999999999998" y2="291.2" stroke="#000" stroke-width="1.0"/>
<text x="215.51999999999998" y="297.2" font-size="7.0" font-weight="bold" stroke="#000" stroke-width="0.22" text-anchor="end" fill="#000" transform="rotate(-45 215.51999999999998 297.2)">CD123</text>
<line x1="236.98" y1="288.8" x2="236.98" y2="291.2" stroke="#000" stroke-width="1.0"/>
<text x="238.38" y="297.2" font-size="7.0" font-weight="bold" stroke="#000" stroke-width="0.22" text-anchor="end" fill="#000" transform="rotate(-45 238.38 297.2)">BDCA-2</text>
<line x1="259.84000000000003" y1="288.8" x2="259.84000000000003" y2="291.2" stroke="#000" stroke-width="1.0"/>
<text x="261.24" y="297.2" font-size="7.0" font-weight="bold" stroke="#000" stroke-width="0.22" text-anchor="end" fill="#000" transform="rotate(-45 261.24 297.2)">BDCA-4</text>
<line x1="95.0" y1="229.6" x2="105.4" y2="229.6" stroke="#000" stroke-width="1.5"/>
<text x="100.2" y="228.05" font-size="7.8" font-weight="bold" stroke="#000" stroke-width="0.22" text-anchor="middle" fill="#000">***</text>
<line x1="141.3" y1="206" x2="151.7" y2="206" stroke="#000" stroke-width="1.5"/>
<text x="146.5" y="204.25" font-size="7.8" font-weight="bold" stroke="#000" stroke-width="0.22" text-anchor="middle" fill="#000">***</text>
<line x1="164.0" y1="236" x2="174.39999999999998" y2="236" stroke="#000" stroke-width="1.5"/>
<text x="169.2" y="234.85" font-size="7.8" font-weight="bold" stroke="#000" stroke-width="0.22" text-anchor="middle" fill="#000">***</text>
<line x1="186.0" y1="217.6" x2="196.39999999999998" y2="217.6" stroke="#000" stroke-width="1.5"/>
<text x="191.2" y="215.25" font-size="7.8" font-weight="bold" stroke="#000" stroke-width="0.22" text-anchor="middle" fill="#000">**</text>
<text x="1.6" y="340.2" font-size="14.6" font-weight="bold" stroke="#000" stroke-width="0.22" text-anchor="start" fill="#000">C</text>
<line x1="42.7" y1="350.05" x2="42.7" y2="369.15000000000003" stroke="#000" stroke-width="1.2"/>
<line x1="39.7" y1="350.6" x2="42.7" y2="350.6" stroke="#000" stroke-width="1.1"/>
<text x="39.400000000000006" y="352.90000000000003" font-size="6.3" font-weight="bold" stroke="#000" stroke-width="0.22" text-anchor="end" fill="#000">1600</text>
<line x1="39.7" y1="359.6" x2="42.7" y2="359.6" stroke="#000" stroke-width="1.1"/>
<text x="39.400000000000006" y="361.90000000000003" font-size="6.3" font-weight="bold" stroke="#000" stroke-width="0.22" text-anchor="end" fill="#000">1450</text>
<line x1="39.7" y1="368.6" x2="42.7" y2="368.6" stroke="#000" stroke-width="1.1"/>
<text x="39.400000000000006" y="370.90000000000003" font-size="6.3" font-weight="bold" stroke="#000" stroke-width="0.22" text-anchor="end" fill="#000">1300</text>
<line x1="42.7" y1="378.05" x2="42.7" y2="402.15000000000003" stroke="#000" stroke-width="1.2"/>
<line x1="39.7" y1="378.6" x2="42.7" y2="378.6" stroke="#000" stroke-width="1.1"/>
<text x="39.400000000000006" y="380.90000000000003" font-size="6.3" font-weight="bold" stroke="#000" stroke-width="0.22" text-anchor="end" fill="#000">150</text>
<line x1="39.7" y1="386.3" x2="42.7" y2="386.3" stroke="#000" stroke-width="1.1"/>
<text x="39.400000000000006" y="388.6" font-size="6.3" font-weight="bold" stroke="#000" stroke-width="0.22" text-anchor="end" fill="#000">120</text>
<line x1="39.7" y1="394.0" x2="42.7" y2="394.0" stroke="#000" stroke-width="1.1"/>
<text x="39.400000000000006" y="396.3" font-size="6.3" font-weight="bold" stroke="#000" stroke-width="0.22" text-anchor="end" fill="#000">90</text>
<line x1="39.7" y1="401.6" x2="42.7" y2="401.6" stroke="#000" stroke-width="1.1"/>
<text x="39.400000000000006" y="403.90000000000003" font-size="6.3" font-weight="bold" stroke="#000" stroke-width="0.22" text-anchor="end" fill="#000">60</text>
<line x1="42.7" y1="410.65" x2="42.7" y2="487.55" stroke="#000" stroke-width="1.2"/>
<line x1="39.7" y1="411.2" x2="42.7" y2="411.2" stroke="#000" stroke-width="1.1"/>
<text x="39.400000000000006" y="413.5" font-size="6.3" font-weight="bold" stroke="#000" stroke-width="0.22" text-anchor="end" fill="#000">40</text>
<line x1="39.7" y1="449.1" x2="42.7" y2="449.1" stroke="#000" stroke-width="1.1"/>
<text x="39.400000000000006" y="451.40000000000003" font-size="6.3" font-weight="bold" stroke="#000" stroke-width="0.22" text-anchor="end" fill="#000">20</text>
<line x1="39.7" y1="487.0" x2="42.7" y2="487.0" stroke="#000" stroke-width="1.1"/>
<text x="39.400000000000006" y="489.3" font-size="6.3" font-weight="bold" stroke="#000" stroke-width="0.22" text-anchor="end" fill="#000">0</text>
<line x1="41.1" y1="483.21" x2="42.7" y2="483.21" stroke="#000" stroke-width="0.6"/>
<line x1="41.1" y1="479.42" x2="42.7" y2="479.42" stroke="#000" stroke-width="0.6"/>
<line x1="41.1" y1="475.63" x2="42.7" y2="475.63" stroke="#000" stroke-width="0.6"/>
<line x1="41.1" y1="471.84" x2="42.7" y2="471.84" stroke="#000" stroke-width="0.6"/>
<line x1="41.1" y1="468.05" x2="42.7" y2="468.05" stroke="#000" stroke-width="0.6"/>
<line x1="41.1" y1="464.26" x2="42.7" y2="464.26" stroke="#000" stroke-width="0.6"/>
<line x1="41.1" y1="460.47" x2="42.7" y2="460.47" stroke="#000" stroke-width="0.6"/>
<line x1="41.1" y1="456.68" x2="42.7" y2="456.68" stroke="#000" stroke-width="0.6"/>
<line x1="41.1" y1="452.89" x2="42.7" y2="452.89" stroke="#000" stroke-width="0.6"/>
<line x1="41.1" y1="445.31" x2="42.7" y2="445.31" stroke="#000" stroke-width="0.6"/>
<line x1="41.1" y1="441.52" x2="42.7" y2="441.52" stroke="#000" stroke-width="0.6"/>
<line x1="41.1" y1="437.73" x2="42.7" y2="437.73" stroke="#000" stroke-width="0.6"/>
<line x1="41.1" y1="433.94" x2="42.7" y2="433.94" stroke="#000" stroke-width="0.6"/>
<line x1="41.1" y1="430.15" x2="42.7" y2="430.15" stroke="#000" stroke-width="0.6"/>
<line x1="41.1" y1="426.36" x2="42.7" y2="426.36" stroke="#000" stroke-width="0.6"/>
<line x1="41.1" y1="422.57" x2="42.7" y2="422.57" stroke="#000" stroke-width="0.6"/>
<line x1="41.1" y1="418.78" x2="42.7" y2="418.78" stroke="#000" stroke-width="0.6"/>
<line x1="41.1" y1="414.99" x2="42.7" y2="414.99" stroke="#000" stroke-width="0.6"/>
<line x1="42.1" y1="487.0" x2="270.3" y2="487.0" stroke="#000" stroke-width="1.2"/>
<text x="20.2" y="466.3" font-size="7.5" font-weight="bold" stroke="#000" stroke-width="0.22" text-anchor="start" fill="#000" transform="rotate(-90 20.2 466.3)">Receptor expression (MFI)</text>
<rect x="49.60" y="352.40" width="10.00" height="7.60" fill="#999999" stroke="#000" stroke-width="1.2"/>
<rect x="49.60" y="363.00" width="10.00" height="7.60" fill="#000" stroke="#000" stroke-width="1.2"/>
<text x="65" y="359.9" font-size="7.6">CD56<tspan dy="-2.7" font-size="5.6">high</tspan></text>
<text x="65" y="370.5" font-size="7.6">CD56<tspan dy="-2.7" font-size="5.6">low</tspan></text>
<rect x="46.50" y="411.20" width="6.70" height="75.80" fill="#999999"/>
<line x1="47.1" y1="411.2" x2="47.1" y2="487.0" stroke="#000" stroke-width="1.2"/>
<line x1="52.6" y1="411.2" x2="52.6" y2="487.0" stroke="#000" stroke-width="1.2"/>
<line x1="49.85" y1="389.33333333333337" x2="49.85" y2="395.2111111111111" stroke="#000" stroke-width="1.15"/>
<line x1="48.1" y1="389.33333333333337" x2="51.6" y2="389.33333333333337" stroke="#000" stroke-width="1.15"/>
<rect x="46.50" y="395.21" width="6.70" height="6.39" fill="#999999"/>
<path d="M47.1 401.60 L47.1 395.81 L52.6 395.81 L52.6 401.60" fill="none" stroke="#000" stroke-width="1.2"/>
<rect x="55.10" y="411.20" width="6.70" height="75.80" fill="#000"/>
<line x1="55.7" y1="411.2" x2="55.7" y2="487.0" stroke="#000" stroke-width="1.2"/>
<line x1="61.2" y1="411.2" x2="61.2" y2="487.0" stroke="#000" stroke-width="1.2"/>
<line x1="58.45" y1="395.9777777777778" x2="58.45" y2="400.32222222222225" stroke="#000" stroke-width="1.15"/>
<line x1="56.7" y1="395.9777777777778" x2="60.2" y2="395.9777777777778" stroke="#000" stroke-width="1.15"/>
<rect x="55.10" y="400.32" width="6.70" height="1.28" fill="#000"/>
<path d="M55.7 401.60 L55.7 400.92 L61.2 400.92 L61.2 401.60" fill="none" stroke="#000" stroke-width="1.2"/>
<line x1="72.71" y1="473.356" x2="72.71" y2="475.0615" stroke="#000" stroke-width="1.15"/>
<line x1="70.96" y1="473.356" x2="74.46" y2="473.356" stroke="#000" stroke-width="1.15"/>
<rect x="69.96" y="475.66" width="5.50" height="11.34" fill="#999999" stroke="#000" stroke-width="1.2"/>
<line x1="81.30999999999999" y1="477.146" x2="81.30999999999999" y2="478.0935" stroke="#000" stroke-width="1.15"/>
<line x1="79.55999999999999" y1="477.146" x2="83.05999999999999" y2="477.146" stroke="#000" stroke-width="1.15"/>
<rect x="78.56" y="478.69" width="5.50" height="8.31" fill="#000" stroke="#000" stroke-width="1.2"/>
<line x1="95.57" y1="461.986" x2="95.57" y2="468.429" stroke="#000" stroke-width="1.15"/>
<line x1="93.82" y1="461.986" x2="97.32" y2="461.986" stroke="#000" stroke-width="1.15"/>
<rect x="92.82" y="469.03" width="5.50" height="17.97" fill="#999999" stroke="#000" stroke-width="1.2"/>
<line x1="104.16999999999999" y1="465.5865" x2="104.16999999999999" y2="471.082" stroke="#000" stroke-width="1.15"/>
<line x1="102.41999999999999" y1="465.5865" x2="105.91999999999999" y2="465.5865" stroke="#000" stroke-width="1.15"/>
<rect x="101.42" y="471.68" width="5.50" height="15.32" fill="#000" stroke="#000" stroke-width="1.2"/>
<line x1="118.42999999999999" y1="443.794" x2="118.42999999999999" y2="452.132" stroke="#000" stroke-width="1.15"/>
<line x1="116.67999999999999" y1="443.794" x2="120.17999999999999" y2="443.794" stroke="#000" stroke-width="1.15"/>
<rect x="115.68" y="452.73" width="5.50" height="34.27" fill="#999999" stroke="#000" stroke-width="1.2"/>
<line x1="127.02999999999999" y1="458.575" x2="127.02999999999999" y2="461.986" stroke="#000" stroke-width="1.15"/>
<line x1="125.27999999999999" y1="458.575" x2="128.77999999999997" y2="458.575" stroke="#000" stroke-width="1.15"/>
<rect x="124.28" y="462.59" width="5.50" height="24.41" fill="#000" stroke="#000" stroke-width="1.2"/>
<line x1="141.29" y1="440.5725" x2="141.29" y2="447.205" stroke="#000" stroke-width="1.15"/>
<line x1="139.54" y1="440.5725" x2="143.04" y2="440.5725" stroke="#000" stroke-width="1.15"/>
<rect x="138.54" y="447.81" width="5.50" height="39.20" fill="#999999" stroke="#000" stroke-width="1.2"/>
<line x1="149.89" y1="450.616" x2="149.89" y2="456.68" stroke="#000" stroke-width="1.15"/>
<line x1="148.14" y1="450.616" x2="151.64" y2="450.616" stroke="#000" stroke-width="1.15"/>
<rect x="147.14" y="457.28" width="5.50" height="29.72" fill="#000" stroke="#000" stroke-width="1.2"/>
<line x1="164.15" y1="467.1025" x2="164.15" y2="468.9975" stroke="#000" stroke-width="1.15"/>
<line x1="162.4" y1="467.1025" x2="165.9" y2="467.1025" stroke="#000" stroke-width="1.15"/>
<rect x="161.40" y="469.60" width="5.50" height="17.40" fill="#999999" stroke="#000" stroke-width="1.2"/>
<line x1="172.75" y1="472.0295" x2="172.75" y2="474.114" stroke="#000" stroke-width="1.15"/>
<line x1="171.0" y1="472.0295" x2="174.5" y2="472.0295" stroke="#000" stroke-width="1.15"/>
<rect x="170.00" y="474.71" width="5.50" height="12.29" fill="#000" stroke="#000" stroke-width="1.2"/>
<line x1="187.01" y1="423.707" x2="187.01" y2="432.6135" stroke="#000" stroke-width="1.15"/>
<line x1="185.26" y1="423.707" x2="188.76" y2="423.707" stroke="#000" stroke-width="1.15"/>
<rect x="184.26" y="433.21" width="5.50" height="53.79" fill="#999999" stroke="#000" stroke-width="1.2"/>
<line x1="195.60999999999999" y1="453.4585" x2="195.60999999999999" y2="456.8695" stroke="#000" stroke-width="1.15"/>
<line x1="193.85999999999999" y1="453.4585" x2="197.35999999999999" y2="453.4585" stroke="#000" stroke-width="1.15"/>
<rect x="192.86" y="457.47" width="5.50" height="29.53" fill="#000" stroke="#000" stroke-width="1.2"/>
<rect x="206.52" y="411.20" width="6.70" height="75.80" fill="#999999"/>
<line x1="207.12" y1="411.2" x2="207.12" y2="487.0" stroke="#000" stroke-width="1.2"/>
<line x1="212.62" y1="411.2" x2="212.62" y2="487.0" stroke="#000" stroke-width="1.2"/>
<rect x="206.52" y="378.30" width="6.70" height="23.30" fill="#999999"/>
<line x1="207.12" y1="378.3" x2="207.12" y2="401.6" stroke="#000" stroke-width="1.2"/>
<line x1="212.62" y1="378.3" x2="212.62" y2="401.6" stroke="#000" stroke-width="1.2"/>
<line x1="209.86999999999998" y1="355.70000000000005" x2="209.86999999999998" y2="363.20000000000005" stroke="#000" stroke-width="1.15"/>
<line x1="208.11999999999998" y1="355.70000000000005" x2="211.61999999999998" y2="355.70000000000005" stroke="#000" stroke-width="1.15"/>
<rect x="206.52" y="363.20" width="6.70" height="5.40" fill="#999999"/>
<path d="M207.12 368.60 L207.12 363.80 L212.62 363.80 L212.62 368.60" fill="none" stroke="#000" stroke-width="1.2"/>
<rect x="215.12" y="411.20" width="6.70" height="75.80" fill="#000"/>
<line x1="215.72" y1="411.2" x2="215.72" y2="487.0" stroke="#000" stroke-width="1.2"/>
<line x1="221.22" y1="411.2" x2="221.22" y2="487.0" stroke="#000" stroke-width="1.2"/>
<rect x="215.12" y="378.30" width="6.70" height="23.30" fill="#000"/>
<line x1="215.72" y1="378.3" x2="215.72" y2="401.6" stroke="#000" stroke-width="1.2"/>
<line x1="221.22" y1="378.3" x2="221.22" y2="401.6" stroke="#000" stroke-width="1.2"/>
<line x1="218.46999999999997" y1="358.70000000000005" x2="218.46999999999997" y2="366.20000000000005" stroke="#000" stroke-width="1.15"/>
<line x1="216.71999999999997" y1="358.70000000000005" x2="220.21999999999997" y2="358.70000000000005" stroke="#000" stroke-width="1.15"/>
<rect x="215.12" y="366.20" width="6.70" height="2.40" fill="#000"/>
<path d="M215.72 368.60 L215.72 366.80 L221.22 366.80 L221.22 368.60" fill="none" stroke="#000" stroke-width="1.2"/>
<rect x="229.38" y="411.20" width="6.70" height="75.80" fill="#999999"/>
<line x1="229.98" y1="411.2" x2="229.98" y2="487.0" stroke="#000" stroke-width="1.2"/>
<line x1="235.48" y1="411.2" x2="235.48" y2="487.0" stroke="#000" stroke-width="1.2"/>
<line x1="232.73" y1="382.43333333333334" x2="232.73" y2="384.98888888888894" stroke="#000" stroke-width="1.15"/>
<line x1="230.98" y1="382.43333333333334" x2="234.48" y2="382.43333333333334" stroke="#000" stroke-width="1.15"/>
<rect x="229.38" y="384.99" width="6.70" height="16.61" fill="#999999"/>
<path d="M229.98 401.60 L229.98 385.59 L235.48 385.59 L235.48 401.60" fill="none" stroke="#000" stroke-width="1.2"/>
<rect x="237.98" y="411.20" width="6.70" height="75.80" fill="#000"/>
<line x1="238.58" y1="411.2" x2="238.58" y2="487.0" stroke="#000" stroke-width="1.2"/>
<line x1="244.08" y1="411.2" x2="244.08" y2="487.0" stroke="#000" stroke-width="1.2"/>
<line x1="241.32999999999998" y1="384.73333333333335" x2="241.32999999999998" y2="385.5" stroke="#000" stroke-width="1.15"/>
<line x1="239.57999999999998" y1="384.73333333333335" x2="243.07999999999998" y2="384.73333333333335" stroke="#000" stroke-width="1.15"/>
<rect x="237.98" y="385.50" width="6.70" height="16.10" fill="#000"/>
<path d="M238.58 401.60 L238.58 386.10 L244.08 386.10 L244.08 401.60" fill="none" stroke="#000" stroke-width="1.2"/>
<line x1="255.59" y1="451.753" x2="255.59" y2="455.164" stroke="#000" stroke-width="1.15"/>
<line x1="253.84" y1="451.753" x2="257.34000000000003" y2="451.753" stroke="#000" stroke-width="1.15"/>
<rect x="252.84" y="455.76" width="5.50" height="31.24" fill="#999999" stroke="#000" stroke-width="1.2"/>
<line x1="264.19000000000005" y1="447.7735" x2="264.19000000000005" y2="450.4265" stroke="#000" stroke-width="1.15"/>
<line x1="262.44000000000005" y1="447.7735" x2="265.94000000000005" y2="447.7735" stroke="#000" stroke-width="1.15"/>
<rect x="261.44" y="451.03" width="5.50" height="35.97" fill="#000" stroke="#000" stroke-width="1.2"/>
<line x1="54.1" y1="487.0" x2="54.1" y2="489.4" stroke="#000" stroke-width="1.0"/>
<text x="55.5" y="495.4" font-size="7.0" font-weight="bold" stroke="#000" stroke-width="0.22" text-anchor="end" fill="#000" transform="rotate(-45 55.5 495.4)">CD40</text>
<line x1="76.96" y1="487.0" x2="76.96" y2="489.4" stroke="#000" stroke-width="1.0"/>
<text x="78.36" y="495.4" font-size="7.0" font-weight="bold" stroke="#000" stroke-width="0.22" text-anchor="end" fill="#000" transform="rotate(-45 78.36 495.4)">CD80</text>
<line x1="99.82" y1="487.0" x2="99.82" y2="489.4" stroke="#000" stroke-width="1.0"/>
<text x="101.22" y="495.4" font-size="7.0" font-weight="bold" stroke="#000" stroke-width="0.22" text-anchor="end" fill="#000" transform="rotate(-45 101.22 495.4)">CD83</text>
<line x1="122.67999999999999" y1="487.0" x2="122.67999999999999" y2="489.4" stroke="#000" stroke-width="1.0"/>
<text x="124.08" y="495.4" font-size="7.0" font-weight="bold" stroke="#000" stroke-width="0.22" text-anchor="end" fill="#000" transform="rotate(-45 124.08 495.4)">CD86</text>
<line x1="145.54" y1="487.0" x2="145.54" y2="489.4" stroke="#000" stroke-width="1.0"/>
<text x="146.94" y="495.4" font-size="7.0" font-weight="bold" stroke="#000" stroke-width="0.22" text-anchor="end" fill="#000" transform="rotate(-45 146.94 495.4)">PD-L1</text>
<line x1="168.4" y1="487.0" x2="168.4" y2="489.4" stroke="#000" stroke-width="1.0"/>
<text x="169.8" y="495.4" font-size="7.0" font-weight="bold" stroke="#000" stroke-width="0.22" text-anchor="end" fill="#000" transform="rotate(-45 169.8 495.4)">TRAIL</text>
<line x1="191.26" y1="487.0" x2="191.26" y2="489.4" stroke="#000" stroke-width="1.0"/>
<text x="192.66" y="495.4" font-size="7.0" font-weight="bold" stroke="#000" stroke-width="0.22" text-anchor="end" fill="#000" transform="rotate(-45 192.66 495.4)">Granzyme B</text>
<line x1="214.11999999999998" y1="487.0" x2="214.11999999999998" y2="489.4" stroke="#000" stroke-width="1.0"/>
<text x="215.51999999999998" y="495.4" font-size="7.0" font-weight="bold" stroke="#000" stroke-width="0.22" text-anchor="end" fill="#000" transform="rotate(-45 215.51999999999998 495.4)">CD123</text>
<line x1="236.98" y1="487.0" x2="236.98" y2="489.4" stroke="#000" stroke-width="1.0"/>
<text x="238.38" y="495.4" font-size="7.0" font-weight="bold" stroke="#000" stroke-width="0.22" text-anchor="end" fill="#000" transform="rotate(-45 238.38 495.4)">BDCA-2</text>
<line x1="259.84000000000003" y1="487.0" x2="259.84000000000003" y2="489.4" stroke="#000" stroke-width="1.0"/>
<text x="261.24" y="495.4" font-size="7.0" font-weight="bold" stroke="#000" stroke-width="0.22" text-anchor="end" fill="#000" transform="rotate(-45 261.24 495.4)">BDCA-4</text>
<line x1="141.3" y1="434.4" x2="151.7" y2="434.4" stroke="#000" stroke-width="1.5"/>
<text x="146.5" y="431.75" font-size="7.8" font-weight="bold" stroke="#000" stroke-width="0.22" text-anchor="middle" fill="#000">**</text>
<line x1="164.20000000000002" y1="455.6" x2="174.6" y2="455.6" stroke="#000" stroke-width="1.5"/>
<text x="169.4" y="455.35" font-size="7.8" font-weight="bold" stroke="#000" stroke-width="0.22" text-anchor="middle" fill="#000">***</text>
<line x1="186.8" y1="419.4" x2="197.2" y2="419.4" stroke="#000" stroke-width="1.5"/>
<text x="192.0" y="416.75" font-size="7.8" font-weight="bold" stroke="#000" stroke-width="0.22" text-anchor="middle" fill="#000">*</text>
<text x="288.7" y="12.0" font-size="14.6" font-weight="bold" stroke="#000" stroke-width="0.22" text-anchor="start" fill="#000">D</text>
<line x1="343.2" y1="21.4" x2="343.2" y2="137.65" stroke="#000" stroke-width="1.3"/>
<line x1="342.55" y1="137.0" x2="517.5" y2="137.0" stroke="#000" stroke-width="1.3"/>
<line x1="339.4" y1="137.0" x2="343.2" y2="137.0" stroke="#000" stroke-width="1.2"/>
<text x="338.8" y="139.8" font-size="7.8" font-weight="bold" stroke="#000" stroke-width="0.22" text-anchor="end" fill="#000">0</text>
<line x1="339.4" y1="98.3" x2="343.2" y2="98.3" stroke="#000" stroke-width="1.2"/>
<text x="338.8" y="101.1" font-size="7.8" font-weight="bold" stroke="#000" stroke-width="0.22" text-anchor="end" fill="#000">5000</text>
<line x1="339.4" y1="60.0" x2="343.2" y2="60.0" stroke="#000" stroke-width="1.2"/>
<text x="338.8" y="62.8" font-size="7.8" font-weight="bold" stroke="#000" stroke-width="0.22" text-anchor="end" fill="#000">10000</text>
<line x1="339.4" y1="22.0" x2="343.2" y2="22.0" stroke="#000" stroke-width="1.2"/>
<text x="338.8" y="24.8" font-size="7.8" font-weight="bold" stroke="#000" stroke-width="0.22" text-anchor="end" fill="#000">15000</text>
<text x="311" y="134.6" font-size="9.4" font-weight="bold" stroke="#000" stroke-width="0.22" text-anchor="start" fill="#000" transform="rotate(-90 311 134.6)">T cell Proliferation - CPM</text>
<line x1="361.3" y1="137.0" x2="361.3" y2="141.0" stroke="#000" stroke-width="1.2"/>
<text x="362.2" y="148.5" font-size="8.2" font-weight="bold" stroke="#000" stroke-width="0.22" text-anchor="end" fill="#000" transform="rotate(-45 362.2 148.5)">0</text>
<line x1="395.9" y1="137.0" x2="395.9" y2="141.0" stroke="#000" stroke-width="1.2"/>
<text x="396.79999999999995" y="148.5" font-size="8.2" font-weight="bold" stroke="#000" stroke-width="0.22" text-anchor="end" fill="#000" transform="rotate(-45 396.79999999999995 148.5)">1:200</text>
<line x1="430.6" y1="137.0" x2="430.6" y2="141.0" stroke="#000" stroke-width="1.2"/>
<text x="431.5" y="148.5" font-size="8.2" font-weight="bold" stroke="#000" stroke-width="0.22" text-anchor="end" fill="#000" transform="rotate(-45 431.5 148.5)">1:100</text>
<line x1="465.3" y1="137.0" x2="465.3" y2="141.0" stroke="#000" stroke-width="1.2"/>
<text x="466.2" y="148.5" font-size="8.2" font-weight="bold" stroke="#000" stroke-width="0.22" text-anchor="end" fill="#000" transform="rotate(-45 466.2 148.5)">1:50</text>
<line x1="500.0" y1="137.0" x2="500.0" y2="141.0" stroke="#000" stroke-width="1.2"/>
<text x="500.9" y="148.5" font-size="8.2" font-weight="bold" stroke="#000" stroke-width="0.22" text-anchor="end" fill="#000" transform="rotate(-45 500.9 148.5)">1:20</text>
<text x="409.3" y="175.4" font-size="9.5" font-weight="bold" stroke="#000" stroke-width="0.22" text-anchor="start" fill="#000">pDC:PBL</text>
<polyline points="361.3,133.3 395.9,130.0 430.6,113.3 465.3,97.6 500.0,66.8" fill="none" stroke="#000" stroke-width="1.3"/>
<polyline points="361.3,133.6 395.9,131.8 430.6,125.8 465.3,120.5 500.0,84.5" fill="none" stroke="#000" stroke-width="1.3"/>
<line x1="430.6" y1="111.6" x2="430.6" y2="115" stroke="#000" stroke-width="1.4"/>
<line x1="428.0" y1="111.6" x2="433.20000000000005" y2="111.6" stroke="#000" stroke-width="1.4"/>
<line x1="428.0" y1="115" x2="433.20000000000005" y2="115" stroke="#000" stroke-width="1.4"/>
<line x1="465.3" y1="93.8" x2="465.3" y2="101.8" stroke="#000" stroke-width="1.4"/>
<line x1="462.7" y1="93.8" x2="467.90000000000003" y2="93.8" stroke="#000" stroke-width="1.4"/>
<line x1="462.7" y1="101.8" x2="467.90000000000003" y2="101.8" stroke="#000" stroke-width="1.4"/>
<line x1="500.0" y1="60.5" x2="500.0" y2="73" stroke="#000" stroke-width="1.4"/>
<line x1="497.4" y1="60.5" x2="502.6" y2="60.5" stroke="#000" stroke-width="1.4"/>
<line x1="497.4" y1="73" x2="502.6" y2="73" stroke="#000" stroke-width="1.4"/>
<line x1="500.0" y1="78.8" x2="500.0" y2="90" stroke="#000" stroke-width="1.4"/>
<line x1="497.4" y1="78.8" x2="502.6" y2="78.8" stroke="#000" stroke-width="1.4"/>
<line x1="497.4" y1="90" x2="502.6" y2="90" stroke="#000" stroke-width="1.4"/>
<rect x="359.2" y="131.20000000000002" width="4.2" height="4.2" fill="#000"/>
<rect x="393.79999999999995" y="127.9" width="4.2" height="4.2" fill="#000"/>
<rect x="428.5" y="111.2" width="4.2" height="4.2" fill="#000"/>
<rect x="463.2" y="95.5" width="4.2" height="4.2" fill="#000"/>
<rect x="497.9" y="64.7" width="4.2" height="4.2" fill="#000"/>
<circle cx="361.3" cy="133.6" r="2.1" fill="#000"/>
<circle cx="395.9" cy="131.8" r="2.1" fill="#000"/>
<circle cx="430.6" cy="125.8" r="2.1" fill="#000"/>
<circle cx="465.3" cy="120.5" r="2.1" fill="#000"/>
<circle cx="500.0" cy="84.5" r="2.1" fill="#000"/>
<text x="465.3" y="80.9" font-size="10.2" font-weight="bold" stroke="#000" stroke-width="0.22" text-anchor="middle" fill="#000">***</text>
<text x="500" y="51.3" font-size="10.2" font-weight="bold" stroke="#000" stroke-width="0.22" text-anchor="middle" fill="#000">**</text>
<line x1="357.5" y1="23" x2="370" y2="23" stroke="#000" stroke-width="1.1"/>
<rect x="361.7" y="20.9" width="4.2" height="4.2" fill="#000"/>
<line x1="357.5" y1="36.4" x2="370" y2="36.4" stroke="#000" stroke-width="1.1"/>
<circle cx="363.8" cy="36.4" r="2.2" fill="#000"/>
<text x="377" y="27.2" font-size="9.6">CD56<tspan dy="-3.7" font-size="7">high</tspan></text>
<text x="377" y="40.3" font-size="9.6">CD56<tspan dy="-3.7" font-size="7">low</tspan></text>
<circle cx="281.2" cy="129.2" r="0.5" fill="#444"/>
</svg>
</body></html>
